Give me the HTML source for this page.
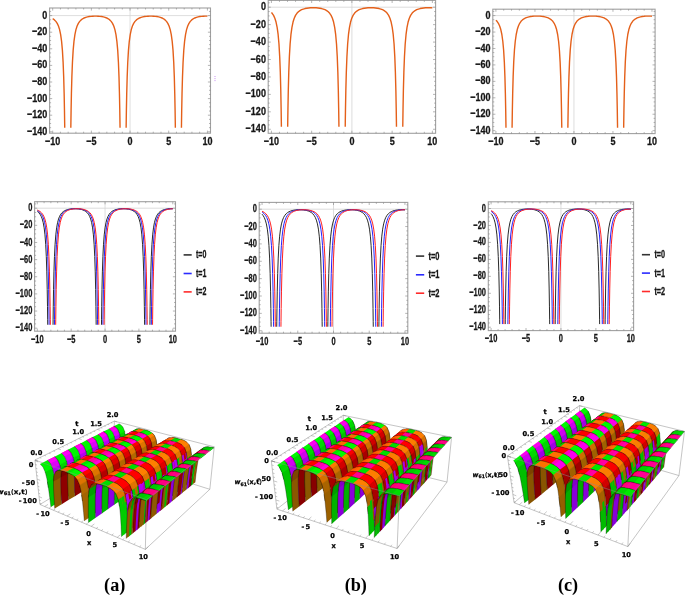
<!DOCTYPE html>
<html><head><meta charset="utf-8"><title>figure</title>
<style>html,body{margin:0;padding:0;background:#fff}svg{display:block}</style></head>
<body><svg width="685" height="595" viewBox="0 0 685 595" font-family="'Liberation Sans',sans-serif" font-weight="bold">
<rect width="685" height="595" fill="#fff"/>
<style>.m{fill:none;stroke:#000;stroke-opacity:.6;stroke-width:.5}</style>
<path d="M114.87,459.56L209.83,489.3 M114.87,459.56L39.93,504.47 M114.87,459.56L114.28,421.11 M39.93,504.47L145.34,549.38 M145.34,549.38L209.83,489.3 M209.83,489.3L214.23,446.8" fill="none" stroke="#8a8a8a" stroke-width="0.5"/>
<g stroke-linejoin="round">
<path d="M113.8,426.3l2,1.1 2,2.3 1.7,4.2 .1,.5 5.1-2.6-.1-.6-1.7-4.1-2-2.2-2-1.2Z" fill="#00f600"/>
<path d="M118.9,423.7l2,1.2 2,2.2 1.7,4.1 .1,.6" class="m"/>
<path d="M119.5,433.9l.1,.5 .9,5.3 .3,2.5 .4,5.2 5-2.7-.4-5.2-.3-2.5-.8-5.2-.1-.6Z" fill="#00d500"/>
<path d="M124.6,431.2l.1,.6 .8,5.2 .3,2.5 .4,5.2" class="m"/>
<path d="M120.8,442.2l.4,5.2 .4,8.2 .1,1.3 .3,7.3 4.8-3-.2-7.2 0-1.2-.4-8.1-.4-5.2Z" fill="#00c800"/>
<path d="M125.8,439.5l.4,5.2 .4,8.1 0,1.2 .2,7.2" class="m"/>
<path d="M125.5,465.3l.2-7.2 0-1.2 .4-8.1 .4-5 .2-2.4 .9-4.8 5-2.7-.9,4.8-.3,2.3-.4,5-.4,8 0,1.2-.3,7.1Z" fill="#8e5a00"/>
<path d="M130.3,462.3l.3-7.1 0-1.2 .4-8 .4-5 .3-2.3 .9-4.8" class="m"/>
<path d="M126.7,441.4l.9-4.8 .1-.5 1.7-3.3 5-2.7-1.7,3.3-.1,.5-.9,4.8Z" fill="#7e4500"/>
<path d="M131.7,438.7l.9-4.8 .1-.5 1.7-3.3" class="m"/>
<path d="M129.4,432.8l2.1-1.2 5-2.6-2.1,1.1Z" fill="#ff3c00"/>
<path d="M134.4,430.1l2.1-1.1" class="m"/>
<path d="M129.4,432.8l2.1-1.2 2.5-.2 5-2.6-2.5,.2-2.1,1.1Z" fill="#00a900"/>
<path d="M134.4,430.1l2.1-1.1 2.5-.2" class="m"/>
<path d="M131.5,431.6l2.5-.2 2.6,.4 5-2.7-2.6-.3-2.5,.2Z" fill="#00c100"/>
<path d="M136.5,429l2.5-.2 2.6,.3" class="m"/>
<path d="M134,431.4l2.6,.4 2.8,.6 2.8,.8 4.9-2.7-2.8-.8-2.7-.6-2.6-.3Z" fill="#ff6a00"/>
<path d="M139,428.8l2.6,.3 2.7,.6 2.8,.8" class="m"/>
<path d="M139.4,432.4l2.8,.8 2.7,1.1 4.9-2.7-2.7-1.1-2.8-.8Z" fill="#00e300"/>
<path d="M144.3,429.7l2.8,.8 2.7,1.1" class="m"/>
<path d="M142.2,433.2l2.7,1.1 2.5,1.5 2.2,2.4 4.8-2.8-2.1-2.3-2.5-1.5-2.7-1.1Z" fill="#00fa00"/>
<path d="M147.1,430.5l2.7,1.1 2.5,1.5 2.1,2.3" class="m"/>
<path d="M147.4,435.8l2.2,2.4 1.7,4.3 4.8-2.8-1.7-4.3-2.1-2.3Z" fill="#ff7d00"/>
<path d="M152.3,433.1l2.1,2.3 1.7,4.3" class="m"/>
<path d="M149.6,438.2l1.7,4.3 .1,.6 4.8-2.9-.1-.5-1.7-4.3Z" fill="#de7400"/>
<path d="M154.4,435.4l1.7,4.3 .1,.5" class="m"/>
<path d="M151.3,442.5l.1,.6 .8,5.5 4.8-3-.8-5.4-.1-.5Z" fill="#c86f00"/>
<path d="M156.1,439.7l.1,.5 .8,5.4" class="m"/>
<path d="M151.4,443.1l.8,5.5 .2,2.6 .2,5.4 4.8-3-.2-5.4-.2-2.6-.8-5.4Z" fill="#b26900"/>
<path d="M156.2,440.2l.8,5.4 .2,2.6 .2,5.4" class="m"/>
<path d="M152.4,451.2l.2,5.4 .2,8.5 0,1.3 0,7.5 4.6-3.2 .1-7.4 0-1.3-.1-8.4-.2-5.4Z" fill="#a46400"/>
<path d="M157.2,448.2l.2,5.4 .1,8.4 0,1.3-.1,7.4" class="m"/>
<path d="M156.6,475.1l.5-7.4 .1-1.2 .7-8.3 .7-5.3 .3-2.4 4.8-3-.4,2.4-.7,5.2-.7,8.2-.1,1.3-.5,7.3Z" fill="#00b800"/>
<path d="M161.3,471.9l.5-7.3 .1-1.3 .7-8.2 .7-5.2 .4-2.4" class="m"/>
<path d="M158.6,452.9l.3-2.4 1.2-5 .2-.5 4.7-2.9-.2,.5-1.1,4.9-.4,2.4Z" fill="#009f00"/>
<path d="M163.3,449.9l.4-2.4 1.1-4.9 .2-.5" class="m"/>
<path d="M160.1,445.5l.2-.5 2-3.4 4.8-2.9-2.1,3.4-.2,.5Z" fill="#7a3e00"/>
<path d="M164.8,442.6l.2-.5 2.1-3.4" class="m"/>
<path d="M162.3,441.6l2.4-1.2 4.7-2.9-2.3,1.2Z" fill="#ff3c00"/>
<path d="M167.1,438.7l2.3-1.2" class="m"/>
<path d="M162.3,441.6l2.4-1.2 2.7-.1 2.9,.4 4.7-3-2.9-.3-2.7,.1-2.3,1.2Z" fill="#ff5b00"/>
<path d="M167.1,438.7l2.3-1.2 2.7-.1 2.9,.3" class="m"/>
<path d="M167.4,440.3l2.9,.4 3.1,.7 4.6-3-3-.7-2.9-.3Z" fill="#ff6700"/>
<path d="M172.1,437.4l2.9,.3 3,.7" class="m"/>
<path d="M170.3,440.7l3.1,.7 3,.9 3,1.1 4.6-3-2.9-1.1-3.1-.9-3-.7Z" fill="#0d0"/>
<path d="M175,437.7l3,.7 3.1,.9 2.9,1.1" class="m"/>
<path d="M176.4,442.3l3,1.1 2.7,1.6 4.6-3-2.7-1.6-2.9-1.1Z" fill="#ff7a00"/>
<path d="M181.1,439.3l2.9,1.1 2.7,1.6" class="m"/>
<path d="M182.5,441.4l2.7,1.6 2.3,2.5 1.7,4.5 1.5-1.1-1.7-4.5-2.3-2.4-2.7-1.6Z" fill="#ff8000"/>
<path d="M184,440.4l2.7,1.6 2.3,2.4 1.7,4.5" class="m"/>
<path d="M187.5,445.5l1.7,4.5 .1,.6 1.5-1.1-.1-.6-1.7-4.5Z" fill="#de7400"/>
<path d="M189,444.4l1.7,4.5 .1,.6" class="m"/>
<path d="M189.2,450l.1,.6 .6,5.6 1.5-1.1-.6-5.6-.1-.6Z" fill="#c86f00"/>
<path d="M190.7,448.9l.1,.6 .6,5.6" class="m"/>
<path d="M189.3,450.6l.6,5.6 .1,2.7 0,5.6 1.5-1.1 0-5.6-.1-2.7-.6-5.6Z" fill="#b26900"/>
<path d="M190.8,449.5l.6,5.6 .1,2.7 0,5.6" class="m"/>
<path d="M190,458.9l0,5.6-.2,8.7 0,1.3-.4,7.7 1.5-1.1 .3-7.7 .1-1.3 .2-8.7 0-5.6Z" fill="#00c800"/>
<path d="M191.5,457.8l0,5.6-.2,8.7-.1,1.3-.3,7.7" class="m"/>
<path d="M180.9,442.4l2.7,1.6 2.3,2.5 1.8,4.5 2-1.4-1.7-4.5-2.3-2.5-2.7-1.5Z" fill="#ff8000"/>
<path d="M185.9,446.5l1.8,4.5 .1,.6 2-1.4-.1-.6-1.7-4.5Z" fill="#de7400"/>
<path d="M187.7,451l.1,.6 .6,5.7 2-1.5-.6-5.6-.1-.6Z" fill="#c86f00"/>
<path d="M187.8,451.6l.6,5.7 .1,2.7 2-1.5-.1-2.7-.6-5.6Z" fill="#b76a00"/>
<path d="M188.4,457.3l.1,2.7 .1,5.6-.2,8.7-.1,1.4-.3,7.7 1.9-1.6 .4-7.7 0-1.3 .3-8.7-.1-5.6-.1-2.7Z" fill="#00ca00"/>
<path d="M179.4,443.4l2.7,1.6 2.3,2.5 1.7,4.6 2.1-1.4-1.7-4.6-2.3-2.4-2.7-1.6Z" fill="#ff8000"/>
<path d="M184.4,447.5l1.7,4.6 .2,.6 2-1.5-.1-.5-1.7-4.6Z" fill="#de7400"/>
<path d="M186.1,452.1l.2,.6 .6,5.6 2-1.4-.6-5.7-.1-.5Z" fill="#c86f00"/>
<path d="M186.3,452.7l.6,5.6 .1,2.8 2-1.5-.1-2.7-.6-5.7Z" fill="#b76a00"/>
<path d="M186.9,458.3l.1,2.8 .1,5.6-.2,8.8-.1,1.3-.3,7.8 2-1.6 .3-7.7 .1-1.4 .2-8.7-.1-5.6-.1-2.7Z" fill="#00ca00"/>
<path d="M198.4,451.3l2.7-1.2 4.5-3.2-2.7,1.2Z" fill="#070"/>
<path d="M202.9,448.1l2.7-1.2" class="m"/>
<path d="M198.4,451.3l2.7-1.2 3.1-.1 4.3-3.2-2.9,.1-2.7,1.2Z" fill="#00a900"/>
<path d="M202.9,448.1l2.7-1.2 2.9-.1" class="m"/>
<path d="M201.1,450.1l3.1-.1 3.2,.5 2.5,.5 4.2-3.2-2.4-.6-3.2-.4-2.9,.1Z" fill="#00c800"/>
<path d="M205.6,446.9l2.9-.1 3.2,.4 2.4,.6" class="m"/>
<path d="M207.4,450.5l2.5,.5 4.2-3.2-2.4-.6Z" fill="#00d800"/>
<path d="M211.7,447.2l2.4,.6" class="m"/>
<path d="M193.6,483.5l.9-7.5 .2-1.4 1.1-8.5 1-5.3 .5-2.6 1.5-5.1 1.5-1-1.5,5.1-.6,2.5-.9,5.3-1.2,8.5-.2,1.3-.8,7.6Z" fill="#8e5a00"/>
<path d="M195.1,482.4l.8-7.6 .2-1.3 1.2-8.5 .9-5.3 .6-2.5 1.5-5.1" class="m"/>
<path d="M197.3,458.2l1.5-5.1 .2-.5 2.4-3.5 1.5-1-2.4,3.5-.2,.5-1.5,5.1Z" fill="#7e4500"/>
<path d="M198.8,457.2l1.5-5.1 .2-.5 2.4-3.5" class="m"/>
<path d="M192.2,484.7l.9-7.6 .1-1.3 1.2-8.5 .9-5.4 .5-2.6 1.5-5.1 2-1.4-1.5,5.1-.5,2.5-.9,5.4-1.2,8.4-.2,1.4-.9,7.5Z" fill="#8e5a00"/>
<path d="M195.8,459.3l1.5-5.1 .2-.5 2.4-3.5 2-1.4-2.4,3.5-.2,.5-1.5,5.1Z" fill="#7e4500"/>
<path d="M190.7,485.9l.9-7.6 .1-1.3 1.2-8.6 .9-5.4 .5-2.6 2-1.4-.5,2.5-.9,5.4-1.2,8.5-.1,1.3-.9,7.6Z" fill="#00b800"/>
<path d="M193.8,463l.5-2.6 1.5-5.1 .2-.5 2-1.5-.2,.5-1.5,5.2-.5,2.5Z" fill="#009f00"/>
<path d="M195.8,455.3l.2-.5 2.4-3.5 2-1.5-2.4,3.5-.2,.5Z" fill="#007c00"/>
<path d="M108.7,428.9l1.8,1.1 5.3-2.6-2-1.1Z" fill="#ff00b2"/>
<path d="M113.8,426.3l2,1.1" class="m"/>
<path d="M108.7,428.9l1.8,1.1 2.1,2.3 5.2-2.6-2-2.3-2-1.1Z" fill="#f0d"/>
<path d="M113.8,426.3l2,1.1 2,2.3" class="m"/>
<path d="M110.5,430l2.1,2.3 1.7,4.2 5.2-2.6-1.7-4.2-2-2.3Z" fill="#ff00f9"/>
<path d="M115.8,427.4l2,2.3 1.7,4.2" class="m"/>
<path d="M112.6,432.3l1.7,4.2 .1,.6 5.2-2.7-.1-.5-1.7-4.2Z" fill="#de00f8"/>
<path d="M117.8,429.7l1.7,4.2 .1,.5" class="m"/>
<path d="M114.3,436.5l.1,.6 1,5.3 5.1-2.7-.9-5.3-.1-.5Z" fill="#c800f5"/>
<path d="M119.5,433.9l.1,.5 .9,5.3" class="m"/>
<path d="M114.4,437.1l1,5.3 .3,2.6 .4,5.3 5.1-2.9-.4-5.2-.3-2.5-.9-5.3Z" fill="#b200f1"/>
<path d="M119.6,434.4l.9,5.3 .3,2.5 .4,5.2" class="m"/>
<path d="M115.7,445l.4,5.3 .5,8.3 .1,1.2 .3,7.4 5-3-.3-7.3-.1-1.3-.4-8.2-.4-5.2Z" fill="#a400ed"/>
<path d="M120.8,442.2l.4,5.2 .4,8.2 .1,1.3 .3,7.3" class="m"/>
<path d="M120.5,468.3l.1-7.2 .1-1.3 .3-8.1 .3-5.1 .3-2.4 .8-4.9 5.2-2.7-.9,4.8-.2,2.4-.4,5-.4,8.1 0,1.2-.2,7.2Z" fill="#8e0000"/>
<path d="M125.5,465.3l.2-7.2 0-1.2 .4-8.1 .4-5 .2-2.4 .9-4.8" class="m"/>
<path d="M121.6,444.2l.8-4.9 .2-.5 1.7-3.3 5.1-2.7-1.7,3.3-.1,.5-.9,4.8Z" fill="#7e0000"/>
<path d="M126.7,441.4l.9-4.8 .1-.5 1.7-3.3" class="m"/>
<path d="M124.3,435.5l2.1-1.2 5.1-2.7-2.1,1.2Z" fill="#f00"/>
<path d="M129.4,432.8l2.1-1.2" class="m"/>
<path d="M124.3,435.5l2.1-1.2 2.4-.1 5.2-2.8-2.5,.2-2.1,1.2Z" fill="#ff0057"/>
<path d="M129.4,432.8l2.1-1.2 2.5-.2" class="m"/>
<path d="M126.4,434.3l2.4-.1 2.7,.3 5.1-2.7-2.6-.4-2.5,.2Z" fill="#ff006c"/>
<path d="M131.5,431.6l2.5-.2 2.6,.4" class="m"/>
<path d="M128.8,434.2l2.7,.3 2.8,.7 2.8,.8 5.1-2.8-2.8-.8-2.8-.6-2.6-.4Z" fill="#f00"/>
<path d="M134,431.4l2.6,.4 2.8,.6 2.8,.8" class="m"/>
<path d="M134.3,435.2l2.8,.8 2.7,1.1 5.1-2.8-2.7-1.1-2.8-.8Z" fill="#ff0098"/>
<path d="M139.4,432.4l2.8,.8 2.7,1.1" class="m"/>
<path d="M137.1,436l2.7,1.1 2.5,1.6 5.1-2.9-2.5-1.5-2.7-1.1Z" fill="#ff00b2"/>
<path d="M142.2,433.2l2.7,1.1 2.5,1.5" class="m"/>
<path d="M139.8,437.1l2.5,1.6 2.2,2.4 5.1-2.9-2.2-2.4-2.5-1.5Z" fill="#f0d"/>
<path d="M144.9,434.3l2.5,1.5 2.2,2.4" class="m"/>
<path d="M142.3,438.7l2.2,2.4 1.8,4.4 5-3-1.7-4.3-2.2-2.4Z" fill="#f00"/>
<path d="M147.4,435.8l2.2,2.4 1.7,4.3" class="m"/>
<path d="M144.5,441.1l1.8,4.4 .1,.6 5-3-.1-.6-1.7-4.3Z" fill="#de0000"/>
<path d="M149.6,438.2l1.7,4.3 .1,.6" class="m"/>
<path d="M146.3,445.5l.1,.6 .8,5.5 5-3-.8-5.5-.1-.6Z" fill="#c80000"/>
<path d="M151.3,442.5l.1,.6 .8,5.5" class="m"/>
<path d="M146.4,446.1l.8,5.5 .3,2.6 .2,5.5 4.9-3.1-.2-5.4-.2-2.6-.8-5.5Z" fill="#b20000"/>
<path d="M151.4,443.1l.8,5.5 .2,2.6 .2,5.4" class="m"/>
<path d="M147.5,454.2l.2,5.5 .3,8.6 0,1.3 0,7.6 4.8-3.3 0-7.5 0-1.3-.2-8.5-.2-5.4Z" fill="#a40000"/>
<path d="M152.4,451.2l.2,5.4 .2,8.5 0,1.3 0,7.5" class="m"/>
<path d="M151.9,478.5l.4-7.5 .1-1.3 .7-8.4 .6-5.3 .4-2.4 1.1-5.1 4.9-3-1.2,5-.3,2.4-.7,5.3-.7,8.3-.1,1.2-.5,7.4Z" fill="#8e00e3"/>
<path d="M156.6,475.1l.5-7.4 .1-1.2 .7-8.3 .7-5.3 .3-2.4 1.2-5" class="m"/>
<path d="M154.1,453.6l1.1-5.1 .2-.5 4.9-3-.2,.5-1.2,5Z" fill="#8200cd"/>
<path d="M158.9,450.5l1.2-5 .2-.5" class="m"/>
<path d="M155.2,448.5l.2-.5 2-3.4 4.9-3-2,3.4-.2,.5Z" fill="#7a0000"/>
<path d="M160.1,445.5l.2-.5 2-3.4" class="m"/>
<path d="M157.4,444.6l2.4-1.2 2.7-.1 3,.4 3,.7 4.9-3-3.1-.7-2.9-.4-2.7,.1-2.4,1.2Z" fill="#f00"/>
<path d="M162.3,441.6l2.4-1.2 2.7-.1 2.9,.4 3.1,.7" class="m"/>
<path d="M165.5,443.7l3,.7 3.1,.9 3,1.2 4.8-3.1-3-1.1-3-.9-3.1-.7Z" fill="#ff0090"/>
<path d="M170.3,440.7l3.1,.7 3,.9 3,1.1" class="m"/>
<path d="M171.6,445.3l3,1.2 2.8,1.7 4.7-3.2-2.7-1.6-3-1.1Z" fill="#f00"/>
<path d="M176.4,442.3l3,1.1 2.7,1.6" class="m"/>
<path d="M177.8,444.5l2.7,1.6 2.4,2.5 1.7,4.5 1.5-1-1.7-4.6-2.3-2.5-2.7-1.6Z" fill="#f00"/>
<path d="M179.4,443.4l2.7,1.6 2.3,2.5 1.7,4.6" class="m"/>
<path d="M182.9,448.6l1.7,4.5 .1,.6 1.6-1-.2-.6-1.7-4.6Z" fill="#de0000"/>
<path d="M184.4,447.5l1.7,4.6 .2,.6" class="m"/>
<path d="M184.6,453.1l.1,.6 .7,5.7 1.5-1.1-.6-5.6-.2-.6Z" fill="#c80000"/>
<path d="M186.1,452.1l.2,.6 .6,5.6" class="m"/>
<path d="M184.7,453.7l.7,5.7 .1,2.8 0,5.6 1.6-1.1-.1-5.6-.1-2.8-.6-5.6Z" fill="#b200f1"/>
<path d="M186.3,452.7l.6,5.6 .1,2.8 .1,5.6" class="m"/>
<path d="M185.5,462.2l0,5.6-.1,8.8-.1,1.4-.3,7.8 1.5-1.2 .3-7.8 .1-1.3 .2-8.8-.1-5.6Z" fill="#a400ed"/>
<path d="M187,461.1l.1,5.6-.2,8.8-.1,1.3-.3,7.8" class="m"/>
<path d="M176.2,445.5l2.8,1.6 2.3,2.5 1.7,4.6 2.1-1.4-1.7-4.6-2.3-2.5-2.7-1.6Z" fill="#f00"/>
<path d="M181.3,449.6l1.7,4.6 .2,.6 2.1-1.4-.2-.6-1.7-4.6Z" fill="#de0000"/>
<path d="M183,454.2l.2,.6 .6,5.7 2.1-1.4-.6-5.7-.2-.6Z" fill="#c80000"/>
<path d="M183.2,454.8l.6,5.7 .1,2.8 2.1-1.5-.1-2.7-.6-5.7Z" fill="#b70000"/>
<path d="M183.8,460.5l.1,2.8 .1,5.7-.1,8.8-.1,1.4-.3,7.8 2.1-1.6 .3-7.8 0-1.4 .2-8.8-.1-5.6-.1-2.7Z" fill="#a700ee"/>
<path d="M174.6,446.5l2.8,1.7 2.3,2.5 1.8,4.6 2.1-1.4-1.8-4.6-2.3-2.6-2.7-1.6Z" fill="#f00"/>
<path d="M179.7,450.7l1.8,4.6 .1,.6 2.1-1.5-.1-.5-1.8-4.6Z" fill="#de0000"/>
<path d="M181.5,455.3l.1,.6 .7,5.8 2.1-1.5-.7-5.8-.1-.5Z" fill="#c80000"/>
<path d="M181.6,455.9l.7,5.8 .1,2.7 .1,5.7 2.1-1.5-.1-5.7-.1-2.7-.7-5.8Z" fill="#b200f1"/>
<path d="M182.4,464.4l.1,5.7-.2,8.9 0,1.4-.3,7.8 2.1-1.6 .3-7.8 0-1.4 .2-8.8-.1-5.7Z" fill="#a400ed"/>
<path d="M193.9,454.6l2.7-1.2 4.5-3.3-2.7,1.2Z" fill="#ff0042"/>
<path d="M198.4,451.3l2.7-1.2" class="m"/>
<path d="M193.9,454.6l2.7-1.2 3-.1 4.6-3.3-3.1,.1-2.7,1.2Z" fill="#ff0057"/>
<path d="M198.4,451.3l2.7-1.2 3.1-.1" class="m"/>
<path d="M196.6,453.4l3-.1 3.3,.5 4.5-3.3-3.2-.5-3.1,.1Z" fill="#ff006c"/>
<path d="M201.1,450.1l3.1-.1 3.2,.5" class="m"/>
<path d="M199.6,453.3l3.3,.5 2.7,.6 4.3-3.4-2.5-.5-3.2-.5Z" fill="#ff0082"/>
<path d="M204.2,450l3.2,.5 2.5,.5" class="m"/>
<path d="M189.3,487.1l.8-7.6 1.5-1.2-.9,7.6Z" fill="#9500e8"/>
<path d="M190.7,485.9l.9-7.6" class="m"/>
<path d="M189.3,487.1l.8-7.6 .2-1.4 1.1-8.6 .9-5.4 .5-2.5 1.5-5.2 1.5-1.1-1.5,5.1-.5,2.6-.9,5.4-1.2,8.6-.1,1.3-.9,7.6Z" fill="#8d0000"/>
<path d="M190.7,485.9l.9-7.6 .1-1.3 1.2-8.6 .9-5.4 .5-2.6 1.5-5.1" class="m"/>
<path d="M192.8,461.6l1.5-5.2 .2-.5 2.4-3.5 1.5-1.1-2.4,3.5-.2,.5-1.5,5.1Z" fill="#7e0000"/>
<path d="M194.3,460.4l1.5-5.1 .2-.5 2.4-3.5" class="m"/>
<path d="M187.8,488.4l.8-7.7 .2-1.4 1.1-8.6 .9-5.4 .5-2.6 1.5-5.2 2-1.5-1.4,5.2-.6,2.5-.9,5.4-1.1,8.6-.2,1.4-.8,7.6Z" fill="#8e0000"/>
<path d="M191.3,462.7l1.5-5.2 .2-.5 2.4-3.5 2.1-1.5-2.5,3.5-.2,.5-1.4,5.2Z" fill="#7e0000"/>
<path d="M186.3,489.6l.8-7.7 .1-1.4 1.2-8.6 .9-5.5 .5-2.6 1.4-5.2 2.1-1.5-1.5,5.2-.5,2.6-.9,5.4-1.1,8.6-.2,1.3-.8,7.7Z" fill="#8e00e3"/>
<path d="M189.8,463.8l1.4-5.2 .3-.5 2-1.5-.2,.5-1.5,5.2Z" fill="#8200cd"/>
<path d="M191.2,458.6l.3-.5 2.4-3.5 2-1.5-2.4,3.5-.2,.5Z" fill="#7a00b4"/>
<path d="M103.4,431.6l1.7,1.1 2.1,2.3 1.7,4.3 .2,.6 5.3-2.8-.1-.6-1.7-4.2-2.1-2.3-1.8-1.1Z" fill="#00f600"/>
<path d="M108.7,428.9l1.8,1.1 2.1,2.3 1.7,4.2 .1,.6" class="m"/>
<path d="M108.9,439.3l.2,.6 .9,5.4 .4,2.5 .4,5.4 5.3-2.9-.4-5.3-.3-2.6-1-5.3-.1-.6Z" fill="#00d500"/>
<path d="M114.3,436.5l.1,.6 1,5.3 .3,2.6 .4,5.3" class="m"/>
<path d="M110.4,447.8l.4,5.4 .6,8.4 .1,1.3 .3,7.4 5.2-3.1-.3-7.4-.1-1.2-.5-8.3-.4-5.3Z" fill="#00c800"/>
<path d="M115.7,445l.4,5.3 .5,8.3 .1,1.2 .3,7.4" class="m"/>
<path d="M115.4,471.5l.1-7.3 0-1.3 .3-8.2 .3-5.2 .2-2.4 .8-4.9 5.3-2.9-.8,4.9-.3,2.4-.3,5.1-.3,8.1-.1,1.3-.1,7.2Z" fill="#8e5a00"/>
<path d="M120.5,468.3l.1-7.2 .1-1.3 .3-8.1 .3-5.1 .3-2.4 .8-4.9" class="m"/>
<path d="M116.3,447.1l.8-4.9 .2-.5 1.6-3.4 5.4-2.8-1.7,3.3-.2,.5-.8,4.9Z" fill="#7e4500"/>
<path d="M121.6,444.2l.8-4.9 .2-.5 1.7-3.3" class="m"/>
<path d="M118.9,438.3l2.2-1.2 5.3-2.8-2.1,1.2Z" fill="#ff3c00"/>
<path d="M124.3,435.5l2.1-1.2" class="m"/>
<path d="M118.9,438.3l2.2-1.2 2.4-.1 5.3-2.8-2.4,.1-2.1,1.2Z" fill="#00a900"/>
<path d="M124.3,435.5l2.1-1.2 2.4-.1" class="m"/>
<path d="M121.1,437.1l2.4-.1 2.7,.3 5.3-2.8-2.7-.3-2.4,.1Z" fill="#00c100"/>
<path d="M126.4,434.3l2.4-.1 2.7,.3" class="m"/>
<path d="M123.5,437l2.7,.3 2.8,.7 2.9,.9 5.2-2.9-2.8-.8-2.8-.7-2.7-.3Z" fill="#ff6a00"/>
<path d="M128.8,434.2l2.7,.3 2.8,.7 2.8,.8" class="m"/>
<path d="M129,438l2.9,.9 2.7,1.1 5.2-2.9-2.7-1.1-2.8-.8Z" fill="#00e300"/>
<path d="M134.3,435.2l2.8,.8 2.7,1.1" class="m"/>
<path d="M131.9,438.9l2.7,1.1 2.6,1.6 2.2,2.4 5.1-2.9-2.2-2.4-2.5-1.6-2.7-1.1Z" fill="#00fa00"/>
<path d="M137.1,436l2.7,1.1 2.5,1.6 2.2,2.4" class="m"/>
<path d="M137.2,441.6l2.2,2.4 1.8,4.5 5.1-3-1.8-4.4-2.2-2.4Z" fill="#ff7d00"/>
<path d="M142.3,438.7l2.2,2.4 1.8,4.4" class="m"/>
<path d="M139.4,444l1.8,4.5 .1,.6 5.1-3-.1-.6-1.8-4.4Z" fill="#de7400"/>
<path d="M144.5,441.1l1.8,4.4 .1,.6" class="m"/>
<path d="M141.2,448.5l.1,.6 .9,5.6 5-3.1-.8-5.5-.1-.6Z" fill="#c86f00"/>
<path d="M146.3,445.5l.1,.6 .8,5.5" class="m"/>
<path d="M141.3,449.1l.9,5.6 .2,2.7 .3,5.5 5-3.2-.2-5.5-.3-2.6-.8-5.5Z" fill="#b26900"/>
<path d="M146.4,446.1l.8,5.5 .3,2.6 .2,5.5" class="m"/>
<path d="M142.4,457.4l.3,5.5 .3,8.7 0,1.3 .1,7.7 4.9-3.4 0-7.6 0-1.3-.3-8.6-.2-5.5Z" fill="#a46400"/>
<path d="M147.5,454.2l.2,5.5 .3,8.6 0,1.3 0,7.6" class="m"/>
<path d="M147,481.9l.4-7.5 .1-1.4 .6-8.4 .6-5.4 .3-2.5 5.1-3.1-.4,2.4-.6,5.3-.7,8.4-.1,1.3-.4,7.5Z" fill="#00b800"/>
<path d="M151.9,478.5l.4-7.5 .1-1.3 .7-8.4 .6-5.3 .4-2.4" class="m"/>
<path d="M148.7,459.2l.3-2.5 1.1-5.1 .2-.5 5.1-3.1-.2,.5-1.1,5.1-.4,2.4Z" fill="#009f00"/>
<path d="M153.7,456l.4-2.4 1.1-5.1 .2-.5" class="m"/>
<path d="M150.1,451.6l.2-.5 2-3.4 5.1-3.1-2,3.4-.2,.5Z" fill="#7a3e00"/>
<path d="M155.2,448.5l.2-.5 2-3.4" class="m"/>
<path d="M152.3,447.7l2.4-1.2 5.1-3.1-2.4,1.2Z" fill="#ff3c00"/>
<path d="M157.4,444.6l2.4-1.2" class="m"/>
<path d="M152.3,447.7l2.4-1.2 2.8-.1 2.9,.4 5.1-3.1-3-.4-2.7,.1-2.4,1.2Z" fill="#ff5b00"/>
<path d="M157.4,444.6l2.4-1.2 2.7-.1 3,.4" class="m"/>
<path d="M157.5,446.4l2.9,.4 3.1,.7 5-3.1-3-.7-3-.4Z" fill="#ff6700"/>
<path d="M162.5,443.3l3,.4 3,.7" class="m"/>
<path d="M160.4,446.8l3.1,.7 3.2,1 3,1.2 4.9-3.2-3-1.2-3.1-.9-3-.7Z" fill="#0d0"/>
<path d="M165.5,443.7l3,.7 3.1,.9 3,1.2" class="m"/>
<path d="M166.7,448.5l3,1.2 2.8,1.7 4.9-3.2-2.8-1.7-3-1.2Z" fill="#ff7a00"/>
<path d="M171.6,445.3l3,1.2 2.8,1.7" class="m"/>
<path d="M173,447.6l2.7,1.6 2.4,2.6 1.8,4.6 1.6-1.1-1.8-4.6-2.3-2.5-2.8-1.7Z" fill="#ff8000"/>
<path d="M174.6,446.5l2.8,1.7 2.3,2.5 1.8,4.6" class="m"/>
<path d="M178.1,451.8l1.8,4.6 .1,.6 1.6-1.1-.1-.6-1.8-4.6Z" fill="#de7400"/>
<path d="M179.7,450.7l1.8,4.6 .1,.6" class="m"/>
<path d="M179.9,456.4l.1,.6 .7,5.8 1.6-1.1-.7-5.8-.1-.6Z" fill="#c86f00"/>
<path d="M181.5,455.3l.1,.6 .7,5.8" class="m"/>
<path d="M180,457l.7,5.8 .1,2.7 .1,5.8 1.6-1.2-.1-5.7-.1-2.7-.7-5.8Z" fill="#b26900"/>
<path d="M181.6,455.9l.7,5.8 .1,2.7 .1,5.7" class="m"/>
<path d="M180.8,465.5l.1,5.8-.1,8.9-.1,1.4-.2,7.8 1.5-1.2 .3-7.8 0-1.4 .2-8.9-.1-5.7Z" fill="#00c800"/>
<path d="M182.4,464.4l.1,5.7-.2,8.9 0,1.4-.3,7.8" class="m"/>
<path d="M171.3,448.7l2.8,1.6 2.4,2.6 1.8,4.6 2.1-1.5-1.7-4.6-2.4-2.5-2.7-1.7Z" fill="#ff8000"/>
<path d="M176.5,452.9l1.8,4.6 .1,.6 2.2-1.5-.2-.6-1.7-4.6Z" fill="#de7400"/>
<path d="M178.3,457.5l.1,.6 .7,5.8 2.1-1.5-.6-5.8-.2-.6Z" fill="#c86f00"/>
<path d="M178.4,458.1l.7,5.8 .1,2.8 2.2-1.6-.2-2.7-.6-5.8Z" fill="#b76a00"/>
<path d="M179.1,463.9l.1,2.8 .1,5.8-.1,8.9 0,1.4-.3,7.9 2.1-1.7 .3-7.8 0-1.4 .2-8.9-.1-5.8-.2-2.7Z" fill="#00ca00"/>
<path d="M169.7,449.7l2.8,1.7 2.3,2.6 1.8,4.7 2.2-1.6-1.8-4.6-2.3-2.6-2.8-1.6Z" fill="#ff8000"/>
<path d="M174.8,454l1.8,4.7 .2,.6 2.2-1.5-.2-.7-1.8-4.6Z" fill="#de7400"/>
<path d="M176.6,458.7l.2,.6 .7,5.8 2.1-1.6-.6-5.7-.2-.7Z" fill="#c86f00"/>
<path d="M176.8,459.3l.7,5.8 .1,2.8 .1,5.7-.1,9 0,1.4-.2,7.9 2.1-1.6 .2-7.9 .1-1.4 .1-9-.1-5.7-.2-2.8-.6-5.7Z" fill="#0c0"/>
<path d="M189.1,458l2.8-1.2 4.7-3.4-2.7,1.2Z" fill="#070"/>
<path d="M193.9,454.6l2.7-1.2" class="m"/>
<path d="M189.1,458l2.8-1.2 3-.1 4.7-3.4-3,.1-2.7,1.2Z" fill="#00a900"/>
<path d="M193.9,454.6l2.7-1.2 3-.1" class="m"/>
<path d="M191.9,456.8l3-.1 3.3,.5 3,.7 4.4-3.5-2.7-.6-3.3-.5-3,.1Z" fill="#00c800"/>
<path d="M196.6,453.4l3-.1 3.3,.5 2.7,.6" class="m"/>
<path d="M198.2,457.2l3,.7 4.4-3.5-2.7-.6Z" fill="#00d800"/>
<path d="M202.9,453.8l2.7,.6" class="m"/>
<path d="M184.7,490.8l.9-7.7 .1-1.4 1.1-8.6 .9-5.5 .5-2.6 1.5-5.2 1.5-1.2-1.4,5.2-.5,2.6-.9,5.5-1.2,8.6-.1,1.4-.8,7.7Z" fill="#8e5a00"/>
<path d="M186.3,489.6l.8-7.7 .1-1.4 1.2-8.6 .9-5.5 .5-2.6 1.4-5.2" class="m"/>
<path d="M188.2,465l1.5-5.2 .2-.6 2.4-3.5 1.6-1.1-2.4,3.5-.3,.5-1.4,5.2Z" fill="#7e4500"/>
<path d="M189.8,463.8l1.4-5.2 .3-.5 2.4-3.5" class="m"/>
<path d="M183.2,492.1l.8-7.8 .2-1.3 1.1-8.7 .8-5.6 .5-2.6 1.5-5.2 2.1-1.5-1.4,5.2-.6,2.6-.8,5.4-1.1,8.7-.2,1.4-.8,7.7Z" fill="#8e5a00"/>
<path d="M186.6,466.1l1.5-5.2 .2-.5 2.4-3.6 2.2-1.5-2.5,3.5-.2,.6-1.4,5.2Z" fill="#7e4500"/>
<path d="M181.7,493.4l.8-7.8 .1-1.4 1.1-8.7 .8-5.6 .6-2.6 1.4-5.2 2.2-1.6-1.5,5.2-.5,2.6-.9,5.5-1.1,8.7-.1,1.4-.9,7.7Z" fill="#8e5a00"/>
<path d="M185.1,467.3l1.4-5.2 .2-.6 2.4-3.5 2.2-1.6-2.4,3.6-.2,.5-1.5,5.2Z" fill="#7e4500"/>
<path d="M97.9,434.4l1.6,1 5.6-2.7-1.7-1.1Z" fill="#ff00b2"/>
<path d="M103.4,431.6l1.7,1.1" class="m"/>
<path d="M97.9,434.4l1.6,1 2.1,2.4 5.6-2.8-2.1-2.3-1.7-1.1Z" fill="#f0d"/>
<path d="M103.4,431.6l1.7,1.1 2.1,2.3" class="m"/>
<path d="M99.5,435.4l2.1,2.4 1.8,4.3 5.5-2.8-1.7-4.3-2.1-2.3Z" fill="#ff00f9"/>
<path d="M105.1,432.7l2.1,2.3 1.7,4.3" class="m"/>
<path d="M101.6,437.8l1.8,4.3 .2,.6 5.5-2.8-.2-.6-1.7-4.3Z" fill="#de00f8"/>
<path d="M107.2,435l1.7,4.3 .2,.6" class="m"/>
<path d="M103.4,442.1l.2,.6 1,5.5 5.4-2.9-.9-5.4-.2-.6Z" fill="#c800f5"/>
<path d="M108.9,439.3l.2,.6 .9,5.4" class="m"/>
<path d="M103.6,442.7l1,5.5 .3,2.6 .5,5.4 5.4-3-.4-5.4-.4-2.5-.9-5.4Z" fill="#b200f1"/>
<path d="M109.1,439.9l.9,5.4 .4,2.5 .4,5.4" class="m"/>
<path d="M104.9,450.8l.5,5.4 .6,8.5 .1,1.3 .4,7.5 5.3-3.2-.3-7.4-.1-1.3-.6-8.4-.4-5.4Z" fill="#a400ed"/>
<path d="M110.4,447.8l.4,5.4 .6,8.4 .1,1.3 .3,7.4" class="m"/>
<path d="M110.1,474.7l.1-7.4 0-1.3 .2-8.2 .3-5.3 .2-2.4 .8-5 5.4-2.9-.8,4.9-.2,2.4-.3,5.2-.3,8.2 0,1.3-.1,7.3Z" fill="#8e0000"/>
<path d="M115.4,471.5l.1-7.3 0-1.3 .3-8.2 .3-5.2 .2-2.4 .8-4.9" class="m"/>
<path d="M110.9,450.1l.8-5 .1-.5 1.7-3.4 5.4-2.9-1.6,3.4-.2,.5-.8,4.9Z" fill="#7e0000"/>
<path d="M116.3,447.1l.8-4.9 .2-.5 1.6-3.4" class="m"/>
<path d="M113.5,441.2l2.1-1.2 5.5-2.9-2.2,1.2Z" fill="#f00"/>
<path d="M118.9,438.3l2.2-1.2" class="m"/>
<path d="M113.5,441.2l2.1-1.2 2.4-.1 5.5-2.9-2.4,.1-2.2,1.2Z" fill="#ff0057"/>
<path d="M118.9,438.3l2.2-1.2 2.4-.1" class="m"/>
<path d="M115.6,440l2.4-.1 2.8,.4 5.4-3-2.7-.3-2.4,.1Z" fill="#ff006c"/>
<path d="M121.1,437.1l2.4-.1 2.7,.3" class="m"/>
<path d="M118,439.9l2.8,.4 2.8,.7 2.8,.9 5.5-3-2.9-.9-2.8-.7-2.7-.3Z" fill="#f00"/>
<path d="M123.5,437l2.7,.3 2.8,.7 2.9,.9" class="m"/>
<path d="M123.6,441l2.8,.9 2.8,1.1 5.4-3-2.7-1.1-2.9-.9Z" fill="#ff0098"/>
<path d="M129,438l2.9,.9 2.7,1.1" class="m"/>
<path d="M126.4,441.9l2.8,1.1 2.6,1.6 5.4-3-2.6-1.6-2.7-1.1Z" fill="#ff00b2"/>
<path d="M131.9,438.9l2.7,1.1 2.6,1.6" class="m"/>
<path d="M129.2,443l2.6,1.6 2.2,2.5 5.4-3.1-2.2-2.4-2.6-1.6Z" fill="#f0d"/>
<path d="M134.6,440l2.6,1.6 2.2,2.4" class="m"/>
<path d="M131.8,444.6l2.2,2.5 1.9,4.5 5.3-3.1-1.8-4.5-2.2-2.4Z" fill="#f00"/>
<path d="M137.2,441.6l2.2,2.4 1.8,4.5" class="m"/>
<path d="M134,447.1l1.9,4.5 .1,.6 5.3-3.1-.1-.6-1.8-4.5Z" fill="#de0000"/>
<path d="M139.4,444l1.8,4.5 .1,.6" class="m"/>
<path d="M135.9,451.6l.1,.6 .9,5.7 5.3-3.2-.9-5.6-.1-.6Z" fill="#c80000"/>
<path d="M141.2,448.5l.1,.6 .9,5.6" class="m"/>
<path d="M136,452.2l.9,5.7 .3,2.7 .3,5.6 5.2-3.3-.3-5.5-.2-2.7-.9-5.6Z" fill="#b20000"/>
<path d="M141.3,449.1l.9,5.6 .2,2.7 .3,5.5" class="m"/>
<path d="M137.2,460.6l.3,5.6 .3,8.8 .1,1.4 .1,7.7 5.1-3.5-.1-7.7 0-1.3-.3-8.7-.3-5.5Z" fill="#a40000"/>
<path d="M142.4,457.4l.3,5.5 .3,8.7 0,1.3 .1,7.7" class="m"/>
<path d="M141.9,485.4l.4-7.6 .1-1.3 .6-8.6 .5-5.4 .3-2.5 1.1-5.1 5.2-3.3-1.1,5.1-.3,2.5-.6,5.4-.6,8.4-.1,1.4-.4,7.5Z" fill="#8e00e3"/>
<path d="M147,481.9l.4-7.5 .1-1.4 .6-8.4 .6-5.4 .3-2.5 1.1-5.1" class="m"/>
<path d="M143.8,460l1.1-5.1 .2-.6 5.2-3.2-.2,.5-1.1,5.1Z" fill="#8200ce"/>
<path d="M149,456.7l1.1-5.1 .2-.5" class="m"/>
<path d="M144.9,454.9l.2-.6 2-3.5 5.2-3.1-2,3.4-.2,.5Z" fill="#7a0000"/>
<path d="M150.1,451.6l.2-.5 2-3.4" class="m"/>
<path d="M147.1,450.8l2.4-1.1 2.8-.1 3,.4 3.1,.8 5.1-3.3-3.1-.7-2.9-.4-2.8,.1-2.4,1.2Z" fill="#f00"/>
<path d="M152.3,447.7l2.4-1.2 2.8-.1 2.9,.4 3.1,.7" class="m"/>
<path d="M155.3,450l3.1,.8 3.2,1 3,1.2 5.1-3.3-3-1.2-3.2-1-3.1-.7Z" fill="#ff0090"/>
<path d="M160.4,446.8l3.1,.7 3.2,1 3,1.2" class="m"/>
<path d="M161.6,451.8l3,1.2 2.8,1.7 5.1-3.3-2.8-1.7-3-1.2Z" fill="#f00"/>
<path d="M166.7,448.5l3,1.2 2.8,1.7" class="m"/>
<path d="M168,450.8l2.8,1.7 2.4,2.6 1.8,4.7 1.6-1.1-1.8-4.7-2.3-2.6-2.8-1.7Z" fill="#f00"/>
<path d="M169.7,449.7l2.8,1.7 2.3,2.6 1.8,4.7" class="m"/>
<path d="M173.2,455.1l1.8,4.7 .1,.6 1.7-1.1-.2-.6-1.8-4.7Z" fill="#de0000"/>
<path d="M174.8,454l1.8,4.7 .2,.6" class="m"/>
<path d="M175,459.8l.1,.6 .7,5.9 1.7-1.2-.7-5.8-.2-.6Z" fill="#c80000"/>
<path d="M176.6,458.7l.2,.6 .7,5.8" class="m"/>
<path d="M175.1,460.4l.7,5.9 .2,2.7 .1,5.8 1.6-1.2-.1-5.7-.1-2.8-.7-5.8Z" fill="#b200f1"/>
<path d="M176.8,459.3l.7,5.8 .1,2.8 .1,5.7" class="m"/>
<path d="M176,469l.1,5.8-.1,9.1 0,1.4-.2,7.9 1.6-1.3 .2-7.9 0-1.4 .1-9-.1-5.7Z" fill="#a400ed"/>
<path d="M177.6,467.9l.1,5.7-.1,9 0,1.4-.2,7.9" class="m"/>
<path d="M166.3,451.9l2.8,1.7 2.4,2.6 1.8,4.8 2.3-1.6-1.8-4.7-2.4-2.6-2.8-1.6Z" fill="#f00"/>
<path d="M171.5,456.2l1.8,4.8 .2,.6 2.2-1.6-.1-.6-1.8-4.7Z" fill="#de0000"/>
<path d="M173.3,461l.2,.6 .7,5.8 2.2-1.6-.7-5.8-.1-.6Z" fill="#c800f5"/>
<path d="M173.5,461.6l.7,5.8 .2,2.8 .1,5.9 2.2-1.7-.1-5.8-.2-2.8-.7-5.8Z" fill="#b200f1"/>
<path d="M174.4,470.2l.1,5.9-.1,9 0,1.4-.2,8 2.1-1.7 .3-8 0-1.4 .1-9-.1-5.8Z" fill="#a400ed"/>
<path d="M164.6,453l2.8,1.7 2.4,2.7 1.9,4.7 2.2-1.6-1.8-4.7-2.4-2.6-2.8-1.7Z" fill="#f00"/>
<path d="M169.8,457.4l1.9,4.7 .1,.6 2.2-1.5-.1-.7-1.8-4.7Z" fill="#de0000"/>
<path d="M171.7,462.1l.1,.6 .7,5.9 2.3-1.6-.8-5.8-.1-.7Z" fill="#c80000"/>
<path d="M171.8,462.7l.7,5.9 .2,2.8 .1,5.9 2.3-1.7-.2-5.8-.1-2.8-.8-5.8Z" fill="#b200f1"/>
<path d="M172.7,471.4l.1,5.9 0,9.1 0,1.4-.2,8 2.2-1.8 .2-7.9 0-1.4 .1-9.1-.2-5.8Z" fill="#a400ed"/>
<path d="M184.3,461.5l2.7-1.2 4.9-3.5-2.8,1.2Z" fill="#ff0042"/>
<path d="M189.1,458l2.8-1.2" class="m"/>
<path d="M184.3,461.5l2.7-1.2 3.1,0 4.8-3.6-3,.1-2.8,1.2Z" fill="#ff0057"/>
<path d="M189.1,458l2.8-1.2 3-.1" class="m"/>
<path d="M187,460.3l3.1,0 3.3,.5 4.8-3.6-3.3-.5-3,.1Z" fill="#ff006c"/>
<path d="M191.9,456.8l3-.1 3.3,.5" class="m"/>
<path d="M190.1,460.3l3.3,.5 3.1,.8 4.7-3.7-3-.7-3.3-.5Z" fill="#ff0082"/>
<path d="M194.9,456.7l3.3,.5 3,.7" class="m"/>
<path d="M180.1,494.6l.8-7.8 .1-1.3 1.1-8.8 .8-5.6 .6-2.6 1.4-5.3 1.6-1.1-1.4,5.2-.6,2.6-.8,5.6-1.1,8.7-.1,1.4-.8,7.8Z" fill="#8e00e3"/>
<path d="M181.7,493.4l.8-7.8 .1-1.4 1.1-8.7 .8-5.6 .6-2.6 1.4-5.2" class="m"/>
<path d="M183.5,468.5l1.4-5.3 .2-.5 1.6-1.2-.2,.6-1.4,5.2Z" fill="#8200cd"/>
<path d="M185.1,467.3l1.4-5.2 .2-.6" class="m"/>
<path d="M184.9,463.2l.2-.5 2.4-3.6 1.6-1.1-2.4,3.5-.2,.6Z" fill="#7a00b4"/>
<path d="M186.5,462.1l.2-.6 2.4-3.5" class="m"/>
<path d="M178.5,495.9l.8-7.8 .1-1.4 1.1-8.8 .8-5.6 .5-2.6 1.5-5.3 2.2-1.6-1.5,5.3-.5,2.6-.9,5.5-1,8.8-.2,1.4-.8,7.8Z" fill="#8e0000"/>
<path d="M181.8,469.7l1.5-5.3 .2-.5 2.4-3.6 2.2-1.6-2.4,3.6-.2,.5-1.5,5.3Z" fill="#7e0000"/>
<path d="M176.9,497.3l.8-7.9 .1-1.4 1-8.8 .9-5.6 .5-2.7 1.4-5.3 2.2-1.6-1.4,5.3-.5,2.6-.9,5.6-1,8.8-.2,1.3-.7,7.9Z" fill="#8e0000"/>
<path d="M180.2,470.9l1.4-5.3 .2-.5 2.5-3.6 2.2-1.6-2.4,3.6-.3,.5-1.4,5.3Z" fill="#7e0000"/>
<path d="M92.2,437.3l1.5,1 2.2,2.4 1.8,4.4 .2,.6 5.7-3-.2-.6-1.8-4.3-2.1-2.4-1.6-1Z" fill="#00f600"/>
<path d="M97.9,434.4l1.6,1 2.1,2.4 1.8,4.3 .2,.6" class="m"/>
<path d="M97.7,445.1l.2,.6 1,5.5 .4,2.6 .5,5.5 5.6-3.1-.5-5.4-.3-2.6-1-5.5-.2-.6Z" fill="#00d500"/>
<path d="M103.4,442.1l.2,.6 1,5.5 .3,2.6 .5,5.4" class="m"/>
<path d="M99.3,453.8l.5,5.5 .7,8.6 .1,1.3 .5,7.6 5.4-3.3-.4-7.5-.1-1.3-.6-8.5-.5-5.4Z" fill="#00c800"/>
<path d="M104.9,450.8l.5,5.4 .6,8.5 .1,1.3 .4,7.5" class="m"/>
<path d="M104.7,478l0-7.4 0-1.3 .1-8.4 .3-5.3 .2-2.5 .7-5 5.7-3-.8,5-.2,2.4-.3,5.3-.2,8.2 0,1.3-.1,7.4Z" fill="#8e5b00"/>
<path d="M110.1,474.7l.1-7.4 0-1.3 .2-8.2 .3-5.3 .2-2.4 .8-5" class="m"/>
<path d="M105.3,453.1l.7-5 .2-.5 1.6-3.4 5.7-3-1.7,3.4-.1,.5-.8,5Z" fill="#7e4500"/>
<path d="M110.9,450.1l.8-5 .1-.5 1.7-3.4" class="m"/>
<path d="M107.8,444.2l2.1-1.2 5.7-3-2.1,1.2Z" fill="#ff3c00"/>
<path d="M113.5,441.2l2.1-1.2" class="m"/>
<path d="M107.8,444.2l2.1-1.2 2.5-.1 5.6-3-2.4,.1-2.1,1.2Z" fill="#00a900"/>
<path d="M113.5,441.2l2.1-1.2 2.4-.1" class="m"/>
<path d="M109.9,443l2.5-.1 2.7,.4 5.7-3-2.8-.4-2.4,.1Z" fill="#00c100"/>
<path d="M115.6,440l2.4-.1 2.8,.4" class="m"/>
<path d="M112.4,442.9l2.7,.4 2.9,.7 2.9,.9 5.5-3-2.8-.9-2.8-.7-2.8-.4Z" fill="#ff6a00"/>
<path d="M118,439.9l2.8,.4 2.8,.7 2.8,.9" class="m"/>
<path d="M118,444l2.9,.9 2.8,1.2 5.5-3.1-2.8-1.1-2.8-.9Z" fill="#00e300"/>
<path d="M123.6,441l2.8,.9 2.8,1.1" class="m"/>
<path d="M120.9,444.9l2.8,1.2 2.6,1.6 2.2,2.6 5.5-3.2-2.2-2.5-2.6-1.6-2.8-1.1Z" fill="#00fa00"/>
<path d="M126.4,441.9l2.8,1.1 2.6,1.6 2.2,2.5" class="m"/>
<path d="M126.3,447.7l2.2,2.6 1.9,4.6 5.5-3.3-1.9-4.5-2.2-2.5Z" fill="#ff7d00"/>
<path d="M131.8,444.6l2.2,2.5 1.9,4.5" class="m"/>
<path d="M128.5,450.3l1.9,4.6 .2,.6 5.4-3.3-.1-.6-1.9-4.5Z" fill="#de7400"/>
<path d="M134,447.1l1.9,4.5 .1,.6" class="m"/>
<path d="M130.4,454.9l.2,.6 .9,5.7 5.4-3.3-.9-5.7-.1-.6Z" fill="#c86f00"/>
<path d="M135.9,451.6l.1,.6 .9,5.7" class="m"/>
<path d="M130.6,455.5l.9,5.7 .3,2.7 .4,5.7 5.3-3.4-.3-5.6-.3-2.7-.9-5.7Z" fill="#b26900"/>
<path d="M136,452.2l.9,5.7 .3,2.7 .3,5.6" class="m"/>
<path d="M131.8,463.9l.4,5.7 .3,8.9 .1,1.4 .2,7.8 5.2-3.6-.1-7.7-.1-1.4-.3-8.8-.3-5.6Z" fill="#a46400"/>
<path d="M137.2,460.6l.3,5.6 .3,8.8 .1,1.4 .1,7.7" class="m"/>
<path d="M136.7,489.1l.4-7.7 0-1.4 .6-8.6 .5-5.5 .3-2.5 5.3-3.4-.3,2.5-.5,5.4-.6,8.6-.1,1.3-.4,7.6Z" fill="#00b800"/>
<path d="M141.9,485.4l.4-7.6 .1-1.3 .6-8.6 .5-5.4 .3-2.5" class="m"/>
<path d="M138.2,465.9l.3-2.5 1-5.2 .2-.5 5.4-3.4-.2,.6-1.1,5.1-.3,2.5Z" fill="#009f00"/>
<path d="M143.5,462.5l.3-2.5 1.1-5.1 .2-.6" class="m"/>
<path d="M139.5,458.2l.2-.5 2-3.6 5.4-3.3-2,3.5-.2,.6Z" fill="#7a3e00"/>
<path d="M144.9,454.9l.2-.6 2-3.5" class="m"/>
<path d="M141.7,454.1l2.4-1.2 5.4-3.2-2.4,1.1Z" fill="#ff3c00"/>
<path d="M147.1,450.8l2.4-1.1" class="m"/>
<path d="M141.7,454.1l2.4-1.2 2.8-.1 3,.5 5.4-3.3-3-.4-2.8,.1-2.4,1.1Z" fill="#ff5b00"/>
<path d="M147.1,450.8l2.4-1.1 2.8-.1 3,.4" class="m"/>
<path d="M146.9,452.8l3,.5 3.2,.8 5.3-3.3-3.1-.8-3-.4Z" fill="#ff6700"/>
<path d="M152.3,449.6l3,.4 3.1,.8" class="m"/>
<path d="M149.9,453.3l3.2,.8 3.2,1.1 3,1.3 5.3-3.5-3-1.2-3.2-1-3.1-.8Z" fill="#0d0"/>
<path d="M155.3,450l3.1,.8 3.2,1 3,1.2" class="m"/>
<path d="M156.3,455.2l3,1.3 2.9,1.7 5.2-3.5-2.8-1.7-3-1.2Z" fill="#ff7a00"/>
<path d="M161.6,451.8l3,1.2 2.8,1.7" class="m"/>
<path d="M162.9,454.2l2.8,1.7 2.4,2.6 1.9,4.8 1.7-1.2-1.9-4.7-2.4-2.7-2.8-1.7Z" fill="#ff8000"/>
<path d="M164.6,453l2.8,1.7 2.4,2.7 1.9,4.7" class="m"/>
<path d="M168.1,458.5l1.9,4.8 .1,.6 1.7-1.2-.1-.6-1.9-4.7Z" fill="#de7400"/>
<path d="M169.8,457.4l1.9,4.7 .1,.6" class="m"/>
<path d="M170,463.3l.1,.6 .7,5.9 1.7-1.2-.7-5.9-.1-.6Z" fill="#c86f00"/>
<path d="M171.7,462.1l.1,.6 .7,5.9" class="m"/>
<path d="M170.1,463.9l.7,5.9 .2,2.9 .2,5.8 0,9.1-.1,1.5-.2,8 1.7-1.3 .2-8 0-1.4 0-9.1-.1-5.9-.2-2.8-.7-5.9Z" fill="#0c0"/>
<path d="M171.8,462.7l.7,5.9 .2,2.8 .1,5.9 0,9.1 0,1.4-.2,8" class="m"/>
<path d="M161.1,455.3l2.8,1.7 2.5,2.7 1.8,4.8 2.4-1.6-1.9-4.8-2.4-2.6-2.8-1.7Z" fill="#ff8000"/>
<path d="M166.4,459.7l1.8,4.8 .2,.6 2.3-1.6-.1-.6-1.9-4.8Z" fill="#de7400"/>
<path d="M168.2,464.5l.2,.6 .7,5.9 .2,2.9 .2,5.9 2.3-1.7-.2-5.9-.2-2.8-.7-5.9-.1-.6Z" fill="#00d500"/>
<path d="M169.3,473.9l.2,5.9 0,9.1 0,1.4-.2,8.1 2.2-1.8 .2-8 0-1.4 .1-9.1-.2-5.9Z" fill="#00c800"/>
<path d="M159.3,456.5l2.9,1.7 2.4,2.6 1.9,4.9 2.3-1.6-1.8-4.8-2.5-2.7-2.8-1.7Z" fill="#ff8000"/>
<path d="M164.6,460.8l1.9,4.9 .1,.6 2.4-1.6-.2-.6-1.8-4.8Z" fill="#de7400"/>
<path d="M166.5,465.7l.1,.6 .8,6 2.3-1.7-.7-5.9-.2-.6Z" fill="#c86f00"/>
<path d="M166.6,466.3l.8,6 .2,2.8 .2,5.9 0,9.2 0,1.5-.2,8.1 2.3-1.8 .2-8.1 0-1.4 0-9.2-.2-5.9-.2-2.8-.7-5.9Z" fill="#0c0"/>
<path d="M179.2,465.1l2.8-1.2 5-3.6-2.7,1.2Z" fill="#070"/>
<path d="M184.3,461.5l2.7-1.2" class="m"/>
<path d="M179.2,465.1l2.8-1.2 3.1,0 5-3.6-3.1,0-2.7,1.2Z" fill="#00a900"/>
<path d="M184.3,461.5l2.7-1.2 3.1,0" class="m"/>
<path d="M182,463.9l3.1,0 3.4,.6 3.3,.8 4.7-3.7-3.1-.8-3.3-.5-3.1,0Z" fill="#00c800"/>
<path d="M187,460.3l3.1,0 3.3,.5 3.1,.8" class="m"/>
<path d="M188.5,464.5l3.3,.8 4.7-3.7-3.1-.8Z" fill="#00d800"/>
<path d="M193.4,460.8l3.1,.8" class="m"/>
<path d="M175.3,498.6l.7-7.9 .2-1.4 1-8.9 .8-5.6 .5-2.6 1.5-5.4 1.6-1.2-1.4,5.3-.5,2.7-.9,5.6-1,8.8-.1,1.4-.8,7.9Z" fill="#8e5a00"/>
<path d="M176.9,497.3l.8-7.9 .1-1.4 1-8.8 .9-5.6 .5-2.7 1.4-5.3" class="m"/>
<path d="M178.5,472.2l1.5-5.4 .2-.5 2.4-3.6 1.7-1.2-2.5,3.6-.2,.5-1.4,5.3Z" fill="#7e4500"/>
<path d="M180.2,470.9l1.4-5.3 .2-.5 2.5-3.6" class="m"/>
<path d="M173.7,499.9l.7-7.9 .1-1.4 1-8.9 .9-5.6 .5-2.7 1.4-5.3 2.3-1.7-1.5,5.3-.5,2.7-.8,5.6-1.1,8.8-.1,1.4-.7,7.9Z" fill="#8e5b00"/>
<path d="M176.9,473.4l1.4-5.3 .2-.6 2.4-3.6 2.3-1.6-2.4,3.6-.2,.5-1.5,5.3Z" fill="#7e4500"/>
<path d="M172,501.3l.7-8 .2-1.4 1-8.9 .8-5.7 .5-2.6 1.4-5.4 2.3-1.7-1.5,5.4-.4,2.6-.9,5.6-1,8.9-.1,1.4-.8,7.9Z" fill="#8e5b00"/>
<path d="M175.2,474.7l1.4-5.4 .2-.5 2.4-3.7 2.3-1.6-2.4,3.6-.2,.5-1.5,5.4Z" fill="#7e4500"/>
<path d="M86.4,440.3l1.4,.9 5.9-2.9-1.5-1Z" fill="#ff00b2"/>
<path d="M92.2,437.3l1.5,1" class="m"/>
<path d="M86.4,440.3l1.4,.9 2.2,2.4 5.9-2.9-2.2-2.4-1.5-1Z" fill="#f0d"/>
<path d="M92.2,437.3l1.5,1 2.2,2.4" class="m"/>
<path d="M87.8,441.2l2.2,2.4 1.9,4.5 5.8-3-1.8-4.4-2.2-2.4Z" fill="#ff00f9"/>
<path d="M93.7,438.3l2.2,2.4 1.8,4.4" class="m"/>
<path d="M90,443.6l1.9,4.5 .1,.6 5.9-3-.2-.6-1.8-4.4Z" fill="#de00f8"/>
<path d="M95.9,440.7l1.8,4.4 .2,.6" class="m"/>
<path d="M91.9,448.1l.1,.6 1.1,5.6 5.8-3.1-1-5.5-.2-.6Z" fill="#c800f5"/>
<path d="M97.7,445.1l.2,.6 1,5.5" class="m"/>
<path d="M92,448.7l1.1,5.6 .4,2.6 .6,5.6 5.7-3.2-.5-5.5-.4-2.6-1-5.5Z" fill="#b200f1"/>
<path d="M97.9,445.7l1,5.5 .4,2.6 .5,5.5" class="m"/>
<path d="M93.5,456.9l.6,5.6 .7,8.7 .1,1.3 .5,7.6 5.7-3.3-.5-7.6-.1-1.3-.7-8.6-.5-5.5Z" fill="#a400ed"/>
<path d="M99.3,453.8l.5,5.5 .7,8.6 .1,1.3 .5,7.6" class="m"/>
<path d="M99.1,481.4l-.1-7.5 0-1.3 .1-8.5 .2-5.3 .2-2.5 .7-5.1 5.8-3.1-.7,5-.2,2.5-.3,5.3-.1,8.4 0,1.3 0,7.4Z" fill="#8e0000"/>
<path d="M104.7,478l0-7.4 0-1.3 .1-8.4 .3-5.3 .2-2.5 .7-5" class="m"/>
<path d="M99.5,456.3l.7-5.1 .1-.5 1.7-3.5 5.8-3-1.6,3.4-.2,.5-.7,5Z" fill="#7e0000"/>
<path d="M105.3,453.1l.7-5 .2-.5 1.6-3.4" class="m"/>
<path d="M102,447.2l2.1-1.2 5.8-3-2.1,1.2Z" fill="#f00"/>
<path d="M107.8,444.2l2.1-1.2" class="m"/>
<path d="M102,447.2l2.1-1.2 2.5-.1 5.8-3-2.5,.1-2.1,1.2Z" fill="#ff0057"/>
<path d="M107.8,444.2l2.1-1.2 2.5-.1" class="m"/>
<path d="M104.1,446l2.5-.1 2.7,.5 5.8-3.1-2.7-.4-2.5,.1Z" fill="#ff006c"/>
<path d="M109.9,443l2.5-.1 2.7,.4" class="m"/>
<path d="M106.6,445.9l2.7,.5 2.9,.7 2.9,1 5.8-3.2-2.9-.9-2.9-.7-2.7-.4Z" fill="#f00"/>
<path d="M112.4,442.9l2.7,.4 2.9,.7 2.9,.9" class="m"/>
<path d="M112.2,447.1l2.9,1 2.8,1.2 5.8-3.2-2.8-1.2-2.9-.9Z" fill="#ff0098"/>
<path d="M118,444l2.9,.9 2.8,1.2" class="m"/>
<path d="M115.1,448.1l2.8,1.2 2.7,1.6 5.7-3.2-2.6-1.6-2.8-1.2Z" fill="#ff00b2"/>
<path d="M120.9,444.9l2.8,1.2 2.6,1.6" class="m"/>
<path d="M117.9,449.3l2.7,1.6 2.3,2.6 5.6-3.2-2.2-2.6-2.6-1.6Z" fill="#f0d"/>
<path d="M123.7,446.1l2.6,1.6 2.2,2.6" class="m"/>
<path d="M120.6,450.9l2.3,2.6 1.9,4.7 5.6-3.3-1.9-4.6-2.2-2.6Z" fill="#f00"/>
<path d="M126.3,447.7l2.2,2.6 1.9,4.6" class="m"/>
<path d="M122.9,453.5l1.9,4.7 .1,.6 5.7-3.3-.2-.6-1.9-4.6Z" fill="#de0000"/>
<path d="M128.5,450.3l1.9,4.6 .2,.6" class="m"/>
<path d="M124.8,458.2l.1,.6 1,5.8 5.6-3.4-.9-5.7-.2-.6Z" fill="#c80000"/>
<path d="M130.4,454.9l.2,.6 .9,5.7" class="m"/>
<path d="M124.9,458.8l1,5.8 .3,2.8 .4,5.7 5.6-3.5-.4-5.7-.3-2.7-.9-5.7Z" fill="#b20000"/>
<path d="M130.6,455.5l.9,5.7 .3,2.7 .4,5.7" class="m"/>
<path d="M126.2,467.4l.4,5.7 .5,9 0,1.4 .3,7.9 5.4-3.7-.2-7.8-.1-1.4-.3-8.9-.4-5.7Z" fill="#a40000"/>
<path d="M131.8,463.9l.4,5.7 .3,8.9 .1,1.4 .2,7.8" class="m"/>
<path d="M131.4,492.8l.2-7.8 .1-1.3 .5-8.7 .4-5.6 .4-2.6 1-5.2 5.5-3.4-1,5.2-.3,2.5-.5,5.5-.6,8.6 0,1.4-.4,7.7Z" fill="#8e00e3"/>
<path d="M136.7,489.1l.4-7.7 0-1.4 .6-8.6 .5-5.5 .3-2.5 1-5.2" class="m"/>
<path d="M133,466.8l1-5.2 .1-.5 5.6-3.4-.2,.5-1,5.2Z" fill="#8200ce"/>
<path d="M138.5,463.4l1-5.2 .2-.5" class="m"/>
<path d="M134,461.6l.1-.5 2-3.6 5.6-3.4-2,3.6-.2,.5Z" fill="#7a0000"/>
<path d="M139.5,458.2l.2-.5 2-3.6" class="m"/>
<path d="M136.1,457.5l2.5-1.2 2.8,0 3,.4 3.2,.9 5.5-3.5-3.2-.8-3-.5-2.8,.1-2.4,1.2Z" fill="#f00"/>
<path d="M141.7,454.1l2.4-1.2 2.8-.1 3,.5 3.2,.8" class="m"/>
<path d="M144.4,456.7l3.2,.9 3.2,1 3.1,1.4 5.4-3.5-3-1.3-3.2-1.1-3.2-.8Z" fill="#ff0090"/>
<path d="M149.9,453.3l3.2,.8 3.2,1.1 3,1.3" class="m"/>
<path d="M150.8,458.6l3.1,1.4 2.9,1.7 5.4-3.5-2.9-1.7-3-1.3Z" fill="#f00"/>
<path d="M156.3,455.2l3,1.3 2.9,1.7" class="m"/>
<path d="M157.6,457.6l2.8,1.8 2.4,2.6 1.9,4.9 1.8-1.2-1.9-4.9-2.4-2.6-2.9-1.7Z" fill="#f00"/>
<path d="M159.3,456.5l2.9,1.7 2.4,2.6 1.9,4.9" class="m"/>
<path d="M162.8,462l1.9,4.9 .2,.6 1.7-1.2-.1-.6-1.9-4.9Z" fill="#de0000"/>
<path d="M164.6,460.8l1.9,4.9 .1,.6" class="m"/>
<path d="M164.7,466.9l.2,.6 .8,6 1.7-1.2-.8-6-.1-.6Z" fill="#c800f5"/>
<path d="M166.5,465.7l.1,.6 .8,6" class="m"/>
<path d="M164.9,467.5l.8,6 .2,2.9 .2,5.9 1.7-1.3-.2-5.9-.2-2.8-.8-6Z" fill="#b200f1"/>
<path d="M166.6,466.3l.8,6 .2,2.8 .2,5.9" class="m"/>
<path d="M165.9,476.4l.2,5.9 0,9.2 0,1.5-.2,8.1 1.7-1.3 .2-8.1 0-1.5 0-9.2-.2-5.9Z" fill="#a400ed"/>
<path d="M167.6,475.1l.2,5.9 0,9.2 0,1.5-.2,8.1" class="m"/>
<path d="M155.7,458.8l2.9,1.7 2.5,2.7 1.9,4.9 2.4-1.6-1.9-4.9-2.5-2.7-2.8-1.7Z" fill="#f00"/>
<path d="M161.1,463.2l1.9,4.9 .1,.7 2.4-1.7-.1-.6-1.9-4.9Z" fill="#de0000"/>
<path d="M163,468.1l.1,.7 .8,6 2.4-1.7-.8-6-.1-.6Z" fill="#c80000"/>
<path d="M163.1,468.8l.8,6 .2,2.8 .2,6 2.4-1.7-.2-6-.2-2.8-.8-6Z" fill="#b20000"/>
<path d="M164.1,477.6l.2,6 .1,9.3 0,1.4-.2,8.2 2.3-1.9 .2-8.1 0-1.4 0-9.2-.2-6Z" fill="#a400ed"/>
<path d="M153.9,460l2.9,1.7 2.4,2.8 2,4.9 2.4-1.7-1.9-4.9-2.5-2.7-2.8-1.7Z" fill="#f00"/>
<path d="M159.2,464.5l2,4.9 .1,.6 2.4-1.7-.1-.6-1.9-4.9Z" fill="#de0000"/>
<path d="M161.2,469.4l.1,.6 .8,6 2.4-1.7-.8-6-.1-.6Z" fill="#c80000"/>
<path d="M161.3,470l.8,6 .2,2.9 2.4-1.7-.2-2.9-.8-6Z" fill="#b70000"/>
<path d="M162.1,476l.2,2.9 .3,6 0,9.3 0,1.5-.1,8.2 2.3-1.9 .2-8.2 0-1.4-.1-9.2-.2-6-.2-2.9Z" fill="#a700ee"/>
<path d="M174,468.9l2.8-1.2 5.2-3.8-2.8,1.2Z" fill="#ff0042"/>
<path d="M179.2,465.1l2.8-1.2" class="m"/>
<path d="M174,468.9l2.8-1.2 3.1,0 5.2-3.8-3.1,0-2.8,1.2Z" fill="#ff0057"/>
<path d="M179.2,465.1l2.8-1.2 3.1,0" class="m"/>
<path d="M176.8,467.7l3.1,0 3.4,.6 5.2-3.8-3.4-.6-3.1,0Z" fill="#ff006c"/>
<path d="M182,463.9l3.1,0 3.4,.6" class="m"/>
<path d="M179.9,467.7l3.4,.6 3.5,.9 5-3.9-3.3-.8-3.4-.6Z" fill="#ff0082"/>
<path d="M185.1,463.9l3.4,.6 3.3,.8" class="m"/>
<path d="M170.3,502.6l.7-8 .2-1.4 1-8.9 .8-5.7 .4-2.7 1.5-5.4 1.7-1.2-1.4,5.4-.5,2.6-.8,5.7-1,8.9-.2,1.4-.7,8Z" fill="#8e00e3"/>
<path d="M172,501.3l.7-8 .2-1.4 1-8.9 .8-5.7 .5-2.6 1.4-5.4" class="m"/>
<path d="M173.4,475.9l1.5-5.4 .2-.5 1.7-1.2-.2,.5-1.4,5.4Z" fill="#8200ce"/>
<path d="M175.2,474.7l1.4-5.4 .2-.5" class="m"/>
<path d="M174.9,470.5l.2-.5 2.4-3.6 1.7-1.3-2.4,3.7-.2,.5Z" fill="#7a00b4"/>
<path d="M176.6,469.3l.2-.5 2.4-3.7" class="m"/>
<path d="M168.6,504l.7-8 .2-1.4 .9-9 .8-5.7 .5-2.7 1.4-5.4 2.4-1.7-1.5,5.4-.4,2.7-.9,5.6-.9,9-.2,1.4-.7,8Z" fill="#8e00e3"/>
<path d="M171.7,477.2l1.4-5.4 .2-.5 2.4-1.7-.2,.5-1.5,5.4Z" fill="#8200ce"/>
<path d="M173.1,471.8l.2-.5 2.4-3.7 2.4-1.7-2.4,3.7-.2,.5Z" fill="#7a00b4"/>
<path d="M166.9,505.4l.7-8 .1-1.4 1-9.1 .8-5.7 .5-2.7 1.4-5.4 2.3-1.7-1.4,5.4-.5,2.6-.8,5.7-.9,9-.2,1.4-.7,8Z" fill="#8e0000"/>
<path d="M170,478.5l1.4-5.4 .2-.6 2.4-3.6 2.3-1.7-2.4,3.6-.2,.6-1.4,5.4Z" fill="#7e0000"/>
<path d="M80.4,443.4l1.3,.8 2.2,2.5 1.9,4.5 .2,.6 6-3.1-.1-.6-1.9-4.5-2.2-2.4-1.4-.9Z" fill="#00f600"/>
<path d="M86.4,440.3l1.4,.9 2.2,2.4 1.9,4.5 .1,.6" class="m"/>
<path d="M85.8,451.2l.2,.6 1.1,5.7 .4,2.7 .7,5.6 5.9-3.3-.6-5.6-.4-2.6-1.1-5.6-.1-.6Z" fill="#00d500"/>
<path d="M91.9,448.1l.1,.6 1.1,5.6 .4,2.6 .6,5.6" class="m"/>
<path d="M87.5,460.2l.7,5.6 .8,8.7 .1,1.4 .6,7.7 5.7-3.5-.5-7.6-.1-1.3-.7-8.7-.6-5.6Z" fill="#00c900"/>
<path d="M93.5,456.9l.6,5.6 .7,8.7 .1,1.3 .5,7.6" class="m"/>
<path d="M93.3,484.9l-.1-7.6 0-1.3 0-8.5 .2-5.4 .2-2.6 .6-5.1 6-3.2-.7,5.1-.2,2.5-.2,5.3-.1,8.5 0,1.3 .1,7.5Z" fill="#8e5b00"/>
<path d="M99.1,481.4l-.1-7.5 0-1.3 .1-8.5 .2-5.3 .2-2.5 .7-5.1" class="m"/>
<path d="M93.6,459.5l.6-5.1 .2-.5 1.6-3.5 6-3.2-1.7,3.5-.1,.5-.7,5.1Z" fill="#7e4500"/>
<path d="M99.5,456.3l.7-5.1 .1-.5 1.7-3.5" class="m"/>
<path d="M96,450.4l2.1-1.2 6-3.2-2.1,1.2Z" fill="#ff3c00"/>
<path d="M102,447.2l2.1-1.2" class="m"/>
<path d="M96,450.4l2.1-1.2 2.5-.1 6-3.2-2.5,.1-2.1,1.2Z" fill="#00a900"/>
<path d="M102,447.2l2.1-1.2 2.5-.1" class="m"/>
<path d="M98.1,449.2l2.5-.1 2.8,.5 5.9-3.2-2.7-.5-2.5,.1Z" fill="#00c100"/>
<path d="M104.1,446l2.5-.1 2.7,.5" class="m"/>
<path d="M100.6,449.1l2.8,.5 2.8,.7 3,1 5.9-3.2-2.9-1-2.9-.7-2.7-.5Z" fill="#ff6a00"/>
<path d="M106.6,445.9l2.7,.5 2.9,.7 2.9,1" class="m"/>
<path d="M106.2,450.3l3,1 2.8,1.3 5.9-3.3-2.8-1.2-2.9-1Z" fill="#00e300"/>
<path d="M112.2,447.1l2.9,1 2.8,1.2" class="m"/>
<path d="M109.2,451.3l2.8,1.3 2.7,1.7 2.3,2.6 5.9-3.4-2.3-2.6-2.7-1.6-2.8-1.2Z" fill="#00fa00"/>
<path d="M115.1,448.1l2.8,1.2 2.7,1.6 2.3,2.6" class="m"/>
<path d="M114.7,454.3l2.3,2.6 2,4.7 5.8-3.4-1.9-4.7-2.3-2.6Z" fill="#ff7d00"/>
<path d="M120.6,450.9l2.3,2.6 1.9,4.7" class="m"/>
<path d="M117,456.9l2,4.7 .1,.6 5.8-3.4-.1-.6-1.9-4.7Z" fill="#de7400"/>
<path d="M122.9,453.5l1.9,4.7 .1,.6" class="m"/>
<path d="M119,461.6l.1,.6 1,5.9 5.8-3.5-1-5.8-.1-.6Z" fill="#c86f00"/>
<path d="M124.8,458.2l.1,.6 1,5.8" class="m"/>
<path d="M119.1,462.2l1,5.9 .4,2.8 .4,5.9 5.7-3.7-.4-5.7-.3-2.8-1-5.8Z" fill="#b36900"/>
<path d="M124.9,458.8l1,5.8 .3,2.8 .4,5.7" class="m"/>
<path d="M120.5,470.9l.4,5.9 .5,9 .1,1.4 .3,8.1 5.6-3.9-.3-7.9 0-1.4-.5-9-.4-5.7Z" fill="#a46400"/>
<path d="M126.2,467.4l.4,5.7 .5,9 0,1.4 .3,7.9" class="m"/>
<path d="M125.8,496.7l.2-7.9 .1-1.3 .4-8.9 .5-5.5 .2-2.7 5.8-3.6-.4,2.6-.4,5.6-.5,8.7-.1,1.3-.2,7.8Z" fill="#00b800"/>
<path d="M131.4,492.8l.2-7.8 .1-1.3 .5-8.7 .4-5.6 .4-2.6" class="m"/>
<path d="M127,473.1l.2-2.7 1-5.3 .2-.5 5.7-3.5-.1,.5-1,5.2-.4,2.6Z" fill="#00a000"/>
<path d="M132.6,469.4l.4-2.6 1-5.2 .1-.5" class="m"/>
<path d="M128.2,465.1l.2-.5 2-3.6 5.7-3.5-2,3.6-.1,.5Z" fill="#7a3e00"/>
<path d="M134,461.6l.1-.5 2-3.6" class="m"/>
<path d="M130.4,461l2.4-1.2 5.8-3.5-2.5,1.2Z" fill="#ff3c00"/>
<path d="M136.1,457.5l2.5-1.2" class="m"/>
<path d="M130.4,461l2.4-1.2 2.8,0 3.1,.5 5.7-3.6-3-.4-2.8,0-2.5,1.2Z" fill="#ff5b00"/>
<path d="M136.1,457.5l2.5-1.2 2.8,0 3,.4" class="m"/>
<path d="M135.6,459.8l3.1,.5 3.2,.8 5.7-3.5-3.2-.9-3-.4Z" fill="#ff6700"/>
<path d="M141.4,456.3l3,.4 3.2,.9" class="m"/>
<path d="M138.7,460.3l3.2,.8 3.2,1.1 3.2,1.4 5.6-3.6-3.1-1.4-3.2-1-3.2-.9Z" fill="#0d0"/>
<path d="M144.4,456.7l3.2,.9 3.2,1 3.1,1.4" class="m"/>
<path d="M145.1,462.2l3.2,1.4 2.9,1.8 5.6-3.7-2.9-1.7-3.1-1.4Z" fill="#ff7a00"/>
<path d="M150.8,458.6l3.1,1.4 2.9,1.7" class="m"/>
<path d="M152.1,461.2l2.8,1.8 2.5,2.7 2,4.9 1.8-1.2-2-4.9-2.4-2.8-2.9-1.7Z" fill="#ff8000"/>
<path d="M153.9,460l2.9,1.7 2.4,2.8 2,4.9" class="m"/>
<path d="M157.4,465.7l2,4.9 .1,.7 1.8-1.3-.1-.6-2-4.9Z" fill="#de7400"/>
<path d="M159.2,464.5l2,4.9 .1,.6" class="m"/>
<path d="M159.4,470.6l.1,.7 .8,6 .3,2.9 .2,6 1.8-1.3-.3-6-.2-2.9-.8-6-.1-.6Z" fill="#00d500"/>
<path d="M161.2,469.4l.1,.6 .8,6 .2,2.9 .3,6" class="m"/>
<path d="M160.6,480.2l.2,6 .1,9.4 0,1.4-.1,8.2 1.7-1.3 .1-8.2 0-1.5 0-9.3-.3-6Z" fill="#00c900"/>
<path d="M162.3,478.9l.3,6 0,9.3 0,1.5-.1,8.2" class="m"/>
<path d="M150.2,462.4l2.9,1.8 2.5,2.7 1.9,5 2.5-1.7-1.9-4.9-2.5-2.8-2.9-1.7Z" fill="#ff8000"/>
<path d="M155.6,466.9l1.9,5 .2,.6 2.4-1.7-.1-.6-1.9-4.9Z" fill="#de7400"/>
<path d="M157.5,471.9l.2,.6 .8,6.1 2.5-1.7-.9-6.1-.1-.6Z" fill="#c86f00"/>
<path d="M157.7,472.5l.8,6.1 .2,2.9 .3,6.1 .1,9.4 0,1.4-.1,8.3 2.4-1.9 .1-8.3 0-1.4-.1-9.3-.2-6-.2-2.9-.9-6.1Z" fill="#0c0"/>
<path d="M148.3,463.6l2.9,1.8 2.5,2.8 2,5 2.5-1.8-2-4.9-2.5-2.7-2.9-1.8Z" fill="#ff8000"/>
<path d="M153.7,468.2l2,5 .1,.6 2.5-1.7-.1-.7-2-4.9Z" fill="#de7400"/>
<path d="M155.7,473.2l.1,.6 .9,6.1 .2,3 .3,6 2.4-1.8-.2-6-.2-2.9-.9-6.1-.1-.7Z" fill="#00d500"/>
<path d="M156.9,482.9l.3,6 .1,9.4 0,1.5-.1,8.3 2.4-1.9 .1-8.3 0-1.4-.1-9.4-.2-6Z" fill="#00c900"/>
<path d="M168.6,472.8l2.8-1.2 5.4-3.9-2.8,1.2Z" fill="#070"/>
<path d="M174,468.9l2.8-1.2" class="m"/>
<path d="M168.6,472.8l2.8-1.2 3.1,0 5.4-3.9-3.1,0-2.8,1.2Z" fill="#00a900"/>
<path d="M174,468.9l2.8-1.2 3.1,0" class="m"/>
<path d="M171.4,471.6l3.1,0 3.5,.6 3.6,1 3.5-2.7 1.7-1.3-3.5-.9-3.4-.6-3.1,0Z" fill="#00c800"/>
<path d="M176.8,467.7l3.1,0 3.4,.6 3.5,.9" class="m"/>
<path d="M178,472.2l3.6,1 .1,0 5.1-4-3.5-.9Z" fill="#00d800"/>
<path d="M183.3,468.3l3.5,.9" class="m"/>
<path d="M165.2,506.8l.7-8.1 .1-1.4 .9-9 .8-5.8 .5-2.7 1.4-5.4 1.8-1.3-1.4,5.4-.5,2.7-.8,5.7-1,9.1-.1,1.4-.7,8Z" fill="#8e5b00"/>
<path d="M166.9,505.4l.7-8 .1-1.4 1-9.1 .8-5.7 .5-2.7 1.4-5.4" class="m"/>
<path d="M168.2,479.8l1.4-5.4 .2-.6 2.4-3.6 1.8-1.3-2.4,3.6-.2,.6-1.4,5.4Z" fill="#7e4500"/>
<path d="M170,478.5l1.4-5.4 .2-.6 2.4-3.6" class="m"/>
<path d="M163.5,508.2l.6-8.1 .1-1.4 .9-9.1 .8-5.7 .5-2.8 2.4-1.7-.5,2.7-.8,5.7-.9,9.1-.1,1.4-.7,8Z" fill="#00b800"/>
<path d="M165.9,483.9l.5-2.8 1.4-5.4 2.4-1.8-1.4,5.5-.5,2.7Z" fill="#00a600"/>
<path d="M166.4,481.1l1.4-5.4 .2-.6 2.4-3.6 2.4-1.8-2.4,3.7-.2,.5-1.4,5.5Z" fill="#7e4500"/>
<path d="M161.7,509.7l.6-8.1 .1-1.5 .9-9.1 .8-5.8 .5-2.7 1.3-5.5 2.5-1.8-1.4,5.5-.5,2.7-.7,5.7-1,9.1-.1,1.4-.6,8.1Z" fill="#8e5b00"/>
<path d="M164.6,482.5l1.3-5.5 .2-.5 2.5-3.7 2.4-1.8-2.4,3.7-.2,.5-1.4,5.5Z" fill="#7e4500"/>
<path d="M74.2,446.6l1.2,.7 6.3-3.1-1.3-.8Z" fill="#ff00b2"/>
<path d="M80.4,443.4l1.3,.8" class="m"/>
<path d="M74.2,446.6l1.2,.7 2.2,2.5 6.3-3.1-2.2-2.5-1.3-.8Z" fill="#f0d"/>
<path d="M80.4,443.4l1.3,.8 2.2,2.5" class="m"/>
<path d="M75.4,447.3l2.2,2.5 2,4.6 6.2-3.2-1.9-4.5-2.2-2.5Z" fill="#ff00f9"/>
<path d="M81.7,444.2l2.2,2.5 1.9,4.5" class="m"/>
<path d="M77.6,449.8l2,4.6 .1,.6 6.3-3.2-.2-.6-1.9-4.5Z" fill="#de00f8"/>
<path d="M83.9,446.7l1.9,4.5 .2,.6" class="m"/>
<path d="M79.6,454.4l.1,.6 1.2,5.7 6.2-3.2-1.1-5.7-.2-.6Z" fill="#c800f5"/>
<path d="M85.8,451.2l.2,.6 1.1,5.7" class="m"/>
<path d="M79.7,455l1.2,5.7 .5,2.8 .7,5.7 6.1-3.4-.7-5.6-.4-2.7-1.1-5.7Z" fill="#b300f1"/>
<path d="M86,451.8l1.1,5.7 .4,2.7 .7,5.6" class="m"/>
<path d="M81.4,463.5l.7,5.7 .8,8.8 .2,1.4 .6,7.8 6-3.6-.6-7.7-.1-1.4-.8-8.7-.7-5.6Z" fill="#a400ed"/>
<path d="M87.5,460.2l.7,5.6 .8,8.7 .1,1.4 .6,7.7" class="m"/>
<path d="M87.4,488.6l-.2-7.7 0-1.4-.1-8.6 .2-5.4 .1-2.6 .7-5.2 6.1-3.3-.6,5.1-.2,2.6-.2,5.4 0,8.5 0,1.3 .1,7.6Z" fill="#8e0000"/>
<path d="M93.3,484.9l-.1-7.6 0-1.3 0-8.5 .2-5.4 .2-2.6 .6-5.1" class="m"/>
<path d="M87.4,462.9l.7-5.2 .1-.5 1.6-3.5 6.2-3.3-1.6,3.5-.2,.5-.6,5.1Z" fill="#7e0000"/>
<path d="M93.6,459.5l.6-5.1 .2-.5 1.6-3.5" class="m"/>
<path d="M89.8,453.7l2.1-1.2 6.2-3.3-2.1,1.2Z" fill="#f00"/>
<path d="M96,450.4l2.1-1.2" class="m"/>
<path d="M89.8,453.7l2.1-1.2 2.5-.1 6.2-3.3-2.5,.1-2.1,1.2Z" fill="#ff0057"/>
<path d="M96,450.4l2.1-1.2 2.5-.1" class="m"/>
<path d="M91.9,452.5l2.5-.1 2.8,.5 6.2-3.3-2.8-.5-2.5,.1Z" fill="#ff006c"/>
<path d="M98.1,449.2l2.5-.1 2.8,.5" class="m"/>
<path d="M94.4,452.4l2.8,.5 2.9,.8 2.9,1 6.2-3.4-3-1-2.8-.7-2.8-.5Z" fill="#f00"/>
<path d="M100.6,449.1l2.8,.5 2.8,.7 3,1" class="m"/>
<path d="M100.1,453.7l2.9,1 2.9,1.3 6.1-3.4-2.8-1.3-3-1Z" fill="#ff0098"/>
<path d="M106.2,450.3l3,1 2.8,1.3" class="m"/>
<path d="M103,454.7l2.9,1.3 2.7,1.7 6.1-3.4-2.7-1.7-2.8-1.3Z" fill="#ff00b2"/>
<path d="M109.2,451.3l2.8,1.3 2.7,1.7" class="m"/>
<path d="M105.9,456l2.7,1.7 2.3,2.7 6.1-3.5-2.3-2.6-2.7-1.7Z" fill="#f0d"/>
<path d="M112,452.6l2.7,1.7 2.3,2.6" class="m"/>
<path d="M108.6,457.7l2.3,2.7 2.1,4.8 6-3.6-2-4.7-2.3-2.6Z" fill="#f00"/>
<path d="M114.7,454.3l2.3,2.6 2,4.7" class="m"/>
<path d="M110.9,460.4l2.1,4.8 .1,.6 6-3.6-.1-.6-2-4.7Z" fill="#de0000"/>
<path d="M117,456.9l2,4.7 .1,.6" class="m"/>
<path d="M113,465.2l.1,.6 1.1,6 5.9-3.7-1-5.9-.1-.6Z" fill="#c80000"/>
<path d="M119,461.6l.1,.6 1,5.9" class="m"/>
<path d="M113.1,465.8l1.1,6 .3,2.8 .6,5.9 5.8-3.7-.4-5.9-.4-2.8-1-5.9Z" fill="#b30000"/>
<path d="M119.1,462.2l1,5.9 .4,2.8 .4,5.9" class="m"/>
<path d="M114.5,474.6l.6,5.9 .5,9.2 .1,1.4 .4,8.1 5.7-3.9-.3-8.1-.1-1.4-.5-9-.4-5.9Z" fill="#a40000"/>
<path d="M120.5,470.9l.4,5.9 .5,9 .1,1.4 .3,8.1" class="m"/>
<path d="M120.1,500.7l.2-8 0-1.3 .4-9 .4-5.6 .2-2.7 1-5.3 5.9-3.7-1,5.3-.2,2.7-.5,5.5-.4,8.9-.1,1.3-.2,7.9Z" fill="#8e00e3"/>
<path d="M125.8,496.7l.2-7.9 .1-1.3 .4-8.9 .5-5.5 .2-2.7 1-5.3" class="m"/>
<path d="M121.3,474.1l1-5.3 .2-.6 5.9-3.6-.2,.5-1,5.3Z" fill="#8200ce"/>
<path d="M127.2,470.4l1-5.3 .2-.5" class="m"/>
<path d="M122.3,468.8l.2-.6 1.9-3.6 6-3.6-2,3.6-.2,.5Z" fill="#7a0000"/>
<path d="M128.2,465.1l.2-.5 2-3.6" class="m"/>
<path d="M124.4,464.6l2.5-1.2 2.8,0 3.1,.5 3.2,.9 5.9-3.7-3.2-.8-3.1-.5-2.8,0-2.4,1.2Z" fill="#f00"/>
<path d="M130.4,461l2.4-1.2 2.8,0 3.1,.5 3.2,.8" class="m"/>
<path d="M132.8,463.9l3.2,.9 3.3,1.2 3.2,1.4 5.8-3.8-3.2-1.4-3.2-1.1-3.2-.8Z" fill="#ff0090"/>
<path d="M138.7,460.3l3.2,.8 3.2,1.1 3.2,1.4" class="m"/>
<path d="M139.3,466l3.2,1.4 2.9,1.8 5.8-3.8-2.9-1.8-3.2-1.4Z" fill="#f00"/>
<path d="M145.1,462.2l3.2,1.4 2.9,1.8" class="m"/>
<path d="M146.4,464.9l2.9,1.8 2.5,2.8 2,5 1.9-1.3-2-5-2.5-2.8-2.9-1.8Z" fill="#f00"/>
<path d="M148.3,463.6l2.9,1.8 2.5,2.8 2,5" class="m"/>
<path d="M151.8,469.5l2,5 .1,.6 1.9-1.3-.1-.6-2-5Z" fill="#de0000"/>
<path d="M153.7,468.2l2,5 .1,.6" class="m"/>
<path d="M153.8,474.5l.1,.6 .9,6.2 1.9-1.4-.9-6.1-.1-.6Z" fill="#c80000"/>
<path d="M155.7,473.2l.1,.6 .9,6.1" class="m"/>
<path d="M153.9,475.1l.9,6.2 .3,2.9 .2,6.1 1.9-1.4-.3-6-.2-3-.9-6.1Z" fill="#b300f1"/>
<path d="M155.8,473.8l.9,6.1 .2,3 .3,6" class="m"/>
<path d="M155.1,484.2l.2,6.1 .2,9.4 0,1.5-.1,8.3 1.8-1.4 .1-8.3 0-1.5-.1-9.4-.3-6Z" fill="#a400ed"/>
<path d="M156.9,482.9l.3,6 .1,9.4 0,1.5-.1,8.3" class="m"/>
<path d="M144.4,466.1l2.9,1.8 2.6,2.8 2,5.1 2.5-1.8-1.9-5-2.6-2.8-2.9-1.8Z" fill="#f00"/>
<path d="M149.9,470.7l2,5.1 .1,.6 2.6-1.7-.2-.7-1.9-5Z" fill="#de0000"/>
<path d="M151.9,475.8l.1,.6 .9,6.2 2.6-1.8-.9-6.1-.2-.7Z" fill="#c80000"/>
<path d="M152,476.4l.9,6.2 .3,3 2.5-1.9-.2-2.9-.9-6.1Z" fill="#b70000"/>
<path d="M152.9,482.6l.3,3 .3,6.1 .1,9.5 0,1.4 0,8.4 2.5-2 0-8.3 0-1.4-.1-9.5-.3-6.1-.2-2.9Z" fill="#a700ee"/>
<path d="M142.5,467.4l2.9,1.8 2.5,2.8 2.1,5.1 2.6-1.8-2-5-2.6-2.8-2.9-1.8Z" fill="#f00"/>
<path d="M147.9,472l2.1,5.1 .1,.7 2.6-1.8-.1-.7-2-5Z" fill="#de0000"/>
<path d="M150,477.1l.1,.7 .9,6.2 2.6-1.9-.9-6.1-.1-.7Z" fill="#c80000"/>
<path d="M150.1,477.8l.9,6.2 .3,2.9 .3,6.2 2.5-1.9-.3-6.1-.2-3-.9-6.1Z" fill="#b300f1"/>
<path d="M151.3,486.9l.3,6.2 .2,9.5 0,1.5 0,8.3 2.5-1.9 0-8.4 0-1.4-.2-9.5-.3-6.1Z" fill="#a400ed"/>
<path d="M162.9,476.8l2.9-1.2 5.6-4-2.8,1.2Z" fill="#ff0042"/>
<path d="M168.6,472.8l2.8-1.2" class="m"/>
<path d="M162.9,476.8l2.9-1.2 3.2,.1 5.5-4.1-3.1,0-2.8,1.2Z" fill="#ff0057"/>
<path d="M168.6,472.8l2.8-1.2 3.1,0" class="m"/>
<path d="M165.8,475.6l3.2,.1 3.4,.6 5.6-4.1-3.5-.6-3.1,0Z" fill="#ff006c"/>
<path d="M171.4,471.6l3.1,0 3.5,.6" class="m"/>
<path d="M169,475.7l3.4,.6 3.7,1 .3,.1 5.3-4.2-.1,0-3.6-1-3.5-.6Z" fill="#ff0082"/>
<path d="M174.5,471.6l3.5,.6 3.6,1 .1,0" class="m"/>
<path d="M159.9,511.1l.6-8.1 .1-1.4 .9-9.2 .8-5.8 .4-2.8 1.4-5.5 1.8-1.3-1.3,5.5-.5,2.7-.8,5.8-.9,9.1-.1,1.5-.6,8.1Z" fill="#8e0000"/>
<path d="M161.7,509.7l.6-8.1 .1-1.5 .9-9.1 .8-5.8 .5-2.7 1.3-5.5" class="m"/>
<path d="M162.7,483.8l1.4-5.5 .2-.5 2.4-3.7 1.9-1.3-2.5,3.7-.2,.5-1.3,5.5Z" fill="#7e0000"/>
<path d="M164.6,482.5l1.3-5.5 .2-.5 2.5-3.7" class="m"/>
<path d="M158.1,512.6l.6-8.2 .1-1.4 .9-9.2 .7-5.8 .5-2.8 1.3-5.5 2.6-1.8-1.4,5.5-.5,2.7-.7,5.8-.9,9.2-.1,1.4-.7,8.1Z" fill="#8e00e3"/>
<path d="M160.9,485.2l1.3-5.5 .2-.6 2.6-1.8-.2,.6-1.4,5.5Z" fill="#8200ce"/>
<path d="M162.2,479.7l.2-.6 2.4-3.7 2.6-1.8-2.4,3.7-.2,.6Z" fill="#7a00b4"/>
<path d="M156.3,514.1l.6-8.2 .1-1.4 .8-9.3 2.5-1.9-.8,9.2-.2,1.4-.6,8.2Z" fill="#9300e7"/>
<path d="M157,504.5l.8-9.3 .7-5.8 .5-2.8 1.3-5.5 .2-.6 2.6-1.8-.2,.5-1.4,5.5-.4,2.8-.8,5.8-.8,9.2Z" fill="#800"/>
<path d="M160.3,481.1l.2-.6 2.4-3.7 2.6-1.8-2.4,3.7-.2,.5Z" fill="#7a0000"/>
<path d="M67.9,449.8l1,.7 2.2,2.6 2,4.6 .2,.6 6.4-3.3-.1-.6-2-4.6-2.2-2.5-1.2-.7Z" fill="#00f600"/>
<path d="M74.2,446.6l1.2,.7 2.2,2.5 2,4.6 .1,.6" class="m"/>
<path d="M73.1,457.7l.2,.6 1.3,5.8 .4,2.8 .8,5.8 6.3-3.5-.7-5.7-.5-2.8-1.2-5.7-.1-.6Z" fill="#00d500"/>
<path d="M79.6,454.4l.1,.6 1.2,5.7 .5,2.8 .7,5.7" class="m"/>
<path d="M75,466.9l.8,5.8 .9,8.9 .1,1.4 .8,7.9 6.1-3.7-.6-7.8-.2-1.4-.8-8.8-.7-5.7Z" fill="#00c900"/>
<path d="M81.4,463.5l.7,5.7 .8,8.8 .2,1.4 .6,7.8" class="m"/>
<path d="M81.3,492.3l-.3-7.8 0-1.3-.1-8.7 .1-5.6 .1-2.6 .6-5.2 6.4-3.4-.7,5.2-.1,2.6-.2,5.4 .1,8.6 0,1.4 .2,7.7Z" fill="#8e5b00"/>
<path d="M87.4,488.6l-.2-7.7 0-1.4-.1-8.6 .2-5.4 .1-2.6 .7-5.2" class="m"/>
<path d="M81.1,466.3l.6-5.2 .1-.5 1.6-3.6 6.4-3.3-1.6,3.5-.1,.5-.7,5.2Z" fill="#7e4500"/>
<path d="M87.4,462.9l.7-5.2 .1-.5 1.6-3.5" class="m"/>
<path d="M83.4,457l2.1-1.2 6.4-3.3-2.1,1.2Z" fill="#ff3b00"/>
<path d="M89.8,453.7l2.1-1.2" class="m"/>
<path d="M83.4,457l2.1-1.2 2.5,0 6.4-3.4-2.5,.1-2.1,1.2Z" fill="#00a900"/>
<path d="M89.8,453.7l2.1-1.2 2.5-.1" class="m"/>
<path d="M85.5,455.8l2.5,0 2.8,.5 6.4-3.4-2.8-.5-2.5,.1Z" fill="#00c100"/>
<path d="M91.9,452.5l2.5-.1 2.8,.5" class="m"/>
<path d="M88,455.8l2.8,.5 2.9,.8 3,1.1 6.3-3.5-2.9-1-2.9-.8-2.8-.5Z" fill="#ff6a00"/>
<path d="M94.4,452.4l2.8,.5 2.9,.8 2.9,1" class="m"/>
<path d="M93.7,457.1l3,1.1 2.9,1.3 6.3-3.5-2.9-1.3-2.9-1Z" fill="#00e300"/>
<path d="M100.1,453.7l2.9,1 2.9,1.3" class="m"/>
<path d="M96.7,458.2l2.9,1.3 2.7,1.7 2.4,2.7 6.2-3.5-2.3-2.7-2.7-1.7-2.9-1.3Z" fill="#00fa00"/>
<path d="M103,454.7l2.9,1.3 2.7,1.7 2.3,2.7" class="m"/>
<path d="M102.3,461.2l2.4,2.7 2,4.9 6.3-3.6-2.1-4.8-2.3-2.7Z" fill="#ff7d00"/>
<path d="M108.6,457.7l2.3,2.7 2.1,4.8" class="m"/>
<path d="M104.7,463.9l2,4.9 .2,.7 6.2-3.7-.1-.6-2.1-4.8Z" fill="#de7400"/>
<path d="M110.9,460.4l2.1,4.8 .1,.6" class="m"/>
<path d="M106.7,468.8l.2,.7 1.1,6 6.2-3.7-1.1-6-.1-.6Z" fill="#c86f00"/>
<path d="M113,465.2l.1,.6 1.1,6" class="m"/>
<path d="M106.9,469.5l1.1,6 .4,2.9 .6,6 6.1-3.9-.6-5.9-.3-2.8-1.1-6Z" fill="#b36900"/>
<path d="M113.1,465.8l1.1,6 .3,2.8 .6,5.9" class="m"/>
<path d="M108.4,478.4l.6,6 .6,9.3 .1,1.4 .4,8.2 6-4.1-.4-8.1-.1-1.4-.5-9.2-.6-5.9Z" fill="#a46400"/>
<path d="M114.5,474.6l.6,5.9 .5,9.2 .1,1.4 .4,8.1" class="m"/>
<path d="M114.2,504.8l.1-8 0-1.4 .3-9 .4-5.7 .2-2.7 6.1-3.9-.2,2.7-.4,5.6-.4,9 0,1.3-.2,8Z" fill="#00b800"/>
<path d="M120.1,500.7l.2-8 0-1.3 .4-9 .4-5.6 .2-2.7" class="m"/>
<path d="M115,480.7l.2-2.7 1-5.5 .1-.5 6.2-3.8-.2,.6-1,5.3-.2,2.7Z" fill="#00a000"/>
<path d="M121.1,476.8l.2-2.7 1-5.3 .2-.6" class="m"/>
<path d="M116.2,472.5l.1-.5 2-3.6 6.1-3.8-1.9,3.6-.2,.6Z" fill="#7a3e00"/>
<path d="M122.3,468.8l.2-.6 1.9-3.6" class="m"/>
<path d="M118.3,468.4l2.4-1.2 6.2-3.8-2.5,1.2Z" fill="#ff3b00"/>
<path d="M124.4,464.6l2.5-1.2" class="m"/>
<path d="M118.3,468.4l2.4-1.2 2.9,0 3.1,.5 6.1-3.8-3.1-.5-2.8,0-2.5,1.2Z" fill="#ff5b00"/>
<path d="M124.4,464.6l2.5-1.2 2.8,0 3.1,.5" class="m"/>
<path d="M123.6,467.2l3.1,.5 3.2,1 6.1-3.9-3.2-.9-3.1-.5Z" fill="#ff6700"/>
<path d="M129.7,463.4l3.1,.5 3.2,.9" class="m"/>
<path d="M126.7,467.7l3.2,1 3.3,1.1 3.2,1.5 6.1-3.9-3.2-1.4-3.3-1.2-3.2-.9Z" fill="#0d0"/>
<path d="M132.8,463.9l3.2,.9 3.3,1.2 3.2,1.4" class="m"/>
<path d="M133.2,469.8l3.2,1.5 3,1.9 6-4-2.9-1.8-3.2-1.4Z" fill="#ff7a00"/>
<path d="M139.3,466l3.2,1.4 2.9,1.8" class="m"/>
<path d="M140.5,468.7l2.9,1.8 2.6,2.9 2,5.1 2-1.4-2.1-5.1-2.5-2.8-2.9-1.8Z" fill="#ff8000"/>
<path d="M142.5,467.4l2.9,1.8 2.5,2.8 2.1,5.1" class="m"/>
<path d="M146,473.4l2,5.1 .2,.6 1.9-1.3-.1-.7-2.1-5.1Z" fill="#de7400"/>
<path d="M147.9,472l2.1,5.1 .1,.7" class="m"/>
<path d="M148,478.5l.2,.6 .9,6.2 1.9-1.3-.9-6.2-.1-.7Z" fill="#c86f00"/>
<path d="M150,477.1l.1,.7 .9,6.2" class="m"/>
<path d="M148.2,479.1l.9,6.2 .3,3 1.9-1.4-.3-2.9-.9-6.2Z" fill="#b76a00"/>
<path d="M150.1,477.8l.9,6.2 .3,2.9" class="m"/>
<path d="M149.1,485.3l.3,3 .3,6.2 .2,9.5 0,1.5 0,8.4 1.9-1.5 0-8.3 0-1.5-.2-9.5-.3-6.2-.3-2.9Z" fill="#00ca00"/>
<path d="M151,484l.3,2.9 .3,6.2 .2,9.5 0,1.5 0,8.3" class="m"/>
<path d="M138.5,470l2.9,1.8 2.6,2.9 2,5.1 2.7-1.8-2-5.1-2.6-2.8-2.9-1.9Z" fill="#ff8000"/>
<path d="M144,474.7l2,5.1 .2,.7 2.7-1.9-.2-.6-2-5.1Z" fill="#de7400"/>
<path d="M146,479.8l.2,.7 1,6.2 2.6-1.8-.9-6.3-.2-.6Z" fill="#c86f00"/>
<path d="M146.2,480.5l1,6.2 .2,3 .4,6.2 .2,9.6 0,1.5 0,8.4 2.6-2 0-8.4 0-1.5-.3-9.5-.3-6.2-.2-2.9-.9-6.3Z" fill="#0c0"/>
<path d="M136.4,471.3l3,1.9 2.6,2.8 2.1,5.2 2.6-1.9-2-5.1-2.6-2.8-2.9-1.9Z" fill="#ff8000"/>
<path d="M142,476l2.1,5.2 .1,.6 2.7-1.8-.2-.7-2-5.1Z" fill="#de7400"/>
<path d="M144.1,481.2l.1,.6 1,6.3 2.6-1.8-.9-6.3-.2-.7Z" fill="#c86f00"/>
<path d="M144.2,481.8l1,6.3 .2,3 .4,6.3 .3,9.6 0,1.5 0,8.5 2.6-2.1 0-8.4 0-1.5-.3-9.6-.3-6.2-.3-2.9-.9-6.3Z" fill="#0c0"/>
<path d="M157.1,481l2.9-1.2 5.8-4.2-2.9,1.2Z" fill="#070"/>
<path d="M162.9,476.8l2.9-1.2" class="m"/>
<path d="M157.1,481l2.9-1.2 3.2,0 5.8-4.1-3.2-.1-2.9,1.2Z" fill="#00a900"/>
<path d="M162.9,476.8l2.9-1.2 3.2,.1" class="m"/>
<path d="M160,479.8l3.2,0 3.5,.7 3.7,1.1 5.7-4.3-3.7-1-3.4-.6-3.2-.1Z" fill="#00c800"/>
<path d="M165.8,475.6l3.2,.1 3.4,.6 3.7,1" class="m"/>
<path d="M166.7,480.5l3.7,1.1 .4,.1 5.6-4.3-.3-.1-3.7-1Z" fill="#00d800"/>
<path d="M172.4,476.3l3.7,1 .3,.1" class="m"/>
<path d="M154.4,515.6l.6-8.2 .1-1.5 .8-9.3 .7-5.8 .5-2.8 1.3-5.5 1.9-1.4-1.3,5.5-.5,2.8-.7,5.8-.8,9.3-.1,1.4-.6,8.2Z" fill="#8e5b00"/>
<path d="M156.3,514.1l.6-8.2 .1-1.4 .8-9.3 .7-5.8 .5-2.8 1.3-5.5" class="m"/>
<path d="M157.1,488l1.3-5.5 .2-.6 2.4-3.7 1.9-1.4-2.4,3.7-.2,.6-1.3,5.5Z" fill="#7e4500"/>
<path d="M159,486.6l1.3-5.5 .2-.6 2.4-3.7" class="m"/>
<path d="M152.6,517.1l.5-8.2 .1-1.5 .8-9.3 .7-5.9 .5-2.8 1.3-5.5 2.6-1.9-1.3,5.5-.5,2.8-.7,5.8-.8,9.3-.1,1.4-.6,8.3Z" fill="#8e5b00"/>
<path d="M155.2,489.4l1.3-5.5 .2-.6 2.4-3.7 2.6-1.9-2.4,3.7-.2,.6-1.3,5.5Z" fill="#7e4500"/>
<path d="M150.7,518.7l.5-8.3 .1-1.5 .8-9.3 .7-5.9 .4-2.8 1.3-5.6 2.7-1.9-1.4,5.5-.4,2.8-.7,5.9-.8,9.3-.1,1.4-.6,8.3Z" fill="#8e5b00"/>
<path d="M153.2,490.9l1.3-5.6 .2-.6 2.4-3.7 2.7-1.9-2.4,3.7-.2,.6-1.4,5.5Z" fill="#7e4500"/>
<path d="M61.3,453.2l.8,.6 6.8-3.3-1-.7Z" fill="#ff00b2"/>
<path d="M67.9,449.8l1,.7" class="m"/>
<path d="M61.3,453.2l.8,.6 2.3,2.6 6.7-3.3-2.2-2.6-1-.7Z" fill="#f0d"/>
<path d="M67.9,449.8l1,.7 2.2,2.6" class="m"/>
<path d="M62.1,453.8l2.3,2.6 2.1,4.7 6.6-3.4-2-4.6-2.2-2.6Z" fill="#ff00f9"/>
<path d="M68.9,450.5l2.2,2.6 2,4.6" class="m"/>
<path d="M64.4,456.4l2.1,4.7 .2,.7 6.6-3.5-.2-.6-2-4.6Z" fill="#de00f8"/>
<path d="M71.1,453.1l2,4.6 .2,.6" class="m"/>
<path d="M66.5,461.1l.2,.7 1.3,5.8 6.6-3.5-1.3-5.8-.2-.6Z" fill="#c800f5"/>
<path d="M73.1,457.7l.2,.6 1.3,5.8" class="m"/>
<path d="M66.7,461.8l1.3,5.8 .4,2.8 .9,5.9 6.5-3.6-.8-5.8-.4-2.8-1.3-5.8Z" fill="#b300f1"/>
<path d="M73.3,458.3l1.3,5.8 .4,2.8 .8,5.8" class="m"/>
<path d="M68.4,470.4l.9,5.9 1,9 .1,1.4 .8,8 6.4-3.8-.8-7.9-.1-1.4-.9-8.9-.8-5.8Z" fill="#a400ed"/>
<path d="M75,466.9l.8,5.8 .9,8.9 .1,1.4 .8,7.9" class="m"/>
<path d="M74.9,496.2l-.3-7.9 0-1.4-.2-8.8 0-5.6 .1-2.6 .6-5.3 6.6-3.5-.6,5.2-.1,2.6-.1,5.6 .1,8.7 0,1.3 .3,7.8Z" fill="#8e0000"/>
<path d="M81.3,492.3l-.3-7.8 0-1.3-.1-8.7 .1-5.6 .1-2.6 .6-5.2" class="m"/>
<path d="M74.5,469.9l.6-5.3 .1-.5 1.5-3.6 6.7-3.5-1.6,3.6-.1,.5-.6,5.2Z" fill="#7e0000"/>
<path d="M81.1,466.3l.6-5.2 .1-.5 1.6-3.6" class="m"/>
<path d="M76.7,460.5l2.2-1.2 6.6-3.5-2.1,1.2Z" fill="#f00"/>
<path d="M83.4,457l2.1-1.2" class="m"/>
<path d="M76.7,460.5l2.2-1.2 2.5,0 6.6-3.5-2.5,0-2.1,1.2Z" fill="#ff0057"/>
<path d="M83.4,457l2.1-1.2 2.5,0" class="m"/>
<path d="M78.9,459.3l2.5,0 2.8,.5 6.6-3.5-2.8-.5-2.5,0Z" fill="#ff006c"/>
<path d="M85.5,455.8l2.5,0 2.8,.5" class="m"/>
<path d="M81.4,459.3l2.8,.5 2.9,.8 3,1.1 6.6-3.5-3-1.1-2.9-.8-2.8-.5Z" fill="#f00"/>
<path d="M88,455.8l2.8,.5 2.9,.8 3,1.1" class="m"/>
<path d="M87.1,460.6l3,1.1 2.9,1.4 6.6-3.6-2.9-1.3-3-1.1Z" fill="#ff0098"/>
<path d="M93.7,457.1l3,1.1 2.9,1.3" class="m"/>
<path d="M90.1,461.7l2.9,1.4 2.8,1.8 6.5-3.7-2.7-1.7-2.9-1.3Z" fill="#ff00b2"/>
<path d="M96.7,458.2l2.9,1.3 2.7,1.7" class="m"/>
<path d="M93,463.1l2.8,1.8 2.4,2.8 6.5-3.8-2.4-2.7-2.7-1.7Z" fill="#f0d"/>
<path d="M99.6,459.5l2.7,1.7 2.4,2.7" class="m"/>
<path d="M95.8,464.9l2.4,2.8 2.1,4.9 6.4-3.8-2-4.9-2.4-2.7Z" fill="#f00"/>
<path d="M102.3,461.2l2.4,2.7 2,4.9" class="m"/>
<path d="M98.2,467.7l2.1,4.9 .2,.7 6.4-3.8-.2-.7-2-4.9Z" fill="#de0000"/>
<path d="M104.7,463.9l2,4.9 .2,.7" class="m"/>
<path d="M100.3,472.6l.2,.7 1.2,6.1 6.3-3.9-1.1-6-.2-.7Z" fill="#c80000"/>
<path d="M106.7,468.8l.2,.7 1.1,6" class="m"/>
<path d="M100.5,473.3l1.2,6.1 .3,2.9 .7,6.1 6.3-4-.6-6-.4-2.9-1.1-6Z" fill="#b30000"/>
<path d="M106.9,469.5l1.1,6 .4,2.9 .6,6" class="m"/>
<path d="M102,482.3l.7,6.1 .7,9.4 .1,1.4 .5,8.3 6.1-4.2-.4-8.2-.1-1.4-.6-9.3-.6-6Z" fill="#a40000"/>
<path d="M108.4,478.4l.6,6 .6,9.3 .1,1.4 .4,8.2" class="m"/>
<path d="M108.1,509.1l0-8.1 .1-1.5 .2-9.1 .3-5.8 .2-2.7 .9-5.5 6.4-3.9-1,5.5-.2,2.7-.4,5.7-.3,9 0,1.4-.1,8Z" fill="#8e00e3"/>
<path d="M114.2,504.8l.1-8 0-1.4 .3-9 .4-5.7 .2-2.7 1-5.5" class="m"/>
<path d="M108.9,481.9l.9-5.5 .2-.5 6.3-3.9-.1,.5-1,5.5Z" fill="#8200ce"/>
<path d="M115.2,478l1-5.5 .1-.5" class="m"/>
<path d="M109.8,476.4l.2-.5 1.9-3.7 6.4-3.8-2,3.6-.1,.5Z" fill="#7a0000"/>
<path d="M116.2,472.5l.1-.5 2-3.6" class="m"/>
<path d="M111.9,472.2l2.4-1.2 2.9,0 3.1,.7 3.3,.9 6.3-3.9-3.2-1-3.1-.5-2.9,0-2.4,1.2Z" fill="#f00"/>
<path d="M118.3,468.4l2.4-1.2 2.9,0 3.1,.5 3.2,1" class="m"/>
<path d="M120.3,471.7l3.3,.9 3.4,1.2 3.2,1.5 6.2-4-3.2-1.5-3.3-1.1-3.2-1Z" fill="#ff0090"/>
<path d="M126.7,467.7l3.2,1 3.3,1.1 3.2,1.5" class="m"/>
<path d="M127,473.8l3.2,1.5 3,2 6.2-4.1-3-1.9-3.2-1.5Z" fill="#f00"/>
<path d="M133.2,469.8l3.2,1.5 3,1.9" class="m"/>
<path d="M134.4,472.6l2.9,1.9 2.6,2.9 2.1,5.2 2.1-1.4-2.1-5.2-2.6-2.8-3-1.9Z" fill="#f00"/>
<path d="M136.4,471.3l3,1.9 2.6,2.8 2.1,5.2" class="m"/>
<path d="M139.9,477.4l2.1,5.2 .2,.6 2-1.4-.1-.6-2.1-5.2Z" fill="#de0000"/>
<path d="M142,476l2.1,5.2 .1,.6" class="m"/>
<path d="M142,482.6l.2,.6 1,6.4 2-1.5-1-6.3-.1-.6Z" fill="#c800f5"/>
<path d="M144.1,481.2l.1,.6 1,6.3" class="m"/>
<path d="M142.2,483.2l1,6.4 .3,3 .3,6.2 2-1.4-.4-6.3-.2-3-1-6.3Z" fill="#b300f1"/>
<path d="M144.2,481.8l1,6.3 .2,3 .4,6.3" class="m"/>
<path d="M143.5,492.6l.3,6.2 .3,9.7 0,1.5 .1,8.5 1.9-1.5 0-8.5 0-1.5-.3-9.6-.4-6.3Z" fill="#a400ed"/>
<path d="M145.4,491.1l.4,6.3 .3,9.6 0,1.5 0,8.5" class="m"/>
<path d="M132.3,474l3,1.9 2.6,2.9 2.1,5.2 2.7-1.9-2-5.2-2.6-2.9-3-1.9Z" fill="#f00"/>
<path d="M137.9,478.8l2.1,5.2 .2,.7 2.7-1.9-.2-.7-2-5.2Z" fill="#de0000"/>
<path d="M140,484l.2,.7 1,6.3 2.7-1.9-1-6.3-.2-.7Z" fill="#c80000"/>
<path d="M140.2,484.7l1,6.3 .2,3 .4,6.3 2.7-2-.3-6.2-.3-3-1-6.3Z" fill="#b300f1"/>
<path d="M141.4,494l.4,6.3 .3,9.7 .1,1.5 .1,8.6 2.6-2.1-.1-8.5 0-1.5-.3-9.7-.3-6.2Z" fill="#a400ed"/>
<path d="M130.2,475.3l3,2 2.6,2.9 2.1,5.2 2.8-1.9-2.1-5.2-2.6-2.9-3-1.9Z" fill="#f00"/>
<path d="M135.8,480.2l2.1,5.2 .2,.7 2.8-1.9-.2-.7-2.1-5.2Z" fill="#de0000"/>
<path d="M137.9,485.4l.2,.7 1,6.4 2.8-2-1-6.3-.2-.7Z" fill="#c800f5"/>
<path d="M138.1,486.1l1,6.4 .3,3 .4,6.3 2.7-2-.3-6.3-.3-3-1-6.3Z" fill="#b300f1"/>
<path d="M139.4,495.5l.4,6.3 .3,9.8 .1,1.5 .1,8.5 2.7-2.1-.1-8.5-.1-1.5-.3-9.7-.3-6.3Z" fill="#a400ed"/>
<path d="M151.1,485.3l2.9-1.2 6-4.3-2.9,1.2Z" fill="#ff0042"/>
<path d="M157.1,481l2.9-1.2" class="m"/>
<path d="M151.1,485.3l2.9-1.2 3.2,.1 6-4.4-3.2,0-2.9,1.2Z" fill="#ff0057"/>
<path d="M157.1,481l2.9-1.2 3.2,0" class="m"/>
<path d="M154,484.1l3.2,.1 3.5,.7 6-4.4-3.5-.7-3.2,0Z" fill="#ff006c"/>
<path d="M160,479.8l3.2,0 3.5,.7" class="m"/>
<path d="M157.2,484.2l3.5,.7 3.7,1.1 .7,.2 5.7-4.5-.4-.1-3.7-1.1-3.5-.7Z" fill="#ff0082"/>
<path d="M163.2,479.8l3.5,.7 3.7,1.1 .4,.1" class="m"/>
<path d="M148.8,520.2l.5-8.3 .1-1.5 .7-9.3 .7-6 .4-2.8 1.4-5.6 1.9-1.4-1.3,5.6-.4,2.8-.7,5.9-.8,9.3-.1,1.5-.5,8.3Z" fill="#8e0000"/>
<path d="M150.7,518.7l.5-8.3 .1-1.5 .8-9.3 .7-5.9 .4-2.8 1.3-5.6" class="m"/>
<path d="M151.2,492.3l1.4-5.6 .2-.5 2.3-3.8 2-1.4-2.4,3.7-.2,.6-1.3,5.6Z" fill="#7e0000"/>
<path d="M153.2,490.9l1.3-5.6 .2-.6 2.4-3.7" class="m"/>
<path d="M146.8,521.8l.5-8.4 .1-1.4 .8-9.4 .6-6 .4-2.8 1.4-5.6 2.7-2-1.4,5.6-.4,2.8-.7,5.9-.7,9.4-.1,1.5-.6,8.3Z" fill="#8e00e3"/>
<path d="M149.2,493.8l1.4-5.6 .1-.6 2.8-2-.2,.6-1.4,5.6Z" fill="#8200ce"/>
<path d="M150.6,488.2l.1-.6 2.4-3.8 2.7-1.9-2.3,3.7-.2,.6Z" fill="#7a00b4"/>
<path d="M144.9,523.4l.4-8.4 .1-1.5 .8-9.4 .6-6 .4-2.8 1.3-5.7 2.8-2-1.4,5.7-.4,2.8-.6,5.9-.8,9.4-.1,1.5-.5,8.4Z" fill="#8f0000"/>
<path d="M147.2,495.3l1.3-5.7 .2-.5 2.4-3.8 2.7-2-2.3,3.8-.2,.5-1.4,5.7Z" fill="#7e0000"/>
<path d="M54.5,456.7l.7,.5 2.3,2.7 2.1,4.8 .2,.6 6.9-3.5-.2-.7-2.1-4.7-2.3-2.6-.8-.6Z" fill="#00f600"/>
<path d="M61.3,453.2l.8,.6 2.3,2.6 2.1,4.7 .2,.7" class="m"/>
<path d="M59.6,464.7l.2,.6 1.4,5.9 .5,2.9 .8,5.9 6.8-3.7-.9-5.9-.4-2.8-1.3-5.8-.2-.7Z" fill="#00d500"/>
<path d="M66.5,461.1l.2,.7 1.3,5.8 .4,2.8 .9,5.9" class="m"/>
<path d="M61.7,474.1l.8,5.9 1.2,9.1 .1,1.5 .9,8 6.5-3.9-.8-8-.1-1.4-1-9-.9-5.9Z" fill="#00c900"/>
<path d="M68.4,470.4l.9,5.9 1,9 .1,1.4 .8,8" class="m"/>
<path d="M68.4,500.1l-.4-7.9 0-1.4-.3-8.9 0-5.6 .1-2.7 .5-5.3 6.8-3.7-.6,5.3-.1,2.6 0,5.6 .2,8.8 0,1.4 .3,7.9Z" fill="#8f5b00"/>
<path d="M74.9,496.2l-.3-7.9 0-1.4-.2-8.8 0-5.6 .1-2.6 .6-5.3" class="m"/>
<path d="M67.8,473.6l.5-5.3 .1-.6 1.5-3.6 6.8-3.6-1.5,3.6-.1,.5-.6,5.3Z" fill="#7e4500"/>
<path d="M74.5,469.9l.6-5.3 .1-.5 1.5-3.6" class="m"/>
<path d="M69.9,464.1l2.1-1.2 6.9-3.6-2.2,1.2Z" fill="#ff3b00"/>
<path d="M76.7,460.5l2.2-1.2" class="m"/>
<path d="M69.9,464.1l2.1-1.2 2.5,0 6.9-3.6-2.5,0-2.2,1.2Z" fill="#00a900"/>
<path d="M76.7,460.5l2.2-1.2 2.5,0" class="m"/>
<path d="M72,462.9l2.5,0 2.8,.5 6.9-3.6-2.8-.5-2.5,0Z" fill="#00c100"/>
<path d="M78.9,459.3l2.5,0 2.8,.5" class="m"/>
<path d="M74.5,462.9l2.8,.5 3,.9 3,1.1 6.8-3.7-3-1.1-2.9-.8-2.8-.5Z" fill="#ff6a00"/>
<path d="M81.4,459.3l2.8,.5 2.9,.8 3,1.1" class="m"/>
<path d="M80.3,464.3l3,1.1 3,1.4 6.7-3.7-2.9-1.4-3-1.1Z" fill="#00e300"/>
<path d="M87.1,460.6l3,1.1 2.9,1.4" class="m"/>
<path d="M83.3,465.4l3,1.4 2.7,1.9 2.5,2.8 6.7-3.8-2.4-2.8-2.8-1.8-2.9-1.4Z" fill="#00fa00"/>
<path d="M90.1,461.7l2.9,1.4 2.8,1.8 2.4,2.8" class="m"/>
<path d="M89,468.7l2.5,2.8 2.1,5 6.7-3.9-2.1-4.9-2.4-2.8Z" fill="#ff7d00"/>
<path d="M95.8,464.9l2.4,2.8 2.1,4.9" class="m"/>
<path d="M91.5,471.5l2.1,5 .2,.7 6.7-3.9-.2-.7-2.1-4.9Z" fill="#de7400"/>
<path d="M98.2,467.7l2.1,4.9 .2,.7" class="m"/>
<path d="M93.6,476.5l.2,.7 1.3,6.2 6.6-4-1.2-6.1-.2-.7Z" fill="#c86f00"/>
<path d="M100.3,472.6l.2,.7 1.2,6.1" class="m"/>
<path d="M93.8,477.2l1.3,6.2 .4,2.9 .7,6.2 6.5-4.1-.7-6.1-.3-2.9-1.2-6.1Z" fill="#b36900"/>
<path d="M100.5,473.3l1.2,6.1 .3,2.9 .7,6.1" class="m"/>
<path d="M95.5,486.3l.7,6.2 .8,9.5 .1,1.5 .5,8.3 6.4-4.3-.5-8.3-.1-1.4-.7-9.4-.7-6.1Z" fill="#a46400"/>
<path d="M102,482.3l.7,6.1 .7,9.4 .1,1.4 .5,8.3" class="m"/>
<path d="M101.8,513.5l0-8.2 0-1.5 .1-9.2 .3-5.8 .2-2.8 6.5-4.1-.2,2.7-.3,5.8-.2,9.1-.1,1.5 0,8.1Z" fill="#00b800"/>
<path d="M108.1,509.1l0-8.1 .1-1.5 .2-9.1 .3-5.8 .2-2.7" class="m"/>
<path d="M102.2,488.8l.2-2.8 .8-5.5 .2-.6 6.6-4-.2,.5-.9,5.5-.2,2.7Z" fill="#00a000"/>
<path d="M108.7,484.6l.2-2.7 .9-5.5 .2-.5" class="m"/>
<path d="M103.2,480.5l.2-.6 1.9-3.7 6.6-4-1.9,3.7-.2,.5Z" fill="#7a3e00"/>
<path d="M109.8,476.4l.2-.5 1.9-3.7" class="m"/>
<path d="M105.3,476.2l2.4-1.2 6.6-4-2.4,1.2Z" fill="#ff3b00"/>
<path d="M111.9,472.2l2.4-1.2" class="m"/>
<path d="M105.3,476.2l2.4-1.2 2.9,.1 3.2,.6 6.5-4-3.1-.7-2.9,0-2.4,1.2Z" fill="#ff5b00"/>
<path d="M111.9,472.2l2.4-1.2 2.9,0 3.1,.7" class="m"/>
<path d="M110.6,475.1l3.2,.6 3.3,1 6.5-4.1-3.3-.9-3.1-.7Z" fill="#ff6700"/>
<path d="M117.2,471l3.1,.7 3.3,.9" class="m"/>
<path d="M113.8,475.7l3.3,1 3.3,1.3 3.3,1.5 6.5-4.2-3.2-1.5-3.4-1.2-3.3-.9Z" fill="#0d0"/>
<path d="M120.3,471.7l3.3,.9 3.4,1.2 3.2,1.5" class="m"/>
<path d="M120.4,478l3.3,1.5 3,2 6.5-4.2-3-2-3.2-1.5Z" fill="#ff7a00"/>
<path d="M127,473.8l3.2,1.5 3,2" class="m"/>
<path d="M128,476.7l3.1,2 2.6,2.9 2.1,5.2 2.1-1.4-2.1-5.2-2.6-2.9-3-2Z" fill="#ff8000"/>
<path d="M130.2,475.3l3,2 2.6,2.9 2.1,5.2" class="m"/>
<path d="M133.7,481.6l2.1,5.2 .2,.7 2.1-1.4-.2-.7-2.1-5.2Z" fill="#de7400"/>
<path d="M135.8,480.2l2.1,5.2 .2,.7" class="m"/>
<path d="M135.8,486.8l.2,.7 1.1,6.4 2-1.4-1-6.4-.2-.7Z" fill="#c86f00"/>
<path d="M137.9,485.4l.2,.7 1,6.4" class="m"/>
<path d="M136,487.5l1.1,6.4 .2,3.1 .5,6.3 .3,9.8 .1,1.5 .1,8.6 2-1.6-.1-8.5-.1-1.5-.3-9.8-.4-6.3-.3-3-1-6.4Z" fill="#0c0"/>
<path d="M138.1,486.1l1,6.4 .3,3 .4,6.3 .3,9.8 .1,1.5 .1,8.5" class="m"/>
<path d="M125.9,478.1l3,2 2.7,2.9 2.1,5.3 2.9-2-2.2-5.2-2.6-2.9-3-2Z" fill="#ff8000"/>
<path d="M131.6,483l2.1,5.3 .2,.7 2.8-2-.1-.7-2.2-5.2Z" fill="#de7400"/>
<path d="M133.7,488.3l.2,.7 1.1,6.4 2.8-2-1.1-6.4-.1-.7Z" fill="#c86f00"/>
<path d="M133.9,489l1.1,6.4 .3,3.1 2.8-2-.3-3.1-1.1-6.4Z" fill="#b76a00"/>
<path d="M135,495.4l.3,3.1 .4,6.3 .4,9.9 0,1.5 .2,8.6 2.7-2.1-.1-8.6-.1-1.5-.3-9.8-.4-6.3-.3-3.1Z" fill="#00ca00"/>
<path d="M123.7,479.5l3,2 2.7,3 2.2,5.3 2.9-2-2.2-5.3-2.6-2.9-3.1-2Z" fill="#ff8000"/>
<path d="M129.4,484.5l2.2,5.3 .2,.7 2.8-2-.1-.7-2.2-5.3Z" fill="#de7400"/>
<path d="M131.6,489.8l.2,.7 1,6.4 2.9-2-1.1-6.4-.1-.7Z" fill="#c86f00"/>
<path d="M131.8,490.5l1,6.4 .3,3.1 .5,6.4 .4,9.9 .1,1.5 .2,8.7 2.7-2.2-.2-8.7 0-1.5-.4-9.8-.4-6.3-.3-3.1-1.1-6.4Z" fill="#0c0"/>
<path d="M144.8,489.8l2.9-1.2 6.3-4.5-2.9,1.2Z" fill="#070"/>
<path d="M151.1,485.3l2.9-1.2" class="m"/>
<path d="M144.8,489.8l2.9-1.2 3.3,.1 6.2-4.5-3.2-.1-2.9,1.2Z" fill="#00a900"/>
<path d="M151.1,485.3l2.9-1.2 3.2,.1" class="m"/>
<path d="M147.7,488.6l3.3,.1 3.5,.8 3.8,1.1 6.1-4.6-3.7-1.1-3.5-.7-3.2-.1Z" fill="#00c800"/>
<path d="M154,484.1l3.2,.1 3.5,.7 3.7,1.1" class="m"/>
<path d="M154.5,489.5l3.8,1.1 .8,.3 6-4.7-.7-.2-3.7-1.1Z" fill="#00d800"/>
<path d="M160.7,484.9l3.7,1.1 .7,.2" class="m"/>
<path d="M142.9,525l.4-8.4 .1-1.5 .7-9.5 .7-6 .4-2.8 2-1.5-.4,2.8-.6,6-.8,9.4-.1,1.5-.4,8.4Z" fill="#00b800"/>
<path d="M144.9,523.4l.4-8.4 .1-1.5 .8-9.4 .6-6 .4-2.8" class="m"/>
<path d="M144.8,499.6l.4-2.8 1.3-5.7 .2-.5 2-1.5-.2,.5-1.3,5.7-.4,2.8Z" fill="#00a000"/>
<path d="M146.8,498.1l.4-2.8 1.3-5.7 .2-.5" class="m"/>
<path d="M146.5,491.1l.2-.5 2.3-3.8 2.1-1.5-2.4,3.8-.2,.5Z" fill="#007c00"/>
<path d="M148.5,489.6l.2-.5 2.4-3.8" class="m"/>
<path d="M140.9,526.7l.4-8.5 .1-1.5 .7-9.5 .6-6 .4-2.9 1.3-5.7 2.8-2-1.3,5.7-.4,2.8-.7,6-.7,9.5-.1,1.4-.4,8.5Z" fill="#8f5b00"/>
<path d="M143.1,498.3l1.3-5.7 .2-.5 2.4-3.8 2.8-2.1-2.4,3.8-.2,.6-1.3,5.7Z" fill="#7e4500"/>
<path d="M138.9,528.3l.4-8.5 .1-1.5 .6-9.5 .6-6.1 .4-2.8 1.3-5.8 2.8-2-1.3,5.7-.4,2.8-.6,6-.7,9.6-.1,1.4-.4,8.5Z" fill="#8f5b00"/>
<path d="M141,499.9l1.3-5.8 .2-.5 2.3-3.8 2.9-2.1-2.4,3.8-.2,.6-1.3,5.7Z" fill="#7e4500"/>
<path d="M47.4,460.3l.6,.4 7.2-3.5-.7-.5Z" fill="#ff00b2"/>
<path d="M54.5,456.7l.7,.5" class="m"/>
<path d="M47.4,460.3l.6,.4 2.4,2.7 7.1-3.5-2.3-2.7-.7-.5Z" fill="#ff00de"/>
<path d="M54.5,456.7l.7,.5 2.3,2.7" class="m"/>
<path d="M48,460.7l2.4,2.7 2.1,4.9 7.1-3.6-2.1-4.8-2.3-2.7Z" fill="#ff00f9"/>
<path d="M55.2,457.2l2.3,2.7 2.1,4.8" class="m"/>
<path d="M50.4,463.4l2.1,4.9 .2,.6 7.1-3.6-.2-.6-2.1-4.8Z" fill="#de00f8"/>
<path d="M57.5,459.9l2.1,4.8 .2,.6" class="m"/>
<path d="M52.5,468.3l.2,.6 1.4,6.1 7.1-3.8-1.4-5.9-.2-.6Z" fill="#c800f5"/>
<path d="M59.6,464.7l.2,.6 1.4,5.9" class="m"/>
<path d="M52.7,468.9l1.4,6.1 .6,2.8 .9,6 6.9-3.8-.8-5.9-.5-2.9-1.4-5.9Z" fill="#b300f1"/>
<path d="M59.8,465.3l1.4,5.9 .5,2.9 .8,5.9" class="m"/>
<path d="M54.7,477.8l.9,6 1.2,9.3 .2,1.4 .9,8.2 6.8-4.1-.9-8-.1-1.5-1.2-9.1-.8-5.9Z" fill="#a400ed"/>
<path d="M61.7,474.1l.8,5.9 1.2,9.1 .1,1.5 .9,8" class="m"/>
<path d="M61.7,504.2l-.5-8-.1-1.4-.3-9-.1-5.7 .1-2.7 .4-5.4 7.1-3.7-.5,5.3-.1,2.7 0,5.6 .3,8.9 0,1.4 .4,7.9Z" fill="#8f0000"/>
<path d="M68.4,500.1l-.4-7.9 0-1.4-.3-8.9 0-5.6 .1-2.7 .5-5.3" class="m"/>
<path d="M60.8,477.4l.4-5.4 .1-.5 1.5-3.7 7.1-3.7-1.5,3.6-.1,.6-.5,5.3Z" fill="#7e0000"/>
<path d="M67.8,473.6l.5-5.3 .1-.6 1.5-3.6" class="m"/>
<path d="M62.8,467.8l2.1-1.2 7.1-3.7-2.1,1.2Z" fill="#f00"/>
<path d="M69.9,464.1l2.1-1.2" class="m"/>
<path d="M62.8,467.8l2.1-1.2 2.6,0 7-3.7-2.5,0-2.1,1.2Z" fill="#ff0057"/>
<path d="M69.9,464.1l2.1-1.2 2.5,0" class="m"/>
<path d="M64.9,466.6l2.6,0 2.8,.6 7-3.8-2.8-.5-2.5,0Z" fill="#ff006c"/>
<path d="M72,462.9l2.5,0 2.8,.5" class="m"/>
<path d="M67.5,466.6l2.8,.6 3,.9 3,1.2 7-3.9-3-1.1-3-.9-2.8-.5Z" fill="#f00"/>
<path d="M74.5,462.9l2.8,.5 3,.9 3,1.1" class="m"/>
<path d="M73.3,468.1l3,1.2 3,1.4 7-3.9-3-1.4-3-1.1Z" fill="#ff0098"/>
<path d="M80.3,464.3l3,1.1 3,1.4" class="m"/>
<path d="M76.3,469.3l3,1.4 2.7,1.9 7-3.9-2.7-1.9-3-1.4Z" fill="#ff00b2"/>
<path d="M83.3,465.4l3,1.4 2.7,1.9" class="m"/>
<path d="M79.3,470.7l2.7,1.9 2.5,2.9 7-4-2.5-2.8-2.7-1.9Z" fill="#ff00de"/>
<path d="M86.3,466.8l2.7,1.9 2.5,2.8" class="m"/>
<path d="M82,472.6l2.5,2.9 2.3,5.1 6.8-4.1-2.1-5-2.5-2.8Z" fill="#f00"/>
<path d="M89,468.7l2.5,2.8 2.1,5" class="m"/>
<path d="M84.5,475.5l2.3,5.1 .1,.7 6.9-4.1-.2-.7-2.1-5Z" fill="#de0000"/>
<path d="M91.5,471.5l2.1,5 .2,.7" class="m"/>
<path d="M86.8,480.6l.1,.7 1.3,6.2 6.9-4.1-1.3-6.2-.2-.7Z" fill="#c80000"/>
<path d="M93.6,476.5l.2,.7 1.3,6.2" class="m"/>
<path d="M86.9,481.3l1.3,6.2 .5,3 .7,6.2 6.8-4.2-.7-6.2-.4-2.9-1.3-6.2Z" fill="#b30000"/>
<path d="M93.8,477.2l1.3,6.2 .4,2.9 .7,6.2" class="m"/>
<path d="M88.7,490.5l.7,6.2 .9,9.7 .1,1.5 .7,8.4 6.5-4.5-.5-8.3-.1-1.5-.8-9.5-.7-6.2Z" fill="#a40000"/>
<path d="M95.5,486.3l.7,6.2 .8,9.5 .1,1.5 .5,8.3" class="m"/>
<path d="M95.3,518l-.1-8.3 0-1.4 0-9.4 .2-5.9 .2-2.7 .8-5.6 6.8-4.2-.8,5.5-.2,2.8-.3,5.8-.1,9.2 0,1.5 0,8.2Z" fill="#8f00e3"/>
<path d="M101.8,513.5l0-8.2 0-1.5 .1-9.2 .3-5.8 .2-2.8 .8-5.5" class="m"/>
<path d="M95.6,490.3l.8-5.6 .1-.6 6.9-4.2-.2,.6-.8,5.5Z" fill="#8200ce"/>
<path d="M102.4,486l.8-5.5 .2-.6" class="m"/>
<path d="M96.4,484.7l.1-.6 1.9-3.7 6.9-4.2-1.9,3.7-.2,.6Z" fill="#7a0000"/>
<path d="M103.2,480.5l.2-.6 1.9-3.7" class="m"/>
<path d="M98.4,480.4l2.5-1.2 2.9,0 3.1,.7 3.4,1.1 6.8-4.3-3.3-1-3.2-.6-2.9-.1-2.4,1.2Z" fill="#f00"/>
<path d="M105.3,476.2l2.4-1.2 2.9,.1 3.2,.6 3.3,1" class="m"/>
<path d="M106.9,479.9l3.4,1.1 3.4,1.3 3.3,1.5 6.7-4.3-3.3-1.5-3.3-1.3-3.3-1Z" fill="#ff0090"/>
<path d="M113.8,475.7l3.3,1 3.3,1.3 3.3,1.5" class="m"/>
<path d="M113.7,482.3l3.3,1.5 3,2.1 6.7-4.4-3-2-3.3-1.5Z" fill="#f00"/>
<path d="M120.4,478l3.3,1.5 3,2" class="m"/>
<path d="M121.5,480.9l3,2 2.7,3 2.2,5.4 2.2-1.5-2.2-5.3-2.7-3-3-2Z" fill="#f00"/>
<path d="M123.7,479.5l3,2 2.7,3 2.2,5.3" class="m"/>
<path d="M127.2,485.9l2.2,5.4 .2,.7 2.2-1.5-.2-.7-2.2-5.3Z" fill="#de0000"/>
<path d="M129.4,484.5l2.2,5.3 .2,.7" class="m"/>
<path d="M129.4,491.3l.2,.7 1.1,6.5 2.1-1.6-1-6.4-.2-.7Z" fill="#c80000"/>
<path d="M131.6,489.8l.2,.7 1,6.4" class="m"/>
<path d="M129.6,492l1.1,6.5 .3,3.1 .5,6.4 2.1-1.6-.5-6.4-.3-3.1-1-6.4Z" fill="#b300f1"/>
<path d="M131.8,490.5l1,6.4 .3,3.1 .5,6.4" class="m"/>
<path d="M131,501.6l.5,6.4 .4,9.9 .1,1.5 .2,8.7 2.1-1.6-.2-8.7-.1-1.5-.4-9.9-.5-6.4Z" fill="#a400ed"/>
<path d="M133.1,500l.5,6.4 .4,9.9 .1,1.5 .2,8.7" class="m"/>
<path d="M119.2,482.4l3.1,2 2.7,3 2.2,5.4 3-2-2.2-5.4-2.7-3-3-2Z" fill="#f00"/>
<path d="M125,487.4l2.2,5.4 .2,.7 2.9-2.1-.1-.6-2.2-5.4Z" fill="#de0000"/>
<path d="M127.2,492.8l.2,.7 1.1,6.5 2.9-2.1-1.1-6.5-.1-.6Z" fill="#c80000"/>
<path d="M127.4,493.5l1.1,6.5 .3,3.1 3-2.1-.4-3.1-1.1-6.5Z" fill="#b70000"/>
<path d="M128.5,500l.3,3.1 .5,6.4 .5,10 .1,1.5 .2,8.8 2.8-2.3-.2-8.7 0-1.5-.5-9.9-.4-6.4-.4-3.1Z" fill="#a700ee"/>
<path d="M117,483.8l3,2.1 2.8,3 2.2,5.4 3-2-2.2-5.4-2.7-3-3.1-2Z" fill="#f00"/>
<path d="M122.8,488.9l2.2,5.4 .2,.7 3-2.1-.2-.6-2.2-5.4Z" fill="#de0000"/>
<path d="M125,494.3l.2,.7 1.1,6.6 3-2.1-1.1-6.6-.2-.6Z" fill="#c80000"/>
<path d="M125.2,495l1.1,6.6 .4,3.1 .5,6.5 2.9-2.2-.5-6.4-.3-3.1-1.1-6.6Z" fill="#b300f1"/>
<path d="M126.7,504.7l.5,6.5 .5,10 0,1.5 .3,8.8 2.8-2.3-.2-8.7-.1-1.6-.4-9.9-.5-6.4Z" fill="#a400ed"/>
<path d="M138.3,494.4l2.9-1.1 6.5-4.7-2.9,1.2Z" fill="#ff0042"/>
<path d="M144.8,489.8l2.9-1.2" class="m"/>
<path d="M138.3,494.4l2.9-1.1 3.3,.1 6.5-4.7-3.3-.1-2.9,1.2Z" fill="#ff0057"/>
<path d="M144.8,489.8l2.9-1.2 3.3,.1" class="m"/>
<path d="M141.2,493.3l3.3,.1 3.6,.8 6.4-4.7-3.5-.8-3.3-.1Z" fill="#ff006c"/>
<path d="M147.7,488.6l3.3,.1 3.5,.8" class="m"/>
<path d="M144.5,493.4l3.6,.8 3.8,1.2 1.1,.4 6.1-4.9-.8-.3-3.8-1.1-3.5-.8Z" fill="#ff0082"/>
<path d="M151,488.7l3.5,.8 3.8,1.1 .8,.3" class="m"/>
<path d="M136.8,530l.4-8.5 .1-1.5 .6-9.6 .6-6.1 .4-2.9 1.2-5.7 2.2-1.6-1.3,5.8-.4,2.8-.6,6.1-.6,9.5-.1,1.5-.4,8.5Z" fill="#8f0000"/>
<path d="M138.9,528.3l.4-8.5 .1-1.5 .6-9.5 .6-6.1 .4-2.8 1.3-5.8" class="m"/>
<path d="M138.9,501.4l1.2-5.7 .2-.6 2.4-3.8 2.1-1.5-2.3,3.8-.2,.5-1.3,5.8Z" fill="#7e0000"/>
<path d="M141,499.9l1.3-5.8 .2-.5 2.3-3.8" class="m"/>
<path d="M134.7,531.7l.4-8.6 .1-1.5 .6-9.6 .6-6.1 .3-2.9 1.3-5.7 2.9-2.2-1.3,5.8-.4,2.8-.6,6.1-.6,9.6-.1,1.5-.4,8.5Z" fill="#8f00e3"/>
<path d="M136.7,503l1.3-5.7 .2-.6 2.9-2.1-.2,.5-1.3,5.8Z" fill="#8200ce"/>
<path d="M138,497.3l.2-.6 2.3-3.9 3-2-2.4,3.8-.2,.5Z" fill="#7a00b4"/>
<path d="M132.6,533.4l.4-8.6 0-1.5 .6-9.7 .6-6.1 .4-2.9 1.2-5.8 2.9-2.1-1.2,5.8-.4,2.8-.6,6.1-.6,9.6-.1,1.5-.3,8.6Z" fill="#8f0000"/>
<path d="M134.6,504.6l1.2-5.8 .2-.5 2.3-3.9 3-2.1-2.4,3.8-.2,.6-1.2,5.8Z" fill="#7e0000"/>
<path d="M40.1,464.1l.5,.3 2.4,2.7 2.2,5 .2,.6 7.3-3.8-.2-.6-2.1-4.9-2.4-2.7-.6-.4Z" fill="#00f600"/>
<path d="M47.4,460.3l.6,.4 2.4,2.7 2.1,4.9 .2,.6" class="m"/>
<path d="M40.1,464.1l.5,.3 2.4,2.7 2.2,5 .2,.6" class="m"/>
<path d="M45.2,472.1l.2,.6 1.5,6.1 .5,2.9 1,6.1 7.2-4-.9-6-.6-2.8-1.4-6.1-.2-.6Z" fill="#00d500"/>
<path d="M52.5,468.3l.2,.6 1.4,6.1 .6,2.8 .9,6" class="m"/>
<path d="M45.2,472.1l.2,.6 1.5,6.1 .5,2.9 1,6.1" class="m"/>
<path d="M47.4,481.7l1,6.1 1.3,9.4 .2,1.4 1,8.3 7-4.2-.9-8.2-.2-1.4-1.2-9.3-.9-6Z" fill="#00c900"/>
<path d="M54.7,477.8l.9,6 1.2,9.3 .2,1.4 .9,8.2" class="m"/>
<path d="M47.4,481.7l1,6.1 1.3,9.4 .2,1.4 1,8.3" class="m"/>
<path d="M54.7,508.5l-.5-8.1-.1-1.5-.5-9.1-.1-5.7 0-2.7 .4-5.5 7.3-3.9-.4,5.4-.1,2.7 .1,5.7 .3,9 .1,1.4 .5,8Z" fill="#8f5b00"/>
<path d="M61.7,504.2l-.5-8-.1-1.4-.3-9-.1-5.7 .1-2.7 .4-5.4" class="m"/>
<path d="M54.7,508.5l-.5-8.1-.1-1.5-.5-9.1-.1-5.7 0-2.7 .4-5.5" class="m"/>
<path d="M53.5,481.4l.4-5.5 .1-.6 1.5-3.6 7.3-3.9-1.5,3.7-.1,.5-.4,5.4Z" fill="#7e4500"/>
<path d="M60.8,477.4l.4-5.4 .1-.5 1.5-3.7" class="m"/>
<path d="M53.5,481.4l.4-5.5 .1-.6 1.5-3.6" class="m"/>
<path d="M55.5,471.7l2.1-1.2 7.3-3.9-2.1,1.2Z" fill="#ff3b00"/>
<path d="M62.8,467.8l2.1-1.2" class="m"/>
<path d="M55.5,471.7l2.1-1.2" class="m"/>
<path d="M55.5,471.7l2.1-1.2 2.5,0 7.4-3.9-2.6,0-2.1,1.2Z" fill="#00a900"/>
<path d="M62.8,467.8l2.1-1.2 2.6,0" class="m"/>
<path d="M55.5,471.7l2.1-1.2 2.5,0" class="m"/>
<path d="M57.6,470.5l2.5,0 2.9,.6 7.3-3.9-2.8-.6-2.6,0Z" fill="#00c100"/>
<path d="M64.9,466.6l2.6,0 2.8,.6" class="m"/>
<path d="M57.6,470.5l2.5,0 2.9,.6" class="m"/>
<path d="M60.1,470.5l2.9,.6 3,.9 3,1.3 7.3-4-3-1.2-3-.9-2.8-.6Z" fill="#ff6a00"/>
<path d="M67.5,466.6l2.8,.6 3,.9 3,1.2" class="m"/>
<path d="M60.1,470.5l2.9,.6 3,.9 3,1.3" class="m"/>
<path d="M66,472l3,1.3 3,1.4 7.3-4-3-1.4-3-1.2Z" fill="#00e300"/>
<path d="M73.3,468.1l3,1.2 3,1.4" class="m"/>
<path d="M66,472l3,1.3 3,1.4" class="m"/>
<path d="M69,473.3l3,1.4 2.8,2 2.5,2.9 7.2-4.1-2.5-2.9-2.7-1.9-3-1.4Z" fill="#00fa00"/>
<path d="M76.3,469.3l3,1.4 2.7,1.9 2.5,2.9" class="m"/>
<path d="M69,473.3l3,1.4 2.8,2 2.5,2.9" class="m"/>
<path d="M74.8,476.7l2.5,2.9 2.3,5.2 7.2-4.2-2.3-5.1-2.5-2.9Z" fill="#ff7d00"/>
<path d="M82,472.6l2.5,2.9 2.3,5.1" class="m"/>
<path d="M74.8,476.7l2.5,2.9 2.3,5.2" class="m"/>
<path d="M77.3,479.6l2.3,5.2 .2,.7 7.1-4.2-.1-.7-2.3-5.1Z" fill="#de7400"/>
<path d="M84.5,475.5l2.3,5.1 .1,.7" class="m"/>
<path d="M77.3,479.6l2.3,5.2 .2,.7" class="m"/>
<path d="M79.6,484.8l.2,.7 1.4,6.3 7-4.3-1.3-6.2-.1-.7Z" fill="#c86f00"/>
<path d="M86.8,480.6l.1,.7 1.3,6.2" class="m"/>
<path d="M79.6,484.8l.2,.7 1.4,6.3" class="m"/>
<path d="M79.8,485.5l1.4,6.3 .4,3.1 .9,6.3 6.9-4.5-.7-6.2-.5-3-1.3-6.2Z" fill="#b36900"/>
<path d="M86.9,481.3l1.3,6.2 .5,3 .7,6.2" class="m"/>
<path d="M79.8,485.5l1.4,6.3 .4,3.1 .9,6.3" class="m"/>
<path d="M81.6,494.9l.9,6.3 .9,9.7 .2,1.5 .7,8.6 6.8-4.7-.7-8.4-.1-1.5-.9-9.7-.7-6.2Z" fill="#a46400"/>
<path d="M88.7,490.5l.7,6.2 .9,9.7 .1,1.5 .7,8.4" class="m"/>
<path d="M81.6,494.9l.9,6.3 .9,9.7 .2,1.5 .7,8.6" class="m"/>
<path d="M88.5,522.7l-.2-8.4 0-1.4 0-9.5 .1-5.9 .2-2.8 7-4.4-.2,2.7-.2,5.9 0,9.4 0,1.4 .1,8.3Z" fill="#00b800"/>
<path d="M95.3,518l-.1-8.3 0-1.4 0-9.4 .2-5.9 .2-2.7" class="m"/>
<path d="M88.5,522.7l-.2-8.4 0-1.4 0-9.5 .1-5.9 .2-2.8" class="m"/>
<path d="M88.4,497.5l.2-2.8 .7-5.7 .2-.6 7-4.3-.1,.6-.8,5.6-.2,2.7Z" fill="#00a000"/>
<path d="M95.4,493l.2-2.7 .8-5.6 .1-.6" class="m"/>
<path d="M88.4,497.5l.2-2.8 .7-5.7 .2-.6" class="m"/>
<path d="M89.3,489l.2-.6 1.8-3.7 7.1-4.3-1.9,3.7-.1,.6Z" fill="#7a3e00"/>
<path d="M96.4,484.7l.1-.6 1.9-3.7" class="m"/>
<path d="M89.3,489l.2-.6 1.8-3.7" class="m"/>
<path d="M91.3,484.7l2.5-1.2 7.1-4.3-2.5,1.2Z" fill="#ff3b00"/>
<path d="M98.4,480.4l2.5-1.2" class="m"/>
<path d="M91.3,484.7l2.5-1.2" class="m"/>
<path d="M91.3,484.7l2.5-1.2 2.9,.1 3.2,.7 7-4.4-3.1-.7-2.9,0-2.5,1.2Z" fill="#ff5b00"/>
<path d="M98.4,480.4l2.5-1.2 2.9,0 3.1,.7" class="m"/>
<path d="M91.3,484.7l2.5-1.2 2.9,.1 3.2,.7" class="m"/>
<path d="M96.7,483.6l3.2,.7 3.4,1.1 7-4.4-3.4-1.1-3.1-.7Z" fill="#ff6700"/>
<path d="M103.8,479.2l3.1,.7 3.4,1.1" class="m"/>
<path d="M96.7,483.6l3.2,.7 3.4,1.1" class="m"/>
<path d="M99.9,484.3l3.4,1.1 3.4,1.3 3.3,1.6 7-4.5-3.3-1.5-3.4-1.3-3.4-1.1Z" fill="#0d0"/>
<path d="M106.9,479.9l3.4,1.1 3.4,1.3 3.3,1.5" class="m"/>
<path d="M99.9,484.3l3.4,1.1 3.4,1.3 3.3,1.6" class="m"/>
<path d="M106.7,486.7l3.3,1.6 3.1,2.1 6.9-4.5-3-2.1-3.3-1.5Z" fill="#ff7a00"/>
<path d="M113.7,482.3l3.3,1.5 3,2.1" class="m"/>
<path d="M106.7,486.7l3.3,1.6 3.1,2.1" class="m"/>
<path d="M114.7,485.3l3.1,2.1 2.7,3.1 2.2,5.4 2.3-1.6-2.2-5.4-2.8-3-3-2.1Z" fill="#ff8000"/>
<path d="M117,483.8l3,2.1 2.8,3 2.2,5.4" class="m"/>
<path d="M120.5,490.5l2.2,5.4 .2,.7 2.3-1.6-.2-.7-2.2-5.4Z" fill="#de7400"/>
<path d="M122.8,488.9l2.2,5.4 .2,.7" class="m"/>
<path d="M122.7,495.9l.2,.7 1.2,6.6 2.2-1.6-1.1-6.6-.2-.7Z" fill="#c86f00"/>
<path d="M125,494.3l.2,.7 1.1,6.6" class="m"/>
<path d="M122.9,496.6l1.2,6.6 .3,3.1 2.3-1.6-.4-3.1-1.1-6.6Z" fill="#b76a00"/>
<path d="M125.2,495l1.1,6.6 .4,3.1" class="m"/>
<path d="M124.1,503.2l.3,3.1 .6,6.5 .5,10 .1,1.6 .2,8.8 2.2-1.7-.3-8.8 0-1.5-.5-10-.5-6.5-.4-3.1Z" fill="#00ca00"/>
<path d="M126.3,501.6l.4,3.1 .5,6.5 .5,10 0,1.5 .3,8.8" class="m"/>
<path d="M112.4,486.8l3,2.1 2.8,3.1 2.3,5.4 3-2.1-2.2-5.4-2.7-3-3.1-2.1Z" fill="#ff8000"/>
<path d="M118.2,492l2.3,5.4 .1,.7 3.1-2.1-.2-.7-2.2-5.4Z" fill="#de7400"/>
<path d="M120.5,497.4l.1,.7 1.2,6.7 3.1-2.2-1.2-6.6-.2-.7Z" fill="#c86f00"/>
<path d="M120.6,498.1l1.2,6.7 .4,3.1 .5,6.5 .6,10.1 .1,1.6 .3,8.8 2.9-2.3-.3-8.8 0-1.6-.6-10-.5-6.5-.3-3.1-1.2-6.6Z" fill="#0c0"/>
<path d="M110,488.3l3.1,2.1 2.8,3.2 2.3,5.4 3.1-2.1-2.3-5.4-2.7-3.1-3.1-2.1Z" fill="#ff8000"/>
<path d="M110,488.3l3.1,2.1 2.8,3.2 2.3,5.4" class="m"/>
<path d="M115.9,493.6l2.3,5.4 .1,.7 3.1-2.1-.1-.7-2.3-5.4Z" fill="#de7400"/>
<path d="M115.9,493.6l2.3,5.4 .1,.7" class="m"/>
<path d="M118.2,499l.1,.7 1.2,6.7 3.1-2.2-1.2-6.6-.1-.7Z" fill="#c86f00"/>
<path d="M118.2,499l.1,.7 1.2,6.7" class="m"/>
<path d="M118.3,499.7l1.2,6.7 .4,3.2 .6,6.5 .6,10.1 0,1.6 .4,8.9 2.9-2.4-.3-8.8 0-1.6-.6-10.1-.5-6.5-.4-3.1-1.2-6.6Z" fill="#0c0"/>
<path d="M118.3,499.7l1.2,6.7 .4,3.2 .6,6.5 .6,10.1 0,1.6 .4,8.9" class="m"/>
<path d="M131.6,499.3l2.9-1.2 6.7-4.8-2.9,1.1Z" fill="#070"/>
<path d="M138.3,494.4l2.9-1.1" class="m"/>
<path d="M131.6,499.3l2.9-1.2" class="m"/>
<path d="M131.6,499.3l2.9-1.2 3.3,.2 6.7-4.9-3.3-.1-2.9,1.1Z" fill="#00a900"/>
<path d="M138.3,494.4l2.9-1.1 3.3,.1" class="m"/>
<path d="M131.6,499.3l2.9-1.2 3.3,.2" class="m"/>
<path d="M134.5,498.1l3.3,.2 3.6,.8 3.8,1.3 6.7-5-3.8-1.2-3.6-.8-3.3-.1Z" fill="#00c800"/>
<path d="M141.2,493.3l3.3,.1 3.6,.8 3.8,1.2" class="m"/>
<path d="M134.5,498.1l3.3,.2 3.6,.8 3.8,1.3" class="m"/>
<path d="M141.4,499.1l3.8,1.3 1.3,.5 6.5-5.1-1.1-.4-3.8-1.2Z" fill="#00d800"/>
<path d="M148.1,494.2l3.8,1.2 1.1,.4" class="m"/>
<path d="M141.4,499.1l3.8,1.3 1.3,.5" class="m"/>
<path d="M130.5,535.1l.3-8.6 .1-1.5 .5-9.7 .6-6.2 .4-2.8 1.2-5.9 2.2-1.6-1.2,5.8-.4,2.9-.6,6.1-.6,9.7 0,1.5-.4,8.6Z" fill="#8f5b00"/>
<path d="M132.6,533.4l.4-8.6 0-1.5 .6-9.7 .6-6.1 .4-2.9 1.2-5.8" class="m"/>
<path d="M132.4,506.3l1.2-5.9 .2-.5 2.3-3.9 2.2-1.6-2.3,3.9-.2,.5-1.2,5.8Z" fill="#7e4500"/>
<path d="M134.6,504.6l1.2-5.8 .2-.5 2.3-3.9" class="m"/>
<path d="M128.4,536.9l.3-8.7 0-1.5 .5-9.7 .6-6.2 .3-2.9 3-2.2-.3,2.9-.6,6.1-.5,9.7-.1,1.5-.3,8.6Z" fill="#00b800"/>
<path d="M129.8,510.8l.3-2.9 1.2-5.8 .2-.6 3-2.2-.1,.6-1.3,5.8-.3,2.9Z" fill="#00a000"/>
<path d="M131.3,502.1l.2-.6 2.4-3.9 3-2.1-2.4,3.8-.1,.6Z" fill="#007c00"/>
<path d="M126.2,538.6l.2-8.6 .1-1.6 .5-9.7 .5-6.2 .4-2.9 1.2-5.9 3-2.2-1.2,5.8-.3,2.9-.6,6.2-.5,9.7-.1,1.5-.3,8.7Z" fill="#8f5b00"/>
<path d="M126.2,538.6l.2-8.6 .1-1.6 .5-9.7 .5-6.2 .4-2.9 1.2-5.9" class="m"/>
<path d="M127.9,509.6l1.2-5.9 .1-.6 2.4-3.8 3.1-2.2-2.4,3.8-.2,.6-1.2,5.8Z" fill="#7e4500"/>
<path d="M127.9,509.6l1.2-5.9 .1-.6 2.4-3.8" class="m"/>
</g>
<path d="M39.93,504.47L34.94,460.03 M34.94,460.03L114.28,421.11 M114.28,421.11L214.23,446.8 M214.23,446.8L146.54,499.72 M146.54,499.72L34.94,460.03 M146.54,499.72L145.34,549.38" fill="none" stroke="#8a8a8a" stroke-width="0.5"/>
<path d="M44.65,506.48L48.01,504.43 M49,508.34L50.79,507.22 M53.41,510.22L55.2,509.09 M57.89,512.13L59.68,510.98 M62.44,514.06L64.21,512.9 M67.05,516.03L70.35,513.82 M71.73,518.02L73.49,516.82 M76.48,520.04L78.23,518.82 M81.3,522.1L83.04,520.86 M86.19,524.18L87.93,522.93 M91.16,526.3L94.38,523.92 M96.2,528.44L97.92,527.15 M101.32,530.63L103.03,529.31 M106.53,532.84L108.22,531.51 M111.81,535.09L113.49,533.74 M117.18,537.38L120.3,534.81 M122.63,539.7L124.29,538.3 M128.17,542.06L129.81,540.64 M133.8,544.46L135.43,543.02 M139.52,546.9L141.14,545.43 M145.34,549.38L148.33,546.59 M34.94,460.03L38.08,461.15 M39.74,457.68L41.3,458.22 M44.43,455.38L45.99,455.91 M49.02,453.12L50.57,453.65 M53.52,450.92L55.06,451.43 M57.92,448.76L61,449.76 M62.22,446.65L63.76,447.14 M66.44,444.58L67.97,445.06 M70.57,442.55L72.09,443.02 M74.62,440.57L76.14,441.03 M78.59,438.62L81.61,439.53 M82.47,436.72L83.98,437.16 M86.29,434.85L87.78,435.28 M90.02,433.01L91.52,433.44 M93.69,431.21L95.17,431.63 M97.28,429.45L100.25,430.27 M100.81,427.72L102.29,428.12 M104.27,426.02L105.74,426.42 M107.67,424.36L109.13,424.74 M111.01,422.72L112.46,423.1 M114.28,421.11L117.18,421.86 M35.03,460.78L38.17,461.9 M35.45,464.52L37.01,465.08 M35.86,468.22L37.41,468.79 M36.27,471.88L37.82,472.46 M36.68,475.52L38.22,476.1 M37.09,479.12L40.16,480.31 M37.49,482.69L39.01,483.29 M37.88,486.23L39.41,486.83 M38.28,489.73L39.79,490.35 M38.67,493.21L40.18,493.83 M39.05,496.66L42.07,497.91 M39.44,500.07L40.94,500.7 M39.82,503.46L41.31,504.1" fill="none" stroke="#777" stroke-width="0.4"/>
<g font-family="'DejaVu Sans',sans-serif" fill="#000" stroke="#000" stroke-width="0.25">
<text x="43" y="516.05" font-size="6.7" text-anchor="middle">- 10</text>
<text x="64.9" y="525.15" font-size="6.7" text-anchor="middle">- 5</text>
<text x="88.7" y="535.65" font-size="6.7" text-anchor="middle">0</text>
<text x="114.8" y="546.95" font-size="6.7" text-anchor="middle">5</text>
<text x="143.3" y="558.95" font-size="6.7" text-anchor="middle">10</text>
<text x="36.4" y="454.85" font-size="6.7" text-anchor="middle">0.0</text>
<text x="58.3" y="443.95" font-size="6.7" text-anchor="middle">0.5</text>
<text x="78.3" y="434.45" font-size="6.7" text-anchor="middle">1.0</text>
<text x="96.1" y="425.65" font-size="6.7" text-anchor="middle">1.5</text>
<text x="112.6" y="417.35" font-size="6.7" text-anchor="middle">2.0</text>
<text x="89.1" y="544.95" font-size="6.7" text-anchor="middle">x</text>
<text x="76.8" y="425.65" font-size="6.7" text-anchor="middle">t</text>
<text x="-3" y="494" font-size="6.6" textLength="30.5" lengthAdjust="spacingAndGlyphs"><tspan font-style="italic">w</tspan><tspan font-size="4.8" dy="1.3">61</tspan><tspan dy="-1.3" font-weight="normal">(</tspan>x,t<tspan font-weight="normal">)</tspan></text>
<text x="31.1" y="467.35" font-size="6.7" text-anchor="middle">0</text>
<text x="35.1" y="485.15" font-size="6.7" text-anchor="end">- 50</text>
<text x="36.8" y="502.75" font-size="6.7" text-anchor="end">- 100</text>
</g>
<path d="M344.28,456.7L447.02,482.07 M344.28,456.7L276.9,509.14 M344.28,456.7L343.17,415.31 M276.9,509.14L397.11,548.51 M397.11,548.51L447.02,482.07 M447.02,482.07L451.55,437.25" fill="none" stroke="#8a8a8a" stroke-width="0.5"/>
<g stroke-linejoin="round">
<path d="M343.8,420.2l1.9,1 2.3,2.3 1.9,4.5 4.5-3-1.9-4.4-2.2-2.3-2-1.1Z" fill="#00f700"/>
<path d="M348.3,417.2l2,1.1 2.2,2.3 1.9,4.4" class="m"/>
<path d="M348,423.5l1.9,4.5 .2,.5 1,5.7 4.5-3.1-1-5.6-.2-.5-1.9-4.4Z" fill="#00d900"/>
<path d="M352.5,420.6l1.9,4.4 .2,.5 1,5.6" class="m"/>
<path d="M350.1,428.5l1,5.7 .4,2.7 .5,5.6 .5,8.9 .1,1.3 .4,7.9 4.3-3.4-.4-7.7 0-1.4-.5-8.7-.5-5.6-.3-2.7-1-5.6Z" fill="#00c200"/>
<path d="M354.6,425.5l1,5.6 .3,2.7 .5,5.6 .5,8.7 0,1.4 .4,7.7" class="m"/>
<path d="M356.8,461.5l.2-7.7 0-1.4 .3-8.6 .4-5.5 .3-2.6 .9-5.3 4.4-3-1,5.2-.2,2.5-.4,5.5-.4,8.5 0,1.4-.2,7.6Z" fill="#895700"/>
<path d="M361.1,458.1l.2-7.6 0-1.4 .4-8.5 .4-5.5 .2-2.5 1-5.2" class="m"/>
<path d="M358,435.7l.9-5.3 .1-.5 1.9-3.7 4.4-3-1.9,3.7-.1,.5-1,5.2Z" fill="#7d4300"/>
<path d="M362.3,432.6l1-5.2 .1-.5 1.9-3.7" class="m"/>
<path d="M360.9,426.2l2.3-1.4 4.4-3-2.3,1.4Z" fill="#ff3d00"/>
<path d="M365.3,423.2l2.3-1.4" class="m"/>
<path d="M360.9,426.2l2.3-1.4 2.7-.3 4.3-3-2.6,.3-2.3,1.4Z" fill="#00ab00"/>
<path d="M365.3,423.2l2.3-1.4 2.6-.3" class="m"/>
<path d="M363.2,424.8l2.7-.3 2.9,.2 4.3-3-2.9-.2-2.6,.3Z" fill="#00c300"/>
<path d="M367.6,421.8l2.6-.3 2.9,.2" class="m"/>
<path d="M365.9,424.5l2.9,.2 3,.5 3.1,.8 4.3-3.1-3.1-.7-3-.5-2.9-.2Z" fill="#ff6a00"/>
<path d="M370.2,421.5l2.9,.2 3,.5 3.1,.7" class="m"/>
<path d="M371.8,425.2l3.1,.8 3,1 4.2-3.1-2.9-1-3.1-.7Z" fill="#00e400"/>
<path d="M376.1,422.2l3.1,.7 2.9,1" class="m"/>
<path d="M374.9,426l3,1 2.7,1.5 2.4,2.4 4.2-3.2-2.4-2.4-2.7-1.4-2.9-1Z" fill="#00fa00"/>
<path d="M379.2,422.9l2.9,1 2.7,1.4 2.4,2.4" class="m"/>
<path d="M380.6,428.5l2.4,2.4 1.9,4.6 4.1-3.3-1.8-4.5-2.4-2.4Z" fill="#fa7800"/>
<path d="M384.8,425.3l2.4,2.4 1.8,4.5" class="m"/>
<path d="M383,430.9l1.9,4.6 .2,.6 4.1-3.3-.2-.6-1.8-4.5Z" fill="#d26f00"/>
<path d="M387.2,427.7l1.8,4.5 .2,.6" class="m"/>
<path d="M384.9,435.5l.2,.6 .9,5.8 4-3.3-.8-5.8-.2-.6Z" fill="#bc6a00"/>
<path d="M389,432.2l.2,.6 .8,5.8" class="m"/>
<path d="M385.1,436.1l.9,5.8 .2,2.8 .3,5.8 4-3.4-.2-5.8-.3-2.7-.8-5.8Z" fill="#a86400"/>
<path d="M389.2,432.8l.8,5.8 .3,2.7 .2,5.8" class="m"/>
<path d="M386.2,444.7l.3,5.8 .2,9 .1,1.4 0,8.1 3.9-3.6 0-8 0-1.4-.2-8.9-.2-5.8Z" fill="#9a5f00"/>
<path d="M390.3,441.3l.2,5.8 .2,8.9 0,1.4 0,8" class="m"/>
<path d="M391,470l.5-7.9 .1-1.4 .7-8.9 .6-5.6 .4-2.7 4-3.4-.4,2.7-.7,5.6-.7,8.8-.1,1.3-.5,7.9Z" fill="#00b000"/>
<path d="M394.9,466.4l.5-7.9 .1-1.3 .7-8.8 .7-5.6 .4-2.7" class="m"/>
<path d="M392.9,446.2l.4-2.7 1.2-5.4 .2-.5 4-3.3-.2,.5-1.2,5.3-.4,2.7Z" fill="#009a00"/>
<path d="M396.9,442.8l.4-2.7 1.2-5.3 .2-.5" class="m"/>
<path d="M394.5,438.1l.2-.5 2.2-3.8 4-3.3-2.2,3.8-.2,.5Z" fill="#793c00"/>
<path d="M398.5,434.8l.2-.5 2.2-3.8" class="m"/>
<path d="M396.9,433.8l2.6-1.4 4-3.2-2.6,1.3Z" fill="#ff3d00"/>
<path d="M400.9,430.5l2.6-1.3" class="m"/>
<path d="M396.9,433.8l2.6-1.4 2.9-.3 3.2,.2 3.9-3.2-3.2-.3-2.8,.4-2.6,1.3Z" fill="#ff5c00"/>
<path d="M400.9,430.5l2.6-1.3 2.8-.4 3.2,.3" class="m"/>
<path d="M402.4,432.1l3.2,.2 3.3,.6 3.8-3.3-3.2-.5-3.2-.3Z" fill="#ff6800"/>
<path d="M406.3,428.8l3.2,.3 3.2,.5" class="m"/>
<path d="M405.6,432.3l3.3,.6 3.3,.8 3.2,1.1 3.8-3.4-3.2-1-3.3-.8-3.2-.5Z" fill="#00df00"/>
<path d="M409.5,429.1l3.2,.5 3.3,.8 3.2,1" class="m"/>
<path d="M412.2,433.7l3.2,1.1 2.9,1.5 3.7-3.4-2.8-1.5-3.2-1Z" fill="#ff7a00"/>
<path d="M416,430.4l3.2,1 2.8,1.5" class="m"/>
<path d="M417.9,432.5l2.9,1.6 2.5,2.4 1.8,4.7 1.2-1.1-1.8-4.7-2.5-2.5-2.8-1.5Z" fill="#fc7d00"/>
<path d="M419.2,431.4l2.8,1.5 2.5,2.5 1.8,4.7" class="m"/>
<path d="M423.3,436.5l1.8,4.7 .1,.6 1.2-1.1-.1-.6-1.8-4.7Z" fill="#d26f00"/>
<path d="M424.5,435.4l1.8,4.7 .1,.6" class="m"/>
<path d="M425.1,441.2l.1,.6 .7,6 1.2-1.2-.7-5.9-.1-.6Z" fill="#bc6a00"/>
<path d="M426.3,440.1l.1,.6 .7,5.9" class="m"/>
<path d="M425.2,441.8l.7,6 .1,2.8 1.2-1.2-.1-2.8-.7-5.9Z" fill="#ac6500"/>
<path d="M426.4,440.7l.7,5.9 .1,2.8" class="m"/>
<path d="M425.9,447.8l.1,2.8 .1,6-.2,9.2 0,1.4-.4,8.2 1.2-1.3 .3-8.1 .1-1.4 .2-9.3-.1-5.9-.1-2.8Z" fill="#00c000"/>
<path d="M427.1,446.6l.1,2.8 .1,5.9-.2,9.3-.1,1.4-.3,8.1" class="m"/>
<path d="M416.6,433.7l3,1.5 2.4,2.5 1.9,4.7 1.6-1.6-1.8-4.7-2.5-2.4-2.9-1.5Z" fill="#fc7d00"/>
<path d="M422,437.7l1.9,4.7 .1,.6 1.7-1.6-.2-.6-1.8-4.7Z" fill="#d26f00"/>
<path d="M423.9,442.4l.1,.6 .7,6 1.6-1.6-.6-6-.2-.6Z" fill="#bc6a00"/>
<path d="M424,443l.7,6 .1,2.8 1.7-1.6-.2-2.8-.6-6Z" fill="#ac6500"/>
<path d="M424.7,449l.1,2.8 .1,6-.2,9.3 0,1.4-.3,8.2 1.5-1.7 .4-8.2 0-1.4 .2-9.3 0-5.9-.2-2.8Z" fill="#00c000"/>
<path d="M415.4,434.8l2.9,1.5 2.5,2.5 1.9,4.8 1.6-1.6-1.8-4.7-2.5-2.5-2.9-1.5Z" fill="#fc7d00"/>
<path d="M420.8,438.8l1.9,4.8 .1,.6 1.7-1.6-.2-.6-1.8-4.7Z" fill="#d26f00"/>
<path d="M422.7,443.6l.1,.6 .7,6 1.6-1.7-.6-5.9-.2-.6Z" fill="#bc6a00"/>
<path d="M422.8,444.2l.7,6 .1,2.8 .1,6 1.6-1.7 0-5.9-.2-2.9-.6-5.9Z" fill="#a86400"/>
<path d="M423.6,453l.1,6-.2,9.3 0,1.5-.3,8.2 1.6-1.7 .3-8.2 .1-1.5 .1-9.3 0-5.9Z" fill="#00bf00"/>
<path d="M435.8,442l2.9-1.4 3.5-3.6-2.9,1.5Z" fill="#ff3d00"/>
<path d="M439.3,438.5l2.9-1.5" class="m"/>
<path d="M435.8,442l2.9-1.4 3.2-.3 3.4-3.5-3.1,.2-2.9,1.5Z" fill="#00ab00"/>
<path d="M439.3,438.5l2.9-1.5 3.1-.2" class="m"/>
<path d="M438.7,440.6l3.2-.3 3.4,.3 3,.5 3.2-3.6-2.8-.5-3.4-.2-3.1,.2Z" fill="#00ca00"/>
<path d="M442.2,437l3.1-.2 3.4,.2 2.8,.5" class="m"/>
<path d="M445.3,440.6l3,.5 3.2-3.6-2.8-.5Z" fill="#00d900"/>
<path d="M448.7,437l2.8,.5" class="m"/>
<path d="M430,476.5l.9-8.1 .2-1.4 1.2-9 .9-5.8 .6-2.7 1.6-5.5 1.1-1.2-1.5,5.5-.6,2.7-1,5.7-1.2,9.1-.1,1.4-1,8Z" fill="#895700"/>
<path d="M431.1,475.2l1-8 .1-1.4 1.2-9.1 1-5.7 .6-2.7 1.5-5.5" class="m"/>
<path d="M433.8,449.5l1.6-5.5 .2-.6 2.5-3.8 1.2-1.1-2.5,3.8-.3,.5-1.5,5.5Z" fill="#7d4300"/>
<path d="M435,448.3l1.5-5.5 .3-.5 2.5-3.8" class="m"/>
<path d="M428.8,477.8l.9-8.1 .2-1.4 1.2-9.1 1-5.8 .5-2.7 1.6-1.6-.5,2.7-1,5.7-1.2,9.1-.2,1.4-.9,8.1Z" fill="#00b000"/>
<path d="M432.1,453.4l.5-2.7 1.6-5.5 .2-.6 1.6-1.6-.2,.6-1.6,5.5-.5,2.7Z" fill="#009a00"/>
<path d="M434.2,445.2l.2-.6 2.6-3.8 1.6-1.6-2.6,3.8-.2,.6Z" fill="#007800"/>
<path d="M427.7,479.1l.9-8.1 .1-1.4 1.2-9.2 1.6-1.6-1.2,9.1-.2,1.4-.9,8.1Z" fill="#00b300"/>
<path d="M428.7,469.6l1.2-9.2 1-5.7 .5-2.8 1.6-5.5 .2-.6 1.6-1.6-.2,.6-1.6,5.5-.5,2.7-1,5.8-1.2,9.1Z" fill="#865200"/>
<path d="M433,446.4l.2-.6 2.6-3.8 1.6-1.6-2.6,3.8-.2,.6Z" fill="#793c00"/>
<path d="M339.2,423.2l1.8,1 4.7-3-1.9-1Z" fill="#ff00b3"/>
<path d="M343.8,420.2l1.9,1" class="m"/>
<path d="M339.2,423.2l1.8,1 2.3,2.3 4.7-3-2.3-2.3-1.9-1Z" fill="#ff00da"/>
<path d="M343.8,420.2l1.9,1 2.3,2.3" class="m"/>
<path d="M341,424.2l2.3,2.3 2,4.5 4.6-3-1.9-4.5-2.3-2.3Z" fill="#fa00ef"/>
<path d="M345.7,421.2l2.3,2.3 1.9,4.5" class="m"/>
<path d="M343.3,426.5l2,4.5 .1,.6 4.7-3.1-.2-.5-1.9-4.5Z" fill="#d200ec"/>
<path d="M348,423.5l1.9,4.5 .2,.5" class="m"/>
<path d="M345.3,431l.1,.6 1.1,5.7 4.6-3.1-1-5.7-.2-.5Z" fill="#bc00e9"/>
<path d="M349.9,428l.2,.5 1,5.7" class="m"/>
<path d="M345.4,431.6l1.1,5.7 .4,2.8 .5,5.7 4.6-3.3-.5-5.6-.4-2.7-1-5.7Z" fill="#a800e4"/>
<path d="M350.1,428.5l1,5.7 .4,2.7 .5,5.6" class="m"/>
<path d="M346.9,440.1l.5,5.7 .6,8.9 .1,1.4 .4,7.9 4.5-3.4-.4-7.9-.1-1.3-.5-8.9-.5-5.6Z" fill="#9a00e0"/>
<path d="M351.5,436.9l.5,5.6 .5,8.9 .1,1.3 .4,7.9" class="m"/>
<path d="M352.4,465l.1-7.8 .1-1.4 .3-8.7 .3-5.6 .2-2.6 .9-5.3 .2-.6 4.5-3.1-.1,.5-.9,5.3-.3,2.6-.4,5.5-.3,8.6 0,1.4-.2,7.7Z" fill="#800"/>
<path d="M356.8,461.5l.2-7.7 0-1.4 .3-8.6 .4-5.5 .3-2.6 .9-5.3 .1-.5" class="m"/>
<path d="M354.3,433.6l.2-.6 1.8-3.7 4.6-3.1-1.9,3.7-.1,.5Z" fill="#790000"/>
<path d="M358.9,430.4l.1-.5 1.9-3.7" class="m"/>
<path d="M356.3,429.3l2.4-1.4 4.5-3.1-2.3,1.4Z" fill="#f00"/>
<path d="M360.9,426.2l2.3-1.4" class="m"/>
<path d="M356.3,429.3l2.4-1.4 2.7-.3 4.5-3.1-2.7,.3-2.3,1.4Z" fill="#ff005a"/>
<path d="M360.9,426.2l2.3-1.4 2.7-.3" class="m"/>
<path d="M358.7,427.9l2.7-.3 2.9,.3 4.5-3.2-2.9-.2-2.7,.3Z" fill="#ff006f"/>
<path d="M363.2,424.8l2.7-.3 2.9,.2" class="m"/>
<path d="M361.4,427.6l2.9,.3 3.1,.5 3.1,.8 4.4-3.2-3.1-.8-3-.5-2.9-.2Z" fill="#f00"/>
<path d="M365.9,424.5l2.9,.2 3,.5 3.1,.8" class="m"/>
<path d="M367.4,428.4l3.1,.8 3,1 4.4-3.2-3-1-3.1-.8Z" fill="#f09"/>
<path d="M371.8,425.2l3.1,.8 3,1" class="m"/>
<path d="M370.5,429.2l3,1 2.8,1.5 4.3-3.2-2.7-1.5-3-1Z" fill="#ff00b3"/>
<path d="M374.9,426l3,1 2.7,1.5" class="m"/>
<path d="M373.5,430.2l2.8,1.5 2.4,2.4 4.3-3.2-2.4-2.4-2.7-1.5Z" fill="#ff00da"/>
<path d="M377.9,427l2.7,1.5 2.4,2.4" class="m"/>
<path d="M376.3,431.7l2.4,2.4 2,4.7 4.2-3.3-1.9-4.6-2.4-2.4Z" fill="#fa0000"/>
<path d="M380.6,428.5l2.4,2.4 1.9,4.6" class="m"/>
<path d="M378.7,434.1l2,4.7 .1,.6 4.3-3.3-.2-.6-1.9-4.6Z" fill="#d20000"/>
<path d="M383,430.9l1.9,4.6 .2,.6" class="m"/>
<path d="M380.7,438.8l.1,.6 .9,5.9 4.3-3.4-.9-5.8-.2-.6Z" fill="#bc0000"/>
<path d="M384.9,435.5l.2,.6 .9,5.8" class="m"/>
<path d="M380.8,439.4l.9,5.9 .3,2.8 .3,5.9 4.2-3.5-.3-5.8-.2-2.8-.9-5.8Z" fill="#a80000"/>
<path d="M385.1,436.1l.9,5.8 .2,2.8 .3,5.8" class="m"/>
<path d="M382,448.1l.3,5.9 .3,9.2 0,1.4 .1,8.1 4.1-3.7 0-8.1-.1-1.4-.2-9-.3-5.8Z" fill="#9a0000"/>
<path d="M386.2,444.7l.3,5.8 .2,9 .1,1.4 0,8.1" class="m"/>
<path d="M386.9,473.8l.5-8.1 .1-1.4 .7-9 .6-5.7 .4-2.6 1.2-5.5 4.1-3.4-1.2,5.4-.4,2.7-.6,5.6-.7,8.9-.1,1.4-.5,7.9Z" fill="#8900d6"/>
<path d="M391,470l.5-7.9 .1-1.4 .7-8.9 .6-5.6 .4-2.7 1.2-5.4" class="m"/>
<path d="M389.2,447l1.2-5.5 .2-.6 4.1-3.3-.2,.5-1.2,5.4Z" fill="#8100c2"/>
<path d="M393.3,443.5l1.2-5.4 .2-.5" class="m"/>
<path d="M390.4,441.5l.2-.6 2.2-3.8 4.1-3.3-2.2,3.8-.2,.5Z" fill="#790000"/>
<path d="M394.5,438.1l.2-.5 2.2-3.8" class="m"/>
<path d="M392.8,437.1l2.6-1.4 2.9-.3 3.2,.3 3.4,.6 4-3.4-3.3-.6-3.2-.2-2.9,.3-2.6,1.4Z" fill="#f00"/>
<path d="M396.9,433.8l2.6-1.4 2.9-.3 3.2,.2 3.3,.6" class="m"/>
<path d="M401.5,435.7l3.4,.6 3.3,.8 3.2,1.1 4-3.4-3.2-1.1-3.3-.8-3.3-.6Z" fill="#ff0092"/>
<path d="M405.6,432.3l3.3,.6 3.3,.8 3.2,1.1" class="m"/>
<path d="M408.2,437.1l3.2,1.1 3,1.6 3.9-3.5-2.9-1.5-3.2-1.1Z" fill="#f00"/>
<path d="M412.2,433.7l3.2,1.1 2.9,1.5" class="m"/>
<path d="M414.1,435.9l2.9,1.6 2.5,2.5 1.9,4.7 1.3-1.1-1.9-4.8-2.5-2.5-2.9-1.5Z" fill="#fc0000"/>
<path d="M415.4,434.8l2.9,1.5 2.5,2.5 1.9,4.8" class="m"/>
<path d="M419.5,440l1.9,4.7 .1,.7 1.3-1.2-.1-.6-1.9-4.8Z" fill="#d20000"/>
<path d="M420.8,438.8l1.9,4.8 .1,.6" class="m"/>
<path d="M421.4,444.7l.1,.7 .7,6 1.3-1.2-.7-6-.1-.6Z" fill="#bc0000"/>
<path d="M422.7,443.6l.1,.6 .7,6" class="m"/>
<path d="M421.5,445.4l.7,6 .2,2.9 .1,6 1.2-1.3-.1-6-.1-2.8-.7-6Z" fill="#a800e4"/>
<path d="M422.8,444.2l.7,6 .1,2.8 .1,6" class="m"/>
<path d="M422.4,454.3l.1,6-.2,9.3 0,1.5-.3,8.2 1.2-1.3 .3-8.2 0-1.5 .2-9.3-.1-6Z" fill="#9a00e0"/>
<path d="M423.6,453l.1,6-.2,9.3 0,1.5-.3,8.2" class="m"/>
<path d="M412.8,437.1l2.9,1.5 2.5,2.5 1.9,4.8 1.7-1.6-1.8-4.7-2.5-2.5-3-1.6Z" fill="#fc0000"/>
<path d="M418.2,441.1l1.9,4.8 .2,.7 1.7-1.7-.2-.6-1.8-4.7Z" fill="#d20000"/>
<path d="M420.1,445.9l.2,.7 .7,6 1.7-1.6-.7-6.1-.2-.6Z" fill="#bc00e9"/>
<path d="M420.3,446.6l.7,6 .1,2.9 .1,6 1.7-1.7-.1-6-.1-2.8-.7-6.1Z" fill="#a800e4"/>
<path d="M421.1,455.5l.1,6-.1,9.4 0,1.5-.3,8.3 1.6-1.8 .3-8.3 0-1.4 .2-9.4-.1-6Z" fill="#9a00e0"/>
<path d="M411.4,438.2l3,1.6 2.5,2.5 2,4.8 1.7-1.6-1.9-4.8-2.5-2.5-3-1.5Z" fill="#fc0000"/>
<path d="M416.9,442.3l2,4.8 .1,.7 1.7-1.7-.1-.6-1.9-4.8Z" fill="#d20000"/>
<path d="M418.9,447.1l.1,.7 .7,6 1.7-1.6-.7-6.1-.1-.6Z" fill="#bd00e9"/>
<path d="M419,447.8l.7,6 .2,2.9 .1,6.1 1.7-1.7-.1-6-.2-2.9-.7-6.1Z" fill="#a800e4"/>
<path d="M419.9,456.7l.1,6.1-.2,9.4 0,1.5-.3,8.3 1.7-1.8 .3-8.3 0-1.4 .2-9.4-.1-6Z" fill="#9a00e0"/>
<path d="M432.1,445.6l2.9-1.4 3.7-3.6-2.9,1.4Z" fill="#f00"/>
<path d="M435.8,442l2.9-1.4" class="m"/>
<path d="M432.1,445.6l2.9-1.4 3.3-.3 3.6-3.6-3.2,.3-2.9,1.4Z" fill="#ff005a"/>
<path d="M435.8,442l2.9-1.4 3.2-.3" class="m"/>
<path d="M435,444.2l3.3-.3 3.5,.3 3.5-3.6-3.4-.3-3.2,.3Z" fill="#ff006f"/>
<path d="M438.7,440.6l3.2-.3 3.4,.3" class="m"/>
<path d="M438.3,443.9l3.5,.3 3.2,.6 3.3-3.7-3-.5-3.4-.3Z" fill="#ff0085"/>
<path d="M441.9,440.3l3.4,.3 3,.5" class="m"/>
<path d="M426.5,480.5l.9-8.2 .1-1.4 1.2-9.2 1-5.8 .5-2.7 1.6-5.6 1.2-1.2-1.6,5.5-.5,2.8-1,5.7-1.2,9.2-.1,1.4-.9,8.1Z" fill="#8900d6"/>
<path d="M427.7,479.1l.9-8.1 .1-1.4 1.2-9.2 1-5.7 .5-2.8 1.6-5.5" class="m"/>
<path d="M430.2,453.2l1.6-5.6 .2-.6 1.2-1.2-.2,.6-1.6,5.5Z" fill="#8100c2"/>
<path d="M431.4,451.9l1.6-5.5 .2-.6" class="m"/>
<path d="M431.8,447.6l.2-.6 2.6-3.8 1.2-1.2-2.6,3.8-.2,.6Z" fill="#7900aa"/>
<path d="M433,446.4l.2-.6 2.6-3.8" class="m"/>
<path d="M425.3,481.8l.9-8.2 .1-1.4 1.2-9.2 1-5.9 .5-2.7 1.6-5.6 .2-.5 1.6-1.7-.2,.6-1.5,5.5-.6,2.8-.9,5.8-1.2,9.1-.2,1.4-.9,8.2Z" fill="#800"/>
<path d="M430.6,448.8l.2-.5 2.6-3.9 1.6-1.7-2.6,3.9-.2,.6Z" fill="#790000"/>
<path d="M424.1,483.2l.8-8.2 .2-1.5 1.2-9.2 .9-5.9 .6-2.7 1.5-5.7 .3-.5 1.6-1.7-.2,.6-1.6,5.6-.5,2.7-1,5.8-1.1,9.2-.2,1.5-.9,8.1Z" fill="#800"/>
<path d="M429.3,450l.3-.5 2.5-3.9 1.7-1.7-2.6,3.9-.2,.6Z" fill="#790000"/>
<path d="M334.5,426.4l1.6,.9 2.4,2.3 2,4.6 4.8-3.2-2-4.5-2.3-2.3-1.8-1Z" fill="#00f700"/>
<path d="M339.2,423.2l1.8,1 2.3,2.3 2,4.5" class="m"/>
<path d="M338.5,429.6l2,4.6 .1,.6 1.2,5.8 4.7-3.3-1.1-5.7-.1-.6-2-4.5Z" fill="#00d900"/>
<path d="M343.3,426.5l2,4.5 .1,.6 1.1,5.7" class="m"/>
<path d="M340.6,434.8l1.2,5.8 .3,2.8 .6,5.7 .7,9.1 .1,1.4 .4,8 4.6-3.6-.4-7.9-.1-1.4-.6-8.9-.5-5.7-.4-2.8-1.1-5.7Z" fill="#00c200"/>
<path d="M345.4,431.6l1.1,5.7 .4,2.8 .5,5.7 .6,8.9 .1,1.4 .4,7.9" class="m"/>
<path d="M347.9,468.6l.1-7.9 0-1.4 .2-8.8 .3-5.7 .3-2.6 .8-5.4 4.7-3.2-.9,5.3-.2,2.6-.3,5.6-.3,8.7-.1,1.4-.1,7.8Z" fill="#895700"/>
<path d="M352.4,465l.1-7.8 .1-1.4 .3-8.7 .3-5.6 .2-2.6 .9-5.3" class="m"/>
<path d="M348.8,442.2l.8-5.4 .2-.5 1.8-3.8 4.7-3.2-1.8,3.7-.2,.6-.9,5.3Z" fill="#7d4300"/>
<path d="M353.4,438.9l.9-5.3 .2-.6 1.8-3.7" class="m"/>
<path d="M351.6,432.5l2.4-1.4 4.7-3.2-2.4,1.4Z" fill="#ff3c00"/>
<path d="M356.3,429.3l2.4-1.4" class="m"/>
<path d="M351.6,432.5l2.4-1.4 2.7-.3 4.7-3.2-2.7,.3-2.4,1.4Z" fill="#00ab00"/>
<path d="M356.3,429.3l2.4-1.4 2.7-.3" class="m"/>
<path d="M354,431.1l2.7-.3 3,.3 4.6-3.2-2.9-.3-2.7,.3Z" fill="#00c300"/>
<path d="M358.7,427.9l2.7-.3 2.9,.3" class="m"/>
<path d="M356.7,430.8l3,.3 3.1,.5 3.1,.8 4.6-3.2-3.1-.8-3.1-.5-2.9-.3Z" fill="#ff6a00"/>
<path d="M361.4,427.6l2.9,.3 3.1,.5 3.1,.8" class="m"/>
<path d="M362.8,431.6l3.1,.8 3.1,1.1 4.5-3.3-3-1-3.1-.8Z" fill="#00e400"/>
<path d="M367.4,428.4l3.1,.8 3,1" class="m"/>
<path d="M365.9,432.4l3.1,1.1 2.8,1.5 2.5,2.5 4.4-3.4-2.4-2.4-2.8-1.5-3-1Z" fill="#00fa00"/>
<path d="M370.5,429.2l3,1 2.8,1.5 2.4,2.4" class="m"/>
<path d="M371.8,435l2.5,2.5 1.9,4.7 4.5-3.4-2-4.7-2.4-2.4Z" fill="#fa7900"/>
<path d="M376.3,431.7l2.4,2.4 2,4.7" class="m"/>
<path d="M374.3,437.5l1.9,4.7 .2,.6 4.4-3.4-.1-.6-2-4.7Z" fill="#d26f00"/>
<path d="M378.7,434.1l2,4.7 .1,.6" class="m"/>
<path d="M376.2,442.2l.2,.6 1,6 4.3-3.5-.9-5.9-.1-.6Z" fill="#bd6a00"/>
<path d="M380.7,438.8l.1,.6 .9,5.9" class="m"/>
<path d="M376.4,442.8l1,6 .2,2.8 .4,6 4.3-3.6-.3-5.9-.3-2.8-.9-5.9Z" fill="#a86400"/>
<path d="M380.8,439.4l.9,5.9 .3,2.8 .3,5.9" class="m"/>
<path d="M377.6,451.6l.4,6 .3,9.3 .1,1.4 .1,8.2 4.2-3.8-.1-8.1 0-1.4-.3-9.2-.3-5.9Z" fill="#9a6000"/>
<path d="M382,448.1l.3,5.9 .3,9.2 0,1.4 .1,8.1" class="m"/>
<path d="M382.8,477.6l.4-8.1 .1-1.4 .6-9.1 .6-5.8 .4-2.7 4.3-3.5-.4,2.6-.6,5.7-.7,9-.1,1.4-.5,8.1Z" fill="#00b000"/>
<path d="M386.9,473.8l.5-8.1 .1-1.4 .7-9 .6-5.7 .4-2.6" class="m"/>
<path d="M384.5,453.2l.4-2.7 1.2-5.5 .2-.6 4.3-3.5-.2,.6-1.2,5.5-.4,2.6Z" fill="#009a00"/>
<path d="M388.8,449.6l.4-2.6 1.2-5.5 .2-.6" class="m"/>
<path d="M386.1,445l.2-.6 2.2-3.8 4.3-3.5-2.2,3.8-.2,.6Z" fill="#793c00"/>
<path d="M390.4,441.5l.2-.6 2.2-3.8" class="m"/>
<path d="M388.5,440.6l2.6-1.4 4.3-3.5-2.6,1.4Z" fill="#ff3c00"/>
<path d="M392.8,437.1l2.6-1.4" class="m"/>
<path d="M388.5,440.6l2.6-1.4 3-.3 3.2,.3 4.2-3.5-3.2-.3-2.9,.3-2.6,1.4Z" fill="#ff5b00"/>
<path d="M392.8,437.1l2.6-1.4 2.9-.3 3.2,.3" class="m"/>
<path d="M394.1,438.9l3.2,.3 3.4,.6 4.2-3.5-3.4-.6-3.2-.3Z" fill="#ff6800"/>
<path d="M398.3,435.4l3.2,.3 3.4,.6" class="m"/>
<path d="M397.3,439.2l3.4,.6 3.4,.8 3.3,1.2 4-3.6-3.2-1.1-3.3-.8-3.4-.6Z" fill="#00df00"/>
<path d="M401.5,435.7l3.4,.6 3.3,.8 3.2,1.1" class="m"/>
<path d="M404.1,440.6l3.3,1.2 3,1.6 4-3.6-3-1.6-3.2-1.1Z" fill="#ff7a00"/>
<path d="M408.2,437.1l3.2,1.1 3,1.6" class="m"/>
<path d="M410.1,439.4l3,1.6 2.5,2.5 2,4.9 1.3-1.3-2-4.8-2.5-2.5-3-1.6Z" fill="#fc7d00"/>
<path d="M411.4,438.2l3,1.6 2.5,2.5 2,4.8" class="m"/>
<path d="M415.6,443.5l2,4.9 .1,.6 1.3-1.2-.1-.7-2-4.8Z" fill="#d26f00"/>
<path d="M416.9,442.3l2,4.8 .1,.7" class="m"/>
<path d="M417.6,448.4l.1,.6 .7,6.1 1.3-1.3-.7-6-.1-.7Z" fill="#bd6a00"/>
<path d="M418.9,447.1l.1,.7 .7,6" class="m"/>
<path d="M417.7,449l.7,6.1 .2,2.9 1.3-1.3-.2-2.9-.7-6Z" fill="#ac6500"/>
<path d="M419,447.8l.7,6 .2,2.9" class="m"/>
<path d="M418.4,455.1l.2,2.9 .1,6.1-.1,9.5 0,1.4-.3,8.4 1.2-1.4 .3-8.3 0-1.5 .2-9.4-.1-6.1-.2-2.9Z" fill="#00c000"/>
<path d="M419.7,453.8l.2,2.9 .1,6.1-.2,9.4 0,1.5-.3,8.3" class="m"/>
<path d="M408.7,440.6l3,1.6 2.6,2.5 1.9,4.9 1.8-1.7-1.9-4.8-2.6-2.5-2.9-1.6Z" fill="#fc7d00"/>
<path d="M414.3,444.7l1.9,4.9 .2,.6 1.7-1.6-.1-.7-1.9-4.8Z" fill="#d26f00"/>
<path d="M416.2,449.6l.2,.6 .7,6.2 1.8-1.8-.8-6-.1-.7Z" fill="#bd6a00"/>
<path d="M416.4,450.2l.7,6.2 .2,2.9 1.7-1.7-.1-3-.8-6Z" fill="#ac6500"/>
<path d="M417.1,456.4l.2,2.9 .1,6.1-.1,9.5 0,1.5-.3,8.4 1.7-1.9 .3-8.3 0-1.5 .2-9.5-.2-6-.1-3Z" fill="#00c100"/>
<path d="M407.4,441.8l3,1.6 2.6,2.6 1.9,4.8 1.8-1.6-1.9-4.9-2.6-2.6-3-1.5Z" fill="#fc7d00"/>
<path d="M413,446l1.9,4.8 .1,.7 1.8-1.7-.1-.6-1.9-4.9Z" fill="#d26f00"/>
<path d="M414.9,450.8l.1,.7 .8,6.1 1.8-1.7-.8-6.1-.1-.6Z" fill="#bd6a00"/>
<path d="M415,451.5l.8,6.1 .2,3 1.7-1.8-.1-2.9-.8-6.1Z" fill="#ac6500"/>
<path d="M415.8,457.6l.2,3 .1,6.1-.1,9.6 0,1.4-.3,8.5 1.8-1.9 .2-8.4 .1-1.5 .1-9.5-.2-6.1-.1-2.9Z" fill="#00c100"/>
<path d="M428.3,449.3l3-1.4 3.7-3.7-2.9,1.4Z" fill="#ff3c00"/>
<path d="M432.1,445.6l2.9-1.4" class="m"/>
<path d="M428.3,449.3l3-1.4 3.3-.2 3.7-3.8-3.3,.3-2.9,1.4Z" fill="#00ab00"/>
<path d="M432.1,445.6l2.9-1.4 3.3-.3" class="m"/>
<path d="M431.3,447.9l3.3-.2 3.5,.3 3.5,.6 3.4-3.8-3.2-.6-3.5-.3-3.3,.3Z" fill="#00ca00"/>
<path d="M435,444.2l3.3-.3 3.5,.3 3.2,.6" class="m"/>
<path d="M438.1,448l3.5,.6 3.4-3.8-3.2-.6Z" fill="#00d900"/>
<path d="M441.8,444.2l3.2,.6" class="m"/>
<path d="M422.8,484.6l.9-8.3 .2-1.4 1.1-9.3 1-5.9 .5-2.8 1.3-1.2-.6,2.7-.9,5.9-1.2,9.2-.2,1.5-.8,8.2Z" fill="#00b000"/>
<path d="M424.1,483.2l.8-8.2 .2-1.5 1.2-9.2 .9-5.9 .6-2.7" class="m"/>
<path d="M426,459.7l.5-2.8 1.6-5.6 .2-.6 1.3-1.2-.3,.5-1.5,5.7-.6,2.7Z" fill="#834d00"/>
<path d="M427.2,458.4l.6-2.7 1.5-5.7 .3-.5" class="m"/>
<path d="M428.1,451.3l.2-.6 2.6-3.9 1.2-1.2-2.5,3.9-.3,.5Z" fill="#793c00"/>
<path d="M429.3,450l.3-.5 2.5-3.9" class="m"/>
<path d="M421.6,485.9l.9-8.2 .1-1.5 1.2-9.3 .9-5.9 .6-2.8 1.5-5.6 1.7-1.7-1.5,5.6-.6,2.7-.9,5.9-1.2,9.3-.2,1.4-.8,8.3Z" fill="#895700"/>
<path d="M425.3,458.2l1.5-5.6 .2-.6 2.6-3.9 1.7-1.7-2.5,3.9-.3,.6-1.5,5.6Z" fill="#7d4300"/>
<path d="M420.3,487.3l.9-8.3 .2-1.4 1.1-9.4 .9-5.9 .6-2.8 1.5-5.7 1.8-1.7-1.6,5.7-.5,2.7-1,5.9-1.1,9.3-.2,1.5-.9,8.3Z" fill="#895700"/>
<path d="M424,459.5l1.5-5.7 .3-.5 2.5-4 1.8-1.7-2.6,4-.2,.5-1.6,5.7Z" fill="#7d4300"/>
<path d="M329.6,429.6l1.4,.8 5.1-3.1-1.6-.9Z" fill="#ff00b3"/>
<path d="M334.5,426.4l1.6,.9" class="m"/>
<path d="M329.6,429.6l1.4,.8 2.4,2.5 5.1-3.3-2.4-2.3-1.6-.9Z" fill="#ff00da"/>
<path d="M334.5,426.4l1.6,.9 2.4,2.3" class="m"/>
<path d="M331,430.4l2.4,2.5 2.1,4.6 5-3.3-2-4.6-2.4-2.3Z" fill="#fa00ef"/>
<path d="M336.1,427.3l2.4,2.3 2,4.6" class="m"/>
<path d="M333.4,432.9l2.1,4.6 .2,.6 4.9-3.3-.1-.6-2-4.6Z" fill="#d200ed"/>
<path d="M338.5,429.6l2,4.6 .1,.6" class="m"/>
<path d="M335.5,437.5l.2,.6 1.2,5.8 4.9-3.3-1.2-5.8-.1-.6Z" fill="#bd00e9"/>
<path d="M340.5,434.2l.1,.6 1.2,5.8" class="m"/>
<path d="M335.7,438.1l1.2,5.8 .3,2.8 .7,5.9 4.8-3.5-.6-5.7-.3-2.8-1.2-5.8Z" fill="#a800e4"/>
<path d="M340.6,434.8l1.2,5.8 .3,2.8 .6,5.7" class="m"/>
<path d="M337.2,446.7l.7,5.9 .7,9.1 .1,1.5 .5,8 4.7-3.6-.4-8-.1-1.4-.7-9.1-.6-5.7Z" fill="#9a00e1"/>
<path d="M342.1,443.4l.6,5.7 .7,9.1 .1,1.4 .4,8" class="m"/>
<path d="M343.2,472.3l0-8 0-1.4 .2-8.9 .3-5.7 .2-2.7 .9-5.4 .1-.6 4.9-3.3-.2,.5-.8,5.4-.3,2.6-.3,5.7-.2,8.8 0,1.4-.1,7.9Z" fill="#800"/>
<path d="M347.9,468.6l.1-7.9 0-1.4 .2-8.8 .3-5.7 .3-2.6 .8-5.4 .2-.5" class="m"/>
<path d="M344.8,440.2l.1-.6 1.8-3.8 4.9-3.3-1.8,3.8-.2,.5Z" fill="#790000"/>
<path d="M349.6,436.8l.2-.5 1.8-3.8" class="m"/>
<path d="M346.7,435.8l2.4-1.4 4.9-3.3-2.4,1.4Z" fill="#f00"/>
<path d="M351.6,432.5l2.4-1.4" class="m"/>
<path d="M346.7,435.8l2.4-1.4 2.7-.3 4.9-3.3-2.7,.3-2.4,1.4Z" fill="#ff005a"/>
<path d="M351.6,432.5l2.4-1.4 2.7-.3" class="m"/>
<path d="M349.1,434.4l2.7-.3 3.1,.3 4.8-3.3-3-.3-2.7,.3Z" fill="#ff006f"/>
<path d="M354,431.1l2.7-.3 3,.3" class="m"/>
<path d="M351.8,434.1l3.1,.3 3.1,.6 3.2,.8 4.7-3.4-3.1-.8-3.1-.5-3-.3Z" fill="#f00"/>
<path d="M356.7,430.8l3,.3 3.1,.5 3.1,.8" class="m"/>
<path d="M358,435l3.2,.8 3.1,1.1 4.7-3.4-3.1-1.1-3.1-.8Z" fill="#f09"/>
<path d="M362.8,431.6l3.1,.8 3.1,1.1" class="m"/>
<path d="M361.2,435.8l3.1,1.1 2.8,1.5 4.7-3.4-2.8-1.5-3.1-1.1Z" fill="#ff00b3"/>
<path d="M365.9,432.4l3.1,1.1 2.8,1.5" class="m"/>
<path d="M364.3,436.9l2.8,1.5 2.5,2.6 4.7-3.5-2.5-2.5-2.8-1.5Z" fill="#ff00da"/>
<path d="M369,433.5l2.8,1.5 2.5,2.5" class="m"/>
<path d="M367.1,438.4l2.5,2.6 2.1,4.7 4.5-3.5-1.9-4.7-2.5-2.5Z" fill="#fa0000"/>
<path d="M371.8,435l2.5,2.5 1.9,4.7" class="m"/>
<path d="M369.6,441l2.1,4.7 .1,.7 4.6-3.6-.2-.6-1.9-4.7Z" fill="#d20000"/>
<path d="M374.3,437.5l1.9,4.7 .2,.6" class="m"/>
<path d="M371.7,445.7l.1,.7 1,6 4.6-3.6-1-6-.2-.6Z" fill="#bd0000"/>
<path d="M376.2,442.2l.2,.6 1,6" class="m"/>
<path d="M371.8,446.4l1,6 .3,2.9 .4,6 4.5-3.7-.4-6-.2-2.8-1-6Z" fill="#a80000"/>
<path d="M376.4,442.8l1,6 .2,2.8 .4,6" class="m"/>
<path d="M373.1,455.3l.4,6 .4,9.4 .1,1.5 .1,8.3 4.4-4-.1-8.2-.1-1.4-.3-9.3-.4-6Z" fill="#9a0000"/>
<path d="M377.6,451.6l.4,6 .3,9.3 .1,1.4 .1,8.2" class="m"/>
<path d="M378.4,481.6l.4-8.2 .1-1.4 .6-9.2 .6-5.9 .4-2.7 1.1-5.6 4.5-3.6-1.2,5.5-.4,2.7-.6,5.8-.6,9.1-.1,1.4-.4,8.1Z" fill="#8900d7"/>
<path d="M382.8,477.6l.4-8.1 .1-1.4 .6-9.1 .6-5.8 .4-2.7 1.2-5.5" class="m"/>
<path d="M380.5,454.2l1.1-5.6 .2-.5 4.5-3.7-.2,.6-1.2,5.5Z" fill="#8100c2"/>
<path d="M384.9,450.5l1.2-5.5 .2-.6" class="m"/>
<path d="M381.6,448.6l.2-.5 2.2-3.9 4.5-3.6-2.2,3.8-.2,.6Z" fill="#790000"/>
<path d="M386.1,445l.2-.6 2.2-3.8" class="m"/>
<path d="M384,444.2l2.7-1.4 3-.3 3.3,.3 3.4,.6 4.3-3.6-3.4-.6-3.2-.3-3,.3-2.6,1.4Z" fill="#f00"/>
<path d="M388.5,440.6l2.6-1.4 3-.3 3.2,.3 3.4,.6" class="m"/>
<path d="M393,442.8l3.4,.6 3.4,.9 3.3,1.2 4.3-3.7-3.3-1.2-3.4-.8-3.4-.6Z" fill="#ff0092"/>
<path d="M397.3,439.2l3.4,.6 3.4,.8 3.3,1.2" class="m"/>
<path d="M399.8,444.3l3.3,1.2 3.1,1.6 4.2-3.7-3-1.6-3.3-1.2Z" fill="#f00"/>
<path d="M404.1,440.6l3.3,1.2 3,1.6" class="m"/>
<path d="M406,443l3,1.6 2.6,2.6 2,4.9 1.3-1.3-1.9-4.8-2.6-2.6-3-1.6Z" fill="#fc0000"/>
<path d="M407.4,441.8l3,1.6 2.6,2.6 1.9,4.8" class="m"/>
<path d="M411.6,447.2l2,4.9 .1,.7 1.3-1.3-.1-.7-1.9-4.8Z" fill="#d20000"/>
<path d="M413,446l1.9,4.8 .1,.7" class="m"/>
<path d="M413.6,452.1l.1,.7 .8,6.1 1.3-1.3-.8-6.1-.1-.7Z" fill="#bd0000"/>
<path d="M414.9,450.8l.1,.7 .8,6.1" class="m"/>
<path d="M413.7,452.8l.8,6.1 .2,3 1.3-1.3-.2-3-.8-6.1Z" fill="#ac0000"/>
<path d="M415,451.5l.8,6.1 .2,3" class="m"/>
<path d="M414.5,458.9l.2,3 .1,6.1-.1,9.6 0,1.5-.2,8.5 1.2-1.4 .3-8.5 0-1.4 .1-9.6-.1-6.1-.2-3Z" fill="#9c00e1"/>
<path d="M415.8,457.6l.2,3 .1,6.1-.1,9.6 0,1.4-.3,8.5" class="m"/>
<path d="M404.6,444.2l3,1.6 2.6,2.7 2,4.9 1.8-1.7-1.9-4.9-2.6-2.6-3-1.6Z" fill="#fd0000"/>
<path d="M410.2,448.5l2,4.9 .1,.6 1.9-1.7-.2-.6-1.9-4.9Z" fill="#d20000"/>
<path d="M412.2,453.4l.1,.6 .8,6.2 1.9-1.7-.8-6.2-.2-.6Z" fill="#bd0000"/>
<path d="M412.3,454l.8,6.2 .2,3 1.8-1.8-.1-2.9-.8-6.2Z" fill="#ac0000"/>
<path d="M413.1,460.2l.2,3 .2,6.2-.1,9.6 0,1.5-.3,8.5 1.8-1.9 .2-8.5 .1-1.5 .1-9.5-.2-6.2-.1-2.9Z" fill="#9c00e1"/>
<path d="M403.1,445.5l3.1,1.6 2.6,2.6 2,5 1.9-1.8-2-4.9-2.6-2.6-3-1.6Z" fill="#fd0000"/>
<path d="M408.8,449.7l2,5 .2,.6 1.8-1.7-.1-.7-2-4.9Z" fill="#d20000"/>
<path d="M410.8,454.7l.2,.6 .8,6.3 1.8-1.8-.8-6.2-.1-.7Z" fill="#bd0000"/>
<path d="M411,455.3l.8,6.3 .1,2.9 .2,6.2 1.8-1.8-.1-6.2-.2-2.9-.8-6.2Z" fill="#a80000"/>
<path d="M411.9,464.5l.2,6.2 0,9.7-.1,1.5-.2,8.5 1.8-1.9 .2-8.5 .1-1.5 0-9.6-.1-6.2Z" fill="#9a00e1"/>
<path d="M424.4,453.2l3-1.4 3.9-3.9-3,1.4Z" fill="#f00"/>
<path d="M428.3,449.3l3-1.4" class="m"/>
<path d="M424.4,453.2l3-1.4 3.3-.3 3.9-3.8-3.3,.2-3,1.4Z" fill="#ff005a"/>
<path d="M428.3,449.3l3-1.4 3.3-.2" class="m"/>
<path d="M427.4,451.8l3.3-.3 3.6,.4 3.8-3.9-3.5-.3-3.3,.2Z" fill="#ff006f"/>
<path d="M431.3,447.9l3.3-.2 3.5,.3" class="m"/>
<path d="M430.7,451.5l3.6,.4 3.7,.7 .1,0 3.5-4-3.5-.6-3.5-.3Z" fill="#ff0085"/>
<path d="M434.6,447.7l3.5,.3 3.5,.6" class="m"/>
<path d="M419.1,488.8l.8-8.4 .2-1.4 1.1-9.4 .9-6 .6-2.8 1.5-5.7 1.3-1.3-1.5,5.7-.6,2.8-.9,5.9-1.1,9.4-.2,1.4-.9,8.3Z" fill="#8900d6"/>
<path d="M420.3,487.3l.9-8.3 .2-1.4 1.1-9.4 .9-5.9 .6-2.8 1.5-5.7" class="m"/>
<path d="M422.7,460.8l1.5-5.7 .3-.5 1.3-1.3-.3,.5-1.5,5.7Z" fill="#8100c2"/>
<path d="M424,459.5l1.5-5.7 .3-.5" class="m"/>
<path d="M424.2,455.1l.3-.5 2.6-4 1.2-1.3-2.5,4-.3,.5Z" fill="#7900aa"/>
<path d="M425.5,453.8l.3-.5 2.5-4" class="m"/>
<path d="M417.8,490.2l.8-8.4 .2-1.4 1.1-9.5 .9-5.9 .6-2.8 1.5-5.8 1.8-1.7-1.6,5.7-.5,2.8-.9,5.9-1.2,9.4-.1,1.4-.9,8.4Z" fill="#8900d7"/>
<path d="M421.4,462.2l1.5-5.8 .2-.5 1.8-1.8-.2,.6-1.6,5.7Z" fill="#8100c2"/>
<path d="M422.9,456.4l.2-.5 2.6-4 1.8-1.7-2.6,3.9-.2,.6Z" fill="#7900ab"/>
<path d="M416.5,491.6l.8-8.4 .2-1.4 1.7-1.9-.1,1.4-.9,8.4Z" fill="#8b00db"/>
<path d="M417.3,483.2l.2-1.4 1.1-9.5 .9-6 .5-2.8 1.6-5.7 .2-.6 1.8-1.8-.2,.6-1.6,5.7-.5,2.8-.9,6-1.2,9.4-.1,1.4Z" fill="#870000"/>
<path d="M421.6,457.8l.2-.6 2.6-4 1.8-1.7-2.6,3.9-.2,.6Z" fill="#790000"/>
<path d="M324.6,433l1.2,.7 2.5,2.5 2.1,4.7 5.1-3.4-2.1-4.6-2.4-2.5-1.4-.8Z" fill="#00f700"/>
<path d="M329.6,429.6l1.4,.8 2.4,2.5 2.1,4.6" class="m"/>
<path d="M328.3,436.2l2.1,4.7 .1,.6 1.3,5.9 5.1-3.5-1.2-5.8-.2-.6-2.1-4.6Z" fill="#00d900"/>
<path d="M333.4,432.9l2.1,4.6 .2,.6 1.2,5.8" class="m"/>
<path d="M330.5,441.5l1.3,5.9 .4,2.8 .6,6 .8,9.2 .2,1.4 .5,8.2 4.9-3.8-.5-8-.1-1.5-.7-9.1-.7-5.9-.3-2.8-1.2-5.8Z" fill="#00c300"/>
<path d="M335.7,438.1l1.2,5.8 .3,2.8 .7,5.9 .7,9.1 .1,1.5 .5,8" class="m"/>
<path d="M338.4,476.1l-.1-8.1 0-1.4 .1-9 .3-5.8 .2-2.7 .8-5.5 5.1-3.4-.9,5.4-.2,2.7-.3,5.7-.2,8.9 0,1.4 0,8Z" fill="#895700"/>
<path d="M343.2,472.3l0-8 0-1.4 .2-8.9 .3-5.7 .2-2.7 .9-5.4" class="m"/>
<path d="M338.9,449.1l.8-5.5 .1-.5 1.9-3.9 5-3.4-1.8,3.8-.1,.6-.9,5.4Z" fill="#7d4300"/>
<path d="M343.9,445.6l.9-5.4 .1-.6 1.8-3.8" class="m"/>
<path d="M341.7,439.2l2.4-1.4 5-3.4-2.4,1.4Z" fill="#ff3c00"/>
<path d="M346.7,435.8l2.4-1.4" class="m"/>
<path d="M341.7,439.2l2.4-1.4 2.7-.3 5-3.4-2.7,.3-2.4,1.4Z" fill="#00ab00"/>
<path d="M346.7,435.8l2.4-1.4 2.7-.3" class="m"/>
<path d="M344.1,437.8l2.7-.3 3.1,.3 5-3.4-3.1-.3-2.7,.3Z" fill="#00c300"/>
<path d="M349.1,434.4l2.7-.3 3.1,.3" class="m"/>
<path d="M346.8,437.5l3.1,.3 3.2,.6 3.2,.9 4.9-3.5-3.2-.8-3.1-.6-3.1-.3Z" fill="#ff6a00"/>
<path d="M351.8,434.1l3.1,.3 3.1,.6 3.2,.8" class="m"/>
<path d="M353.1,438.4l3.2,.9 3.1,1.1 4.9-3.5-3.1-1.1-3.2-.8Z" fill="#00e400"/>
<path d="M358,435l3.2,.8 3.1,1.1" class="m"/>
<path d="M356.3,439.3l3.1,1.1 2.9,1.6 2.5,2.5 4.8-3.5-2.5-2.6-2.8-1.5-3.1-1.1Z" fill="#00fa00"/>
<path d="M361.2,435.8l3.1,1.1 2.8,1.5 2.5,2.6" class="m"/>
<path d="M362.3,442l2.5,2.5 2.1,4.9 4.8-3.7-2.1-4.7-2.5-2.6Z" fill="#fa7900"/>
<path d="M367.1,438.4l2.5,2.6 2.1,4.7" class="m"/>
<path d="M364.8,444.5l2.1,4.9 .2,.6 4.7-3.6-.1-.7-2.1-4.7Z" fill="#d27000"/>
<path d="M369.6,441l2.1,4.7 .1,.7" class="m"/>
<path d="M366.9,449.4l.2,.6 1,6.1 4.7-3.7-1-6-.1-.7Z" fill="#bd6a00"/>
<path d="M371.7,445.7l.1,.7 1,6" class="m"/>
<path d="M367.1,450l1,6.1 .4,3 .4,6.1 4.6-3.9-.4-6-.3-2.9-1-6Z" fill="#a86400"/>
<path d="M371.8,446.4l1,6 .3,2.9 .4,6" class="m"/>
<path d="M368.5,459.1l.4,6.1 .4,9.5 .1,1.4 .2,8.4 4.5-4-.1-8.3-.1-1.5-.4-9.4-.4-6Z" fill="#9a6000"/>
<path d="M373.1,455.3l.4,6 .4,9.4 .1,1.5 .1,8.3" class="m"/>
<path d="M374,485.7l.3-8.3 .1-1.4 .6-9.3 .5-5.9 .4-2.8 4.6-3.8-.4,2.7-.6,5.9-.6,9.2-.1,1.4-.4,8.2Z" fill="#00b000"/>
<path d="M378.4,481.6l.4-8.2 .1-1.4 .6-9.2 .6-5.9 .4-2.7" class="m"/>
<path d="M375.5,460.8l.4-2.8 1.1-5.6 .2-.6 4.6-3.7-.2,.5-1.1,5.6-.4,2.7Z" fill="#009b00"/>
<path d="M380.1,456.9l.4-2.7 1.1-5.6 .2-.5" class="m"/>
<path d="M377,452.4l.2-.6 2.2-3.9 4.6-3.7-2.2,3.9-.2,.5Z" fill="#793c00"/>
<path d="M381.6,448.6l.2-.5 2.2-3.9" class="m"/>
<path d="M379.4,447.9l2.7-1.5 4.6-3.6-2.7,1.4Z" fill="#ff3c00"/>
<path d="M384,444.2l2.7-1.4" class="m"/>
<path d="M379.4,447.9l2.7-1.5 3-.2 3.3,.3 4.6-3.7-3.3-.3-3,.3-2.7,1.4Z" fill="#ff5b00"/>
<path d="M384,444.2l2.7-1.4 3-.3 3.3,.3" class="m"/>
<path d="M385.1,446.2l3.3,.3 3.5,.7 4.5-3.8-3.4-.6-3.3-.3Z" fill="#ff6800"/>
<path d="M389.7,442.5l3.3,.3 3.4,.6" class="m"/>
<path d="M388.4,446.5l3.5,.7 3.5,.9 3.3,1.2 4.4-3.8-3.3-1.2-3.4-.9-3.4-.6Z" fill="#00df00"/>
<path d="M393,442.8l3.4,.6 3.4,.9 3.3,1.2" class="m"/>
<path d="M395.4,448.1l3.3,1.2 3.1,1.6 4.4-3.8-3.1-1.6-3.3-1.2Z" fill="#ff7a00"/>
<path d="M399.8,444.3l3.3,1.2 3.1,1.6" class="m"/>
<path d="M401.7,446.7l3.1,1.6 2.6,2.7 2,5 1.4-1.3-2-5-2.6-2.6-3.1-1.6Z" fill="#fd7d00"/>
<path d="M403.1,445.5l3.1,1.6 2.6,2.6 2,5" class="m"/>
<path d="M407.4,451l2,5 .2,.6 1.4-1.3-.2-.6-2-5Z" fill="#d27000"/>
<path d="M408.8,449.7l2,5 .2,.6" class="m"/>
<path d="M409.4,456l.2,.6 .8,6.3 1.4-1.3-.8-6.3-.2-.6Z" fill="#bd6a00"/>
<path d="M410.8,454.7l.2,.6 .8,6.3" class="m"/>
<path d="M409.6,456.6l.8,6.3 .2,3 .1,6.2 0,9.7 0,1.5-.2,8.6 1.3-1.5 .2-8.5 .1-1.5 0-9.7-.2-6.2-.1-2.9-.8-6.3Z" fill="#00c300"/>
<path d="M411,455.3l.8,6.3 .1,2.9 .2,6.2 0,9.7-.1,1.5-.2,8.5" class="m"/>
<path d="M400.2,448l3.1,1.6 2.7,2.7 2,5 1.9-1.8-2-4.9-2.6-2.7-3.1-1.6Z" fill="#fd7d00"/>
<path d="M406,452.3l2,5 .1,.7 1.9-1.8-.1-.7-2-4.9Z" fill="#d27000"/>
<path d="M408,457.3l.1,.7 .9,6.2 1.9-1.8-.9-6.2-.1-.7Z" fill="#bd6a00"/>
<path d="M408.1,458l.9,6.2 .2,3 1.8-1.8-.1-3-.9-6.2Z" fill="#ac6500"/>
<path d="M409,464.2l.2,3 .2,6.3-.1,9.7 0,1.5-.2,8.6 1.9-1.9 .2-8.6 0-1.5 0-9.7-.2-6.2-.1-3Z" fill="#00c100"/>
<path d="M398.7,449.3l3.1,1.6 2.7,2.7 2.1,5 1.9-1.8-2-5-2.7-2.6-3.1-1.7Z" fill="#fd7d00"/>
<path d="M404.5,453.6l2.1,5 .1,.7 1.9-1.8-.1-.7-2-5Z" fill="#d27000"/>
<path d="M406.6,458.6l.1,.7 .9,6.3 1.9-1.8-.9-6.3-.1-.7Z" fill="#bd6a00"/>
<path d="M406.7,459.3l.9,6.3 .1,3 .2,6.3 0,9.8 0,1.5-.1,8.6 1.8-2 .2-8.6 0-1.5 0-9.7-.1-6.2-.2-3-.9-6.3Z" fill="#00c300"/>
<path d="M420.3,457.2l3-1.4 4.1-4-3,1.4Z" fill="#ff3c00"/>
<path d="M424.4,453.2l3-1.4" class="m"/>
<path d="M420.3,457.2l3-1.4 3.4-.2 4-4.1-3.3,.3-3,1.4Z" fill="#00ab00"/>
<path d="M424.4,453.2l3-1.4 3.3-.3" class="m"/>
<path d="M423.3,455.8l3.4-.2 3.6,.3 3.8,.8 3.9-4.1-3.7-.7-3.6-.4-3.3,.3Z" fill="#00ca00"/>
<path d="M427.4,451.8l3.3-.3 3.6,.4 3.7,.7" class="m"/>
<path d="M430.3,455.9l3.8,.8 .3,0 3.7-4.1-.1,0-3.7-.7Z" fill="#00d900"/>
<path d="M434.3,451.9l3.7,.7 .1,0" class="m"/>
<path d="M415.2,493.1l.8-8.4 .1-1.5 1.1-9.5 .9-6 .6-2.8 1.5-5.8 1.4-1.3-1.6,5.7-.5,2.8-.9,6-1.1,9.5-.2,1.4-.8,8.4Z" fill="#895700"/>
<path d="M416.5,491.6l.8-8.4 .2-1.4 1.1-9.5 .9-6 .5-2.8 1.6-5.7" class="m"/>
<path d="M418.7,464.9l1.5-5.8 .3-.6 2.6-4 1.3-1.3-2.6,4-.2,.6-1.6,5.7Z" fill="#7d4300"/>
<path d="M420,463.5l1.6-5.7 .2-.6 2.6-4" class="m"/>
<path d="M413.8,494.6l.8-8.5 .2-1.5 1.1-9.5 .9-6 .5-2.9 1.6-5.8 1.8-1.8-1.5,5.8-.6,2.8-.9,6-1.1,9.5-.2,1.5-.8,8.4Z" fill="#895700"/>
<path d="M417.3,466.2l1.6-5.8 .2-.5 2.6-4 1.8-1.8-2.6,4-.2,.5-1.5,5.8Z" fill="#7d4300"/>
<path d="M412.5,496.1l.8-8.5 .1-1.5 1.1-9.6 1.9-1.9-1.1,9.5-.2,1.5-.8,8.5Z" fill="#00b300"/>
<path d="M413.4,486.1l1.1-9.6 .9-6 .5-2.9 1.6-5.8 .2-.6 1.9-1.8-.3,.6-1.5,5.7-.5,2.9-.9,6-1.1,9.5Z" fill="#865200"/>
<path d="M417.5,461.8l.2-.6 2.6-4 1.9-1.8-2.6,4-.3,.6Z" fill="#793c00"/>
<path d="M319.4,436.5l1,.6 5.4-3.4-1.2-.7Z" fill="#ff00b3"/>
<path d="M324.6,433l1.2,.7" class="m"/>
<path d="M319.4,436.5l1,.6 2.5,2.5 5.4-3.4-2.5-2.5-1.2-.7Z" fill="#ff00da"/>
<path d="M324.6,433l1.2,.7 2.5,2.5" class="m"/>
<path d="M320.4,437.1l2.5,2.5 2.1,4.7 5.4-3.4-2.1-4.7-2.5-2.5Z" fill="#fa00ef"/>
<path d="M325.8,433.7l2.5,2.5 2.1,4.7" class="m"/>
<path d="M322.9,439.6l2.1,4.7 .2,.7 5.3-3.5-.1-.6-2.1-4.7Z" fill="#d300ed"/>
<path d="M328.3,436.2l2.1,4.7 .1,.6" class="m"/>
<path d="M325,444.3l.2,.7 1.3,6 5.3-3.6-1.3-5.9-.1-.6Z" fill="#bd00e9"/>
<path d="M330.4,440.9l.1,.6 1.3,5.9" class="m"/>
<path d="M325.2,445l1.3,6 .4,2.8 .7,6 5.2-3.6-.6-6-.4-2.8-1.3-5.9Z" fill="#a800e5"/>
<path d="M330.5,441.5l1.3,5.9 .4,2.8 .6,6" class="m"/>
<path d="M326.9,453.8l.7,6 .9,9.4 .1,1.4 .7,8.3 5-3.9-.5-8.2-.2-1.4-.8-9.2-.6-6Z" fill="#9a00e1"/>
<path d="M332.2,450.2l.6,6 .8,9.2 .2,1.4 .5,8.2" class="m"/>
<path d="M333.3,480l-.1-8.1 0-1.4 .1-9.2 .2-5.8 .2-2.8 .8-5.5 .1-.6 5.2-3.5-.1,.5-.8,5.5-.2,2.7-.3,5.8-.1,9 0,1.4 .1,8.1Z" fill="#800"/>
<path d="M338.4,476.1l-.1-8.1 0-1.4 .1-9 .3-5.8 .2-2.7 .8-5.5 .1-.5" class="m"/>
<path d="M334.5,447.2l.1-.6 1.9-3.8 5.2-3.6-1.9,3.9-.1,.5Z" fill="#790000"/>
<path d="M339.7,443.6l.1-.5 1.9-3.9" class="m"/>
<path d="M336.5,442.8l2.4-1.5 5.2-3.5-2.4,1.4Z" fill="#f00"/>
<path d="M341.7,439.2l2.4-1.4" class="m"/>
<path d="M336.5,442.8l2.4-1.5 2.7-.2 5.2-3.6-2.7,.3-2.4,1.4Z" fill="#ff005a"/>
<path d="M341.7,439.2l2.4-1.4 2.7-.3" class="m"/>
<path d="M338.9,441.3l2.7-.2 3.1,.3 5.2-3.6-3.1-.3-2.7,.3Z" fill="#ff006f"/>
<path d="M344.1,437.8l2.7-.3 3.1,.3" class="m"/>
<path d="M341.6,441.1l3.1,.3 3.2,.6 3.3,.9 5.1-3.6-3.2-.9-3.2-.6-3.1-.3Z" fill="#f00"/>
<path d="M346.8,437.5l3.1,.3 3.2,.6 3.2,.9" class="m"/>
<path d="M347.9,442l3.3,.9 3.2,1.1 5-3.6-3.1-1.1-3.2-.9Z" fill="#f09"/>
<path d="M353.1,438.4l3.2,.9 3.1,1.1" class="m"/>
<path d="M351.2,442.9l3.2,1.1 2.9,1.6 5-3.6-2.9-1.6-3.1-1.1Z" fill="#ff00b3"/>
<path d="M356.3,439.3l3.1,1.1 2.9,1.6" class="m"/>
<path d="M354.4,444l2.9,1.6 2.6,2.6 4.9-3.7-2.5-2.5-2.9-1.6Z" fill="#ff00da"/>
<path d="M359.4,440.4l2.9,1.6 2.5,2.5" class="m"/>
<path d="M357.3,445.6l2.6,2.6 2.1,5 4.9-3.8-2.1-4.9-2.5-2.5Z" fill="#fa0000"/>
<path d="M362.3,442l2.5,2.5 2.1,4.9" class="m"/>
<path d="M359.9,448.2l2.1,5 .2,.6 4.9-3.8-.2-.6-2.1-4.9Z" fill="#d30000"/>
<path d="M364.8,444.5l2.1,4.9 .2,.6" class="m"/>
<path d="M362,453.2l.2,.6 1.1,6.2 4.8-3.9-1-6.1-.2-.6Z" fill="#bd0000"/>
<path d="M366.9,449.4l.2,.6 1,6.1" class="m"/>
<path d="M362.2,453.8l1.1,6.2 .3,3 .5,6.1 4.8-3.9-.4-6.1-.4-3-1-6.1Z" fill="#a80000"/>
<path d="M367.1,450l1,6.1 .4,3 .4,6.1" class="m"/>
<path d="M363.6,463l.5,6.1 .5,9.7 .1,1.4 .2,8.5 4.7-4.2-.2-8.4-.1-1.4-.4-9.5-.4-6.1Z" fill="#9a0000"/>
<path d="M368.5,459.1l.4,6.1 .4,9.5 .1,1.4 .2,8.4" class="m"/>
<path d="M369.3,490l.3-8.4 .1-1.5 .5-9.4 .5-6 .4-2.8 1.1-5.7 4.8-3.8-1.1,5.6-.4,2.8-.5,5.9-.6,9.3-.1,1.4-.3,8.3Z" fill="#8900d7"/>
<path d="M374,485.7l.3-8.3 .1-1.4 .6-9.3 .5-5.9 .4-2.8 1.1-5.6" class="m"/>
<path d="M371.1,461.9l1.1-5.7 .2-.6 4.8-3.8-.2,.6-1.1,5.6Z" fill="#8100c3"/>
<path d="M375.9,458l1.1-5.6 .2-.6" class="m"/>
<path d="M372.2,456.2l.2-.6 2.2-3.9 4.8-3.8-2.2,3.9-.2,.6Z" fill="#790000"/>
<path d="M377,452.4l.2-.6 2.2-3.9" class="m"/>
<path d="M374.6,451.7l2.7-1.4 3.1-.3 3.3,.3 3.5,.7 4.7-3.8-3.5-.7-3.3-.3-3,.2-2.7,1.5Z" fill="#f00"/>
<path d="M379.4,447.9l2.7-1.5 3-.2 3.3,.3 3.5,.7" class="m"/>
<path d="M383.7,450.3l3.5,.7 3.6,1 3.4,1.2 4.5-3.9-3.3-1.2-3.5-.9-3.5-.7Z" fill="#ff0092"/>
<path d="M388.4,446.5l3.5,.7 3.5,.9 3.3,1.2" class="m"/>
<path d="M390.8,452l3.4,1.2 3.1,1.7 4.5-4-3.1-1.6-3.3-1.2Z" fill="#f00"/>
<path d="M395.4,448.1l3.3,1.2 3.1,1.6" class="m"/>
<path d="M397.2,450.6l3.2,1.6 2.6,2.7 2.1,5.1 1.5-1.4-2.1-5-2.7-2.7-3.1-1.6Z" fill="#fd0000"/>
<path d="M398.7,449.3l3.1,1.6 2.7,2.7 2.1,5" class="m"/>
<path d="M403,454.9l2.1,5.1 .2,.7 1.4-1.4-.1-.7-2.1-5Z" fill="#d20000"/>
<path d="M404.5,453.6l2.1,5 .1,.7" class="m"/>
<path d="M405.1,460l.2,.7 .8,6.3 1.5-1.4-.9-6.3-.1-.7Z" fill="#bd00e9"/>
<path d="M406.6,458.6l.1,.7 .9,6.3" class="m"/>
<path d="M405.3,460.7l.8,6.3 .2,3 .2,6.3 1.4-1.4-.2-6.3-.1-3-.9-6.3Z" fill="#a800e5"/>
<path d="M406.7,459.3l.9,6.3 .1,3 .2,6.3" class="m"/>
<path d="M406.3,470l.2,6.3 0,9.8 0,1.6-.1,8.6 1.4-1.5 .1-8.6 0-1.5 0-9.8-.2-6.3Z" fill="#9a00e1"/>
<path d="M407.7,468.6l.2,6.3 0,9.8 0,1.5-.1,8.6" class="m"/>
<path d="M395.7,451.9l3.1,1.7 2.7,2.7 2.1,5.1 2-1.9-2.1-5-2.6-2.7-3.1-1.7Z" fill="#fd0000"/>
<path d="M401.5,456.3l2.1,5.1 .2,.6 2-1.8-.2-.7-2.1-5Z" fill="#d30000"/>
<path d="M403.6,461.4l.2,.6 .9,6.4 1.9-1.9-.8-6.3-.2-.7Z" fill="#bd0000"/>
<path d="M403.8,462l.9,6.4 .2,3 1.9-1.9-.2-3-.8-6.3Z" fill="#ac0000"/>
<path d="M404.7,468.4l.2,3 .2,6.4 0,9.8 0,1.5-.1,8.7 1.9-2 .1-8.7 0-1.5 0-9.8-.2-6.3-.2-3Z" fill="#9d00e2"/>
<path d="M394.2,453.2l3.1,1.7 2.7,2.7 2.1,5.1 2-1.8-2-5.1-2.7-2.7-3.1-1.7Z" fill="#fd0000"/>
<path d="M400,457.6l2.1,5.1 .2,.7 2-1.9-.2-.6-2-5.1Z" fill="#d30000"/>
<path d="M402.1,462.7l.2,.7 .9,6.4 2-1.9-.9-6.4-.2-.6Z" fill="#bd00e9"/>
<path d="M402.3,463.4l.9,6.4 .2,3 .2,6.4 2-1.9-.2-6.4-.2-3-.9-6.4Z" fill="#a800e5"/>
<path d="M403.4,472.8l.2,6.4 .1,9.9 0,1.5-.2,8.8 2-2.1 .1-8.7 0-1.5 0-9.8-.2-6.4Z" fill="#9a00e1"/>
<path d="M416.1,461.4l3-1.5 4.2-4.1-3,1.4Z" fill="#f00"/>
<path d="M420.3,457.2l3-1.4" class="m"/>
<path d="M416.1,461.4l3-1.5 3.4-.2 4.2-4.1-3.4,.2-3,1.4Z" fill="#ff005a"/>
<path d="M420.3,457.2l3-1.4 3.4-.2" class="m"/>
<path d="M419.1,459.9l3.4-.2 3.7,.4 4.1-4.2-3.6-.3-3.4,.2Z" fill="#ff006f"/>
<path d="M423.3,455.8l3.4-.2 3.6,.3" class="m"/>
<path d="M422.5,459.7l3.7,.4 3.8,.8 .6,.1 3.8-4.3-.3,0-3.8-.8-3.6-.3Z" fill="#ff0085"/>
<path d="M426.7,455.6l3.6,.3 3.8,.8 .3,0" class="m"/>
<path d="M411.1,497.6l.8-8.5 .1-1.5 1.1-9.6 .9-6.1 .5-2.9 1.6-5.8 .2-.6 1.4-1.4-.2,.6-1.6,5.8-.5,2.9-.9,6-1.1,9.6-.1,1.5-.8,8.5Z" fill="#800"/>
<path d="M412.5,496.1l.8-8.5 .1-1.5 1.1-9.6 .9-6 .5-2.9 1.6-5.8 .2-.6" class="m"/>
<path d="M416.1,463.2l.2-.6 2.6-4 1.4-1.4-2.6,4-.2,.6Z" fill="#790000"/>
<path d="M417.5,461.8l.2-.6 2.6-4" class="m"/>
<path d="M409.7,499.1l.8-8.5 .1-1.5 1.1-9.7 .9-6.1 .5-2.9 1.5-5.8 .3-.6 1.9-1.9-.2,.6-1.6,5.8-.5,2.9-.9,6.1-1.1,9.6-.1,1.4-.8,8.6Z" fill="#800"/>
<path d="M414.6,464.6l.3-.6 2.6-4 1.9-1.9-2.6,4-.2,.6Z" fill="#790000"/>
<path d="M408.3,500.7l.8-8.6 .1-1.5 1.1-9.7 .8-6.1 .6-2.9 1.5-5.9 1.9-1.9-1.5,5.8-.5,2.9-.9,6.1-1.1,9.6-.1,1.5-.8,8.6Z" fill="#8900d7"/>
<path d="M411.7,471.9l1.5-5.9 .2-.6 2-1.9-.3,.6-1.5,5.8Z" fill="#8100c3"/>
<path d="M413.2,466l.2-.6 2.7-4 1.9-1.9-2.6,4-.3,.6Z" fill="#7900ab"/>
<path d="M314,440.1l.8,.5 2.5,2.5 2.2,4.8 5.5-3.6-2.1-4.7-2.5-2.5-1-.6Z" fill="#00f700"/>
<path d="M319.4,436.5l1,.6 2.5,2.5 2.1,4.7" class="m"/>
<path d="M317.3,443.1l2.2,4.8 .2,.7 1.3,6.1 5.5-3.7-1.3-6-.2-.7-2.1-4.7Z" fill="#00da00"/>
<path d="M322.9,439.6l2.1,4.7 .2,.7 1.3,6" class="m"/>
<path d="M319.7,448.6l1.3,6.1 .5,2.9 .8,6 .9,9.5 .1,1.5 .7,8.3 5.3-4-.7-8.3-.1-1.4-.9-9.4-.7-6-.4-2.8-1.3-6Z" fill="#00c300"/>
<path d="M325.2,445l1.3,6 .4,2.8 .7,6 .9,9.4 .1,1.4 .7,8.3" class="m"/>
<path d="M328.1,484.1l-.1-8.3 0-1.4 0-9.3 .2-5.8 .1-2.8 .8-5.6 5.4-3.7-.8,5.5-.2,2.8-.2,5.8-.1,9.2 0,1.4 .1,8.1Z" fill="#895700"/>
<path d="M333.3,480l-.1-8.1 0-1.4 .1-9.2 .2-5.8 .2-2.8 .8-5.5" class="m"/>
<path d="M328.3,456.5l.8-5.6 .1-.6 1.8-3.9 5.5-3.6-1.9,3.8-.1,.6-.8,5.5Z" fill="#7d4300"/>
<path d="M333.7,452.7l.8-5.5 .1-.6 1.9-3.8" class="m"/>
<path d="M331,446.4l2.4-1.4 5.5-3.7-2.4,1.5Z" fill="#ff3c00"/>
<path d="M336.5,442.8l2.4-1.5" class="m"/>
<path d="M331,446.4l2.4-1.4 2.9-.3 5.3-3.6-2.7,.2-2.4,1.5Z" fill="#00ab00"/>
<path d="M336.5,442.8l2.4-1.5 2.7-.2" class="m"/>
<path d="M333.4,445l2.9-.3 3.1,.3 5.3-3.6-3.1-.3-2.7,.2Z" fill="#00c300"/>
<path d="M338.9,441.3l2.7-.2 3.1,.3" class="m"/>
<path d="M336.3,444.7l3.1,.3 3.2,.7 3.3,.9 5.3-3.7-3.3-.9-3.2-.6-3.1-.3Z" fill="#ff6a00"/>
<path d="M341.6,441.1l3.1,.3 3.2,.6 3.3,.9" class="m"/>
<path d="M342.6,445.7l3.3,.9 3.2,1.1 5.3-3.7-3.2-1.1-3.3-.9Z" fill="#00e400"/>
<path d="M347.9,442l3.3,.9 3.2,1.1" class="m"/>
<path d="M345.9,446.6l3.2,1.1 3,1.7 2.6,2.7 5.2-3.9-2.6-2.6-2.9-1.6-3.2-1.1Z" fill="#00fa00"/>
<path d="M351.2,442.9l3.2,1.1 2.9,1.6 2.6,2.6" class="m"/>
<path d="M352.1,449.4l2.6,2.7 2.2,5 5.1-3.9-2.1-5-2.6-2.6Z" fill="#fa7900"/>
<path d="M357.3,445.6l2.6,2.6 2.1,5" class="m"/>
<path d="M354.7,452.1l2.2,5 .2,.6 5.1-3.9-.2-.6-2.1-5Z" fill="#d37000"/>
<path d="M359.9,448.2l2.1,5 .2,.6" class="m"/>
<path d="M356.9,457.1l.2,.6 1.1,6.3 5.1-4-1.1-6.2-.2-.6Z" fill="#bd6a00"/>
<path d="M362,453.2l.2,.6 1.1,6.2" class="m"/>
<path d="M357.1,457.7l1.1,6.3 .4,3 .5,6.2 5-4.1-.5-6.1-.3-3-1.1-6.2Z" fill="#a86400"/>
<path d="M362.2,453.8l1.1,6.2 .3,3 .5,6.1" class="m"/>
<path d="M358.6,467l.5,6.2 .6,9.8 .1,1.5 .3,8.6 4.8-4.4-.2-8.5-.1-1.4-.5-9.7-.5-6.1Z" fill="#9a6000"/>
<path d="M363.6,463l.5,6.1 .5,9.7 .1,1.4 .2,8.5" class="m"/>
<path d="M364.5,494.3l.3-8.4 .1-1.5 .4-9.5 .5-6.1 .3-2.8 5-4.1-.4,2.8-.5,6-.5,9.4-.1,1.5-.3,8.4Z" fill="#00b100"/>
<path d="M369.3,490l.3-8.4 .1-1.5 .5-9.4 .5-6 .4-2.8" class="m"/>
<path d="M365.8,468.8l.3-2.8 1.1-5.8 .2-.6 5-4-.2,.6-1.1,5.7-.4,2.8Z" fill="#009b00"/>
<path d="M370.7,464.7l.4-2.8 1.1-5.7 .2-.6" class="m"/>
<path d="M367.2,460.2l.2-.6 2.2-4 5-3.9-2.2,3.9-.2,.6Z" fill="#793c00"/>
<path d="M372.2,456.2l.2-.6 2.2-3.9" class="m"/>
<path d="M369.6,455.6l2.7-1.4 5-3.9-2.7,1.4Z" fill="#ff3c00"/>
<path d="M374.6,451.7l2.7-1.4" class="m"/>
<path d="M369.6,455.6l2.7-1.4 3.1-.2 3.4,.3 4.9-4-3.3-.3-3.1,.3-2.7,1.4Z" fill="#ff5b00"/>
<path d="M374.6,451.7l2.7-1.4 3.1-.3 3.3,.3" class="m"/>
<path d="M375.4,454l3.4,.3 3.6,.7 4.8-4-3.5-.7-3.3-.3Z" fill="#ff6800"/>
<path d="M380.4,450l3.3,.3 3.5,.7" class="m"/>
<path d="M378.8,454.3l3.6,.7 3.6,1 3.4,1.3 4.8-4.1-3.4-1.2-3.6-1-3.5-.7Z" fill="#00df00"/>
<path d="M383.7,450.3l3.5,.7 3.6,1 3.4,1.2" class="m"/>
<path d="M386,456l3.4,1.3 3.2,1.7 4.7-4.1-3.1-1.7-3.4-1.2Z" fill="#ff7a00"/>
<path d="M390.8,452l3.4,1.2 3.1,1.7" class="m"/>
<path d="M392.6,454.5l3.2,1.7 2.7,2.8 2.1,5.1 1.5-1.4-2.1-5.1-2.7-2.7-3.1-1.7Z" fill="#fd7d00"/>
<path d="M394.2,453.2l3.1,1.7 2.7,2.7 2.1,5.1" class="m"/>
<path d="M398.5,459l2.1,5.1 .2,.7 1.5-1.4-.2-.7-2.1-5.1Z" fill="#d37000"/>
<path d="M400,457.6l2.1,5.1 .2,.7" class="m"/>
<path d="M400.6,464.1l.2,.7 .9,6.4 1.5-1.4-.9-6.4-.2-.7Z" fill="#bd6a00"/>
<path d="M402.1,462.7l.2,.7 .9,6.4" class="m"/>
<path d="M400.8,464.8l.9,6.4 .2,3.1 1.5-1.5-.2-3-.9-6.4Z" fill="#ac6500"/>
<path d="M402.3,463.4l.9,6.4 .2,3" class="m"/>
<path d="M401.7,471.2l.2,3.1 .2,6.4 .1,9.9 0,1.6-.1,8.7 1.4-1.5 .2-8.8 0-1.5-.1-9.9-.2-6.4-.2-3Z" fill="#00c100"/>
<path d="M403.2,469.8l.2,3 .2,6.4 .1,9.9 0,1.5-.2,8.8" class="m"/>
<path d="M391,455.9l3.2,1.7 2.8,2.8 2.1,5.1 2.1-1.9-2.2-5.1-2.7-2.7-3.1-1.7Z" fill="#fd7d00"/>
<path d="M397,460.4l2.1,5.1 .1,.7 2.1-1.9-.1-.7-2.2-5.1Z" fill="#d37000"/>
<path d="M399.1,465.5l.1,.7 1,6.5 2-2-.9-6.4-.1-.7Z" fill="#bd6a00"/>
<path d="M399.2,466.2l1,6.5 .2,3.1 .3,6.4 0,10 0,1.5-.1,8.8 2-2.1 .1-8.8 0-1.5 0-9.9-.3-6.4-.2-3.1-.9-6.4Z" fill="#00c300"/>
<path d="M389.4,457.3l3.2,1.7 2.8,2.8 2.1,5.2 2.1-2-2.1-5.1-2.7-2.8-3.2-1.7Z" fill="#fd7d00"/>
<path d="M395.4,461.8l2.1,5.2 .2,.7 2.1-2-.2-.7-2.1-5.1Z" fill="#d37000"/>
<path d="M397.5,467l.2,.7 .9,6.4 .3,3.1 .2,6.5 2.1-2.1-.3-6.4-.2-3-.9-6.5-.2-.7Z" fill="#0c0"/>
<path d="M398.9,477.2l.2,6.5 .1,10 0,1.5 0,8.9 1.9-2.2 .2-8.7 0-1.6-.1-10-.3-6.4Z" fill="#00c000"/>
<path d="M411.6,465.7l3.1-1.5 4.4-4.3-3,1.5Z" fill="#ff3c00"/>
<path d="M416.1,461.4l3-1.5" class="m"/>
<path d="M411.6,465.7l3.1-1.5 3.4-.2 4.4-4.3-3.4,.2-3,1.5Z" fill="#00ab00"/>
<path d="M416.1,461.4l3-1.5 3.4-.2" class="m"/>
<path d="M414.7,464.2l3.4-.2 3.8,.5 3.9,.7 4.2-4.3-3.8-.8-3.7-.4-3.4,.2Z" fill="#00ca00"/>
<path d="M419.1,459.9l3.4-.2 3.7,.4 3.8,.8" class="m"/>
<path d="M421.9,464.5l3.9,.7 .8,.3 4-4.5-.6-.1-3.8-.8Z" fill="#00d900"/>
<path d="M426.2,460.1l3.8,.8 .6,.1" class="m"/>
<path d="M406.9,502.2l.7-8.6 .2-1.5 1-9.7 .9-6.2 .5-2.9 1.5-5.9 1.5-1.4-1.5,5.9-.6,2.9-.8,6.1-1.1,9.7-.1,1.5-.8,8.6Z" fill="#895700"/>
<path d="M408.3,500.7l.8-8.6 .1-1.5 1.1-9.7 .8-6.1 .6-2.9 1.5-5.9" class="m"/>
<path d="M410.2,473.3l1.5-5.9 .3-.5 2.6-4.1 1.5-1.4-2.7,4-.2,.6-1.5,5.9Z" fill="#7d4300"/>
<path d="M411.7,471.9l1.5-5.9 .2-.6 2.7-4" class="m"/>
<path d="M405.5,503.8l.7-8.6 .1-1.5 1.1-9.8 1.9-2-1,9.7-.2,1.5-.7,8.6Z" fill="#00b300"/>
<path d="M406.3,493.7l1.1-9.8 .8-6.2 .5-2.9 1.6-5.9 .2-.6 2-1.9-.2,.5-1.6,5.9-.5,2.9-.9,6.2-1,9.7Z" fill="#865200"/>
<path d="M410.3,468.9l.2-.6 2.6-4.1 2-1.9-2.6,4.1-.2,.5Z" fill="#793c00"/>
<path d="M404,505.4l.7-8.7 .2-1.5 1-9.8 .8-6.2 .5-2.9 1.6-5.9 2-2-1.6,5.9-.5,2.9-.8,6.2-1.1,9.7-.1,1.5-.7,8.7Z" fill="#895700"/>
<path d="M407.2,476.3l1.6-5.9 .2-.6 2.6-4.1 2-2-2.6,4.1-.2,.6-1.6,5.9Z" fill="#7d4300"/>
<path d="M308.4,443.8l.6,.4 5.8-3.6-.8-.5Z" fill="#ff00b3"/>
<path d="M314,440.1l.8,.5" class="m"/>
<path d="M308.4,443.8l.6,.4 2.5,2.6 5.8-3.7-2.5-2.5-.8-.5Z" fill="#ff00da"/>
<path d="M314,440.1l.8,.5 2.5,2.5" class="m"/>
<path d="M309,444.2l2.5,2.6 2.3,4.9 5.7-3.8-2.2-4.8-2.5-2.5Z" fill="#fa00f0"/>
<path d="M314.8,440.6l2.5,2.5 2.2,4.8" class="m"/>
<path d="M311.5,446.8l2.3,4.9 .2,.6 5.7-3.7-.2-.7-2.2-4.8Z" fill="#d300ed"/>
<path d="M317.3,443.1l2.2,4.8 .2,.7" class="m"/>
<path d="M313.8,451.7l.2,.6 1.4,6.2 5.6-3.8-1.3-6.1-.2-.7Z" fill="#bd00ea"/>
<path d="M319.5,447.9l.2,.7 1.3,6.1" class="m"/>
<path d="M314,452.3l1.4,6.2 .5,2.9 .8,6.2 5.6-4-.8-6-.5-2.9-1.3-6.1Z" fill="#a800e5"/>
<path d="M319.7,448.6l1.3,6.1 .5,2.9 .8,6" class="m"/>
<path d="M315.9,461.4l.8,6.2 1,9.5 .1,1.5 .8,8.5 5.4-4.2-.7-8.3-.1-1.5-.9-9.5-.8-6Z" fill="#9a00e1"/>
<path d="M321.5,457.6l.8,6 .9,9.5 .1,1.5 .7,8.3" class="m"/>
<path d="M322.8,488.3l-.2-8.4-.1-1.4 0-9.4 .1-5.9 .2-2.8 .7-5.7 .1-.6 5.6-3.8-.1,.6-.8,5.6-.1,2.8-.2,5.8 0,9.3 0,1.4 .1,8.3Z" fill="#800"/>
<path d="M328.1,484.1l-.1-8.3 0-1.4 0-9.3 .2-5.8 .1-2.8 .8-5.6 .1-.6" class="m"/>
<path d="M323.5,454.7l.1-.6 1.8-3.9 5.6-3.8-1.8,3.9-.1,.6Z" fill="#790000"/>
<path d="M329.1,450.9l.1-.6 1.8-3.9" class="m"/>
<path d="M325.4,450.2l2.4-1.5 5.6-3.7-2.4,1.4Z" fill="#f00"/>
<path d="M331,446.4l2.4-1.4" class="m"/>
<path d="M325.4,450.2l2.4-1.5 2.9-.2 5.6-3.8-2.9,.3-2.4,1.4Z" fill="#ff0059"/>
<path d="M331,446.4l2.4-1.4 2.9-.3" class="m"/>
<path d="M327.8,448.7l2.9-.2 3.1,.3 5.6-3.8-3.1-.3-2.9,.3Z" fill="#ff006f"/>
<path d="M333.4,445l2.9-.3 3.1,.3" class="m"/>
<path d="M330.7,448.5l3.1,.3 3.3,.7 3.3,.9 5.5-3.8-3.3-.9-3.2-.7-3.1-.3Z" fill="#f00"/>
<path d="M336.3,444.7l3.1,.3 3.2,.7 3.3,.9" class="m"/>
<path d="M337.1,449.5l3.3,.9 3.3,1.2 5.4-3.9-3.2-1.1-3.3-.9Z" fill="#ff009a"/>
<path d="M342.6,445.7l3.3,.9 3.2,1.1" class="m"/>
<path d="M340.4,450.4l3.3,1.2 3,1.7 5.4-3.9-3-1.7-3.2-1.1Z" fill="#ff00b3"/>
<path d="M345.9,446.6l3.2,1.1 3,1.7" class="m"/>
<path d="M343.7,451.6l3,1.7 2.7,2.7 5.3-3.9-2.6-2.7-3-1.7Z" fill="#ff00da"/>
<path d="M349.1,447.7l3,1.7 2.6,2.7" class="m"/>
<path d="M346.7,453.3l2.7,2.7 2.2,5.1 5.3-4-2.2-5-2.6-2.7Z" fill="#fa0000"/>
<path d="M352.1,449.4l2.6,2.7 2.2,5" class="m"/>
<path d="M349.4,456l2.2,5.1 .2,.7 5.3-4.1-.2-.6-2.2-5Z" fill="#d30000"/>
<path d="M354.7,452.1l2.2,5 .2,.6" class="m"/>
<path d="M351.6,461.1l.2,.7 1.2,6.3 5.2-4.1-1.1-6.3-.2-.6Z" fill="#bd0000"/>
<path d="M356.9,457.1l.2,.6 1.1,6.3" class="m"/>
<path d="M351.8,461.8l1.2,6.3 .4,3.1 .6,6.3 5.1-4.3-.5-6.2-.4-3-1.1-6.3Z" fill="#a80000"/>
<path d="M357.1,457.7l1.1,6.3 .4,3 .5,6.2" class="m"/>
<path d="M353.4,471.2l.6,6.3 .6,9.8 .1,1.6 .4,8.7 5-4.5-.3-8.6-.1-1.5-.6-9.8-.5-6.2Z" fill="#9a0000"/>
<path d="M358.6,467l.5,6.2 .6,9.8 .1,1.5 .3,8.6" class="m"/>
<path d="M359.6,498.9l.2-8.6 0-1.5 .4-9.6 .5-6.1 .3-2.9 1.1-5.9 5.1-4.1-1.1,5.8-.3,2.8-.5,6.1-.4,9.5-.1,1.5-.3,8.4Z" fill="#8900d7"/>
<path d="M364.5,494.3l.3-8.4 .1-1.5 .4-9.5 .5-6.1 .3-2.8 1.1-5.8" class="m"/>
<path d="M361,470.2l1.1-5.9 .2-.5 5.1-4.2-.2,.6-1.1,5.8Z" fill="#8100c3"/>
<path d="M366.1,466l1.1-5.8 .2-.6" class="m"/>
<path d="M362.1,464.3l.2-.5 2.2-4.1 5.1-4.1-2.2,4-.2,.6Z" fill="#790000"/>
<path d="M367.2,460.2l.2-.6 2.2-4" class="m"/>
<path d="M364.5,459.7l2.7-1.4 3.1-.2 3.5,.3 3.6,.8 5-4.2-3.6-.7-3.4-.3-3.1,.2-2.7,1.4Z" fill="#f00"/>
<path d="M369.6,455.6l2.7-1.4 3.1-.2 3.4,.3 3.6,.7" class="m"/>
<path d="M373.8,458.4l3.6,.8 3.6,1 3.5,1.3 4.9-4.2-3.4-1.3-3.6-1-3.6-.7Z" fill="#ff0092"/>
<path d="M378.8,454.3l3.6,.7 3.6,1 3.4,1.3" class="m"/>
<path d="M381,460.2l3.5,1.3 3.2,1.8 4.9-4.3-3.2-1.7-3.4-1.3Z" fill="#f00"/>
<path d="M386,456l3.4,1.3 3.2,1.7" class="m"/>
<path d="M387.8,458.7l3.2,1.7 2.8,2.8 2.2,5.2 1.5-1.4-2.1-5.2-2.8-2.8-3.2-1.7Z" fill="#fd0000"/>
<path d="M389.4,457.3l3.2,1.7 2.8,2.8 2.1,5.2" class="m"/>
<path d="M393.8,463.2l2.2,5.2 .1,.7 1.6-1.4-.2-.7-2.1-5.2Z" fill="#d30000"/>
<path d="M395.4,461.8l2.1,5.2 .2,.7" class="m"/>
<path d="M396,468.4l.1,.7 1,6.5 1.5-1.5-.9-6.4-.2-.7Z" fill="#bd0000"/>
<path d="M397.5,467l.2,.7 .9,6.4" class="m"/>
<path d="M396.1,469.1l1,6.5 .2,3.1 .3,6.5 1.5-1.5-.2-6.5-.3-3.1-.9-6.4Z" fill="#a80000"/>
<path d="M397.7,467.7l.9,6.4 .3,3.1 .2,6.5" class="m"/>
<path d="M397.3,478.7l.3,6.5 .1,10.1 0,1.5 0,8.9 1.5-1.6 0-8.9 0-1.5-.1-10-.2-6.5Z" fill="#9a00e1"/>
<path d="M398.9,477.2l.2,6.5 .1,10 0,1.5 0,8.9" class="m"/>
<path d="M386.2,460.1l3.2,1.7 2.8,2.8 2.2,5.3 2.1-2-2.2-5.2-2.7-2.8-3.2-1.7Z" fill="#fd0000"/>
<path d="M392.2,464.6l2.2,5.3 .1,.7 2.2-2-.2-.7-2.2-5.2Z" fill="#d30000"/>
<path d="M394.4,469.9l.1,.7 1,6.5 2.1-2-.9-6.5-.2-.7Z" fill="#bd0000"/>
<path d="M394.5,470.6l1,6.5 .2,3.1 2.2-2-.3-3.1-.9-6.5Z" fill="#ac0000"/>
<path d="M395.5,477.1l.2,3.1 .3,6.5 .2,10.1 0,1.6-.1,8.9 2.1-2.2 .1-8.8 0-1.6-.2-10-.2-6.5-.3-3.1Z" fill="#9d00e2"/>
<path d="M384.5,461.5l3.2,1.8 2.8,2.8 2.3,5.3 2.1-2-2.2-5.3-2.7-2.8-3.3-1.7Z" fill="#fd0000"/>
<path d="M390.5,466.1l2.3,5.3 .1,.7 2.2-2-.2-.7-2.2-5.3Z" fill="#d30000"/>
<path d="M392.8,471.4l.1,.7 1,6.5 2.2-2-1-6.5-.2-.7Z" fill="#bd0000"/>
<path d="M392.9,472.1l1,6.5 .3,3.2 .3,6.5 2.1-2.1-.3-6.5-.2-3.1-1-6.5Z" fill="#a800e5"/>
<path d="M394.2,481.8l.3,6.5 .1,10.1 0,1.6 0,8.9 2.1-2.2 0-8.9 0-1.5-.1-10.1-.3-6.5Z" fill="#9b00e1"/>
<path d="M407,470.1l3.1-1.4 4.6-4.5-3.1,1.5Z" fill="#f00"/>
<path d="M411.6,465.7l3.1-1.5" class="m"/>
<path d="M407,470.1l3.1-1.4 3.5-.2 4.5-4.5-3.4,.2-3.1,1.5Z" fill="#ff0059"/>
<path d="M411.6,465.7l3.1-1.5 3.4-.2" class="m"/>
<path d="M410.1,468.7l3.5-.2 3.8,.5 4.5-4.5-3.8-.5-3.4,.2Z" fill="#ff006f"/>
<path d="M414.7,464.2l3.4-.2 3.8,.5" class="m"/>
<path d="M413.6,468.5l3.8,.5 3.9,.8 1.2,.3 4.1-4.6-.8-.3-3.9-.7-3.8-.5Z" fill="#ff0085"/>
<path d="M418.1,464l3.8,.5 3.9,.7 .8,.3" class="m"/>
<path d="M402.5,507l.7-8.7 .2-1.5 1-9.8 .8-6.3 .5-2.9 1.5-6 .3-.6 1.5-1.4-.2,.6-1.6,5.9-.5,2.9-.8,6.2-1,9.8-.2,1.5-.7,8.7Z" fill="#800"/>
<path d="M404,505.4l.7-8.7 .2-1.5 1-9.8 .8-6.2 .5-2.9 1.6-5.9 .2-.6" class="m"/>
<path d="M407.2,471.8l.3-.6 2.6-4.1 1.5-1.4-2.6,4.1-.2,.6Z" fill="#790000"/>
<path d="M408.8,470.4l.2-.6 2.6-4.1" class="m"/>
<path d="M401,508.7l.7-8.8 .1-1.5 1-9.9 .9-6.2 .5-3 1.5-6 .2-.6 2.1-2-.2,.6-1.6,6-.5,2.9-.8,6.2-1,9.8-.2,1.6-.7,8.7Z" fill="#800"/>
<path d="M405.7,473.3l.2-.6 2.7-4.1 2-2-2.6,4.1-.2,.6Z" fill="#790000"/>
<path d="M399.5,510.3l.7-8.8 .1-1.5 1-9.9 .8-6.3 .5-2.9 1.5-6 2.1-2.1-1.5,6-.5,2.9-.8,6.3-1,9.8-.2,1.6-.7,8.7Z" fill="#8900d7"/>
<path d="M402.6,480.9l1.5-6 .3-.6 2.1-2.1-.3,.6-1.5,6Z" fill="#8100c3"/>
<path d="M404.1,474.9l.3-.6 2.6-4.2 2.1-2-2.6,4.1-.3,.6Z" fill="#7900ab"/>
<path d="M302.6,447.7l.4,.2 2.6,2.6 2.3,5 5.9-3.8-2.3-4.9-2.5-2.6-.6-.4Z" fill="#00f700"/>
<path d="M308.4,443.8l.6,.4 2.5,2.6 2.3,4.9" class="m"/>
<path d="M305.6,450.5l2.3,5 .2,.7 1.4,6.2 5.9-3.9-1.4-6.2-.2-.6-2.3-4.9Z" fill="#00da00"/>
<path d="M311.5,446.8l2.3,4.9 .2,.6 1.4,6.2" class="m"/>
<path d="M308.1,456.2l1.4,6.2 .5,3 .9,6.2 1.1,9.7 .2,1.5 .8,8.5 5.6-4.2-.8-8.5-.1-1.5-1-9.5-.8-6.2-.5-2.9-1.4-6.2Z" fill="#00c300"/>
<path d="M314,452.3l1.4,6.2 .5,2.9 .8,6.2 1,9.5 .1,1.5 .8,8.5" class="m"/>
<path d="M317.2,492.6l-.3-8.5 0-1.4-.2-9.5 .1-6 .2-2.8 .7-5.8 5.8-3.9-.7,5.7-.2,2.8-.1,5.9 0,9.4 .1,1.4 .2,8.4Z" fill="#895700"/>
<path d="M322.8,488.3l-.2-8.4-.1-1.4 0-9.4 .1-5.9 .2-2.8 .7-5.7" class="m"/>
<path d="M317,464.4l.7-5.8 .1-.6 1.8-4 5.8-3.8-1.8,3.9-.1,.6-.7,5.7Z" fill="#7d4300"/>
<path d="M322.8,460.4l.7-5.7 .1-.6 1.8-3.9" class="m"/>
<path d="M319.6,454l2.4-1.4 5.8-3.9-2.4,1.5Z" fill="#ff3c00"/>
<path d="M325.4,450.2l2.4-1.5" class="m"/>
<path d="M319.6,454l2.4-1.4 2.9-.2 5.8-3.9-2.9,.2-2.4,1.5Z" fill="#00ab00"/>
<path d="M325.4,450.2l2.4-1.5 2.9-.2" class="m"/>
<path d="M322,452.6l2.9-.2 3.1,.3 5.8-3.9-3.1-.3-2.9,.2Z" fill="#00c300"/>
<path d="M327.8,448.7l2.9-.2 3.1,.3" class="m"/>
<path d="M324.9,452.4l3.1,.3 3.4,.7 3.4,1 5.6-4-3.3-.9-3.3-.7-3.1-.3Z" fill="#ff6a00"/>
<path d="M330.7,448.5l3.1,.3 3.3,.7 3.3,.9" class="m"/>
<path d="M331.4,453.4l3.4,1 3.2,1.2 5.7-4-3.3-1.2-3.3-.9Z" fill="#00e400"/>
<path d="M337.1,449.5l3.3,.9 3.3,1.2" class="m"/>
<path d="M334.8,454.4l3.2,1.2 3.1,1.8 2.7,2.7 5.6-4.1-2.7-2.7-3-1.7-3.3-1.2Z" fill="#00fa00"/>
<path d="M340.4,450.4l3.3,1.2 3,1.7 2.7,2.7" class="m"/>
<path d="M341.1,457.4l2.7,2.7 2.3,5.2 5.5-4.2-2.2-5.1-2.7-2.7Z" fill="#fb7900"/>
<path d="M346.7,453.3l2.7,2.7 2.2,5.1" class="m"/>
<path d="M343.8,460.1l2.3,5.2 .2,.6 5.5-4.1-.2-.7-2.2-5.1Z" fill="#d37000"/>
<path d="M349.4,456l2.2,5.1 .2,.7" class="m"/>
<path d="M346.1,465.3l.2,.6 1.3,6.5 5.4-4.3-1.2-6.3-.2-.7Z" fill="#bd6a00"/>
<path d="M351.6,461.1l.2,.7 1.2,6.3" class="m"/>
<path d="M346.3,465.9l1.3,6.5 .4,3.1 .6,6.4 5.4-4.4-.6-6.3-.4-3.1-1.2-6.3Z" fill="#a86400"/>
<path d="M351.8,461.8l1.2,6.3 .4,3.1 .6,6.3" class="m"/>
<path d="M348,475.5l.6,6.4 .7,10 .1,1.5 .4,8.8 5.3-4.6-.4-8.7-.1-1.6-.6-9.8-.6-6.3Z" fill="#9b6000"/>
<path d="M353.4,471.2l.6,6.3 .6,9.8 .1,1.6 .4,8.7" class="m"/>
<path d="M354.4,503.5l.2-8.6 0-1.5 .3-9.8 .5-6.2 .3-2.9 5.3-4.3-.3,2.9-.5,6.1-.4,9.6 0,1.5-.2,8.6Z" fill="#00b100"/>
<path d="M359.6,498.9l.2-8.6 0-1.5 .4-9.6 .5-6.1 .3-2.9" class="m"/>
<path d="M355.4,477.4l.3-2.9 1-5.9 .2-.6 5.4-4.2-.2,.5-1.1,5.9-.3,2.9Z" fill="#009b00"/>
<path d="M360.7,473.1l.3-2.9 1.1-5.9 .2-.5" class="m"/>
<path d="M356.7,468.6l.2-.6 2.2-4.1 5.4-4.2-2.2,4.1-.2,.5Z" fill="#793d00"/>
<path d="M362.1,464.3l.2-.5 2.2-4.1" class="m"/>
<path d="M359.1,463.9l2.7-1.4 5.4-4.2-2.7,1.4Z" fill="#ff3c00"/>
<path d="M364.5,459.7l2.7-1.4" class="m"/>
<path d="M359.1,463.9l2.7-1.4 3.2-.2 3.5,.4 5.3-4.3-3.5-.3-3.1,.2-2.7,1.4Z" fill="#ff5b00"/>
<path d="M364.5,459.7l2.7-1.4 3.1-.2 3.5,.3" class="m"/>
<path d="M365,462.3l3.5,.4 3.6,.8 5.3-4.3-3.6-.8-3.5-.3Z" fill="#ff6800"/>
<path d="M370.3,458.1l3.5,.3 3.6,.8" class="m"/>
<path d="M368.5,462.7l3.6,.8 3.7,1 3.6,1.4 5.1-4.4-3.5-1.3-3.6-1-3.6-.8Z" fill="#00df00"/>
<path d="M373.8,458.4l3.6,.8 3.6,1 3.5,1.3" class="m"/>
<path d="M375.8,464.5l3.6,1.4 3.2,1.8 5.1-4.4-3.2-1.8-3.5-1.3Z" fill="#ff7a00"/>
<path d="M381,460.2l3.5,1.3 3.2,1.8" class="m"/>
<path d="M382.8,462.9l3.3,1.8 2.8,2.9 2.2,5.3 1.7-1.5-2.3-5.3-2.8-2.8-3.2-1.8Z" fill="#fd7d00"/>
<path d="M384.5,461.5l3.2,1.8 2.8,2.8 2.3,5.3" class="m"/>
<path d="M388.9,467.6l2.2,5.3 .2,.7 1.6-1.5-.1-.7-2.3-5.3Z" fill="#d37000"/>
<path d="M390.5,466.1l2.3,5.3 .1,.7" class="m"/>
<path d="M391.1,472.9l.2,.7 1,6.6 1.6-1.6-1-6.5-.1-.7Z" fill="#bd6a00"/>
<path d="M392.8,471.4l.1,.7 1,6.5" class="m"/>
<path d="M391.3,473.6l1,6.6 .2,3.1 1.7-1.5-.3-3.2-1-6.5Z" fill="#ac6500"/>
<path d="M392.9,472.1l1,6.5 .3,3.2" class="m"/>
<path d="M392.3,480.2l.2,3.1 .4,6.6 .2,10.2 0,1.5-.1,9 1.6-1.7 0-8.9 0-1.6-.1-10.1-.3-6.5-.3-3.2Z" fill="#00c100"/>
<path d="M393.9,478.6l.3,3.2 .3,6.5 .1,10.1 0,1.6 0,8.9" class="m"/>
<path d="M381.1,464.4l3.3,1.8 2.8,2.9 2.3,5.3 2.2-2.1-2.2-5.2-2.9-2.9-3.2-1.8Z" fill="#fd7d00"/>
<path d="M387.2,469.1l2.3,5.3 .1,.7 2.3-2.1-.2-.7-2.2-5.2Z" fill="#d37000"/>
<path d="M389.5,474.4l.1,.7 1,6.6 2.3-2.1-1-6.6-.2-.7Z" fill="#bd6a00"/>
<path d="M389.6,475.1l1,6.6 .3,3.2 .3,6.6 .3,10.2 0,1.6 0,9 2.1-2.3 0-8.9 0-1.6-.2-10.2-.3-6.5-.2-3.2-1-6.6Z" fill="#00c300"/>
<path d="M379.4,465.9l3.2,1.8 2.9,2.9 2.3,5.3 2.2-2-2.2-5.4-2.8-2.8-3.3-1.8Z" fill="#fd7d00"/>
<path d="M385.5,470.6l2.3,5.3 .1,.7 2.3-2-.2-.7-2.2-5.4Z" fill="#d37000"/>
<path d="M387.8,475.9l.1,.7 1.1,6.7 2.2-2.1-1-6.6-.2-.7Z" fill="#bd6a00"/>
<path d="M387.9,476.6l1.1,6.7 .3,3.2 .3,6.6 .2,10.2 .1,1.6 0,9.1 2.1-2.3 0-9 0-1.6-.2-10.2-.3-6.6-.3-3.1-1-6.6Z" fill="#00c300"/>
<path d="M402.2,474.8l3.1-1.5 4.8-4.6-3.1,1.4Z" fill="#ff3c00"/>
<path d="M407,470.1l3.1-1.4" class="m"/>
<path d="M402.2,474.8l3.1-1.5 3.6-.1 4.7-4.7-3.5,.2-3.1,1.4Z" fill="#00ab00"/>
<path d="M407,470.1l3.1-1.4 3.5-.2" class="m"/>
<path d="M405.3,473.3l3.6-.1 3.8,.4 4,.9 4.6-4.7-3.9-.8-3.8-.5-3.5,.2Z" fill="#00ca00"/>
<path d="M410.1,468.7l3.5-.2 3.8,.5 3.9,.8" class="m"/>
<path d="M412.7,473.6l4,.9 1.5,.4 4.3-4.8-1.2-.3-3.9-.8Z" fill="#00d900"/>
<path d="M417.4,469l3.9,.8 1.2,.3" class="m"/>
<path d="M398,512l.6-8.8 .2-1.6 .9-9.9 .8-6.3 .5-3 1.6-1.5-.5,2.9-.8,6.3-1,9.9-.1,1.5-.7,8.8Z" fill="#00b100"/>
<path d="M399.5,510.3l.7-8.8 .1-1.5 1-9.9 .8-6.3 .5-2.9" class="m"/>
<path d="M400.5,485.4l.5-3 1.5-6 .3-.6 1.6-1.5-.3,.6-1.5,6-.5,2.9Z" fill="#009b00"/>
<path d="M402.1,483.8l.5-2.9 1.5-6 .3-.6" class="m"/>
<path d="M402.5,476.4l.3-.6 2.6-4.1 1.6-1.6-2.6,4.2-.3,.6Z" fill="#007900"/>
<path d="M404.1,474.9l.3-.6 2.6-4.2" class="m"/>
<path d="M396.4,513.7l.7-8.8 .1-1.6 .9-10 .8-6.3 .5-3 1.5-6 2.2-2.1-1.5,6-.5,3-.8,6.2-1,10-.1,1.5-.7,8.8Z" fill="#895700"/>
<path d="M399.4,484l1.5-6 .3-.6 2.6-4.2 2.2-2.1-2.7,4.2-.2,.6-1.5,6Z" fill="#7d4300"/>
<path d="M394.8,515.4l.7-8.9 .1-1.5 .9-10 2.2-2.2-1,9.9-.1,1.6-.6,8.8Z" fill="#00b400"/>
<path d="M395.6,505l.9-10 .8-6.4 .5-3 1.5-6.1 .2-.6 2.2-2.1-.2,.6-1.5,6.1-.5,2.9-.8,6.4-1,9.9Z" fill="#865200"/>
<path d="M399.3,479.5l.2-.6 2.7-4.1 2.2-2.1-2.7,4.1-.2,.6Z" fill="#793d00"/>
<path d="M296.7,451.7l6.3-3.8-.4-.2Z" fill="#ff00b3"/>
<path d="M302.6,447.7l.4,.2" class="m"/>
<path d="M296.7,451.7l2.7,2.7 6.2-3.9-2.6-2.6-.4-.2Z" fill="#ff00db"/>
<path d="M302.6,447.7l.4,.2 2.6,2.6" class="m"/>
<path d="M296.7,451.7l2.7,2.7 2.3,5.1 6.2-4-2.3-5-2.6-2.6Z" fill="#fb00f0"/>
<path d="M303,447.9l2.6,2.6 2.3,5" class="m"/>
<path d="M299.4,454.4l2.3,5.1 .3,.6 6.1-3.9-.2-.7-2.3-5Z" fill="#d300ee"/>
<path d="M305.6,450.5l2.3,5 .2,.7" class="m"/>
<path d="M301.7,459.5l.3,.6 1.5,6.4 6-4.1-1.4-6.2-.2-.7Z" fill="#bd00ea"/>
<path d="M307.9,455.5l.2,.7 1.4,6.2" class="m"/>
<path d="M302,460.1l1.5,6.4 .5,3 .9,6.3 6-4.2-.9-6.2-.5-3-1.4-6.2Z" fill="#a900e5"/>
<path d="M308.1,456.2l1.4,6.2 .5,3 .9,6.2" class="m"/>
<path d="M304,469.5l.9,6.3 1.2,9.8 .2,1.5 .9,8.6 5.8-4.4-.8-8.5-.2-1.5-1.1-9.7-.9-6.2Z" fill="#9b00e2"/>
<path d="M310,465.4l.9,6.2 1.1,9.7 .2,1.5 .8,8.5" class="m"/>
<path d="M311.4,497l-.3-8.5-.1-1.5-.2-9.6 .1-6 .1-2.9 .6-5.8 .1-.6 6.1-4.1-.1,.6-.7,5.8-.2,2.8-.1,6 .2,9.5 0,1.4 .3,8.5Z" fill="#800"/>
<path d="M317.2,492.6l-.3-8.5 0-1.4-.2-9.5 .1-6 .2-2.8 .7-5.8 .1-.6" class="m"/>
<path d="M311.6,462.7l.1-.6 1.8-4 6.1-4.1-1.8,4-.1,.6Z" fill="#790000"/>
<path d="M317.7,458.6l.1-.6 1.8-4" class="m"/>
<path d="M313.5,458.1l2.5-1.5 6-4-2.4,1.4Z" fill="#f00"/>
<path d="M319.6,454l2.4-1.4" class="m"/>
<path d="M313.5,458.1l2.5-1.5 2.9-.2 6-4-2.9,.2-2.4,1.4Z" fill="#ff0059"/>
<path d="M319.6,454l2.4-1.4 2.9-.2" class="m"/>
<path d="M316,456.6l2.9-.2 3.2,.4 5.9-4.1-3.1-.3-2.9,.2Z" fill="#ff006f"/>
<path d="M322,452.6l2.9-.2 3.1,.3" class="m"/>
<path d="M318.9,456.4l3.2,.4 3.3,.7 3.4,1 6-4.1-3.4-1-3.4-.7-3.1-.3Z" fill="#f00"/>
<path d="M324.9,452.4l3.1,.3 3.4,.7 3.4,1" class="m"/>
<path d="M325.4,457.5l3.4,1 3.4,1.3 5.8-4.2-3.2-1.2-3.4-1Z" fill="#ff009a"/>
<path d="M331.4,453.4l3.4,1 3.2,1.2" class="m"/>
<path d="M328.8,458.5l3.4,1.3 3.1,1.7 5.8-4.1-3.1-1.8-3.2-1.2Z" fill="#ff00b3"/>
<path d="M334.8,454.4l3.2,1.2 3.1,1.8" class="m"/>
<path d="M332.2,459.8l3.1,1.7 2.7,2.9 5.8-4.3-2.7-2.7-3.1-1.8Z" fill="#ff00db"/>
<path d="M338,455.6l3.1,1.8 2.7,2.7" class="m"/>
<path d="M335.3,461.5l2.7,2.9 2.4,5.2 5.7-4.3-2.3-5.2-2.7-2.7Z" fill="#fb0000"/>
<path d="M341.1,457.4l2.7,2.7 2.3,5.2" class="m"/>
<path d="M338,464.4l2.4,5.2 .2,.7 5.7-4.4-.2-.6-2.3-5.2Z" fill="#d30000"/>
<path d="M343.8,460.1l2.3,5.2 .2,.6" class="m"/>
<path d="M340.4,469.6l.2,.7 1.3,6.5 5.7-4.4-1.3-6.5-.2-.6Z" fill="#bd0000"/>
<path d="M346.1,465.3l.2,.6 1.3,6.5" class="m"/>
<path d="M340.6,470.3l1.3,6.5 .4,3.1 .7,6.5 5.6-4.5-.6-6.4-.4-3.1-1.3-6.5Z" fill="#a90000"/>
<path d="M346.3,465.9l1.3,6.5 .4,3.1 .6,6.4" class="m"/>
<path d="M342.3,479.9l.7,6.5 .8,10.1 .1,1.6 .5,8.9 5.4-4.8-.4-8.8-.1-1.5-.7-10-.6-6.4Z" fill="#9b0000"/>
<path d="M348,475.5l.6,6.4 .7,10 .1,1.5 .4,8.8" class="m"/>
<path d="M349.1,508.4l0-8.8 .1-1.5 .2-9.9 .4-6.2 .3-3 1-6 5.6-4.4-1,5.9-.3,2.9-.5,6.2-.3,9.8 0,1.5-.2,8.6Z" fill="#8a00d8"/>
<path d="M354.4,503.5l.2-8.6 0-1.5 .3-9.8 .5-6.2 .3-2.9 1-5.9" class="m"/>
<path d="M350.1,479l1-6 .2-.5 5.6-4.5-.2,.6-1,5.9Z" fill="#8100c3"/>
<path d="M355.7,474.5l1-5.9 .2-.6" class="m"/>
<path d="M351.1,473l.2-.5 2.2-4.2 5.6-4.4-2.2,4.1-.2,.6Z" fill="#790000"/>
<path d="M356.7,468.6l.2-.6 2.2-4.1" class="m"/>
<path d="M353.5,468.3l2.8-1.4 3.2-.2 3.5,.4 3.7,.8 5.4-4.4-3.6-.8-3.5-.4-3.2,.2-2.7,1.4Z" fill="#f00"/>
<path d="M359.1,463.9l2.7-1.4 3.2-.2 3.5,.4 3.6,.8" class="m"/>
<path d="M363,467.1l3.7,.8 3.7,1.1 3.6,1.4 5.4-4.5-3.6-1.4-3.7-1-3.6-.8Z" fill="#ff0092"/>
<path d="M368.5,462.7l3.6,.8 3.7,1 3.6,1.4" class="m"/>
<path d="M370.4,469l3.6,1.4 3.3,1.9 5.3-4.6-3.2-1.8-3.6-1.4Z" fill="#f00"/>
<path d="M375.8,464.5l3.6,1.4 3.2,1.8" class="m"/>
<path d="M377.6,467.4l3.3,1.8 2.9,2.9 2.3,5.4 1.7-1.6-2.3-5.3-2.9-2.9-3.2-1.8Z" fill="#fd0000"/>
<path d="M379.4,465.9l3.2,1.8 2.9,2.9 2.3,5.3" class="m"/>
<path d="M383.8,472.1l2.3,5.4 .1,.7 1.7-1.6-.1-.7-2.3-5.3Z" fill="#d30000"/>
<path d="M385.5,470.6l2.3,5.3 .1,.7" class="m"/>
<path d="M386.1,477.5l.1,.7 1.1,6.7 1.7-1.6-1.1-6.7-.1-.7Z" fill="#bd0000"/>
<path d="M387.8,475.9l.1,.7 1.1,6.7" class="m"/>
<path d="M386.2,478.2l1.1,6.7 .3,3.2 1.7-1.6-.3-3.2-1.1-6.7Z" fill="#ad0000"/>
<path d="M387.9,476.6l1.1,6.7 .3,3.2" class="m"/>
<path d="M387.3,484.9l.3,3.2 .3,6.6 .3,10.3 0,1.6 .1,9.1 1.6-1.7 0-9.1-.1-1.6-.2-10.2-.3-6.6-.3-3.2Z" fill="#9d00e2"/>
<path d="M389,483.3l.3,3.2 .3,6.6 .2,10.2 .1,1.6 0,9.1" class="m"/>
<path d="M375.8,468.9l3.3,1.8 2.9,2.9 2.3,5.5 2.4-2.2-2.3-5.3-2.9-2.9-3.3-1.9Z" fill="#fd0000"/>
<path d="M382,473.6l2.3,5.5 .2,.7 2.3-2.2-.1-.7-2.3-5.3Z" fill="#d30000"/>
<path d="M384.3,479.1l.2,.7 1.1,6.7 2.3-2.2-1.1-6.7-.1-.7Z" fill="#bd0000"/>
<path d="M384.5,479.8l1.1,6.7 .3,3.2 .4,6.7 2.2-2.3-.3-6.6-.3-3.2-1.1-6.7Z" fill="#a900e5"/>
<path d="M385.9,489.7l.4,6.7 .2,10.3 .1,1.6 0,9.1 2.2-2.3 0-9.1 0-1.6-.3-10.3-.3-6.6Z" fill="#9b00e2"/>
<path d="M374,470.4l3.3,1.9 3,2.9 2.3,5.4 2.3-2.1-2.3-5.4-2.8-2.9-3.4-1.9Z" fill="#fd0000"/>
<path d="M380.3,475.2l2.3,5.4 .2,.8 2.3-2.2-.2-.7-2.3-5.4Z" fill="#d30000"/>
<path d="M382.6,480.6l.2,.8 1.1,6.7 2.3-2.2-1.1-6.7-.2-.7Z" fill="#bd0000"/>
<path d="M382.8,481.4l1.1,6.7 .3,3.2 .4,6.7 2.3-2.2-.4-6.7-.3-3.2-1.1-6.7Z" fill="#a90000"/>
<path d="M384.2,491.3l.4,6.7 .3,10.4 0,1.6 .1,9.2 2.2-2.4-.1-9.1 0-1.6-.2-10.3-.4-6.7Z" fill="#9b00e2"/>
<path d="M397.2,479.6l3.1-1.5 5-4.8-3.1,1.5Z" fill="#f00"/>
<path d="M402.2,474.8l3.1-1.5" class="m"/>
<path d="M397.2,479.6l3.1-1.5 3.6-.1 5-4.8-3.6,.1-3.1,1.5Z" fill="#ff0059"/>
<path d="M402.2,474.8l3.1-1.5 3.6-.1" class="m"/>
<path d="M400.3,478.1l3.6-.1 3.9,.5 4.9-4.9-3.8-.4-3.6,.1Z" fill="#ff006f"/>
<path d="M405.3,473.3l3.6-.1 3.8,.4" class="m"/>
<path d="M403.9,478l3.9,.5 4.1,.9 1.9,.5 4.4-5-1.5-.4-4-.9-3.8-.4Z" fill="#ff0085"/>
<path d="M408.9,473.2l3.8,.4 4,.9 1.5,.4" class="m"/>
<path d="M393.2,517.2l.7-9 .1-1.5 1.6-1.7-.1,1.5-.7,8.9Z" fill="#8c00dc"/>
<path d="M394.8,515.4l.7-8.9 .1-1.5" class="m"/>
<path d="M393.9,508.2l.1-1.5 .9-10.1 .8-6.4 .5-3 1.5-6.1 .2-.6 1.6-1.6-.2,.6-1.5,6.1-.5,3-.8,6.4-.9,10-.1,1.5Z" fill="#870000"/>
<path d="M395.5,506.5l.1-1.5 .9-10 .8-6.4 .5-3 1.5-6.1 .2-.6" class="m"/>
<path d="M397.7,481.1l.2-.6 2.7-4.2 1.6-1.5-2.7,4.1-.2,.6Z" fill="#790000"/>
<path d="M399.3,479.5l.2-.6 2.7-4.1" class="m"/>
<path d="M391.6,518.9l.6-8.9 .1-1.6 .9-10.1 .8-6.4 .5-3 1.5-6.1 .2-.7 2.3-2.1-.3,.6-1.5,6.1-.4,3-.8,6.3-1,10.1-.1,1.5-.6,9Z" fill="#800"/>
<path d="M396,482.8l.2-.7 2.7-4.2 2.2-2.1-2.6,4.2-.3,.6Z" fill="#790000"/>
<path d="M390,520.7l.6-9 .1-1.6 .9-10.1 .7-6.4 .5-3.1 1.5-6.1 .2-.6 2.3-2.2-.2,.6-1.5,6.1-.5,3-.8,6.4-.9,10.1-.1,1.6-.6,8.9Z" fill="#800"/>
<path d="M394.3,484.4l.2-.6 2.7-4.2 2.3-2.2-2.7,4.2-.2,.6Z" fill="#790000"/>
<path d="M290.5,456l2.4,2.5 2.5,5.1 6.3-4.1-2.3-5.1-2.7-2.7Z" fill="#00f700"/>
<path d="M296.7,451.7l2.7,2.7 2.3,5.1" class="m"/>
<path d="M292.9,458.5l2.5,5.1 .2,.7 1.6,6.4 6.3-4.2-1.5-6.4-.3-.6-2.3-5.1Z" fill="#00da00"/>
<path d="M299.4,454.4l2.3,5.1 .3,.6 1.5,6.4" class="m"/>
<path d="M295.6,464.3l1.6,6.4 .5,3 1,6.4 1.3,9.9 .2,1.6 1,8.7 6-4.6-.9-8.6-.2-1.5-1.2-9.8-.9-6.3-.5-3-1.5-6.4Z" fill="#00c300"/>
<path d="M302,460.1l1.5,6.4 .5,3 .9,6.3 1.2,9.8 .2,1.5 .9,8.6" class="m"/>
<path d="M305.4,501.6l-.4-8.6 0-1.5-.3-9.7 0-6.1 0-2.9 .6-5.9 6.3-4.2-.6,5.8-.1,2.9-.1,6 .2,9.6 .1,1.5 .3,8.5Z" fill="#8a5700"/>
<path d="M311.4,497l-.3-8.5-.1-1.5-.2-9.6 .1-6 .1-2.9 .6-5.8" class="m"/>
<path d="M304.7,472.8l.6-5.9 .2-.6 1.7-4.1 6.3-4.1-1.8,4-.1,.6-.6,5.8Z" fill="#7d4300"/>
<path d="M311,468.5l.6-5.8 .1-.6 1.8-4" class="m"/>
<path d="M307.2,462.2l2.5-1.4 6.3-4.2-2.5,1.5Z" fill="#ff3c00"/>
<path d="M313.5,458.1l2.5-1.5" class="m"/>
<path d="M307.2,462.2l2.5-1.4 2.9-.2 6.3-4.2-2.9,.2-2.5,1.5Z" fill="#00ab00"/>
<path d="M313.5,458.1l2.5-1.5 2.9-.2" class="m"/>
<path d="M309.7,460.8l2.9-.2 3.2,.4 6.3-4.2-3.2-.4-2.9,.2Z" fill="#00c300"/>
<path d="M316,456.6l2.9-.2 3.2,.4" class="m"/>
<path d="M312.6,460.6l3.2,.4 3.4,.7 3.5,1.1 6.1-4.3-3.4-1-3.3-.7-3.2-.4Z" fill="#ff6a00"/>
<path d="M318.9,456.4l3.2,.4 3.3,.7 3.4,1" class="m"/>
<path d="M319.2,461.7l3.5,1.1 3.4,1.3 6.1-4.3-3.4-1.3-3.4-1Z" fill="#00e400"/>
<path d="M325.4,457.5l3.4,1 3.4,1.3" class="m"/>
<path d="M322.7,462.8l3.4,1.3 3.1,1.8 2.8,2.9 6-4.4-2.7-2.9-3.1-1.7-3.4-1.3Z" fill="#00fa00"/>
<path d="M328.8,458.5l3.4,1.3 3.1,1.7 2.7,2.9" class="m"/>
<path d="M329.2,465.9l2.8,2.9 2.4,5.3 6-4.5-2.4-5.2-2.7-2.9Z" fill="#fb7900"/>
<path d="M335.3,461.5l2.7,2.9 2.4,5.2" class="m"/>
<path d="M332,468.8l2.4,5.3 .3,.7 5.9-4.5-.2-.7-2.4-5.2Z" fill="#d37000"/>
<path d="M338,464.4l2.4,5.2 .2,.7" class="m"/>
<path d="M334.4,474.1l.3,.7 1.3,6.6 5.9-4.6-1.3-6.5-.2-.7Z" fill="#be6a00"/>
<path d="M340.4,469.6l.2,.7 1.3,6.5" class="m"/>
<path d="M334.7,474.8l1.3,6.6 .5,3.2 .7,6.5 5.8-4.7-.7-6.5-.4-3.1-1.3-6.5Z" fill="#a96400"/>
<path d="M340.6,470.3l1.3,6.5 .4,3.1 .7,6.5" class="m"/>
<path d="M336.5,484.6l.7,6.5 .9,10.3 .1,1.5 .6,9 5.6-4.9-.5-8.9-.1-1.6-.8-10.1-.7-6.5Z" fill="#9b6000"/>
<path d="M342.3,479.9l.7,6.5 .8,10.1 .1,1.6 .5,8.9" class="m"/>
<path d="M343.5,513.4l0-8.9 0-1.5 .2-10 .4-6.3 .2-3 5.8-4.7-.3,3-.4,6.2-.2,9.9-.1,1.5 0,8.8Z" fill="#00b100"/>
<path d="M349.1,508.4l0-8.8 .1-1.5 .2-9.9 .4-6.2 .3-3" class="m"/>
<path d="M344.1,486.7l.2-3 1-6.1 .2-.6 5.8-4.5-.2,.5-1,6-.3,3Z" fill="#009b00"/>
<path d="M349.8,482l.3-3 1-6 .2-.5" class="m"/>
<path d="M345.3,477.6l.2-.6 2.2-4.1 5.8-4.6-2.2,4.2-.2,.5Z" fill="#793d00"/>
<path d="M351.1,473l.2-.5 2.2-4.2" class="m"/>
<path d="M347.7,472.9l2.8-1.5 5.8-4.5-2.8,1.4Z" fill="#ff3c00"/>
<path d="M353.5,468.3l2.8-1.4" class="m"/>
<path d="M347.7,472.9l2.8-1.5 3.2-.1 3.6,.4 5.7-4.6-3.5-.4-3.2,.2-2.8,1.4Z" fill="#ff5b00"/>
<path d="M353.5,468.3l2.8-1.4 3.2-.2 3.5,.4" class="m"/>
<path d="M353.7,471.3l3.6,.4 3.7,.9 5.7-4.7-3.7-.8-3.5-.4Z" fill="#ff6800"/>
<path d="M359.5,466.7l3.5,.4 3.7,.8" class="m"/>
<path d="M357.3,471.7l3.7,.9 3.8,1.1 3.6,1.4 5.6-4.7-3.6-1.4-3.7-1.1-3.7-.8Z" fill="#00df00"/>
<path d="M363,467.1l3.7,.8 3.7,1.1 3.6,1.4" class="m"/>
<path d="M364.8,473.7l3.6,1.4 3.4,1.9 5.5-4.7-3.3-1.9-3.6-1.4Z" fill="#ff7a00"/>
<path d="M370.4,469l3.6,1.4 3.3,1.9" class="m"/>
<path d="M372.2,471.9l3.3,1.9 3,3 2.3,5.5 1.8-1.7-2.3-5.4-3-2.9-3.3-1.9Z" fill="#fd7d00"/>
<path d="M374,470.4l3.3,1.9 3,2.9 2.3,5.4" class="m"/>
<path d="M378.5,476.8l2.3,5.5 .2,.7 1.8-1.6-.2-.8-2.3-5.4Z" fill="#d37000"/>
<path d="M380.3,475.2l2.3,5.4 .2,.8" class="m"/>
<path d="M380.8,482.3l.2,.7 1.1,6.8 1.8-1.7-1.1-6.7-.2-.8Z" fill="#bd6a00"/>
<path d="M382.6,480.6l.2,.8 1.1,6.7" class="m"/>
<path d="M381,483l1.1,6.8 .3,3.2 .4,6.7 1.8-1.7-.4-6.7-.3-3.2-1.1-6.7Z" fill="#a96400"/>
<path d="M382.8,481.4l1.1,6.7 .3,3.2 .4,6.7" class="m"/>
<path d="M382.4,493l.4,6.7 .3,10.5 .1,1.6 .1,9.2 1.7-1.8-.1-9.2 0-1.6-.3-10.4-.4-6.7Z" fill="#00c000"/>
<path d="M384.2,491.3l.4,6.7 .3,10.4 0,1.6 .1,9.2" class="m"/>
<path d="M370.3,473.5l3.4,1.9 2.9,3 2.4,5.5 2.4-2.2-2.3-5.5-2.9-2.9-3.4-1.9Z" fill="#fd7d00"/>
<path d="M376.6,478.4l2.4,5.5 .2,.7 2.4-2.2-.2-.7-2.3-5.5Z" fill="#d37000"/>
<path d="M379,483.9l.2,.7 1.1,6.8 2.4-2.2-1.1-6.8-.2-.7Z" fill="#be6a00"/>
<path d="M379.2,484.6l1.1,6.8 .3,3.3 .5,6.7 .3,10.5 0,1.6 .2,9.3 2.3-2.5-.1-9.1-.1-1.6-.3-10.5-.4-6.7-.3-3.2-1.1-6.8Z" fill="#00c300"/>
<path d="M368.4,475.1l3.4,1.9 3,3 2.4,5.6 2.4-2.3-2.3-5.5-3-2.9-3.3-1.9Z" fill="#fd7e00"/>
<path d="M374.8,480l2.4,5.6 .2,.7 2.4-2.3-.2-.7-2.3-5.5Z" fill="#d37000"/>
<path d="M377.2,485.6l.2,.7 1.1,6.8 .3,3.3 .5,6.8 2.4-2.4-.4-6.7-.3-3.2-1.2-6.9-.2-.7Z" fill="#0c0"/>
<path d="M378.8,496.4l.5,6.8 .4,10.5 0,1.6 .1,9.3 2.4-2.5-.1-9.2-.1-1.6-.3-10.5-.4-6.7Z" fill="#00c000"/>
<path d="M392,484.6l3.1-1.5 5.2-5-3.1,1.5Z" fill="#ff3c00"/>
<path d="M397.2,479.6l3.1-1.5" class="m"/>
<path d="M392,484.6l3.1-1.5 3.7-.1 5.1-5-3.6,.1-3.1,1.5Z" fill="#00ab00"/>
<path d="M397.2,479.6l3.1-1.5 3.6-.1" class="m"/>
<path d="M395.1,483.1l3.7-.1 3.9,.5 4.1,1 5.1-5.1-4.1-.9-3.9-.5-3.6,.1Z" fill="#00ca00"/>
<path d="M400.3,478.1l3.6-.1 3.9,.5 4.1,.9" class="m"/>
<path d="M402.7,483.5l4.1,1 2.4,.6 4.6-5.2-1.9-.5-4.1-.9Z" fill="#00df00"/>
<path d="M407.8,478.5l4.1,.9 1.9,.5" class="m"/>
<path d="M388.3,522.5l.6-9 .1-1.6 .9-10.2 1.7-1.7-.9,10.1-.1,1.6-.6,9Z" fill="#00b400"/>
<path d="M390,520.7l.6-9 .1-1.6 .9-10.1" class="m"/>
<path d="M389,511.9l.9-10.2 .7-6.4 .5-3.1 1.5-6.2 .2-.6 1.7-1.6-.2,.6-1.5,6.1-.5,3.1-.7,6.4-.9,10.1Z" fill="#865200"/>
<path d="M390.7,510.1l.9-10.1 .7-6.4 .5-3.1 1.5-6.1 .2-.6" class="m"/>
<path d="M392.6,486l.2-.6 2.7-4.2 1.7-1.6-2.7,4.2-.2,.6Z" fill="#793d00"/>
<path d="M394.3,484.4l.2-.6 2.7-4.2" class="m"/>
<path d="M386.6,524.3l.6-9.1 .1-1.5 .8-10.2 .8-6.5 .5-3.1 2.3-2.3-.5,3.1-.7,6.4-.9,10.2-.1,1.5-.6,9.1Z" fill="#00b100"/>
<path d="M388.9,497l.5-3.1 1.4-6.2 .2-.6 2.4-2.3-.2,.7-1.5,6.1-.5,3.1Z" fill="#009b00"/>
<path d="M390.8,487.7l.2-.6 2.7-4.2 2.4-2.3-2.7,4.2-.2,.7Z" fill="#007900"/>
<path d="M384.9,526.2l.6-9.1 .1-1.6 .8-10.3 .7-6.5 .5-3.1 2.4-2.3-.5,3.1-.8,6.4-.8,10.2-.1,1.6-.6,9.1Z" fill="#00b100"/>
<path d="M387.1,498.7l.5-3.1 1.5-6.2 .2-.6 2.4-2.3-.3,.6-1.4,6.2-.5,3.1Z" fill="#009b00"/>
<path d="M389.1,489.4l.2-.6 2.7-4.2 2.3-2.3-2.6,4.2-.3,.6Z" fill="#007900"/>
<path d="M284.1,460.4l2.1,2.2 6.7-4.1-2.4-2.5Z" fill="#ff00db"/>
<path d="M290.5,456l2.4,2.5" class="m"/>
<path d="M284.1,460.4l2.1,2.2 2.5,5.2 6.7-4.2-2.5-5.1-2.4-2.5Z" fill="#fb00f0"/>
<path d="M290.5,456l2.4,2.5 2.5,5.1" class="m"/>
<path d="M286.2,462.6l2.5,5.2 .3,.7 6.6-4.2-.2-.7-2.5-5.1Z" fill="#d300ee"/>
<path d="M292.9,458.5l2.5,5.1 .2,.7" class="m"/>
<path d="M288.7,467.8l.3,.7 1.6,6.5 6.6-4.3-1.6-6.4-.2-.7Z" fill="#be00ea"/>
<path d="M295.4,463.6l.2,.7 1.6,6.4" class="m"/>
<path d="M289,468.5l1.6,6.5 .6,3.1 1.1,6.5 6.4-4.5-1-6.4-.5-3-1.6-6.4Z" fill="#a900e6"/>
<path d="M295.6,464.3l1.6,6.4 .5,3 1,6.4" class="m"/>
<path d="M291.2,478.1l1.1,6.5 1.3,10 .2,1.6 1.1,8.8 6.3-4.7-1-8.7-.2-1.6-1.3-9.9-1-6.4Z" fill="#9b00e2"/>
<path d="M297.7,473.7l1,6.4 1.3,9.9 .2,1.6 1,8.7" class="m"/>
<path d="M299.2,506.4l-.5-8.7 0-1.5-.4-9.9-.1-6.2 .1-2.9 .5-6 .1-.6 6.6-4.3-.2,.6-.6,5.9 0,2.9 0,6.1 .3,9.7 0,1.5 .4,8.6Z" fill="#800"/>
<path d="M305.4,501.6l-.4-8.6 0-1.5-.3-9.7 0-6.1 0-2.9 .6-5.9 .2-.6" class="m"/>
<path d="M298.8,471.2l.1-.6 1.8-4.1 6.5-4.3-1.7,4.1-.2,.6Z" fill="#790000"/>
<path d="M305.3,466.9l.2-.6 1.7-4.1" class="m"/>
<path d="M300.7,466.5l2.5-1.4 6.5-4.3-2.5,1.4Z" fill="#f00"/>
<path d="M307.2,462.2l2.5-1.4" class="m"/>
<path d="M300.7,466.5l2.5-1.4 2.9-.2 6.5-4.3-2.9,.2-2.5,1.4Z" fill="#ff0059"/>
<path d="M307.2,462.2l2.5-1.4 2.9-.2" class="m"/>
<path d="M303.2,465.1l2.9-.2 3.3,.4 6.4-4.3-3.2-.4-2.9,.2Z" fill="#ff006f"/>
<path d="M309.7,460.8l2.9-.2 3.2,.4" class="m"/>
<path d="M306.1,464.9l3.3,.4 3.4,.8 3.5,1.1 6.4-4.4-3.5-1.1-3.4-.7-3.2-.4Z" fill="#f00"/>
<path d="M312.6,460.6l3.2,.4 3.4,.7 3.5,1.1" class="m"/>
<path d="M312.8,466.1l3.5,1.1 3.4,1.3 6.4-4.4-3.4-1.3-3.5-1.1Z" fill="#ff009a"/>
<path d="M319.2,461.7l3.5,1.1 3.4,1.3" class="m"/>
<path d="M316.3,467.2l3.4,1.3 3.2,1.9 6.3-4.5-3.1-1.8-3.4-1.3Z" fill="#ff00b3"/>
<path d="M322.7,462.8l3.4,1.3 3.1,1.8" class="m"/>
<path d="M319.7,468.5l3.2,1.9 2.9,2.9 6.2-4.5-2.8-2.9-3.1-1.8Z" fill="#ff00db"/>
<path d="M326.1,464.1l3.1,1.8 2.8,2.9" class="m"/>
<path d="M322.9,470.4l2.9,2.9 2.5,5.4 6.1-4.6-2.4-5.3-2.8-2.9Z" fill="#fb0000"/>
<path d="M329.2,465.9l2.8,2.9 2.4,5.3" class="m"/>
<path d="M325.8,473.3l2.5,5.4 .2,.7 6.2-4.6-.3-.7-2.4-5.3Z" fill="#d30000"/>
<path d="M332,468.8l2.4,5.3 .3,.7" class="m"/>
<path d="M328.3,478.7l.2,.7 1.4,6.7 6.1-4.7-1.3-6.6-.3-.7Z" fill="#be0000"/>
<path d="M334.4,474.1l.3,.7 1.3,6.6" class="m"/>
<path d="M328.5,479.4l1.4,6.7 .5,3.2 .8,6.7 6-4.9-.7-6.5-.5-3.2-1.3-6.6Z" fill="#a90000"/>
<path d="M334.7,474.8l1.3,6.6 .5,3.2 .7,6.5" class="m"/>
<path d="M330.4,489.3l.8,6.7 1,10.4 .1,1.6 .7,9.1 5.8-5.2-.6-9-.1-1.5-.9-10.3-.7-6.5Z" fill="#9b0000"/>
<path d="M336.5,484.6l.7,6.5 .9,10.3 .1,1.5 .6,9" class="m"/>
<path d="M337.7,518.5l-.1-8.9 0-1.6 .2-10.1 .3-6.4 .2-3 1-6.1 6-4.8-1,6.1-.2,3-.4,6.3-.2,10 0,1.5 0,8.9Z" fill="#8a00d8"/>
<path d="M343.5,513.4l0-8.9 0-1.5 .2-10 .4-6.3 .2-3 1-6.1" class="m"/>
<path d="M338.3,488.5l1-6.1 .1-.6 6.1-4.8-.2,.6-1,6.1Z" fill="#8100c4"/>
<path d="M344.3,483.7l1-6.1 .2-.6" class="m"/>
<path d="M339.3,482.4l.1-.6 2.2-4.2 6.1-4.7-2.2,4.1-.2,.6Z" fill="#790000"/>
<path d="M345.3,477.6l.2-.6 2.2-4.1" class="m"/>
<path d="M341.6,477.6l2.8-1.4 3.3-.2 3.6,.5 3.8,.9 5.9-4.8-3.7-.9-3.6-.4-3.2,.1-2.8,1.5Z" fill="#f00"/>
<path d="M347.7,472.9l2.8-1.5 3.2-.1 3.6,.4 3.7,.9" class="m"/>
<path d="M351.3,476.5l3.8,.9 3.8,1.1 3.7,1.5 5.8-4.9-3.6-1.4-3.8-1.1-3.7-.9Z" fill="#ff0092"/>
<path d="M357.3,471.7l3.7,.9 3.8,1.1 3.6,1.4" class="m"/>
<path d="M358.9,478.5l3.7,1.5 3.5,2 5.7-5-3.4-1.9-3.6-1.4Z" fill="#f00"/>
<path d="M364.8,473.7l3.6,1.4 3.4,1.9" class="m"/>
<path d="M366.5,476.7l3.4,2 3,3 2.4,5.5 1.9-1.6-2.4-5.6-3-3-3.4-1.9Z" fill="#fd0000"/>
<path d="M368.4,475.1l3.4,1.9 3,3 2.4,5.6" class="m"/>
<path d="M372.9,481.7l2.4,5.5 .2,.8 1.9-1.7-.2-.7-2.4-5.6Z" fill="#d30000"/>
<path d="M374.8,480l2.4,5.6 .2,.7" class="m"/>
<path d="M375.3,487.2l.2,.8 1.2,6.8 1.8-1.7-1.1-6.8-.2-.7Z" fill="#be0000"/>
<path d="M377.2,485.6l.2,.7 1.1,6.8" class="m"/>
<path d="M375.5,488l1.2,6.8 .3,3.3 .5,6.8 1.8-1.7-.5-6.8-.3-3.3-1.1-6.8Z" fill="#a90000"/>
<path d="M377.4,486.3l1.1,6.8 .3,3.3 .5,6.8" class="m"/>
<path d="M377,498.1l.5,6.8 .4,10.6 0,1.6 .2,9.3 1.7-1.8-.1-9.3 0-1.6-.4-10.5-.5-6.8Z" fill="#9b00e2"/>
<path d="M378.8,496.4l.5,6.8 .4,10.5 0,1.6 .1,9.3" class="m"/>
<path d="M364.6,478.3l3.4,2 3,3 2.5,5.6 2.5-2.3-2.4-5.5-3-3-3.4-2Z" fill="#fd0000"/>
<path d="M371,483.3l2.5,5.6 .1,.8 2.6-2.3-.2-.8-2.4-5.5Z" fill="#d30000"/>
<path d="M373.5,488.9l.1,.8 1.2,6.9 2.5-2.4-1.1-6.8-.2-.8Z" fill="#be0000"/>
<path d="M373.6,489.7l1.2,6.9 .4,3.3 .5,6.8 2.4-2.4-.4-6.8-.4-3.3-1.1-6.8Z" fill="#a90000"/>
<path d="M375.2,499.9l.5,6.8 .4,10.6 0,1.7 2.4-2.5 0-1.6-.4-10.6-.4-6.8Z" fill="#9c0000"/>
<path d="M376.1,517.3l0,1.7 .2,9.3 2.4-2.5-.2-9.3 0-1.6Z" fill="#9900e1"/>
<path d="M362.6,480l3.5,2 3,3 2.5,5.6 2.5-2.3-2.4-5.5-3-3.1-3.4-1.9Z" fill="#fd0000"/>
<path d="M369.1,485l2.5,5.6 .1,.8 2.6-2.3-.2-.8-2.4-5.5Z" fill="#d30000"/>
<path d="M371.6,490.6l.1,.8 1.3,6.9 2.5-2.3-1.2-6.9-.2-.8Z" fill="#be0000"/>
<path d="M371.7,491.4l1.3,6.9 .3,3.3 .5,6.9 2.5-2.4-.5-6.8-.3-3.3-1.2-6.9Z" fill="#a90000"/>
<path d="M373.3,501.6l.5,6.9 .5,10.7 2.4-2.5-.4-10.6-.5-6.8Z" fill="#9e0000"/>
<path d="M373.8,508.5l.5,10.7 0,1.6 .2,9.4 2.4-2.6-.1-9.3-.1-1.6-.4-10.6Z" fill="#9a00e2"/>
<path d="M386.5,489.7l3.2-1.4 5.4-5.2-3.1,1.5Z" fill="#f00"/>
<path d="M392,484.6l3.1-1.5" class="m"/>
<path d="M386.5,489.7l3.2-1.4 3.7-.1 5.4-5.2-3.7,.1-3.1,1.5Z" fill="#ff0059"/>
<path d="M392,484.6l3.1-1.5 3.7-.1" class="m"/>
<path d="M389.7,488.3l3.7-.1 4,.6 5.3-5.3-3.9-.5-3.7,.1Z" fill="#ff006f"/>
<path d="M395.1,483.1l3.7-.1 3.9,.5" class="m"/>
<path d="M393.4,488.2l4,.6 4.2,1 2.7,.8 4.9-5.5-2.4-.6-4.1-1-3.9-.5Z" fill="#ff0085"/>
<path d="M398.8,483l3.9,.5 4.1,1 2.4,.6" class="m"/>
<path d="M401.6,489.8l2.7,.8 4.9-5.5-2.4-.6Z" fill="#ff009a"/>
<path d="M406.8,484.5l2.4,.6" class="m"/>
<path d="M383.2,528l.5-9.1 .1-1.6 .8-10.3 .8-6.5 .4-3.1 1.5-6.3 1.8-1.7-1.5,6.2-.5,3.1-.7,6.5-.8,10.3-.1,1.6-.6,9.1Z" fill="#8a00d8"/>
<path d="M384.9,526.2l.6-9.1 .1-1.6 .8-10.3 .7-6.5 .5-3.1 1.5-6.2" class="m"/>
<path d="M385.8,497.4l1.5-6.3 .2-.6 1.8-1.7-.2,.6-1.5,6.2Z" fill="#8100c4"/>
<path d="M387.6,495.6l1.5-6.2 .2-.6" class="m"/>
<path d="M387.3,491.1l.2-.6 2.7-4.2 1.8-1.7-2.7,4.2-.2,.6Z" fill="#7900ac"/>
<path d="M389.1,489.4l.2-.6 2.7-4.2" class="m"/>
<path d="M381.5,529.9l.5-9.2 .1-1.6 .7-10.3 .7-6.6 .5-3.1 1.4-6.2 2.5-2.4-1.5,6.3-.4,3-.8,6.6-.8,10.2-.1,1.6-.5,9.2Z" fill="#8a00d8"/>
<path d="M384,499.1l1.4-6.2 .3-.6 2.4-2.4-.2,.6-1.5,6.3Z" fill="#8100c4"/>
<path d="M385.4,492.9l.3-.6 2.6-4.3 2.5-2.3-2.7,4.2-.2,.6Z" fill="#7900ac"/>
<path d="M379.7,531.8l.5-9.2 2.4-2.5-.5,9.1Z" fill="#8c00dd"/>
<path d="M379.7,531.8l.5-9.2 .1-1.6 .7-10.4 .7-6.6 .5-3.1 1.4-6.2 .2-.7 2.5-2.3-.2,.6-1.5,6.2-.4,3.1-.7,6.6-.8,10.3-.1,1.6-.5,9.1Z" fill="#800"/>
<path d="M383.6,494.7l.2-.7 2.7-4.3 2.5-2.3-2.7,4.3-.2,.6Z" fill="#790000"/>
<path d="M277.4,465.1l1.9,1.9 2.6,5.2 6.8-4.4-2.5-5.2-2.1-2.2Z" fill="#00f700"/>
<path d="M284.1,460.4l2.1,2.2 2.5,5.2" class="m"/>
<path d="M277.4,465.1l1.9,1.9 2.6,5.2" class="m"/>
<path d="M279.3,467l2.6,5.2 .2,.7 1.7,6.6 6.8-4.5-1.6-6.5-.3-.7-2.5-5.2Z" fill="#00da00"/>
<path d="M286.2,462.6l2.5,5.2 .3,.7 1.6,6.5" class="m"/>
<path d="M279.3,467l2.6,5.2 .2,.7 1.7,6.6" class="m"/>
<path d="M282.1,472.9l1.7,6.6 .6,3.2 1.2,6.5 1.5,10.2 .2,1.5 1.1,9 6.5-4.9-1.1-8.8-.2-1.6-1.3-10-1.1-6.5-.6-3.1-1.6-6.5Z" fill="#00c400"/>
<path d="M289,468.5l1.6,6.5 .6,3.1 1.1,6.5 1.3,10 .2,1.6 1.1,8.8" class="m"/>
<path d="M282.1,472.9l1.7,6.6 .6,3.2 1.2,6.5 1.5,10.2 .2,1.5 1.1,9" class="m"/>
<path d="M292.8,511.3l-.6-8.8-.1-1.5-.4-10-.2-6.3 .1-2.9 .5-6 6.7-4.6-.5,6-.1,2.9 .1,6.2 .4,9.9 0,1.5 .5,8.7Z" fill="#8a5700"/>
<path d="M299.2,506.4l-.5-8.7 0-1.5-.4-9.9-.1-6.2 .1-2.9 .5-6" class="m"/>
<path d="M292.8,511.3l-.6-8.8-.1-1.5-.4-10-.2-6.3 .1-2.9 .5-6" class="m"/>
<path d="M291.6,481.8l.5-6 .1-.6 1.7-4.2 6.8-4.5-1.8,4.1-.1,.6-.5,6Z" fill="#7d4400"/>
<path d="M298.3,477.2l.5-6 .1-.6 1.8-4.1" class="m"/>
<path d="M291.6,481.8l.5-6 .1-.6 1.7-4.2" class="m"/>
<path d="M293.9,471l2.5-1.4 6.8-4.5-2.5,1.4Z" fill="#ff3c00"/>
<path d="M300.7,466.5l2.5-1.4" class="m"/>
<path d="M293.9,471l2.5-1.4" class="m"/>
<path d="M293.9,471l2.5-1.4 2.9-.2 6.8-4.5-2.9,.2-2.5,1.4Z" fill="#00ab00"/>
<path d="M300.7,466.5l2.5-1.4 2.9-.2" class="m"/>
<path d="M293.9,471l2.5-1.4 2.9-.2" class="m"/>
<path d="M296.4,469.6l2.9-.2 3.3,.5 6.8-4.6-3.3-.4-2.9,.2Z" fill="#00c300"/>
<path d="M303.2,465.1l2.9-.2 3.3,.4" class="m"/>
<path d="M296.4,469.6l2.9-.2 3.3,.5" class="m"/>
<path d="M299.3,469.4l3.3,.5 3.5,.8 3.5,1.1 6.7-4.6-3.5-1.1-3.4-.8-3.3-.4Z" fill="#ff6a00"/>
<path d="M306.1,464.9l3.3,.4 3.4,.8 3.5,1.1" class="m"/>
<path d="M299.3,469.4l3.3,.5 3.5,.8 3.5,1.1" class="m"/>
<path d="M306.1,470.7l3.5,1.1 3.5,1.4 6.6-4.7-3.4-1.3-3.5-1.1Z" fill="#00e400"/>
<path d="M312.8,466.1l3.5,1.1 3.4,1.3" class="m"/>
<path d="M306.1,470.7l3.5,1.1 3.5,1.4" class="m"/>
<path d="M309.6,471.8l3.5,1.4 3.2,1.9 3,3 6.5-4.8-2.9-2.9-3.2-1.9-3.4-1.3Z" fill="#00fa00"/>
<path d="M316.3,467.2l3.4,1.3 3.2,1.9 2.9,2.9" class="m"/>
<path d="M309.6,471.8l3.5,1.4 3.2,1.9 3,3" class="m"/>
<path d="M316.3,475.1l3,3 2.5,5.4 6.5-4.8-2.5-5.4-2.9-2.9Z" fill="#fb7900"/>
<path d="M322.9,470.4l2.9,2.9 2.5,5.4" class="m"/>
<path d="M316.3,475.1l3,3 2.5,5.4" class="m"/>
<path d="M319.3,478.1l2.5,5.4 .2,.8 6.5-4.9-.2-.7-2.5-5.4Z" fill="#d37000"/>
<path d="M325.8,473.3l2.5,5.4 .2,.7" class="m"/>
<path d="M319.3,478.1l2.5,5.4 .2,.8" class="m"/>
<path d="M321.8,483.5l.2,.8 1.6,6.8 6.3-5-1.4-6.7-.2-.7Z" fill="#be6a00"/>
<path d="M328.3,478.7l.2,.7 1.4,6.7" class="m"/>
<path d="M321.8,483.5l.2,.8 1.6,6.8" class="m"/>
<path d="M322,484.3l1.6,6.8 .5,3.2 .9,6.8 6.2-5.1-.8-6.7-.5-3.2-1.4-6.7Z" fill="#a96400"/>
<path d="M328.5,479.4l1.4,6.7 .5,3.2 .8,6.7" class="m"/>
<path d="M322,484.3l1.6,6.8 .5,3.2 .9,6.8" class="m"/>
<path d="M324.1,494.3l.9,6.8 1,10.4 .2,1.7 .7,9.2 6.1-5.3-.7-9.1-.1-1.6-1-10.4-.8-6.7Z" fill="#9b6000"/>
<path d="M330.4,489.3l.8,6.7 1,10.4 .1,1.6 .7,9.1" class="m"/>
<path d="M324.1,494.3l.9,6.8 1,10.4 .2,1.7 .7,9.2" class="m"/>
<path d="M331.7,523.9l-.1-9-.1-1.6 .1-10.2 .2-6.5 .3-3.1 6.2-5-.2,3-.3,6.4-.2,10.1 0,1.6 .1,8.9Z" fill="#00b100"/>
<path d="M337.7,518.5l-.1-8.9 0-1.6 .2-10.1 .3-6.4 .2-3" class="m"/>
<path d="M331.7,523.9l-.1-9-.1-1.6 .1-10.2 .2-6.5 .3-3.1" class="m"/>
<path d="M331.8,496.6l.3-3.1 .9-6.1 .1-.7 6.3-4.9-.1,.6-1,6.1-.2,3Z" fill="#009b00"/>
<path d="M338.1,491.5l.2-3 1-6.1 .1-.6" class="m"/>
<path d="M331.8,496.6l.3-3.1 .9-6.1 .1-.7" class="m"/>
<path d="M333,487.4l.1-.7 2.2-4.2 6.3-4.9-2.2,4.2-.1,.6Z" fill="#793d00"/>
<path d="M339.3,482.4l.1-.6 2.2-4.2" class="m"/>
<path d="M333,487.4l.1-.7 2.2-4.2" class="m"/>
<path d="M335.3,482.5l2.8-1.4 6.3-4.9-2.8,1.4Z" fill="#ff3c00"/>
<path d="M341.6,477.6l2.8-1.4" class="m"/>
<path d="M335.3,482.5l2.8-1.4" class="m"/>
<path d="M335.3,482.5l2.8-1.4 3.3-.2 3.7,.6 6.2-5-3.6-.5-3.3,.2-2.8,1.4Z" fill="#ff5b00"/>
<path d="M341.6,477.6l2.8-1.4 3.3-.2 3.6,.5" class="m"/>
<path d="M335.3,482.5l2.8-1.4 3.3-.2 3.7,.6" class="m"/>
<path d="M341.4,480.9l3.7,.6 3.8,.9 6.2-5-3.8-.9-3.6-.5Z" fill="#ff6800"/>
<path d="M347.7,476l3.6,.5 3.8,.9" class="m"/>
<path d="M341.4,480.9l3.7,.6 3.8,.9" class="m"/>
<path d="M345.1,481.5l3.8,.9 3.9,1.2 3.8,1.5 6-5.1-3.7-1.5-3.8-1.1-3.8-.9Z" fill="#00df00"/>
<path d="M351.3,476.5l3.8,.9 3.8,1.1 3.7,1.5" class="m"/>
<path d="M345.1,481.5l3.8,.9 3.9,1.2 3.8,1.5" class="m"/>
<path d="M352.8,483.6l3.8,1.5 3.5,2 6-5.1-3.5-2-3.7-1.5Z" fill="#ff7a00"/>
<path d="M358.9,478.5l3.7,1.5 3.5,2" class="m"/>
<path d="M352.8,483.6l3.8,1.5 3.5,2" class="m"/>
<path d="M360.6,481.7l3.5,2 3,3 2.5,5.7 2-1.8-2.5-5.6-3-3-3.5-2Z" fill="#fd7e00"/>
<path d="M362.6,480l3.5,2 3,3 2.5,5.6" class="m"/>
<path d="M367.1,486.7l2.5,5.7 .2,.7 1.9-1.7-.1-.8-2.5-5.6Z" fill="#d37000"/>
<path d="M369.1,485l2.5,5.6 .1,.8" class="m"/>
<path d="M369.6,492.4l.2,.7 1.3,7 1.9-1.8-1.3-6.9-.1-.8Z" fill="#be6a00"/>
<path d="M371.6,490.6l.1,.8 1.3,6.9" class="m"/>
<path d="M369.8,493.1l1.3,7 .3,3.3 .5,6.9 1.9-1.8-.5-6.9-.3-3.3-1.3-6.9Z" fill="#a96400"/>
<path d="M371.7,491.4l1.3,6.9 .3,3.3 .5,6.9" class="m"/>
<path d="M371.4,503.4l.5,6.9 .5,10.7 .1,1.7 1.8-1.9 0-1.6-.5-10.7-.5-6.9Z" fill="#9c6000"/>
<path d="M373.3,501.6l.5,6.9 .5,10.7 0,1.6" class="m"/>
<path d="M372.4,521l.1,1.7 .2,9.4 1.8-1.9-.2-9.4 0-1.6Z" fill="#00bf00"/>
<path d="M374.3,519.2l0,1.6 .2,9.4" class="m"/>
<path d="M358.6,483.4l3.5,2 3.1,3.1 2.5,5.7 2.6-2.4-2.5-5.7-3-3-3.5-2Z" fill="#fd7e00"/>
<path d="M365.2,488.5l2.5,5.7 .2,.7 2.6-2.4-.2-.7-2.5-5.7Z" fill="#d37000"/>
<path d="M367.7,494.2l.2,.7 1.2,7 2.6-2.4-1.2-7-.2-.7Z" fill="#be6a00"/>
<path d="M367.9,494.9l1.2,7 .4,3.4 2.6-2.5-.4-3.3-1.2-7Z" fill="#ad6600"/>
<path d="M369.1,501.9l.4,3.4 .5,6.9 .5,10.7 .1,1.7 .2,9.4 2.5-2.6-.2-9.4 0-1.6-.5-10.7-.5-6.9-.4-3.3Z" fill="#00c200"/>
<path d="M356.6,485.1l3.5,2 3,3.1 2.6,5.7 2.7-2.4-2.5-5.6-3.1-3.1-3.5-2Z" fill="#fd7e00"/>
<path d="M356.6,485.1l3.5,2 3,3.1 2.6,5.7" class="m"/>
<path d="M363.1,490.2l2.6,5.7 .2,.8 2.6-2.4-.1-.8-2.5-5.6Z" fill="#d37000"/>
<path d="M363.1,490.2l2.6,5.7 .2,.8" class="m"/>
<path d="M365.7,495.9l.2,.8 1.3,7 2.6-2.4-1.3-7-.1-.8Z" fill="#be6a00"/>
<path d="M365.7,495.9l.2,.8 1.3,7" class="m"/>
<path d="M365.9,496.7l1.3,7 .3,3.4 .6,7 2.6-2.6-.5-6.9-.4-3.3-1.3-7Z" fill="#a96400"/>
<path d="M365.9,496.7l1.3,7 .3,3.4 .6,7" class="m"/>
<path d="M367.5,507.1l.6,7 .5,10.8 .1,1.6 .3,9.5 2.5-2.7-.3-9.4 0-1.6-.5-10.8-.5-6.9Z" fill="#00c000"/>
<path d="M367.5,507.1l.6,7 .5,10.8 .1,1.6 .3,9.5" class="m"/>
<path d="M380.8,495.1l3.3-1.4 5.6-5.4-3.2,1.4Z" fill="#ff3c00"/>
<path d="M386.5,489.7l3.2-1.4" class="m"/>
<path d="M380.8,495.1l3.3-1.4" class="m"/>
<path d="M380.8,495.1l3.3-1.4 3.7-.1 5.6-5.4-3.7,.1-3.2,1.4Z" fill="#00ab00"/>
<path d="M386.5,489.7l3.2-1.4 3.7-.1" class="m"/>
<path d="M380.8,495.1l3.3-1.4 3.7-.1" class="m"/>
<path d="M384.1,493.7l3.7-.1 4,.6 4.3,1.1 5.5-5.5-4.2-1-4-.6-3.7,.1Z" fill="#00ca00"/>
<path d="M389.7,488.3l3.7-.1 4,.6 4.2,1" class="m"/>
<path d="M384.1,493.7l3.7-.1 4,.6 4.3,1.1" class="m"/>
<path d="M391.8,494.2l4.3,1.1 3.2,1 5-5.7-2.7-.8-4.2-1Z" fill="#00df00"/>
<path d="M397.4,488.8l4.2,1 2.7,.8" class="m"/>
<path d="M391.8,494.2l4.3,1.1 3.2,1" class="m"/>
<path d="M377.9,533.7l.4-9.2 .1-1.6 .8-10.4 .7-6.6 .4-3.1 1.9-1.9-.5,3.1-.7,6.6-.7,10.4-.1,1.6-.5,9.2Z" fill="#00b100"/>
<path d="M379.7,531.8l.5-9.2 .1-1.6 .7-10.4 .7-6.6 .5-3.1" class="m"/>
<path d="M379.9,505.9l.4-3.1 1.4-6.4 .2-.6 1.9-1.8-.2,.7-1.4,6.2-.5,3.1Z" fill="#009b00"/>
<path d="M381.7,504l.5-3.1 1.4-6.2 .2-.7" class="m"/>
<path d="M381.7,496.4l.2-.6 2.7-4.3 1.9-1.8-2.7,4.3-.2,.7Z" fill="#007900"/>
<path d="M383.6,494.7l.2-.7 2.7-4.3" class="m"/>
<path d="M376.1,535.7l.4-9.3 .1-1.6 .7-10.4 2.5-2.6-.7,10.4-.1,1.6-.5,9.3Z" fill="#00b400"/>
<path d="M376.6,524.8l.7-10.4 .7-6.7 .4-3.1 1.4-6.3 .2-.7 2.6-2.4-.2,.6-1.4,6.3-.5,3.1-.7,6.6-.7,10.4Z" fill="#865200"/>
<path d="M379.8,498.3l.2-.7 2.7-4.3 2.6-2.4-2.7,4.3-.2,.6Z" fill="#793d00"/>
<path d="M374.2,537.7l.4-9.3 .1-1.6 .7-10.5 2.5-2.6-.7,10.4-.1,1.7-.4,9.2Z" fill="#00b400"/>
<path d="M374.2,537.7l.4-9.3 .1-1.6 .7-10.5" class="m"/>
<path d="M374.7,526.8l.7-10.5 .7-6.7 .4-3.1 1.4-6.4 .2-.6 2.6-2.5-.2,.6-1.4,6.3-.5,3.2-.7,6.6-.7,10.4Z" fill="#865200"/>
<path d="M374.7,526.8l.7-10.5 .7-6.7 .4-3.1 1.4-6.4 .2-.6" class="m"/>
<path d="M377.9,500.1l.2-.6 2.7-4.4 2.6-2.4-2.7,4.3-.2,.6Z" fill="#793d00"/>
<path d="M377.9,500.1l.2-.6 2.7-4.4" class="m"/>
</g>
<path d="M276.9,509.14L271.32,460.93 M271.32,460.93L343.17,415.31 M343.17,415.31L451.55,437.25 M451.55,437.25L399.32,495.88 M399.32,495.88L271.32,460.93 M399.32,495.88L397.11,548.51" fill="none" stroke="#8a8a8a" stroke-width="0.5"/>
<path d="M282.43,510.96L285.49,508.53 M287.53,512.62L289.15,511.31 M292.68,514.31L294.28,512.98 M297.89,516.02L299.48,514.67 M303.16,517.74L304.74,516.38 M308.5,519.49L311.42,516.92 M313.91,521.26L315.45,519.87 M319.38,523.05L320.91,521.64 M324.92,524.87L326.43,523.44 M330.52,526.7L332.01,525.25 M336.2,528.56L338.95,525.82 M341.94,530.44L343.4,528.96 M347.76,532.35L349.2,530.85 M353.66,534.28L355.07,532.76 M359.63,536.24L361.02,534.69 M365.67,538.22L368.23,535.3 M371.8,540.22L373.15,538.64 M378,542.25L379.33,540.65 M384.29,544.31L385.59,542.69 M390.65,546.4L391.93,544.75 M397.11,548.51L399.44,545.4 M271.32,460.93L275.03,461.94 M275.74,458.13L277.58,458.62 M280.05,455.39L281.87,455.87 M284.26,452.72L286.07,453.19 M288.37,450.11L290.17,450.57 M292.38,447.56L295.96,448.46 M296.31,445.07L298.08,445.51 M300.15,442.63L301.91,443.06 M303.9,440.25L305.65,440.67 M307.57,437.92L309.3,438.33 M311.16,435.64L314.61,436.45 M314.67,433.41L316.38,433.81 M318.1,431.23L319.81,431.61 M321.47,429.09L323.16,429.47 M324.76,427L326.44,427.37 M327.99,424.95L331.33,425.68 M331.15,422.95L332.81,423.3 M334.25,420.98L335.89,421.33 M337.28,419.05L338.92,419.39 M340.26,417.17L341.88,417.5 M343.17,415.31L346.4,415.97 M271.32,460.93L275.03,461.94 M271.79,465.01L273.64,465.52 M272.26,469.05L274.1,469.56 M272.72,473.04L274.55,473.57 M273.18,477L275,477.53 M273.64,480.92L277.26,481.99 M274.09,484.8L275.89,485.34 M274.53,488.65L276.32,489.19 M274.97,492.45L276.76,493.01 M275.41,496.23L277.19,496.78 M275.84,499.96L279.39,501.09 M276.27,503.66L278.03,504.23 M276.69,507.32L278.45,507.9" fill="none" stroke="#777" stroke-width="0.4"/>
<g font-family="'DejaVu Sans',sans-serif" fill="#000" stroke="#000" stroke-width="0.25">
<text x="280.2" y="520.15" font-size="6.7" text-anchor="middle">- 10</text>
<text x="305.8" y="528.85" font-size="6.7" text-anchor="middle">- 5</text>
<text x="332.7" y="538.15" font-size="6.7" text-anchor="middle">0</text>
<text x="362" y="547.75" font-size="6.7" text-anchor="middle">5</text>
<text x="394.6" y="558.85" font-size="6.7" text-anchor="middle">10</text>
<text x="272.3" y="454.65" font-size="6.7" text-anchor="middle">0.0</text>
<text x="292.5" y="441.85" font-size="6.7" text-anchor="middle">0.5</text>
<text x="311.2" y="430.45" font-size="6.7" text-anchor="middle">1.0</text>
<text x="327.1" y="419.65" font-size="6.7" text-anchor="middle">1.5</text>
<text x="341.5" y="410.35" font-size="6.7" text-anchor="middle">2.0</text>
<text x="333.6" y="548.15" font-size="6.7" text-anchor="middle">x</text>
<text x="309.4" y="421.35" font-size="6.7" text-anchor="middle">t</text>
<text x="234.6" y="484.2" font-size="6.6" textLength="27.2" lengthAdjust="spacingAndGlyphs"><tspan font-style="italic">w</tspan><tspan font-size="4.8" dy="1.3">61</tspan><tspan dy="-1.3" font-weight="normal">(</tspan>x,t<tspan font-weight="normal">)</tspan></text>
<text x="266.7" y="462.55" font-size="6.7" text-anchor="middle">0</text>
<text x="270.8" y="480.85" font-size="6.7" text-anchor="end">- 50</text>
<text x="273.2" y="498.75" font-size="6.7" text-anchor="end">- 100</text>
</g>
<path d="M580.58,446.87L678.98,475.55 M580.58,446.87L514.06,502.71 M580.58,446.87L579.35,405.66 M514.06,502.71L627.85,546.59 M627.85,546.59L678.98,475.55 M678.98,475.55L684.47,431.34" fill="none" stroke="#8a8a8a" stroke-width="0.5"/>
<g stroke-linejoin="round">
<path d="M579.8,411.1l1.7,1 2.2,2.4 1.9,4.5 4.5-3.3-1.9-4.5-2.1-2.3-1.8-1.1Z" fill="#00f900"/>
<path d="M584.3,407.8l1.8,1.1 2.1,2.3 1.9,4.5" class="m"/>
<path d="M583.7,414.5l1.9,4.5 .1,.5 1.1,5.6 4.4-3.3-1-5.6-.1-.5-1.9-4.5Z" fill="#00d500"/>
<path d="M588.2,411.2l1.9,4.5 .1,.5 1,5.6" class="m"/>
<path d="M585.7,419.5l1.1,5.6 .3,2.7 .5,5.5 .5,8.5 .1,1.3 .4,7.4 4.2-3.6-.3-7.3-.1-1.3-.5-8.5-.4-5.4-.3-2.6-1-5.6Z" fill="#00be00"/>
<path d="M590.2,416.2l1,5.6 .3,2.6 .4,5.4 .5,8.5 .1,1.3 .3,7.3" class="m"/>
<path d="M592.3,451.6l.2-7.3 0-1.2 .3-8.4 .4-5.3 .2-2.5 .9-5.1 4.4-3.4-.9,5.1-.3,2.5-.4,5.2-.3,8.3-.1,1.2-.1,7.3Z" fill="#850"/>
<path d="M596.6,448l.1-7.3 .1-1.2 .3-8.3 .4-5.2 .3-2.5 .9-5.1" class="m"/>
<path d="M593.4,426.9l.9-5.1 .1-.5 1.8-3.6 4.4-3.4-1.8,3.6-.1,.5-.9,5.1Z" fill="#7c4100"/>
<path d="M597.8,423.5l.9-5.1 .1-.5 1.8-3.6" class="m"/>
<path d="M596.2,417.7l2.2-1.4 4.4-3.3-2.2,1.3Z" fill="#ff3e00"/>
<path d="M600.6,414.3l2.2-1.3" class="m"/>
<path d="M596.2,417.7l2.2-1.4 2.6-.2 4.4-3.3-2.6,.2-2.2,1.3Z" fill="#00b000"/>
<path d="M600.6,414.3l2.2-1.3 2.6-.2" class="m"/>
<path d="M598.4,416.3l2.6-.2 2.8,.3 4.4-3.4-2.8-.2-2.6,.2Z" fill="#0c0"/>
<path d="M602.8,413l2.6-.2 2.8,.2" class="m"/>
<path d="M601,416.1l2.8,.3 3,.6 3,.9 2.8,1.1 4.3-3.4-2.9-1.1-2.9-.9-2.9-.6-2.8-.2Z" fill="#ff7200"/>
<path d="M605.4,412.8l2.8,.2 2.9,.6 2.9,.9 2.9,1.1" class="m"/>
<path d="M609.8,417.9l2.8,1.1 2.7,1.6 2.3,2.5 1.8,4.6 4.1-3.6-1.8-4.5-2.2-2.5-2.6-1.5-2.9-1.1Z" fill="#00f900"/>
<path d="M614,414.5l2.9,1.1 2.6,1.5 2.2,2.5 1.8,4.5" class="m"/>
<path d="M617.6,423.1l1.8,4.6 .1,.6 4.1-3.6-.1-.6-1.8-4.5Z" fill="#cc6d00"/>
<path d="M621.7,419.6l1.8,4.5 .1,.6" class="m"/>
<path d="M619.4,427.7l.1,.6 .8,5.7 4.1-3.6-.8-5.7-.1-.6Z" fill="#b76800"/>
<path d="M623.5,424.1l.1,.6 .8,5.7" class="m"/>
<path d="M619.5,428.3l.8,5.7 .2,2.8 .3,5.6 .2,8.7 3.9-3.8-.1-8.6-.2-5.6-.2-2.7-.8-5.7Z" fill="#9f6000"/>
<path d="M623.6,424.7l.8,5.7 .2,2.7 .2,5.6 .1,8.6" class="m"/>
<path d="M620.8,442.4l.2,8.7 0,1.3 0,7.6 3.9-3.8 0-7.6 0-1.3-.1-8.6Z" fill="#935d00"/>
<path d="M624.8,438.7l.1,8.6 0,1.3 0,7.6" class="m"/>
<path d="M625,461.2l.6-7.5 .1-1.3 .7-8.5 .7-5.4 .4-2.6 4-3.7-.4,2.6-.7,5.4-.8,8.4-.1,1.3-.6,7.4Z" fill="#00ac00"/>
<path d="M628.9,457.3l.6-7.4 .1-1.3 .8-8.4 .7-5.4 .4-2.6" class="m"/>
<path d="M627.1,438.5l.4-2.6 1.2-5.2 .2-.6 4-3.6-.1,.5-1.3,5.2-.4,2.6Z" fill="#009600"/>
<path d="M631.1,434.8l.4-2.6 1.3-5.2 .1-.5" class="m"/>
<path d="M628.7,430.7l.2-.6 2.1-3.6 4.1-3.6-2.2,3.6-.1,.5Z" fill="#783a00"/>
<path d="M632.8,427l.1-.5 2.2-3.6" class="m"/>
<path d="M631,426.5l2.6-1.3 4-3.7-2.5,1.4Z" fill="#ff3e00"/>
<path d="M635.1,422.9l2.5-1.4" class="m"/>
<path d="M631,426.5l2.6-1.3 2.8-.2 3.1,.3 3.9-3.6-3-.4-2.8,.2-2.5,1.4Z" fill="#ff5f00"/>
<path d="M635.1,422.9l2.5-1.4 2.8-.2 3,.4" class="m"/>
<path d="M636.4,425l3.1,.3 3.2,.7 3.9-3.7-3.2-.6-3-.4Z" fill="#ff6d00"/>
<path d="M640.4,421.3l3,.4 3.2,.6" class="m"/>
<path d="M639.5,425.3l3.2,.7 3.2,.9 3,1.2 3.9-3.7-3.1-1.2-3.1-.9-3.2-.6Z" fill="#00e800"/>
<path d="M643.4,421.7l3.2,.6 3.1,.9 3.1,1.2" class="m"/>
<path d="M645.9,426.9l3,1.2 2.9,1.6 3.8-3.7-2.8-1.6-3.1-1.2Z" fill="#ff7e00"/>
<path d="M649.7,423.2l3.1,1.2 2.8,1.6" class="m"/>
<path d="M651.5,425.6l2.8,1.6 2.4,2.6 1.7,4.7 1.2-1.3-1.7-4.7-2.3-2.5-2.8-1.6Z" fill="#f97e00"/>
<path d="M652.8,424.4l2.8,1.6 2.3,2.5 1.7,4.7" class="m"/>
<path d="M656.7,429.8l1.7,4.7 .1,.6 1.2-1.3-.1-.6-1.7-4.7Z" fill="#cc6d00"/>
<path d="M657.9,428.5l1.7,4.7 .1,.6" class="m"/>
<path d="M658.4,434.5l.1,.6 .5,5.9 .1,2.8 0,5.7 1.2-1.3 0-5.7-.1-2.8-.5-5.9-.1-.6Z" fill="#00c700"/>
<path d="M659.6,433.2l.1,.6 .5,5.9 .1,2.8 0,5.7" class="m"/>
<path d="M659.1,443.8l0,5.7-.3,8.9-.1,1.3-.4,7.8 1.1-1.4 .5-7.7 0-1.4 .4-8.8 0-5.7Z" fill="#00ba00"/>
<path d="M660.3,442.5l0,5.7-.4,8.8 0,1.4-.5,7.7" class="m"/>
<path d="M650.2,426.8l2.8,1.7 2.4,2.5 1.7,4.8 1.7-1.7-1.7-4.8-2.4-2.5-2.7-1.6Z" fill="#f97e00"/>
<path d="M655.4,431l1.7,4.8 .1,.6 1.7-1.7-.1-.6-1.7-4.8Z" fill="#cc6d00"/>
<path d="M657.1,435.8l.1,.6 .6,5.9 .1,2.8 0,5.7 1.6-1.8 0-5.7 0-2.8-.6-5.8-.1-.6Z" fill="#00c700"/>
<path d="M657.9,445.1l0,5.7-.3,9-.1,1.3-.4,7.8 1.6-1.9 .4-7.7 .1-1.4 .3-8.9 0-5.7Z" fill="#00ba00"/>
<path d="M648.9,428.1l2.9,1.6 2.3,2.6 1.8,4.8 1.7-1.7-1.8-4.8-2.3-2.6-2.8-1.6Z" fill="#f97e00"/>
<path d="M654.1,432.3l1.8,4.8 .1,.6 1.7-1.8-.1-.5-1.8-4.8Z" fill="#cc6e00"/>
<path d="M655.9,437.1l.1,.6 .6,5.9 1.6-1.8-.5-5.9-.1-.5Z" fill="#b76800"/>
<path d="M656,437.7l.6,5.9 .1,2.8-.1,5.8-.3,8.9 0,1.4-.4,7.8 1.6-1.9 .4-7.8 .1-1.3 .3-8.9 0-5.8-.1-2.8-.5-5.9Z" fill="#00be00"/>
<path d="M668.8,436l2.8-1.3 3.5-3.9-2.8,1.3Z" fill="#ff3e00"/>
<path d="M672.3,432.1l2.8-1.3" class="m"/>
<path d="M668.8,436l2.8-1.3 3.1-.2 3.5-3.9-3.1,.2-2.8,1.3Z" fill="#00b000"/>
<path d="M672.3,432.1l2.8-1.3 3.1-.2" class="m"/>
<path d="M671.6,434.7l3.1-.2 3.4,.4 3,.7 3.3-4-2.9-.6-3.3-.4-3.1,.2Z" fill="#00d300"/>
<path d="M675.1,430.8l3.1-.2 3.3,.4 2.9,.6" class="m"/>
<path d="M678.1,434.9l3,.7 3.3-4-2.9-.6Z" fill="#00e300"/>
<path d="M681.5,431l2.9,.6" class="m"/>
<path d="M662.6,468.7l1-7.6 .2-1.3 1.3-8.7 1.1-5.5 .5-2.6 1.7-5.4 1.2-1.3-1.7,5.4-.6,2.6-1,5.5-1.3,8.6-.2,1.3-1,7.6Z" fill="#850"/>
<path d="M663.8,467.3l1-7.6 .2-1.3 1.3-8.6 1-5.5 .6-2.6 1.7-5.4" class="m"/>
<path d="M666.7,443l1.7-5.4 .2-.5 2.6-3.7 1.1-1.3-2.5,3.7-.2,.5-1.7,5.4Z" fill="#7c4100"/>
<path d="M667.9,441.7l1.7-5.4 .2-.5 2.5-3.7" class="m"/>
<path d="M661.4,470.1l1-7.6 .2-1.3 1.3-8.7 1.1-5.5 .6-2.7 1.6-1.8-.6,2.7-1.1,5.5-1.3,8.6-.2,1.3-1,7.6Z" fill="#00ac00"/>
<path d="M665,447l.6-2.7 1.6-5.3 .2-.6 1.6-1.7-.2,.5-1.6,5.3-.6,2.7Z" fill="#009600"/>
<path d="M667.2,439l.2-.6 2.6-3.7 1.6-1.8-2.6,3.8-.2,.5Z" fill="#007500"/>
<path d="M660.3,471.6l.9-7.7 .2-1.3 1.3-8.7 1.1-5.6 .5-2.6 1.7-1.9-.6,2.7-1,5.5-1.4,8.7-.1,1.3-1,7.6Z" fill="#00ac00"/>
<path d="M663.8,448.3l.5-2.6 1.7-5.4 .2-.5 1.6-1.8-.2,.5-1.6,5.3-.6,2.7Z" fill="#009600"/>
<path d="M666,440.3l.2-.5 2.6-3.8 1.6-1.8-2.6,3.8-.2,.5Z" fill="#007500"/>
<path d="M575.2,414.4l1.6,1 4.7-3.3-1.7-1Z" fill="#ff00c1"/>
<path d="M579.8,411.1l1.7,1" class="m"/>
<path d="M575.2,414.4l1.6,1 2.2,2.4 2,4.6 4.6-3.4-1.9-4.5-2.2-2.4-1.7-1Z" fill="#f900ec"/>
<path d="M579.8,411.1l1.7,1 2.2,2.4 1.9,4.5" class="m"/>
<path d="M579,417.8l2,4.6 .1,.6 4.6-3.5-.1-.5-1.9-4.5Z" fill="#c0e"/>
<path d="M583.7,414.5l1.9,4.5 .1,.5" class="m"/>
<path d="M581,422.4l.1,.6 1.1,5.6 4.6-3.5-1.1-5.6-.1-.5Z" fill="#b700e9"/>
<path d="M585.6,419l.1,.5 1.1,5.6" class="m"/>
<path d="M581.1,423l1.1,5.6 .3,2.7 .6,5.5 .6,8.6 4.4-3.6-.5-8.5-.5-5.5-.3-2.7-1.1-5.6Z" fill="#9f00e3"/>
<path d="M585.7,419.5l1.1,5.6 .3,2.7 .5,5.5 .5,8.5" class="m"/>
<path d="M583.1,436.8l.6,8.6 .1,1.3 .4,7.6 4.4-3.8-.4-7.4-.1-1.3-.5-8.5Z" fill="#9400df"/>
<path d="M587.6,433.3l.5,8.5 .1,1.3 .4,7.4" class="m"/>
<path d="M588,455.4l.1-7.4 0-1.3 .2-8.4 .4-5.3 .2-2.6 .8-5.2 .2-.5 4.5-3.4-.1,.5-.9,5.1-.2,2.5-.4,5.3-.3,8.4 0,1.2-.2,7.3Z" fill="#870000"/>
<path d="M592.3,451.6l.2-7.3 0-1.2 .3-8.4 .4-5.3 .2-2.5 .9-5.1 .1-.5" class="m"/>
<path d="M589.7,425.2l.2-.5 1.8-3.6 4.5-3.4-1.8,3.6-.1,.5Z" fill="#780000"/>
<path d="M594.3,421.8l.1-.5 1.8-3.6" class="m"/>
<path d="M591.7,421.1l2.2-1.3 4.5-3.5-2.2,1.4Z" fill="#f00"/>
<path d="M596.2,417.7l2.2-1.4" class="m"/>
<path d="M591.7,421.1l2.2-1.3 2.6-.2 4.5-3.5-2.6,.2-2.2,1.4Z" fill="#ff005e"/>
<path d="M596.2,417.7l2.2-1.4 2.6-.2" class="m"/>
<path d="M593.9,419.8l2.6-.2 2.8,.3 4.5-3.5-2.8-.3-2.6,.2Z" fill="#ff007b"/>
<path d="M598.4,416.3l2.6-.2 2.8,.3" class="m"/>
<path d="M596.5,419.6l2.8,.3 3,.6 3,.9 2.9,1.1 4.4-3.5-2.8-1.1-3-.9-3-.6-2.8-.3Z" fill="#f00"/>
<path d="M601,416.1l2.8,.3 3,.6 3,.9 2.8,1.1" class="m"/>
<path d="M605.3,421.4l2.9,1.1 2.7,1.6 4.4-3.5-2.7-1.6-2.8-1.1Z" fill="#ff00c1"/>
<path d="M609.8,417.9l2.8,1.1 2.7,1.6" class="m"/>
<path d="M608.2,422.5l2.7,1.6 2.3,2.6 1.9,4.7 4.3-3.7-1.8-4.6-2.3-2.5-2.7-1.6Z" fill="#f900ec"/>
<path d="M612.6,419l2.7,1.6 2.3,2.5 1.8,4.6" class="m"/>
<path d="M613.2,426.7l1.9,4.7 .1,.5 4.3-3.6-.1-.6-1.8-4.6Z" fill="#c00"/>
<path d="M617.6,423.1l1.8,4.6 .1,.6" class="m"/>
<path d="M615.1,431.4l.1,.5 .9,5.9 4.2-3.8-.8-5.7-.1-.6Z" fill="#b70000"/>
<path d="M619.4,427.7l.1,.6 .8,5.7" class="m"/>
<path d="M615.2,431.9l.9,5.9 .2,2.7 .3,5.7 .2,8.8 4.2-3.9-.2-8.7-.3-5.6-.2-2.8-.8-5.7Z" fill="#9f0000"/>
<path d="M619.5,428.3l.8,5.7 .2,2.8 .3,5.6 .2,8.7" class="m"/>
<path d="M616.6,446.2l.2,8.8 .1,1.4 0,7.6 4.1-4 0-7.6 0-1.3-.2-8.7Z" fill="#940000"/>
<path d="M620.8,442.4l.2,8.7 0,1.3 0,7.6" class="m"/>
<path d="M621,465.3l.5-7.6 .1-1.3 .7-8.6 .6-5.5 .4-2.6 4.2-3.8-.4,2.6-.7,5.4-.7,8.5-.1,1.3-.6,7.5Z" fill="#8900d6"/>
<path d="M625,461.2l.6-7.5 .1-1.3 .7-8.5 .7-5.4 .4-2.6" class="m"/>
<path d="M622.9,442.3l.4-2.6 1.2-5.3 .2-.5 4.2-3.8-.2,.6-1.2,5.2-.4,2.6Z" fill="#8200c4"/>
<path d="M627.1,438.5l.4-2.6 1.2-5.2 .2-.6" class="m"/>
<path d="M624.5,434.4l.2-.5 2.2-3.7 4.1-3.7-2.1,3.6-.2,.6Z" fill="#780000"/>
<path d="M628.7,430.7l.2-.6 2.1-3.6" class="m"/>
<path d="M626.9,430.2l2.5-1.3 2.9-.2 3.1,.4 3.2,.7 4.1-3.8-3.2-.7-3.1-.3-2.8,.2-2.6,1.3Z" fill="#f00"/>
<path d="M631,426.5l2.6-1.3 2.8-.2 3.1,.3 3.2,.7" class="m"/>
<path d="M635.4,429.1l3.2,.7 3.2,.9 4.1-3.8-3.2-.9-3.2-.7Z" fill="#ff0098"/>
<path d="M639.5,425.3l3.2,.7 3.2,.9" class="m"/>
<path d="M638.6,429.8l3.2,.9 3.2,1.2 3.9-3.8-3-1.2-3.2-.9Z" fill="#ff00a8"/>
<path d="M642.7,426l3.2,.9 3,1.2" class="m"/>
<path d="M641.8,430.7l3.2,1.2 2.8,1.7 4-3.9-2.9-1.6-3-1.2Z" fill="#f00"/>
<path d="M645.9,426.9l3,1.2 2.9,1.6" class="m"/>
<path d="M647.6,429.4l2.9,1.6 2.3,2.6 1.8,4.8 1.3-1.3-1.8-4.8-2.3-2.6-2.9-1.6Z" fill="#f90000"/>
<path d="M648.9,428.1l2.9,1.6 2.3,2.6 1.8,4.8" class="m"/>
<path d="M652.8,433.6l1.8,4.8 .1,.6 1.3-1.3-.1-.6-1.8-4.8Z" fill="#c00"/>
<path d="M654.1,432.3l1.8,4.8 .1,.6" class="m"/>
<path d="M654.6,438.4l.1,.6 .6,5.9 1.3-1.3-.6-5.9-.1-.6Z" fill="#b70000"/>
<path d="M655.9,437.1l.1,.6 .6,5.9" class="m"/>
<path d="M654.7,439l.6,5.9 .1,2.9 0,5.8 1.2-1.4 .1-5.8-.1-2.8-.6-5.9Z" fill="#a30000"/>
<path d="M656,437.7l.6,5.9 .1,2.8-.1,5.8" class="m"/>
<path d="M655.4,447.8l0,5.8-.3,8.9 0,1.4-.4,7.8 1.2-1.4 .4-7.8 0-1.4 .3-8.9 .1-5.8Z" fill="#9500df"/>
<path d="M656.7,446.4l-.1,5.8-.3,8.9 0,1.4-.4,7.8" class="m"/>
<path d="M646.3,430.6l2.8,1.7 2.4,2.6 1.8,4.8 1.7-1.7-1.7-4.8-2.4-2.6-2.8-1.7Z" fill="#f90000"/>
<path d="M651.5,434.9l1.8,4.8 .1,.6 1.8-1.7-.2-.6-1.7-4.8Z" fill="#c00"/>
<path d="M653.3,439.7l.1,.6 .6,6 1.8-1.8-.6-5.9-.2-.6Z" fill="#b70000"/>
<path d="M653.4,440.3l.6,6 .1,2.8 0,5.8 1.7-1.8 0-5.8 0-2.8-.6-5.9Z" fill="#a30000"/>
<path d="M654.1,449.1l0,5.8-.2,9-.1,1.4-.4,7.8 1.7-1.9 .4-7.8 0-1.4 .3-8.9 0-5.8Z" fill="#9500df"/>
<path d="M645,431.9l2.8,1.7 2.4,2.6 1.8,4.9 1.8-1.8-1.8-4.8-2.4-2.7-2.8-1.6Z" fill="#f90000"/>
<path d="M650.2,436.2l1.8,4.9 .1,.6 1.8-1.8-.1-.6-1.8-4.8Z" fill="#c00"/>
<path d="M652,441.1l.1,.6 .6,5.9 1.8-1.8-.6-5.9-.1-.6Z" fill="#b70000"/>
<path d="M652.1,441.7l.6,5.9 .2,2.9 0,5.8-.3,9.1 1.7-2 .3-9 0-5.7-.1-2.9-.6-5.9Z" fill="#9f00e3"/>
<path d="M652.9,456.3l-.3,9.1 0,1.3-.4,7.9 1.7-2 .4-7.8 0-1.4 .3-9Z" fill="#9400df"/>
<path d="M665,440.1l2.9-1.4 3.7-4-2.8,1.3Z" fill="#f00"/>
<path d="M668.8,436l2.8-1.3" class="m"/>
<path d="M665,440.1l2.9-1.4 3.1-.1 3.7-4.1-3.1,.2-2.8,1.3Z" fill="#ff005e"/>
<path d="M668.8,436l2.8-1.3 3.1-.2" class="m"/>
<path d="M667.9,438.7l3.1-.1 3.4,.4 3.7-4.1-3.4-.4-3.1,.2Z" fill="#ff007b"/>
<path d="M671.6,434.7l3.1-.2 3.4,.4" class="m"/>
<path d="M671,438.6l3.4,.4 3.3,.7 3.4-4.1-3-.7-3.4-.4Z" fill="#ff0092"/>
<path d="M674.7,434.5l3.4,.4 3,.7" class="m"/>
<path d="M659.1,473l.9-7.7 .2-1.3 1.3-8.8 1-5.5 .6-2.7 1.6-5.4 .3-.5 1.2-1.3-.2,.5-1.7,5.4-.5,2.6-1.1,5.6-1.3,8.7-.2,1.3-.9,7.7Z" fill="#870000"/>
<path d="M660.3,471.6l.9-7.7 .2-1.3 1.3-8.7 1.1-5.6 .5-2.6 1.7-5.4 .2-.5" class="m"/>
<path d="M664.7,441.6l.3-.5 2.5-3.7 1.3-1.4-2.6,3.8-.2,.5Z" fill="#780000"/>
<path d="M666,440.3l.2-.5 2.6-3.8" class="m"/>
<path d="M657.9,474.4l.9-7.7 .2-1.3 1.3-8.8 1-5.5 .6-2.7 1.6-1.9-.5,2.7-1.1,5.6-1.3,8.7-.1,1.3-1,7.7Z" fill="#8900d6"/>
<path d="M661.3,451.1l.6-2.7 1.6-5.4 .2-.5 1.7-1.9-.2,.6-1.7,5.3-.5,2.7Z" fill="#8200c4"/>
<path d="M663.5,443l.2-.5 2.6-3.8 1.7-1.8-2.6,3.7-.2,.6Z" fill="#7800a6"/>
<path d="M656.6,475.9l1-7.7 .2-1.4 1.6-1.9-.1,1.3-1,7.7Z" fill="#8a00d9"/>
<path d="M657.6,468.2l.2-1.4 1.2-8.8 1-5.5 .6-2.7 1.6-5.4 .3-.6 1.7-1.8-.3,.5-1.6,5.4-.6,2.7-1,5.5-1.3,8.8-.1,1.3Z" fill="#860000"/>
<path d="M662.2,444.4l.3-.6 2.5-3.7 1.7-1.9-2.5,3.8-.3,.5Z" fill="#780000"/>
<path d="M570.4,417.9l1.5,.9 2.3,2.5 2,4.6 4.8-3.5-2-4.6-2.2-2.4-1.6-1Z" fill="#00f900"/>
<path d="M575.2,414.4l1.6,1 2.2,2.4 2,4.6" class="m"/>
<path d="M574.2,421.3l2,4.6 .1,.6 1.1,5.7 4.8-3.6-1.1-5.6-.1-.6-2-4.6Z" fill="#00d500"/>
<path d="M579,417.8l2,4.6 .1,.6 1.1,5.6" class="m"/>
<path d="M576.3,426.5l1.1,5.7 .4,2.7 .6,5.6 .7,8.7 .1,1.3 .4,7.6 4.6-3.8-.4-7.6-.1-1.3-.6-8.6-.6-5.5-.3-2.7-1.1-5.6Z" fill="#00be00"/>
<path d="M581.1,423l1.1,5.6 .3,2.7 .6,5.5 .6,8.6 .1,1.3 .4,7.6" class="m"/>
<path d="M583.5,459.2l0-7.4 0-1.3 .2-8.5 .3-5.4 .2-2.6 .8-5.2 4.7-3.6-.8,5.2-.2,2.6-.4,5.3-.2,8.4 0,1.3-.1,7.4Z" fill="#850"/>
<path d="M588,455.4l.1-7.4 0-1.3 .2-8.4 .4-5.3 .2-2.6 .8-5.2" class="m"/>
<path d="M584.2,434l.8-5.2 .2-.5 1.7-3.7 4.8-3.5-1.8,3.6-.2,.5-.8,5.2Z" fill="#7c4100"/>
<path d="M588.9,430.4l.8-5.2 .2-.5 1.8-3.6" class="m"/>
<path d="M586.9,424.6l2.3-1.3 4.7-3.5-2.2,1.3Z" fill="#ff3e00"/>
<path d="M591.7,421.1l2.2-1.3" class="m"/>
<path d="M586.9,424.6l2.3-1.3 2.6-.2 4.7-3.5-2.6,.2-2.2,1.3Z" fill="#00b000"/>
<path d="M591.7,421.1l2.2-1.3 2.6-.2" class="m"/>
<path d="M589.2,423.3l2.6-.2 2.9,.4 4.6-3.6-2.8-.3-2.6,.2Z" fill="#0c0"/>
<path d="M593.9,419.8l2.6-.2 2.8,.3" class="m"/>
<path d="M591.8,423.1l2.9,.4 3,.6 3,.9 3,1.2 4.5-3.7-2.9-1.1-3-.9-3-.6-2.8-.3Z" fill="#ff7200"/>
<path d="M596.5,419.6l2.8,.3 3,.6 3,.9 2.9,1.1" class="m"/>
<path d="M600.7,425l3,1.2 2.7,1.6 2.3,2.6 1.9,4.7 4.5-3.7-1.9-4.7-2.3-2.6-2.7-1.6-2.9-1.1Z" fill="#00f900"/>
<path d="M605.3,421.4l2.9,1.1 2.7,1.6 2.3,2.6 1.9,4.7" class="m"/>
<path d="M608.7,430.4l1.9,4.7 .2,.6 4.4-3.8-.1-.5-1.9-4.7Z" fill="#cc6e00"/>
<path d="M613.2,426.7l1.9,4.7 .1,.5" class="m"/>
<path d="M610.6,435.1l.2,.6 .9,5.9 4.4-3.8-.9-5.9-.1-.5Z" fill="#b76800"/>
<path d="M615.1,431.4l.1,.5 .9,5.9" class="m"/>
<path d="M610.8,435.7l.9,5.9 .2,2.8 .4,5.7 .3,9 4.2-4.1-.2-8.8-.3-5.7-.2-2.7-.9-5.9Z" fill="#9f6000"/>
<path d="M615.2,431.9l.9,5.9 .2,2.7 .3,5.7 .2,8.8" class="m"/>
<path d="M612.3,450.1l.3,9 0,1.3 .1,7.7 4.2-4.1 0-7.6-.1-1.4-.2-8.8Z" fill="#945d00"/>
<path d="M616.6,446.2l.2,8.8 .1,1.4 0,7.6" class="m"/>
<path d="M616.8,469.4l.5-7.6 .1-1.3 .7-8.7 .6-5.5 .3-2.7 4.3-3.9-.4,2.6-.6,5.5-.7,8.6-.1,1.3-.5,7.6Z" fill="#00ad00"/>
<path d="M621,465.3l.5-7.6 .1-1.3 .7-8.6 .6-5.5 .4-2.6" class="m"/>
<path d="M618.7,446.3l.3-2.7 1.2-5.3 .2-.5 4.3-3.9-.2,.5-1.2,5.3-.4,2.6Z" fill="#009700"/>
<path d="M622.9,442.3l.4-2.6 1.2-5.3 .2-.5" class="m"/>
<path d="M620.2,438.3l.2-.5 2.1-3.8 4.4-3.8-2.2,3.7-.2,.5Z" fill="#783b00"/>
<path d="M624.5,434.4l.2-.5 2.2-3.7" class="m"/>
<path d="M622.5,434l2.6-1.3 4.3-3.8-2.5,1.3Z" fill="#ff3e00"/>
<path d="M626.9,430.2l2.5-1.3" class="m"/>
<path d="M622.5,434l2.6-1.3 2.9-.2 3.1,.4 4.3-3.8-3.1-.4-2.9,.2-2.5,1.3Z" fill="#ff5f00"/>
<path d="M626.9,430.2l2.5-1.3 2.9-.2 3.1,.4" class="m"/>
<path d="M628,432.5l3.1,.4 3.3,.8 4.2-3.9-3.2-.7-3.1-.4Z" fill="#ff6d00"/>
<path d="M632.3,428.7l3.1,.4 3.2,.7" class="m"/>
<path d="M631.1,432.9l3.3,.8 3.3,.9 3.1,1.3 4.2-4-3.2-1.2-3.2-.9-3.2-.7Z" fill="#00e800"/>
<path d="M635.4,429.1l3.2,.7 3.2,.9 3.2,1.2" class="m"/>
<path d="M637.7,434.6l3.1,1.3 2.9,1.7 4.1-4-2.8-1.7-3.2-1.2Z" fill="#ff7f00"/>
<path d="M641.8,430.7l3.2,1.2 2.8,1.7" class="m"/>
<path d="M643.6,433.2l2.9,1.7 2.4,2.7 1.8,4.8 1.3-1.3-1.8-4.9-2.4-2.6-2.8-1.7Z" fill="#f97e00"/>
<path d="M645,431.9l2.8,1.7 2.4,2.6 1.8,4.9" class="m"/>
<path d="M648.9,437.6l1.8,4.8 .1,.6 1.3-1.3-.1-.6-1.8-4.9Z" fill="#cc6e00"/>
<path d="M650.2,436.2l1.8,4.9 .1,.6" class="m"/>
<path d="M650.7,442.4l.1,.6 .6,6 1.3-1.4-.6-5.9-.1-.6Z" fill="#b76800"/>
<path d="M652,441.1l.1,.6 .6,5.9" class="m"/>
<path d="M650.8,443l.6,6 .2,2.9 0,5.8-.3,9.1 0,1.4-.4,7.8 1.3-1.4 .4-7.9 0-1.3 .3-9.1 0-5.8-.2-2.9-.6-5.9Z" fill="#00be00"/>
<path d="M652.1,441.7l.6,5.9 .2,2.9 0,5.8-.3,9.1 0,1.3-.4,7.9" class="m"/>
<path d="M642.2,434.6l2.9,1.6 2.4,2.7 1.8,4.9 1.8-1.8-1.7-4.9-2.5-2.6-2.8-1.7Z" fill="#f97e00"/>
<path d="M647.5,438.9l1.8,4.9 .2,.6 1.8-1.8-.2-.6-1.7-4.9Z" fill="#cc6e00"/>
<path d="M649.3,443.8l.2,.6 .6,6 1.8-1.9-.6-5.9-.2-.6Z" fill="#b76800"/>
<path d="M649.5,444.4l.6,6 .1,2.9 .1,5.9-.2,9-.1,1.4-.3,7.9 1.7-2 .3-7.8 .1-1.4 .2-9.1 0-5.8-.1-2.9-.6-5.9Z" fill="#00be00"/>
<path d="M640.8,435.9l2.9,1.7 2.5,2.7 1.8,4.9 1.8-1.9-1.8-4.9-2.4-2.6-2.9-1.7Z" fill="#f97e00"/>
<path d="M646.2,440.3l1.8,4.9 .1,.6 1.8-1.9-.1-.6-1.8-4.9Z" fill="#cc6e00"/>
<path d="M648,445.2l.1,.6 .7,6 1.8-1.9-.7-6-.1-.6Z" fill="#b76800"/>
<path d="M648.1,445.8l.7,6 .1,2.9 0,5.9-.2,9.1 0,1.4-.3,7.9 1.7-2 .4-7.9 0-1.4 .2-9 0-5.9-.1-2.9-.7-6Z" fill="#00be00"/>
<path d="M661.2,444.2l2.8-1.3 3.9-4.2-2.9,1.4Z" fill="#ff3e00"/>
<path d="M665,440.1l2.9-1.4" class="m"/>
<path d="M661.2,444.2l2.8-1.3 3.2-.1 3.8-4.2-3.1,.1-2.9,1.4Z" fill="#00b000"/>
<path d="M665,440.1l2.9-1.4 3.1-.1" class="m"/>
<path d="M664,442.9l3.2-.1 3.5,.4 3.4,.8 3.6-4.3-3.3-.7-3.4-.4-3.1,.1Z" fill="#00d300"/>
<path d="M667.9,438.7l3.1-.1 3.4,.4 3.3,.7" class="m"/>
<path d="M670.7,443.2l3.4,.8 3.6-4.3-3.3-.7Z" fill="#00e300"/>
<path d="M674.4,439l3.3,.7" class="m"/>
<path d="M655.4,477.4l.9-7.8 .2-1.3 1.3-8.8 1-5.6 .5-2.7 1.7-5.5 1.2-1.3-1.6,5.4-.6,2.7-1,5.5-1.2,8.8-.2,1.4-1,7.7Z" fill="#850"/>
<path d="M656.6,475.9l1-7.7 .2-1.4 1.2-8.8 1-5.5 .6-2.7 1.6-5.4" class="m"/>
<path d="M659.3,451.2l1.7-5.5 .2-.5 2.6-3.8 1.2-1.3-2.5,3.7-.3,.6-1.6,5.4Z" fill="#7c4100"/>
<path d="M660.6,449.8l1.6-5.4 .3-.6 2.5-3.7" class="m"/>
<path d="M654.1,478.9l1-7.8 .1-1.3 1.3-8.9 1-5.6 .6-2.7 1.7-1.9-.6,2.7-1,5.6-1.3,8.8-.1,1.3-1,7.8Z" fill="#00ad00"/>
<path d="M657.5,455.3l.6-2.7 1.6-5.5 .2-.5 1.7-1.9-.2,.5-1.6,5.5-.6,2.7Z" fill="#009700"/>
<path d="M659.7,447.1l.2-.5 2.6-3.8 1.7-1.8-2.6,3.7-.2,.5Z" fill="#007500"/>
<path d="M652.9,480.4l.9-7.8 .2-1.3 1.2-8.9 1-5.7 .5-2.7 1.7-5.5 1.7-1.9-1.6,5.5-.6,2.7-1,5.6-1.2,8.9-.2,1.3-.9,7.8Z" fill="#850"/>
<path d="M656.7,454l1.7-5.5 .2-.5 2.6-3.8 1.7-1.9-2.6,3.8-.2,.5-1.6,5.5Z" fill="#7c4100"/>
<path d="M565.5,421.5l1.4,.8 5-3.5-1.5-.9Z" fill="#ff00c1"/>
<path d="M570.4,417.9l1.5,.9" class="m"/>
<path d="M565.5,421.5l1.4,.8 2.3,2.5 2,4.7 5-3.6-2-4.6-2.3-2.5-1.5-.9Z" fill="#f900ed"/>
<path d="M570.4,417.9l1.5,.9 2.3,2.5 2,4.6" class="m"/>
<path d="M569.2,424.8l2,4.7 .2,.6 4.9-3.6-.1-.6-2-4.6Z" fill="#c0e"/>
<path d="M574.2,421.3l2,4.6 .1,.6" class="m"/>
<path d="M571.2,429.5l.2,.6 1.1,5.7 4.9-3.6-1.1-5.7-.1-.6Z" fill="#b700ea"/>
<path d="M576.2,425.9l.1,.6 1.1,5.7" class="m"/>
<path d="M571.4,430.1l1.1,5.7 .4,2.8 .7,5.7 .7,8.7 4.8-3.8-.7-8.7-.6-5.6-.4-2.7-1.1-5.7Z" fill="#9f00e3"/>
<path d="M576.3,426.5l1.1,5.7 .4,2.7 .6,5.6 .7,8.7" class="m"/>
<path d="M573.6,444.3l.7,8.7 .1,1.4 .5,7.6 4.7-3.9-.4-7.6-.1-1.3-.7-8.7Z" fill="#9400df"/>
<path d="M578.4,440.5l.7,8.7 .1,1.3 .4,7.6" class="m"/>
<path d="M578.8,463.2l0-7.5 0-1.3 .1-8.6 .3-5.4 .2-2.6 .8-5.3 .1-.5 4.9-3.7-.2,.5-.8,5.2-.2,2.6-.3,5.4-.2,8.5 0,1.3 0,7.4Z" fill="#870000"/>
<path d="M583.5,459.2l0-7.4 0-1.3 .2-8.5 .3-5.4 .2-2.6 .8-5.2 .2-.5" class="m"/>
<path d="M580.2,432.5l.1-.5 1.8-3.7 4.8-3.7-1.7,3.7-.2,.5Z" fill="#780000"/>
<path d="M585,428.8l.2-.5 1.7-3.7" class="m"/>
<path d="M582.1,428.3l2.2-1.3 4.9-3.7-2.3,1.3Z" fill="#f00"/>
<path d="M586.9,424.6l2.3-1.3" class="m"/>
<path d="M582.1,428.3l2.2-1.3 2.7-.2 4.8-3.7-2.6,.2-2.3,1.3Z" fill="#ff005e"/>
<path d="M586.9,424.6l2.3-1.3 2.6-.2" class="m"/>
<path d="M584.3,427l2.7-.2 2.9,.3 4.8-3.6-2.9-.4-2.6,.2Z" fill="#ff007b"/>
<path d="M589.2,423.3l2.6-.2 2.9,.4" class="m"/>
<path d="M587,426.8l2.9,.3 3,.7 3.1,1 2.9,1.2 4.8-3.8-3-1.2-3-.9-3-.6-2.9-.4Z" fill="#f00"/>
<path d="M591.8,423.1l2.9,.4 3,.6 3,.9 3,1.2" class="m"/>
<path d="M596,428.8l2.9,1.2 2.8,1.6 4.7-3.8-2.7-1.6-3-1.2Z" fill="#ff00c1"/>
<path d="M600.7,425l3,1.2 2.7,1.6" class="m"/>
<path d="M598.9,430l2.8,1.6 2.4,2.6 1.9,4.8 4.6-3.9-1.9-4.7-2.3-2.6-2.7-1.6Z" fill="#f900ed"/>
<path d="M603.7,426.2l2.7,1.6 2.3,2.6 1.9,4.7" class="m"/>
<path d="M604.1,434.2l1.9,4.8 .2,.6 4.6-3.9-.2-.6-1.9-4.7Z" fill="#c00"/>
<path d="M608.7,430.4l1.9,4.7 .2,.6" class="m"/>
<path d="M606,439l.2,.6 .9,6 4.6-4-.9-5.9-.2-.6Z" fill="#b70000"/>
<path d="M610.6,435.1l.2,.6 .9,5.9" class="m"/>
<path d="M606.2,439.6l.9,6 .3,2.8 .4,5.8 .3,9 4.5-4.1-.3-9-.4-5.7-.2-2.8-.9-5.9Z" fill="#9f0000"/>
<path d="M610.8,435.7l.9,5.9 .2,2.8 .4,5.7 .3,9" class="m"/>
<path d="M607.8,454.2l.3,9 .1,1.4 .1,7.8 4.4-4.3-.1-7.7 0-1.3-.3-9Z" fill="#940000"/>
<path d="M612.3,450.1l.3,9 0,1.3 .1,7.7" class="m"/>
<path d="M612.5,473.7l.4-7.7 .1-1.3 .6-8.8 .6-5.6 .4-2.6 4.4-4.1-.3,2.7-.6,5.5-.7,8.7-.1,1.3-.5,7.6Z" fill="#8900d7"/>
<path d="M616.8,469.4l.5-7.6 .1-1.3 .7-8.7 .6-5.5 .3-2.7" class="m"/>
<path d="M614.2,450.3l.4-2.6 1.1-5.4 .2-.6 4.5-3.9-.2,.5-1.2,5.3-.3,2.7Z" fill="#8200c5"/>
<path d="M618.7,446.3l.3-2.7 1.2-5.3 .2-.5" class="m"/>
<path d="M615.7,442.3l.2-.6 2.1-3.7 4.5-4-2.1,3.8-.2,.5Z" fill="#780000"/>
<path d="M620.2,438.3l.2-.5 2.1-3.8" class="m"/>
<path d="M618,438l2.6-1.3 2.9-.2 3.2,.4 3.3,.8 4.4-4-3.3-.8-3.1-.4-2.9,.2-2.6,1.3Z" fill="#f00"/>
<path d="M622.5,434l2.6-1.3 2.9-.2 3.1,.4 3.3,.8" class="m"/>
<path d="M626.7,436.9l3.3,.8 3.3,1 4.4-4.1-3.3-.9-3.3-.8Z" fill="#ff0098"/>
<path d="M631.1,432.9l3.3,.8 3.3,.9" class="m"/>
<path d="M630,437.7l3.3,1 3.2,1.3 4.3-4.1-3.1-1.3-3.3-.9Z" fill="#ff00a8"/>
<path d="M634.4,433.7l3.3,.9 3.1,1.3" class="m"/>
<path d="M633.3,438.7l3.2,1.3 2.9,1.7 4.3-4.1-2.9-1.7-3.1-1.3Z" fill="#f00"/>
<path d="M637.7,434.6l3.1,1.3 2.9,1.7" class="m"/>
<path d="M639.4,437.2l2.9,1.8 2.5,2.6 1.8,5 1.4-1.4-1.8-4.9-2.5-2.7-2.9-1.7Z" fill="#f90000"/>
<path d="M640.8,435.9l2.9,1.7 2.5,2.7 1.8,4.9" class="m"/>
<path d="M644.8,441.6l1.8,5 .1,.6 1.4-1.4-.1-.6-1.8-4.9Z" fill="#c00"/>
<path d="M646.2,440.3l1.8,4.9 .1,.6" class="m"/>
<path d="M646.6,446.6l.1,.6 .7,6 1.4-1.4-.7-6-.1-.6Z" fill="#b70000"/>
<path d="M648,445.2l.1,.6 .7,6" class="m"/>
<path d="M646.7,447.2l.7,6 .1,2.9 .1,5.9-.2,9.2 1.3-1.5 .2-9.1 0-5.9-.1-2.9-.7-6Z" fill="#9f00e3"/>
<path d="M648.1,445.8l.7,6 .1,2.9 0,5.9-.2,9.1" class="m"/>
<path d="M647.6,462l-.2,9.2 0,1.4-.3,7.9 1.3-1.5 .3-7.9 0-1.4 .2-9.1Z" fill="#9400df"/>
<path d="M648.9,460.6l-.2,9.1 0,1.4-.3,7.9" class="m"/>
<path d="M638,438.6l2.9,1.7 2.5,2.7 1.8,5 1.9-1.9-1.8-4.9-2.5-2.7-2.9-1.7Z" fill="#f90000"/>
<path d="M643.4,443l1.8,5 .2,.6 1.8-1.9-.1-.6-1.8-4.9Z" fill="#c00"/>
<path d="M645.2,448l.2,.6 .6,6.1 1.9-2-.7-6-.1-.6Z" fill="#b70000"/>
<path d="M645.4,448.6l.6,6.1 .2,2.9 .1,5.9-.2,9.2 1.8-2 .2-9.2-.1-5.9-.1-2.9-.7-6Z" fill="#9f00e3"/>
<path d="M646.3,463.5l-.2,9.2-.1,1.4-.3,8 1.8-2.1 .3-7.9 .1-1.4 .2-9.2Z" fill="#9400df"/>
<path d="M636.5,440l2.9,1.7 2.5,2.7 1.9,5 1.9-1.9-1.8-5-2.5-2.7-2.9-1.7Z" fill="#f90000"/>
<path d="M641.9,444.4l1.9,5 .1,.6 1.9-1.9-.1-.6-1.8-5Z" fill="#cd0000"/>
<path d="M643.8,449.4l.1,.6 .8,6.1 1.8-1.9-.7-6.1-.1-.6Z" fill="#b70000"/>
<path d="M643.9,450l.8,6.1 .1,3 .1,5.9-.2,9.2 1.9-2 .1-9.2 0-5.9-.2-2.9-.7-6.1Z" fill="#9f00e3"/>
<path d="M644.9,465l-.2,9.2 0,1.4-.3,8 1.8-2.1 .3-7.9 .1-1.4 .1-9.2Z" fill="#9400e0"/>
<path d="M657.1,448.5l2.9-1.3 4-4.3-2.8,1.3Z" fill="#f00"/>
<path d="M661.2,444.2l2.8-1.3" class="m"/>
<path d="M657.1,448.5l2.9-1.3 3.3-.1 3.9-4.3-3.2,.1-2.8,1.3Z" fill="#ff005e"/>
<path d="M661.2,444.2l2.8-1.3 3.2-.1" class="m"/>
<path d="M660,447.2l3.3-.1 3.4,.5 4-4.4-3.5-.4-3.2,.1Z" fill="#ff007b"/>
<path d="M664,442.9l3.2-.1 3.5,.4" class="m"/>
<path d="M663.3,447.1l3.4,.5 3.7,.8 3.7-4.4-3.4-.8-3.5-.4Z" fill="#ff0092"/>
<path d="M667.2,442.8l3.5,.4 3.4,.8" class="m"/>
<path d="M651.6,481.9l.9-7.8 .2-1.4 1.2-8.9 1-5.6 .5-2.7 1.6-5.5 .2-.5 1.4-1.5-.2,.5-1.7,5.5-.5,2.7-1,5.7-1.2,8.9-.2,1.3-.9,7.8Z" fill="#870000"/>
<path d="M652.9,480.4l.9-7.8 .2-1.3 1.2-8.9 1-5.7 .5-2.7 1.7-5.5 .2-.5" class="m"/>
<path d="M657,450l.2-.5 2.6-3.9 1.4-1.4-2.6,3.8-.2,.5Z" fill="#780000"/>
<path d="M658.4,448.5l.2-.5 2.6-3.8" class="m"/>
<path d="M650.3,483.5l.9-7.9 .1-1.3 1.3-9 .9-5.6 1.8-2-1,5.6-1.2,8.9-.2,1.4-.9,7.8Z" fill="#8900d8"/>
<path d="M652.6,465.3l.9-5.6 .6-2.8 1.6-5.5 .2-.5 2.6-3.8 1.8-2-2.6,3.8-.2,.6-1.6,5.5-.6,2.7-1,5.6Z" fill="#810000"/>
<path d="M648.9,485l.9-7.8 .2-1.4 1.2-9 1-5.6 .5-2.8 1.6-5.5 .2-.5 1.9-2-.2,.5-1.6,5.5-.6,2.7-1,5.7-1.2,8.9-.2,1.4-.9,7.8Z" fill="#870000"/>
<path d="M654.3,452.9l.2-.5 2.6-3.9 1.9-1.9-2.6,3.8-.2,.5Z" fill="#780000"/>
<path d="M560.5,425.2l1.1,.7 2.4,2.6 2.1,4.7 5.1-3.7-2-4.7-2.3-2.5-1.4-.8Z" fill="#00f900"/>
<path d="M565.5,421.5l1.4,.8 2.3,2.5 2,4.7" class="m"/>
<path d="M564,428.5l2.1,4.7 .1,.6 1.2,5.8 5.1-3.8-1.1-5.7-.2-.6-2-4.7Z" fill="#00d600"/>
<path d="M569.2,424.8l2,4.7 .2,.6 1.1,5.7" class="m"/>
<path d="M566.2,433.8l1.2,5.8 .5,2.8 .7,5.7 .8,8.9 .1,1.3 .6,7.7 4.8-4-.5-7.6-.1-1.4-.7-8.7-.7-5.7-.4-2.8-1.1-5.7Z" fill="#00be00"/>
<path d="M571.4,430.1l1.1,5.7 .4,2.8 .7,5.7 .7,8.7 .1,1.4 .5,7.6" class="m"/>
<path d="M574,467.3l-.1-7.6 0-1.3 .1-8.7 .2-5.4 .2-2.7 .7-5.3 5.1-3.8-.8,5.3-.2,2.6-.3,5.4-.1,8.6 0,1.3 0,7.5Z" fill="#850"/>
<path d="M578.8,463.2l0-7.5 0-1.3 .1-8.6 .3-5.4 .2-2.6 .8-5.3" class="m"/>
<path d="M574.4,441.6l.7-5.3 .1-.5 1.8-3.7 5.1-3.8-1.8,3.7-.1,.5-.8,5.3Z" fill="#7c4100"/>
<path d="M579.4,437.8l.8-5.3 .1-.5 1.8-3.7" class="m"/>
<path d="M577,432.1l2.3-1.4 5-3.7-2.2,1.3Z" fill="#ff3e00"/>
<path d="M582.1,428.3l2.2-1.3" class="m"/>
<path d="M577,432.1l2.3-1.4 2.6-.1 5.1-3.8-2.7,.2-2.2,1.3Z" fill="#00b000"/>
<path d="M582.1,428.3l2.2-1.3 2.7-.2" class="m"/>
<path d="M579.3,430.7l2.6-.1 2.9,.3 5.1-3.8-2.9-.3-2.7,.2Z" fill="#0c0"/>
<path d="M584.3,427l2.7-.2 2.9,.3" class="m"/>
<path d="M581.9,430.6l2.9,.3 3.1,.8 3.1,.9 3,1.2 4.9-3.8-2.9-1.2-3.1-1-3-.7-2.9-.3Z" fill="#ff7200"/>
<path d="M587,426.8l2.9,.3 3,.7 3.1,1 2.9,1.2" class="m"/>
<path d="M591,432.6l3,1.2 2.8,1.7 2.4,2.7 2.1,4.9 4.7-4.1-1.9-4.8-2.4-2.6-2.8-1.6-2.9-1.2Z" fill="#00f900"/>
<path d="M596,428.8l2.9,1.2 2.8,1.6 2.4,2.6 1.9,4.8" class="m"/>
<path d="M599.2,438.2l2.1,4.9 .1,.6 4.8-4.1-.2-.6-1.9-4.8Z" fill="#cd6e00"/>
<path d="M604.1,434.2l1.9,4.8 .2,.6" class="m"/>
<path d="M601.3,443.1l.1,.6 1,6 4.7-4.1-.9-6-.2-.6Z" fill="#b86800"/>
<path d="M606,439l.2,.6 .9,6" class="m"/>
<path d="M601.4,443.7l1,6 .3,2.8 .4,5.9 .4,9.1 4.6-4.3-.3-9-.4-5.8-.3-2.8-.9-6Z" fill="#9f6100"/>
<path d="M606.2,439.6l.9,6 .3,2.8 .4,5.8 .3,9" class="m"/>
<path d="M603.1,458.4l.4,9.1 .1,1.3 .2,7.9 4.5-4.3-.1-7.8-.1-1.4-.3-9Z" fill="#945d00"/>
<path d="M607.8,454.2l.3,9 .1,1.4 .1,7.8" class="m"/>
<path d="M608,478.1l.4-7.8 .1-1.3 .5-8.9 .6-5.6 .3-2.7 4.7-4.1-.4,2.6-.6,5.6-.6,8.8-.1,1.3-.4,7.7Z" fill="#00ad00"/>
<path d="M612.5,473.7l.4-7.7 .1-1.3 .6-8.8 .6-5.6 .4-2.6" class="m"/>
<path d="M609.6,454.5l.3-2.7 1.2-5.4 .1-.5 4.7-4.2-.2,.6-1.1,5.4-.4,2.6Z" fill="#009700"/>
<path d="M614.2,450.3l.4-2.6 1.1-5.4 .2-.6" class="m"/>
<path d="M611.1,446.4l.1-.5 2.2-3.8 4.6-4.1-2.1,3.7-.2,.6Z" fill="#783b00"/>
<path d="M615.7,442.3l.2-.6 2.1-3.7" class="m"/>
<path d="M613.4,442.1l2.5-1.3 4.7-4.1-2.6,1.3Z" fill="#ff3e00"/>
<path d="M618,438l2.6-1.3" class="m"/>
<path d="M613.4,442.1l2.5-1.3 3-.2 3.2,.5 4.6-4.2-3.2-.4-2.9,.2-2.6,1.3Z" fill="#ff5f00"/>
<path d="M618,438l2.6-1.3 2.9-.2 3.2,.4" class="m"/>
<path d="M618.9,440.6l3.2,.5 3.3,.7 4.6-4.1-3.3-.8-3.2-.4Z" fill="#ff6d00"/>
<path d="M623.5,436.5l3.2,.4 3.3,.8" class="m"/>
<path d="M622.1,441.1l3.3,.7 3.4,1.1 3.2,1.3 4.5-4.2-3.2-1.3-3.3-1-3.3-.8Z" fill="#00e800"/>
<path d="M626.7,436.9l3.3,.8 3.3,1 3.2,1.3" class="m"/>
<path d="M628.8,442.9l3.2,1.3 3,1.8 4.4-4.3-2.9-1.7-3.2-1.3Z" fill="#ff7f00"/>
<path d="M633.3,438.7l3.2,1.3 2.9,1.7" class="m"/>
<path d="M635,441.4l3,1.7 2.5,2.8 1.9,5 1.4-1.5-1.9-5-2.5-2.7-2.9-1.7Z" fill="#f97e00"/>
<path d="M636.5,440l2.9,1.7 2.5,2.7 1.9,5" class="m"/>
<path d="M640.5,445.9l1.9,5 .1,.6 1.4-1.5-.1-.6-1.9-5Z" fill="#cd6e00"/>
<path d="M641.9,444.4l1.9,5 .1,.6" class="m"/>
<path d="M642.4,450.9l.1,.6 .7,6.1 1.5-1.5-.8-6.1-.1-.6Z" fill="#b76800"/>
<path d="M643.8,449.4l.1,.6 .8,6.1" class="m"/>
<path d="M642.5,451.5l.7,6.1 .2,2.9 .1,6 1.4-1.5-.1-5.9-.1-3-.8-6.1Z" fill="#a36200"/>
<path d="M643.9,450l.8,6.1 .1,3 .1,5.9" class="m"/>
<path d="M643.4,460.5l.1,6-.1,9.2-.1,1.4-.3,8 1.4-1.5 .3-8 0-1.4 .2-9.2-.1-5.9Z" fill="#0b0"/>
<path d="M644.8,459.1l.1,5.9-.2,9.2 0,1.4-.3,8" class="m"/>
<path d="M633.5,442.8l3,1.7 2.5,2.8 1.9,5 2-1.9-1.9-5-2.5-2.8-2.9-1.7Z" fill="#fa7e00"/>
<path d="M639,447.3l1.9,5 .2,.6 1.9-1.9-.1-.6-1.9-5Z" fill="#cd6e00"/>
<path d="M640.9,452.3l.2,.6 .7,6.2 1.9-2-.7-6.1-.1-.6Z" fill="#b86800"/>
<path d="M641.1,452.9l.7,6.2 .2,2.9 .1,6-.1,9.3-.1,1.4-.2,8 1.8-2.1 .3-8 0-1.4 .2-9.2-.1-6-.2-2.9-.7-6.1Z" fill="#00be00"/>
<path d="M632,444.2l3,1.8 2.6,2.7 1.9,5.1 2-2-1.9-5-2.6-2.8-2.9-1.7Z" fill="#fa7e00"/>
<path d="M637.6,448.7l1.9,5.1 .1,.6 2-2-.1-.6-1.9-5Z" fill="#cd6e00"/>
<path d="M639.5,453.8l.1,.6 .8,6.2 1.9-2-.7-6.2-.1-.6Z" fill="#b86800"/>
<path d="M639.6,454.4l.8,6.2 .1,2.9 .2,6-.1,9.3-.1,1.4-.2,8.1 1.9-2.1 .2-8.1 .1-1.4 .1-9.2-.1-6-.2-2.9-.7-6.2Z" fill="#00be00"/>
<path d="M652.9,453l3-1.3 4.1-4.5-2.9,1.3Z" fill="#ff3e00"/>
<path d="M657.1,448.5l2.9-1.3" class="m"/>
<path d="M652.9,453l3-1.3 3.2-.1 4.2-4.5-3.3,.1-2.9,1.3Z" fill="#00b000"/>
<path d="M657.1,448.5l2.9-1.3 3.3-.1" class="m"/>
<path d="M655.9,451.7l3.2-.1 3.6,.5 3.6,.8 4.1-4.5-3.7-.8-3.4-.5-3.3,.1Z" fill="#00d300"/>
<path d="M660,447.2l3.3-.1 3.4,.5 3.7,.8" class="m"/>
<path d="M662.7,452.1l3.6,.8 .3,.1 3.8-4.6-3.7-.8Z" fill="#00e300"/>
<path d="M666.7,447.6l3.7,.8" class="m"/>
<path d="M647.6,486.6l.9-7.9 .1-1.4 1.2-8.9 1-5.7 .5-2.8 1.6-5.5 1.4-1.5-1.6,5.5-.5,2.8-1,5.6-1.2,9-.2,1.4-.9,7.8Z" fill="#850"/>
<path d="M648.9,485l.9-7.8 .2-1.4 1.2-9 1-5.6 .5-2.8 1.6-5.5" class="m"/>
<path d="M651.3,459.9l1.6-5.5 .3-.6 2.5-3.8 1.4-1.5-2.6,3.9-.2,.5-1.6,5.5Z" fill="#7c4100"/>
<path d="M652.7,458.4l1.6-5.5 .2-.5 2.6-3.9" class="m"/>
<path d="M646.3,488.2l.8-7.9 .2-1.4 1.8-2.1-.1,1.4-.9,7.8Z" fill="#00b000"/>
<path d="M647.1,480.3l.2-1.4 1.2-9 .9-5.7 .6-2.8 1.5-5.5 .3-.6 1.8-2-.2,.5-1.6,5.6-.5,2.7-1,5.7-1.2,9-.1,1.4Z" fill="#865100"/>
<path d="M651.5,455.9l.3-.6 2.5-3.8 1.9-2-2.6,3.8-.2,.5Z" fill="#783b00"/>
<path d="M644.9,489.8l.8-7.9 .2-1.4 1.2-9.1 .9-5.7 .5-2.8 1.6-5.5 1.9-2.1-1.6,5.6-.5,2.7-1,5.7-1.1,9.1-.2,1.3-.9,7.9Z" fill="#850"/>
<path d="M648.5,462.9l1.6-5.5 .2-.6 2.6-3.8 1.9-2-2.6,3.8-.2,.5-1.6,5.6Z" fill="#7c4100"/>
<path d="M555.2,429l1,.6 5.4-3.7-1.1-.7Z" fill="#ff00c2"/>
<path d="M560.5,425.2l1.1,.7" class="m"/>
<path d="M555.2,429l1,.6 2.4,2.6 2.1,4.8 5.4-3.8-2.1-4.7-2.4-2.6-1.1-.7Z" fill="#fa00ed"/>
<path d="M560.5,425.2l1.1,.7 2.4,2.6 2.1,4.7" class="m"/>
<path d="M558.6,432.2l2.1,4.8 .2,.6 5.3-3.8-.1-.6-2.1-4.7Z" fill="#cd00ef"/>
<path d="M564,428.5l2.1,4.7 .1,.6" class="m"/>
<path d="M560.7,437l.2,.6 1.3,5.9 5.2-3.9-1.2-5.8-.1-.6Z" fill="#b800ea"/>
<path d="M566.1,433.2l.1,.6 1.2,5.8" class="m"/>
<path d="M560.9,437.6l1.3,5.9 .4,2.8 .8,5.8 .9,9 5.1-4.1-.8-8.9-.7-5.7-.5-2.8-1.2-5.8Z" fill="#9f00e4"/>
<path d="M566.2,433.8l1.2,5.8 .5,2.8 .7,5.7 .8,8.9" class="m"/>
<path d="M563.4,452.1l.9,9 .1,1.3 .7,7.8 5-4.2-.6-7.7-.1-1.3-.8-8.9Z" fill="#9400e0"/>
<path d="M568.6,448.1l.8,8.9 .1,1.3 .6,7.7" class="m"/>
<path d="M569,471.5l-.1-7.7 0-1.3 0-8.7 .1-5.6 .2-2.6 .7-5.4 .1-.5 5.2-3.9-.1,.5-.7,5.3-.2,2.7-.2,5.4-.1,8.7 0,1.3 .1,7.6Z" fill="#870000"/>
<path d="M574,467.3l-.1-7.6 0-1.3 .1-8.7 .2-5.4 .2-2.7 .7-5.3 .1-.5" class="m"/>
<path d="M569.9,440.2l.1-.5 1.7-3.8 5.3-3.8-1.8,3.7-.1,.5Z" fill="#780000"/>
<path d="M575.1,436.3l.1-.5 1.8-3.7" class="m"/>
<path d="M571.7,435.9l2.3-1.3 5.3-3.9-2.3,1.4Z" fill="#f00"/>
<path d="M577,432.1l2.3-1.4" class="m"/>
<path d="M571.7,435.9l2.3-1.3 2.7-.1 5.2-3.9-2.6,.1-2.3,1.4Z" fill="#ff005e"/>
<path d="M577,432.1l2.3-1.4 2.6-.1" class="m"/>
<path d="M574,434.6l2.7-.1 2.9,.4 5.2-4-2.9-.3-2.6,.1Z" fill="#ff007b"/>
<path d="M579.3,430.7l2.6-.1 2.9,.3" class="m"/>
<path d="M576.7,434.5l2.9,.4 3.2,.7 3.1,1 3,1.3 5.1-4.1-3-1.2-3.1-.9-3.1-.8-2.9-.3Z" fill="#f00"/>
<path d="M581.9,430.6l2.9,.3 3.1,.8 3.1,.9 3,1.2" class="m"/>
<path d="M585.9,436.6l3,1.3 2.8,1.7 5.1-4.1-2.8-1.7-3-1.2Z" fill="#ff00c2"/>
<path d="M591,432.6l3,1.2 2.8,1.7" class="m"/>
<path d="M588.9,437.9l2.8,1.7 2.5,2.7 2.1,4.9 5-4.1-2.1-4.9-2.4-2.7-2.8-1.7Z" fill="#fa00ed"/>
<path d="M594,433.8l2.8,1.7 2.4,2.7 2.1,4.9" class="m"/>
<path d="M594.2,442.3l2.1,4.9 .2,.6 4.9-4.1-.1-.6-2.1-4.9Z" fill="#cd0000"/>
<path d="M599.2,438.2l2.1,4.9 .1,.6" class="m"/>
<path d="M596.3,447.2l.2,.6 1,6.1 4.9-4.2-1-6-.1-.6Z" fill="#b80000"/>
<path d="M601.3,443.1l.1,.6 1,6" class="m"/>
<path d="M596.5,447.8l1,6.1 .3,2.9 .5,5.9 .5,9.2 4.7-4.4-.4-9.1-.4-5.9-.3-2.8-1-6Z" fill="#9f0000"/>
<path d="M601.4,443.7l1,6 .3,2.8 .4,5.9 .4,9.1" class="m"/>
<path d="M598.3,462.7l.5,9.2 0,1.4 .3,7.9 4.7-4.5-.2-7.9-.1-1.3-.4-9.1Z" fill="#940000"/>
<path d="M603.1,458.4l.4,9.1 .1,1.3 .2,7.9" class="m"/>
<path d="M603.4,482.6l.3-7.8 .1-1.4 .5-8.9 .5-5.6 .3-2.8 4.8-4.3-.3,2.7-.6,5.6-.5,8.9-.1,1.3-.4,7.8Z" fill="#8900d7"/>
<path d="M608,478.1l.4-7.8 .1-1.3 .5-8.9 .6-5.6 .3-2.7" class="m"/>
<path d="M604.8,458.9l.3-2.8 1.1-5.5 .2-.5 4.8-4.2-.1,.5-1.2,5.4-.3,2.7Z" fill="#8200c5"/>
<path d="M609.6,454.5l.3-2.7 1.2-5.4 .1-.5" class="m"/>
<path d="M606.2,450.6l.2-.5 2.1-3.8 4.9-4.2-2.2,3.8-.1,.5Z" fill="#780000"/>
<path d="M611.1,446.4l.1-.5 2.2-3.8" class="m"/>
<path d="M608.5,446.3l2.6-1.3 3-.1 3.2,.4 3.4,.8 4.7-4.3-3.3-.7-3.2-.5-3,.2-2.5,1.3Z" fill="#f00"/>
<path d="M613.4,442.1l2.5-1.3 3-.2 3.2,.5 3.3,.7" class="m"/>
<path d="M617.3,445.3l3.4,.8 3.4,1.1 4.7-4.3-3.4-1.1-3.3-.7Z" fill="#ff0098"/>
<path d="M622.1,441.1l3.3,.7 3.4,1.1" class="m"/>
<path d="M620.7,446.1l3.4,1.1 3.3,1.4 4.6-4.4-3.2-1.3-3.4-1.1Z" fill="#ff00a8"/>
<path d="M625.4,441.8l3.4,1.1 3.2,1.3" class="m"/>
<path d="M624.1,447.2l3.3,1.4 3,1.8 4.6-4.4-3-1.8-3.2-1.3Z" fill="#f00"/>
<path d="M628.8,442.9l3.2,1.3 3,1.8" class="m"/>
<path d="M630.5,445.6l3,1.8 2.6,2.8 1.9,5.1 1.5-1.5-1.9-5.1-2.6-2.7-3-1.8Z" fill="#fa0000"/>
<path d="M632,444.2l3,1.8 2.6,2.7 1.9,5.1" class="m"/>
<path d="M636.1,450.2l1.9,5.1 .1,.6 1.5-1.5-.1-.6-1.9-5.1Z" fill="#cd0000"/>
<path d="M637.6,448.7l1.9,5.1 .1,.6" class="m"/>
<path d="M638,455.3l.1,.6 .8,6.2 1.5-1.5-.8-6.2-.1-.6Z" fill="#b80000"/>
<path d="M639.5,453.8l.1,.6 .8,6.2" class="m"/>
<path d="M638.1,455.9l.8,6.2 .2,3 .1,6 1.5-1.6-.2-6-.1-2.9-.8-6.2Z" fill="#a30000"/>
<path d="M639.6,454.4l.8,6.2 .1,2.9 .2,6" class="m"/>
<path d="M639.1,465.1l.1,6-.1,9.3 0,1.4-.2,8.1 1.4-1.6 .2-8.1 .1-1.4 .1-9.3-.2-6Z" fill="#9500e0"/>
<path d="M640.5,463.5l.2,6-.1,9.3-.1,1.4-.2,8.1" class="m"/>
<path d="M629,447.1l3,1.8 2.5,2.8 2,5.1 2-2-1.9-5.1-2.6-2.8-3-1.8Z" fill="#fa0000"/>
<path d="M634.5,451.7l2,5.1 .1,.6 2.1-2-.2-.6-1.9-5.1Z" fill="#cd0000"/>
<path d="M636.5,456.8l.1,.6 .8,6.2 2-2-.7-6.2-.2-.6Z" fill="#b80000"/>
<path d="M636.6,457.4l.8,6.2 .2,3 .1,6.1 0,9.3 1.9-2.1 .1-9.4-.1-6-.2-2.9-.7-6.2Z" fill="#9f00e4"/>
<path d="M637.7,472.7l0,9.3 0,1.4-.3,8.1 2-2.1 .2-8.1 0-1.4 .1-9.4Z" fill="#9400e0"/>
<path d="M627.4,448.6l3,1.8 2.6,2.8 2,5.1 2-2-1.9-5.1-2.6-2.8-3-1.8Z" fill="#fa0000"/>
<path d="M633,453.2l2,5.1 .1,.6 2.1-2-.2-.6-1.9-5.1Z" fill="#cd0000"/>
<path d="M635,458.3l.1,.6 .8,6.3 2-2.1-.7-6.2-.2-.6Z" fill="#b80000"/>
<path d="M635.1,458.9l.8,6.3 .2,3 2-2.1-.2-3-.7-6.2Z" fill="#a70000"/>
<path d="M635.9,465.2l.2,3 .2,6-.1,9.4 0,1.4-.2,8.2 1.9-2.2 .3-8.1 0-1.4 .1-9.4-.2-6-.2-3Z" fill="#9800e1"/>
<path d="M648.6,457.6l2.9-1.3 4.4-4.6-3,1.3Z" fill="#f00"/>
<path d="M652.9,453l3-1.3" class="m"/>
<path d="M648.6,457.6l2.9-1.3 3.3-.1 4.3-4.6-3.2,.1-3,1.3Z" fill="#ff005e"/>
<path d="M652.9,453l3-1.3 3.2-.1" class="m"/>
<path d="M651.5,456.3l3.3-.1 3.6,.5 4.3-4.6-3.6-.5-3.2,.1Z" fill="#ff007b"/>
<path d="M655.9,451.7l3.2-.1 3.6,.5" class="m"/>
<path d="M654.8,456.2l3.6,.5 3.7,.9 .6,.2 3.9-4.8-.3-.1-3.6-.8-3.6-.5Z" fill="#ff0092"/>
<path d="M659.1,451.6l3.6,.5 3.6,.8 .3,.1" class="m"/>
<path d="M643.5,491.4l.8-8 .2-1.3 1.1-9.1 1-5.7 .5-2.8 1.4-1.6-.5,2.8-.9,5.7-1.2,9.1-.2,1.4-.8,7.9Z" fill="#8900d7"/>
<path d="M644.9,489.8l.8-7.9 .2-1.4 1.2-9.1 .9-5.7 .5-2.8" class="m"/>
<path d="M646.6,467.3l.5-2.8 1.6-5.6 .2-.5 2.6-3.9 1.4-1.5-2.6,3.8-.2,.6-1.6,5.5-.5,2.8Z" fill="#7f0000"/>
<path d="M648,465.7l.5-2.8 1.6-5.5 .2-.6 2.6-3.8" class="m"/>
<path d="M642.1,493l.8-7.9 .2-1.4 1.1-9.1 1.9-2.1-1.1,9-.2,1.4-.8,7.9Z" fill="#8a00d9"/>
<path d="M643.1,483.7l1.1-9.1 .9-5.8 .6-2.8 1.5-5.6 .2-.5 2-2.1-.2,.6-1.6,5.5-.5,2.8-1,5.8-1.1,9Z" fill="#850000"/>
<path d="M647.2,460.4l.2-.5 2.6-3.9 2-2-2.6,3.8-.2,.6Z" fill="#780000"/>
<path d="M640.7,494.7l.8-8 .1-1.4 1.1-9.1 .9-5.8 .6-2.8 1.5-5.6 .3-.5 1.9-2.1-.2,.5-1.5,5.6-.6,2.8-.9,5.7-1.1,9.1-.2,1.4-.8,8Z" fill="#870000"/>
<path d="M645.7,462l.3-.5 2.6-3.9 1.9-2.1-2.6,3.9-.2,.5Z" fill="#780000"/>
<path d="M549.8,433l.8,.5 2.4,2.6 2.2,4.9 5.5-4-2.1-4.8-2.4-2.6-1-.6Z" fill="#00f900"/>
<path d="M555.2,429l1,.6 2.4,2.6 2.1,4.8" class="m"/>
<path d="M553,436.1l2.2,4.9 .2,.6 1.3,5.9 5.5-4-1.3-5.9-.2-.6-2.1-4.8Z" fill="#00d600"/>
<path d="M558.6,432.2l2.1,4.8 .2,.6 1.3,5.9" class="m"/>
<path d="M555.4,441.6l1.3,5.9 .5,2.9 .8,5.8 1,9 .1,1.4 .8,7.9 5.2-4.3-.7-7.8-.1-1.3-.9-9-.8-5.8-.4-2.8-1.3-5.9Z" fill="#00bf00"/>
<path d="M560.9,437.6l1.3,5.9 .4,2.8 .8,5.8 .9,9 .1,1.3 .7,7.8" class="m"/>
<path d="M563.9,475.8l-.2-7.7-.1-1.4 0-8.8 .1-5.5 .1-2.7 .7-5.5 5.4-4-.7,5.4-.2,2.6-.1,5.6 0,8.7 0,1.3 .1,7.7Z" fill="#850"/>
<path d="M569,471.5l-.1-7.7 0-1.3 0-8.7 .1-5.6 .2-2.6 .7-5.4" class="m"/>
<path d="M563.8,449.7l.7-5.5 .1-.5 1.7-3.8 5.4-4-1.7,3.8-.1,.5-.7,5.4Z" fill="#7c4200"/>
<path d="M569.2,445.6l.7-5.4 .1-.5 1.7-3.8" class="m"/>
<path d="M566.3,439.9l2.3-1.3 5.4-4-2.3,1.3Z" fill="#ff3e00"/>
<path d="M571.7,435.9l2.3-1.3" class="m"/>
<path d="M566.3,439.9l2.3-1.3 2.7-.1 5.4-4-2.7,.1-2.3,1.3Z" fill="#00b000"/>
<path d="M571.7,435.9l2.3-1.3 2.7-.1" class="m"/>
<path d="M568.6,438.6l2.7-.1 3,.4 5.3-4-2.9-.4-2.7,.1Z" fill="#0c0"/>
<path d="M574,434.6l2.7-.1 2.9,.4" class="m"/>
<path d="M571.3,438.5l3,.4 3.1,.8 3.2,1 3,1.3 5.3-4.1-3-1.3-3.1-1-3.2-.7-2.9-.4Z" fill="#ff7200"/>
<path d="M576.7,434.5l2.9,.4 3.2,.7 3.1,1 3,1.3" class="m"/>
<path d="M580.6,440.7l3,1.3 2.9,1.8 2.5,2.7 2.1,5 5.2-4.3-2.1-4.9-2.5-2.7-2.8-1.7-3-1.3Z" fill="#00f900"/>
<path d="M585.9,436.6l3,1.3 2.8,1.7 2.5,2.7 2.1,4.9" class="m"/>
<path d="M589,446.5l2.1,5 .2,.6 5.2-4.3-.2-.6-2.1-4.9Z" fill="#cd6e00"/>
<path d="M594.2,442.3l2.1,4.9 .2,.6" class="m"/>
<path d="M591.1,451.5l.2,.6 1.1,6.2 5.1-4.4-1-6.1-.2-.6Z" fill="#b86800"/>
<path d="M596.3,447.2l.2,.6 1,6.1" class="m"/>
<path d="M591.3,452.1l1.1,6.2 .4,2.9 .5,6 .6,9.2 4.9-4.5-.5-9.2-.5-5.9-.3-2.9-1-6.1Z" fill="#a06100"/>
<path d="M596.5,447.8l1,6.1 .3,2.9 .5,5.9 .5,9.2" class="m"/>
<path d="M593.3,467.2l.6,9.2 0,1.4 .4,8 4.8-4.6-.3-7.9 0-1.4-.5-9.2Z" fill="#945d00"/>
<path d="M598.3,462.7l.5,9.2 0,1.4 .3,7.9" class="m"/>
<path d="M598.6,487.3l.2-7.9 .1-1.4 .4-9 .5-5.7 .3-2.7 5-4.5-.3,2.8-.5,5.6-.5,8.9-.1,1.4-.3,7.8Z" fill="#00ad00"/>
<path d="M603.4,482.6l.3-7.8 .1-1.4 .5-8.9 .5-5.6 .3-2.8" class="m"/>
<path d="M599.8,463.3l.3-2.7 1.1-5.6 .1-.5 5.1-4.4-.2,.5-1.1,5.5-.3,2.8Z" fill="#009700"/>
<path d="M604.8,458.9l.3-2.8 1.1-5.5 .2-.5" class="m"/>
<path d="M601.2,455l.1-.5 2.2-3.8 5-4.4-2.1,3.8-.2,.5Z" fill="#783b00"/>
<path d="M606.2,450.6l.2-.5 2.1-3.8" class="m"/>
<path d="M603.5,450.7l2.6-1.3 5-4.4-2.6,1.3Z" fill="#ff3e00"/>
<path d="M608.5,446.3l2.6-1.3" class="m"/>
<path d="M603.5,450.7l2.6-1.3 3-.2 3.2,.5 5-4.4-3.2-.4-3,.1-2.6,1.3Z" fill="#ff5f00"/>
<path d="M608.5,446.3l2.6-1.3 3-.1 3.2,.4" class="m"/>
<path d="M609.1,449.2l3.2,.5 3.5,.9 4.9-4.5-3.4-.8-3.2-.4Z" fill="#ff6d00"/>
<path d="M614.1,444.9l3.2,.4 3.4,.8" class="m"/>
<path d="M612.3,449.7l3.5,.9 3.4,1.1 3.3,1.4 4.9-4.5-3.3-1.4-3.4-1.1-3.4-.8Z" fill="#00e800"/>
<path d="M617.3,445.3l3.4,.8 3.4,1.1 3.3,1.4" class="m"/>
<path d="M619.2,451.7l3.3,1.4 3.1,1.8 4.8-4.5-3-1.8-3.3-1.4Z" fill="#ff7f00"/>
<path d="M624.1,447.2l3.3,1.4 3,1.8" class="m"/>
<path d="M625.8,450.1l3,1.8 2.6,2.8 2,5.1 1.6-1.5-2-5.1-2.6-2.8-3-1.8Z" fill="#fa7e00"/>
<path d="M627.4,448.6l3,1.8 2.6,2.8 2,5.1" class="m"/>
<path d="M631.4,454.7l2,5.1 .2,.7 1.5-1.6-.1-.6-2-5.1Z" fill="#cd6e00"/>
<path d="M633,453.2l2,5.1 .1,.6" class="m"/>
<path d="M633.4,459.8l.2,.7 .8,6.3 .2,2.9 .2,6.1 1.5-1.6-.2-6-.2-3-.8-6.3-.1-.6Z" fill="#00c800"/>
<path d="M635,458.3l.1,.6 .8,6.3 .2,3 .2,6" class="m"/>
<path d="M634.6,469.7l.2,6.1-.1,9.5 0,1.4-.2,8.1 1.5-1.6 .2-8.2 0-1.4 .1-9.4-.2-6Z" fill="#0b0"/>
<path d="M636.1,468.2l.2,6-.1,9.4 0,1.4-.2,8.2" class="m"/>
<path d="M624.2,451.6l3,1.8 2.7,2.9 2,5.1 2.1-2.1-2-5.1-2.6-2.8-3-1.9Z" fill="#fa7e00"/>
<path d="M629.9,456.3l2,5.1 .1,.6 2.1-2.1-.1-.6-2-5.1Z" fill="#cd6e00"/>
<path d="M631.9,461.4l.1,.6 .8,6.3 2.1-2.1-.8-6.3-.1-.6Z" fill="#b86800"/>
<path d="M632,462l.8,6.3 .2,3 2.1-2.1-.2-3-.8-6.3Z" fill="#a76300"/>
<path d="M632.8,468.3l.2,3 .2,6.1 0,9.5 0,1.4-.1,8.2 2-2.2 .1-8.2 .1-1.4 0-9.4-.2-6.1-.2-3Z" fill="#00bd00"/>
<path d="M622.5,453.1l3.1,1.8 2.6,2.9 2.1,5.2 2.1-2.1-2-5.2-2.6-2.8-3.1-1.9Z" fill="#fa7e00"/>
<path d="M628.2,457.8l2.1,5.2 .1,.6 2.2-2.1-.2-.6-2-5.2Z" fill="#cd6e00"/>
<path d="M630.3,463l.1,.6 .9,6.3 2.1-2.1-.8-6.3-.2-.6Z" fill="#b86800"/>
<path d="M630.4,463.6l.9,6.3 .2,3.1 .2,6.1 0,9.5 0,1.4-.1,8.2 2-2.3 .1-8.2 .1-1.4 0-9.4-.2-6.1-.2-3-.8-6.3Z" fill="#00bf00"/>
<path d="M644,462.3l3-1.2 4.5-4.8-2.9,1.3Z" fill="#ff3e00"/>
<path d="M648.6,457.6l2.9-1.3" class="m"/>
<path d="M644,462.3l3-1.2 3.3-.1 4.5-4.8-3.3,.1-2.9,1.3Z" fill="#00b000"/>
<path d="M648.6,457.6l2.9-1.3 3.3-.1" class="m"/>
<path d="M647,461.1l3.3-.1 3.7,.6 3.7,.9 4.4-4.9-3.7-.9-3.6-.5-3.3,.1Z" fill="#00d300"/>
<path d="M651.5,456.3l3.3-.1 3.6,.5 3.7,.9" class="m"/>
<path d="M654,461.6l3.7,.9 .9,.3 4.1-5-.6-.2-3.7-.9Z" fill="#00e300"/>
<path d="M658.4,456.7l3.7,.9 .6,.2" class="m"/>
<path d="M639.2,496.4l.8-8 .2-1.4 1.1-9.2 .9-5.8 .5-2.8 1.5-5.6 1.5-1.6-1.5,5.6-.6,2.8-.9,5.8-1.1,9.1-.1,1.4-.8,8Z" fill="#850"/>
<path d="M640.7,494.7l.8-8 .1-1.4 1.1-9.1 .9-5.8 .6-2.8 1.5-5.6" class="m"/>
<path d="M642.7,469.2l1.5-5.6 .3-.6 2.6-3.8 1.5-1.6-2.6,3.9-.3,.5-1.5,5.6Z" fill="#7c4200"/>
<path d="M644.2,467.6l1.5-5.6 .3-.5 2.6-3.9" class="m"/>
<path d="M637.8,498.1l.7-8.1 .2-1.4 1.1-9.1 .9-5.9 .5-2.8 1.5-5.6 2.1-2.2-1.6,5.6-.5,2.9-.9,5.8-1.1,9.1-.2,1.4-.8,8Z" fill="#850"/>
<path d="M641.2,470.8l1.5-5.6 .2-.6 2.6-3.9 2.1-2.1-2.6,3.9-.2,.5-1.6,5.6Z" fill="#7c4200"/>
<path d="M636.3,499.8l.7-8.1 .2-1.4 1.1-9.2 2-2.2-1.1,9.1-.1,1.4-.8,8.1Z" fill="#00b000"/>
<path d="M637.2,490.3l1.1-9.2 .8-5.8 .6-2.8 1.5-5.7 .2-.6 2.1-2.1-.2,.5-1.6,5.7-.5,2.8-.9,5.8-1.1,9.1Z" fill="#855000"/>
<path d="M641.2,466.8l.2-.6 2.6-3.9 2.1-2.1-2.6,3.9-.2,.5Z" fill="#783b00"/>
<path d="M544.2,437.1l.6,.4 5.8-4-.8-.5Z" fill="#ff00c2"/>
<path d="M549.8,433l.8,.5" class="m"/>
<path d="M544.2,437.1l.6,.4 2.5,2.6 2.2,4.9 5.7-4-2.2-4.9-2.4-2.6-.8-.5Z" fill="#fa00ed"/>
<path d="M549.8,433l.8,.5 2.4,2.6 2.2,4.9" class="m"/>
<path d="M547.3,440.1l2.2,4.9 .2,.6 5.7-4-.2-.6-2.2-4.9Z" fill="#cd00ef"/>
<path d="M553,436.1l2.2,4.9 .2,.6" class="m"/>
<path d="M549.5,445l.2,.6 1.4,6.1 5.6-4.2-1.3-5.9-.2-.6Z" fill="#b800eb"/>
<path d="M555.2,441l.2,.6 1.3,5.9" class="m"/>
<path d="M549.7,445.6l1.4,6.1 .5,2.9 .9,5.8 1,9.2 5.5-4.4-1-9-.8-5.8-.5-2.9-1.3-5.9Z" fill="#a000e4"/>
<path d="M555.4,441.6l1.3,5.9 .5,2.9 .8,5.8 1,9" class="m"/>
<path d="M552.5,460.4l1,9.2 .2,1.3 .8,8 5.4-4.4-.8-7.9-.1-1.4-1-9Z" fill="#9500e0"/>
<path d="M558,456.2l1,9 .1,1.4 .8,7.9" class="m"/>
<path d="M558.5,480.2l-.2-7.8-.1-1.3-.1-8.9 0-5.6 .1-2.7 .7-5.5 .1-.5 5.6-4.2-.1,.5-.7,5.5-.1,2.7-.1,5.5 0,8.8 .1,1.4 .2,7.7Z" fill="#870000"/>
<path d="M563.9,475.8l-.2-7.7-.1-1.4 0-8.8 .1-5.5 .1-2.7 .7-5.5 .1-.5" class="m"/>
<path d="M558.9,448.4l.1-.5 1.7-3.8 5.6-4.2-1.7,3.8-.1,.5Z" fill="#780000"/>
<path d="M564.5,444.2l.1-.5 1.7-3.8" class="m"/>
<path d="M560.7,444.1l2.2-1.3 5.7-4.2-2.3,1.3Z" fill="#f00"/>
<path d="M566.3,439.9l2.3-1.3" class="m"/>
<path d="M560.7,444.1l2.2-1.3 2.8-.2 5.6-4.1-2.7,.1-2.3,1.3Z" fill="#ff005e"/>
<path d="M566.3,439.9l2.3-1.3 2.7-.1" class="m"/>
<path d="M562.9,442.8l2.8-.2 3,.5 5.6-4.2-3-.4-2.7,.1Z" fill="#ff007b"/>
<path d="M568.6,438.6l2.7-.1 3,.4" class="m"/>
<path d="M565.7,442.6l3,.5 3.1,.8 3.2,1 3.1,1.4 5.5-4.3-3-1.3-3.2-1-3.1-.8-3-.4Z" fill="#f00"/>
<path d="M571.3,438.5l3,.4 3.1,.8 3.2,1 3,1.3" class="m"/>
<path d="M575,444.9l3.1,1.4 2.9,1.8 5.5-4.3-2.9-1.8-3-1.3Z" fill="#ff00c2"/>
<path d="M580.6,440.7l3,1.3 2.9,1.8" class="m"/>
<path d="M578.1,446.3l2.9,1.8 2.6,2.8 2.2,5 5.3-4.4-2.1-5-2.5-2.7-2.9-1.8Z" fill="#fa00ed"/>
<path d="M583.6,442l2.9,1.8 2.5,2.7 2.1,5" class="m"/>
<path d="M583.6,450.9l2.2,5 .2,.7 5.3-4.5-.2-.6-2.1-5Z" fill="#cd0000"/>
<path d="M589,446.5l2.1,5 .2,.6" class="m"/>
<path d="M585.8,455.9l.2,.7 1.2,6.2 5.2-4.5-1.1-6.2-.2-.6Z" fill="#b80000"/>
<path d="M591.1,451.5l.2,.6 1.1,6.2" class="m"/>
<path d="M586,456.6l1.2,6.2 .3,2.9 .6,6.1 .6,9.3 5.2-4.7-.6-9.2-.5-6-.4-2.9-1.1-6.2Z" fill="#a00000"/>
<path d="M591.3,452.1l1.1,6.2 .4,2.9 .5,6 .6,9.2" class="m"/>
<path d="M588.1,471.8l.6,9.3 .1,1.4 .4,8.1 5.1-4.8-.4-8 0-1.4-.6-9.2Z" fill="#950000"/>
<path d="M593.3,467.2l.6,9.2 0,1.4 .4,8" class="m"/>
<path d="M593.6,492.1l.2-7.9 0-1.4 .4-9.1 .4-5.8 .3-2.7 5.2-4.6-.3,2.7-.5,5.7-.4,9-.1,1.4-.2,7.9Z" fill="#8900d8"/>
<path d="M598.6,487.3l.2-7.9 .1-1.4 .4-9 .5-5.7 .3-2.7" class="m"/>
<path d="M594.6,467.9l.3-2.7 1-5.6 .2-.6 5.2-4.5-.1,.5-1.1,5.6-.3,2.7Z" fill="#8200c6"/>
<path d="M599.8,463.3l.3-2.7 1.1-5.6 .1-.5" class="m"/>
<path d="M595.9,459.6l.2-.6 2.1-3.8 5.3-4.5-2.2,3.8-.1,.5Z" fill="#780000"/>
<path d="M601.2,455l.1-.5 2.2-3.8" class="m"/>
<path d="M598.2,455.2l2.6-1.3 3.1-.1 3.3,.5 3.4,.9 5.2-4.6-3.5-.9-3.2-.5-3,.2-2.6,1.3Z" fill="#f00"/>
<path d="M603.5,450.7l2.6-1.3 3-.2 3.2,.5 3.5,.9" class="m"/>
<path d="M607.2,454.3l3.4,.9 3.5,1.1 5.1-4.6-3.4-1.1-3.5-.9Z" fill="#ff0098"/>
<path d="M612.3,449.7l3.5,.9 3.4,1.1" class="m"/>
<path d="M610.6,455.2l3.5,1.1 3.4,1.4 5-4.6-3.3-1.4-3.4-1.1Z" fill="#ff00a8"/>
<path d="M615.8,450.6l3.4,1.1 3.3,1.4" class="m"/>
<path d="M614.1,456.3l3.4,1.4 3.1,2 5-4.8-3.1-1.8-3.3-1.4Z" fill="#f00"/>
<path d="M619.2,451.7l3.3,1.4 3.1,1.8" class="m"/>
<path d="M620.9,454.6l3.1,1.9 2.6,2.9 2.1,5.2 1.6-1.6-2.1-5.2-2.6-2.9-3.1-1.8Z" fill="#fa0000"/>
<path d="M622.5,453.1l3.1,1.8 2.6,2.9 2.1,5.2" class="m"/>
<path d="M626.6,459.4l2.1,5.2 .1,.6 1.6-1.6-.1-.6-2.1-5.2Z" fill="#cd0000"/>
<path d="M628.2,457.8l2.1,5.2 .1,.6" class="m"/>
<path d="M628.7,464.6l.1,.6 .9,6.4 1.6-1.7-.9-6.3-.1-.6Z" fill="#b80000"/>
<path d="M630.3,463l.1,.6 .9,6.3" class="m"/>
<path d="M628.8,465.2l.9,6.4 .2,3 1.6-1.6-.2-3.1-.9-6.3Z" fill="#a70000"/>
<path d="M630.4,463.6l.9,6.3 .2,3.1" class="m"/>
<path d="M629.7,471.6l.2,3 .2,6.1 .1,9.5 0,1.5-.2,8.2 1.6-1.7 .1-8.2 0-1.4 0-9.5-.2-6.1-.2-3.1Z" fill="#9800e2"/>
<path d="M631.3,469.9l.2,3.1 .2,6.1 0,9.5 0,1.4-.1,8.2" class="m"/>
<path d="M619.2,456.2l3.1,1.9 2.7,2.9 2,5.2 2.2-2.2-2-5.2-2.7-2.9-3-1.8Z" fill="#fa0000"/>
<path d="M625,461l2,5.2 .2,.6 2.2-2.1-.2-.7-2-5.2Z" fill="#cd0000"/>
<path d="M627,466.2l.2,.6 .9,6.4 2.2-2.2-.9-6.3-.2-.7Z" fill="#b80000"/>
<path d="M627.2,466.8l.9,6.4 .2,3 .2,6.2 2.2-2.2-.2-6.2-.2-3-.9-6.3Z" fill="#a40000"/>
<path d="M628.3,476.2l.2,6.2 .1,9.5 0,1.5-.1,8.2 2.1-2.3 .1-8.2 0-1.4 0-9.5-.2-6.2Z" fill="#9600e1"/>
<path d="M617.5,457.7l3.1,2 2.7,2.9 2.1,5.2 2.2-2.2-2-5.2-2.7-2.9-3.1-1.9Z" fill="#fa0000"/>
<path d="M623.3,462.6l2.1,5.2 .1,.7 2.3-2.2-.2-.7-2-5.2Z" fill="#cd0000"/>
<path d="M625.4,467.8l.1,.7 1,6.4 2.2-2.3-.9-6.3-.2-.7Z" fill="#b80000"/>
<path d="M625.5,468.5l1,6.4 .2,3 .2,6.2 .1,9.6 2.2-2.4-.1-9.5-.2-6.1-.2-3.1-.9-6.3Z" fill="#a000e4"/>
<path d="M626.9,484.1l.1,9.6 0,1.4 0,8.3 2-2.4 .2-8.2 0-1.5-.1-9.5Z" fill="#9500e1"/>
<path d="M639.3,467.3l3-1.3 4.7-4.9-3,1.2Z" fill="#f00"/>
<path d="M644,462.3l3-1.2" class="m"/>
<path d="M639.3,467.3l3-1.3 3.4,0 4.6-5-3.3,.1-3,1.2Z" fill="#ff005e"/>
<path d="M644,462.3l3-1.2 3.3-.1" class="m"/>
<path d="M642.3,466l3.4,0 3.6,.6 4.7-5-3.7-.6-3.3,.1Z" fill="#ff007b"/>
<path d="M647,461.1l3.3-.1 3.7,.6" class="m"/>
<path d="M645.7,466l3.6,.6 3.8,.9 1.2,.4 4.3-5.1-.9-.3-3.7-.9-3.7-.6Z" fill="#ff0092"/>
<path d="M650.3,461l3.7,.6 3.7,.9 .9,.3" class="m"/>
<path d="M634.8,501.5l.7-8.1 .2-1.4 1-9.2 .9-5.9 .5-2.8 1.5-5.7 .2-.5 1.6-1.7-.2,.6-1.5,5.7-.6,2.8-.8,5.8-1.1,9.2-.2,1.4-.7,8.1Z" fill="#870000"/>
<path d="M636.3,499.8l.7-8.1 .2-1.4 1.1-9.2 .8-5.8 .6-2.8 1.5-5.7 .2-.6" class="m"/>
<path d="M639.6,468.4l.2-.5 2.7-3.9 1.5-1.7-2.6,3.9-.2,.6Z" fill="#780000"/>
<path d="M641.2,466.8l.2-.6 2.6-3.9" class="m"/>
<path d="M633.3,503.2l.7-8.1 .1-1.4 1.1-9.2 .8-5.9 .5-2.8 1.6-5.7 .2-.6 2.1-2.2-.2,.5-1.6,5.7-.5,2.9-.8,5.8-1.1,9.2-.1,1.4-.8,8.1Z" fill="#870000"/>
<path d="M638.1,470.1l.2-.6 2.6-3.9 2.1-2.2-2.6,3.9-.2,.5Z" fill="#780000"/>
<path d="M631.7,505l.7-8.1 .2-1.4 1-9.3 .8-5.9 .5-2.8 2.2-2.3-.5,2.8-.9,5.9-1,9.2-.2,1.4-.7,8.1Z" fill="#8900d8"/>
<path d="M634.4,480.3l.5-2.8 1.6-5.8 .2-.5 2.1-2.3-.2,.6-1.5,5.7-.5,2.8Z" fill="#8200c6"/>
<path d="M636.5,471.7l.2-.5 2.6-3.9 2.1-2.3-2.6,3.9-.2,.6Z" fill="#7800a8"/>
<path d="M538.5,441.4l.2,.1 2.6,2.8 2.3,4.9 5.9-4.2-2.2-4.9-2.5-2.6-.6-.4Z" fill="#00f900"/>
<path d="M544.2,437.1l.6,.4 2.5,2.6 2.2,4.9" class="m"/>
<path d="M541.3,444.3l2.3,4.9 .2,.7 1.4,6.1 5.9-4.3-1.4-6.1-.2-.6-2.2-4.9Z" fill="#00d600"/>
<path d="M547.3,440.1l2.2,4.9 .2,.6 1.4,6.1" class="m"/>
<path d="M543.8,449.9l1.4,6.1 .6,2.9 .9,5.9 1.2,9.2 .1,1.4 .9,8 5.6-4.5-.8-8-.2-1.3-1-9.2-.9-5.8-.5-2.9-1.4-6.1Z" fill="#00bf00"/>
<path d="M549.7,445.6l1.4,6.1 .5,2.9 .9,5.8 1,9.2 .2,1.3 .8,8" class="m"/>
<path d="M553,484.8l-.4-7.8 0-1.4-.3-9 .1-5.6 0-2.8 .6-5.5 5.9-4.3-.7,5.5-.1,2.7 0,5.6 .1,8.9 .1,1.3 .2,7.8Z" fill="#850"/>
<path d="M558.5,480.2l-.2-7.8-.1-1.3-.1-8.9 0-5.6 .1-2.7 .7-5.5" class="m"/>
<path d="M552.4,458.2l.6-5.5 .1-.5 1.7-3.8 5.9-4.3-1.7,3.8-.1,.5-.7,5.5Z" fill="#7c4200"/>
<path d="M558.2,453.9l.7-5.5 .1-.5 1.7-3.8" class="m"/>
<path d="M554.8,448.4l2.3-1.4 5.8-4.2-2.2,1.3Z" fill="#ff3e00"/>
<path d="M560.7,444.1l2.2-1.3" class="m"/>
<path d="M554.8,448.4l2.3-1.4 2.7-.1 5.9-4.3-2.8,.2-2.2,1.3Z" fill="#00b000"/>
<path d="M560.7,444.1l2.2-1.3 2.8-.2" class="m"/>
<path d="M557.1,447l2.7-.1 3.1,.5 5.8-4.3-3-.5-2.8,.2Z" fill="#0c0"/>
<path d="M562.9,442.8l2.8-.2 3,.5" class="m"/>
<path d="M559.8,446.9l3.1,.5 3.2,.8 3.2,1.1 3.1,1.4 5.7-4.4-3.1-1.4-3.2-1-3.1-.8-3-.5Z" fill="#ff7200"/>
<path d="M565.7,442.6l3,.5 3.1,.8 3.2,1 3.1,1.4" class="m"/>
<path d="M569.3,449.3l3.1,1.4 3,1.8 2.6,2.9 2.2,5.1 5.6-4.6-2.2-5-2.6-2.8-2.9-1.8-3.1-1.4Z" fill="#00f900"/>
<path d="M575,444.9l3.1,1.4 2.9,1.8 2.6,2.8 2.2,5" class="m"/>
<path d="M578,455.4l2.2,5.1 .2,.6 5.6-4.5-.2-.7-2.2-5Z" fill="#cd6e00"/>
<path d="M583.6,450.9l2.2,5 .2,.7" class="m"/>
<path d="M580.2,460.5l.2,.6 1.3,6.3 5.5-4.6-1.2-6.2-.2-.7Z" fill="#b86800"/>
<path d="M585.8,455.9l.2,.7 1.2,6.2" class="m"/>
<path d="M580.4,461.1l1.3,6.3 .4,3 .6,6.1 .7,9.4 5.3-4.8-.6-9.3-.6-6.1-.3-2.9-1.2-6.2Z" fill="#a06100"/>
<path d="M586,456.6l1.2,6.2 .3,2.9 .6,6.1 .6,9.3" class="m"/>
<path d="M582.7,476.5l.7,9.4 .1,1.5 .5,8.1 5.2-4.9-.4-8.1-.1-1.4-.6-9.3Z" fill="#955d00"/>
<path d="M588.1,471.8l.6,9.3 .1,1.4 .4,8.1" class="m"/>
<path d="M588.4,497.1l.1-8 .1-1.4 .3-9.2 .3-5.8 .3-2.8 5.4-4.7-.3,2.7-.4,5.8-.4,9.1 0,1.4-.2,7.9Z" fill="#00ad00"/>
<path d="M593.6,492.1l.2-7.9 0-1.4 .4-9.1 .4-5.8 .3-2.7" class="m"/>
<path d="M589.2,472.7l.3-2.8 1-5.6 .2-.6 5.4-4.7-.2,.6-1,5.6-.3,2.7Z" fill="#009700"/>
<path d="M594.6,467.9l.3-2.7 1-5.6 .2-.6" class="m"/>
<path d="M590.5,464.3l.2-.6 2.1-3.9 5.4-4.6-2.1,3.8-.2,.6Z" fill="#783b00"/>
<path d="M595.9,459.6l.2-.6 2.1-3.8" class="m"/>
<path d="M592.8,459.8l2.6-1.3 5.4-4.6-2.6,1.3Z" fill="#ff3e00"/>
<path d="M598.2,455.2l2.6-1.3" class="m"/>
<path d="M592.8,459.8l2.6-1.3 3.1,0 3.3,.5 5.4-4.7-3.3-.5-3.1,.1-2.6,1.3Z" fill="#ff5f00"/>
<path d="M598.2,455.2l2.6-1.3 3.1-.1 3.3,.5" class="m"/>
<path d="M598.5,458.5l3.3,.5 3.5,.9 5.3-4.7-3.4-.9-3.3-.5Z" fill="#ff6d00"/>
<path d="M603.9,453.8l3.3,.5 3.4,.9" class="m"/>
<path d="M601.8,459l3.5,.9 3.5,1.2 3.5,1.5 5.2-4.9-3.4-1.4-3.5-1.1-3.4-.9Z" fill="#00e800"/>
<path d="M607.2,454.3l3.4,.9 3.5,1.1 3.4,1.4" class="m"/>
<path d="M608.8,461.1l3.5,1.5 3.1,1.9 5.2-4.8-3.1-2-3.4-1.4Z" fill="#ff7f00"/>
<path d="M614.1,456.3l3.4,1.4 3.1,2" class="m"/>
<path d="M615.8,459.3l3.1,2 2.7,2.9 2.1,5.3 1.7-1.7-2.1-5.2-2.7-2.9-3.1-2Z" fill="#fa7e00"/>
<path d="M617.5,457.7l3.1,2 2.7,2.9 2.1,5.2" class="m"/>
<path d="M621.6,464.2l2.1,5.3 .2,.6 1.6-1.6-.1-.7-2.1-5.2Z" fill="#cd6e00"/>
<path d="M623.3,462.6l2.1,5.2 .1,.7" class="m"/>
<path d="M623.7,469.5l.2,.6 .9,6.4 1.7-1.6-1-6.4-.1-.7Z" fill="#b86800"/>
<path d="M625.4,467.8l.1,.7 1,6.4" class="m"/>
<path d="M623.9,470.1l.9,6.4 .2,3.1 1.7-1.7-.2-3-1-6.4Z" fill="#a86300"/>
<path d="M625.5,468.5l1,6.4 .2,3" class="m"/>
<path d="M624.8,476.5l.2,3.1 .3,6.2 .1,9.6 0,1.5 0,8.3 1.6-1.8 0-8.3 0-1.4-.1-9.6-.2-6.2-.2-3Z" fill="#00bd00"/>
<path d="M626.5,474.9l.2,3 .2,6.2 .1,9.6 0,1.4 0,8.3" class="m"/>
<path d="M614,461l3.2,1.9 2.7,2.9 2.1,5.3 2.3-2.2-2.1-5.3-2.7-2.9-3.1-1.9Z" fill="#fa7e00"/>
<path d="M619.9,465.8l2.1,5.3 .2,.7 2.3-2.3-.2-.6-2.1-5.3Z" fill="#cd6e00"/>
<path d="M622,471.1l.2,.7 .9,6.4 2.3-2.3-.9-6.4-.2-.6Z" fill="#b86800"/>
<path d="M622.2,471.8l.9,6.4 .3,3.1 .3,6.2 2.2-2.3-.3-6.2-.2-3.1-.9-6.4Z" fill="#a46200"/>
<path d="M623.4,481.3l.3,6.2 .1,9.7 0,1.4 0,8.4 2.1-2.5 .1-8.3 0-1.4-.1-9.6-.3-6.2Z" fill="#0b0"/>
<path d="M612.3,462.6l3.1,1.9 2.8,3 2.1,5.3 2.3-2.3-2.1-5.2-2.7-3-3.2-1.9Z" fill="#fa7e00"/>
<path d="M618.2,467.5l2.1,5.3 .2,.7 2.3-2.3-.2-.7-2.1-5.2Z" fill="#cd6e00"/>
<path d="M620.3,472.8l.2,.7 .9,6.4 2.3-2.3-.9-6.4-.2-.7Z" fill="#b86800"/>
<path d="M620.5,473.5l.9,6.4 .3,3.1 .3,6.3 .2,9.6 0,1.5 0,8.4 2.1-2.5 .1-8.3 0-1.5-.2-9.6-.2-6.2-.3-3.1-.9-6.4Z" fill="#00bf00"/>
<path d="M634.3,472.4l3.1-1.3 4.9-5.1-3,1.3Z" fill="#ff3e00"/>
<path d="M639.3,467.3l3-1.3" class="m"/>
<path d="M634.3,472.4l3.1-1.3 3.4,0 4.9-5.1-3.4,0-3,1.3Z" fill="#00b000"/>
<path d="M639.3,467.3l3-1.3 3.4,0" class="m"/>
<path d="M637.4,471.1l3.4,0 3.7,.6 3.8,1.1 4.8-5.3-3.8-.9-3.6-.6-3.4,0Z" fill="#00d200"/>
<path d="M642.3,466l3.4,0 3.6,.6 3.8,.9" class="m"/>
<path d="M644.5,471.7l3.8,1.1 1.6,.5 4.4-5.4-1.2-.4-3.8-.9Z" fill="#00e300"/>
<path d="M649.3,466.6l3.8,.9 1.2,.4" class="m"/>
<path d="M630.2,506.8l.7-8.1 .1-1.5 1-9.3 .8-5.9 .5-2.8 1.6-1.7-.5,2.8-.8,5.9-1,9.3-.2,1.4-.7,8.1Z" fill="#00ad00"/>
<path d="M631.7,505l.7-8.1 .2-1.4 1-9.3 .8-5.9 .5-2.8" class="m"/>
<path d="M632.8,482l.5-2.8 1.5-5.8 .2-.5 1.7-1.7-.2,.5-1.6,5.8-.5,2.8Z" fill="#009700"/>
<path d="M634.4,480.3l.5-2.8 1.6-5.8 .2-.5" class="m"/>
<path d="M634.8,473.4l.2-.5 2.6-3.9 1.7-1.7-2.6,3.9-.2,.5Z" fill="#007600"/>
<path d="M636.5,471.7l.2-.5 2.6-3.9" class="m"/>
<path d="M628.6,508.6l.7-8.2 .1-1.4 1-9.3 .8-5.9 .5-2.9 2.2-2.3-.5,2.8-.9,5.9-1,9.3-.1,1.4-.7,8.2Z" fill="#00ad00"/>
<path d="M631.2,483.8l.5-2.9 1.5-5.7 .2-.6 2.2-2.3-.2,.5-1.5,5.8-.5,2.8Z" fill="#009700"/>
<path d="M633.2,475.2l.2-.6 2.6-3.9 2.2-2.3-2.6,3.9-.2,.5Z" fill="#007600"/>
<path d="M627,510.4l.6-8.2 2.2-2.4-.7,8.2Z" fill="#00b100"/>
<path d="M627,510.4l.6-8.2 .2-1.4 .9-9.3 .8-6 .5-2.9 1.5-5.7 2.3-2.4-1.5,5.8-.5,2.8-.9,6-1,9.3-.1,1.4-.7,8.2Z" fill="#850"/>
<path d="M630,482.6l1.5-5.7 .2-.6 2.6-3.9 2.3-2.3-2.6,3.9-.2,.5-1.5,5.8Z" fill="#7c4200"/>
<path d="M532.7,445.6l6-4.1-.2-.1Z" fill="#ff00c2"/>
<path d="M538.5,441.4l.2,.1" class="m"/>
<path d="M532.5,445.8l2.6,2.7 2.3,5.1 6.2-4.4-2.3-4.9-2.6-2.8-.2-.1Z" fill="#fa00ee"/>
<path d="M538.5,441.4l.2,.1 2.6,2.8 2.3,4.9" class="m"/>
<path d="M535.1,448.5l2.3,5.1 .2,.6 6.2-4.3-.2-.7-2.3-4.9Z" fill="#cd00f0"/>
<path d="M541.3,444.3l2.3,4.9 .2,.7" class="m"/>
<path d="M537.4,453.6l.2,.6 1.6,6.2 6-4.4-1.4-6.1-.2-.7Z" fill="#b800eb"/>
<path d="M543.6,449.2l.2,.7 1.4,6.1" class="m"/>
<path d="M537.6,454.2l1.6,6.2 .5,2.9 1,6 1.3,9.3 5.9-4.6-1.2-9.2-.9-5.9-.6-2.9-1.4-6.1Z" fill="#a000e5"/>
<path d="M543.8,449.9l1.4,6.1 .6,2.9 .9,5.9 1.2,9.2" class="m"/>
<path d="M540.7,469.3l1.3,9.3 .2,1.4 1,8.1 5.7-4.7-.9-8-.1-1.4-1.2-9.2Z" fill="#9500e1"/>
<path d="M546.7,464.8l1.2,9.2 .1,1.4 .9,8" class="m"/>
<path d="M547.3,489.5l-.5-7.9 0-1.4-.4-9 0-5.7 0-2.8 .6-5.6 .1-.5 6-4.4-.1,.5-.6,5.5 0,2.8-.1,5.6 .3,9 0,1.4 .4,7.8Z" fill="#870000"/>
<path d="M553,484.8l-.4-7.8 0-1.4-.3-9 .1-5.6 0-2.8 .6-5.5 .1-.5" class="m"/>
<path d="M547,457.1l.1-.5 1.6-3.8 6.1-4.4-1.7,3.8-.1,.5Z" fill="#780000"/>
<path d="M553,452.7l.1-.5 1.7-3.8" class="m"/>
<path d="M548.7,452.8l2.3-1.3 6.1-4.5-2.3,1.4Z" fill="#f00"/>
<path d="M554.8,448.4l2.3-1.4" class="m"/>
<path d="M548.7,452.8l2.3-1.3 2.8-.1 6-4.5-2.7,.1-2.3,1.4Z" fill="#ff005e"/>
<path d="M554.8,448.4l2.3-1.4 2.7-.1" class="m"/>
<path d="M551,451.5l2.8-.1 3,.5 6.1-4.5-3.1-.5-2.7,.1Z" fill="#ff007b"/>
<path d="M557.1,447l2.7-.1 3.1,.5" class="m"/>
<path d="M553.8,451.4l3,.5 3.2,.8 3.3,1.1 3.2,1.5 5.9-4.6-3.1-1.4-3.2-1.1-3.2-.8-3.1-.5Z" fill="#f00"/>
<path d="M559.8,446.9l3.1,.5 3.2,.8 3.2,1.1 3.1,1.4" class="m"/>
<path d="M563.3,453.8l3.2,1.5 3,1.8 5.9-4.6-3-1.8-3.1-1.4Z" fill="#ff00c2"/>
<path d="M569.3,449.3l3.1,1.4 3,1.8" class="m"/>
<path d="M566.5,455.3l3,1.8 2.7,2.9 2.3,5.2 5.7-4.7-2.2-5.1-2.6-2.9-3-1.8Z" fill="#fa00ee"/>
<path d="M572.4,450.7l3,1.8 2.6,2.9 2.2,5.1" class="m"/>
<path d="M572.2,460l2.3,5.2 .2,.7 5.7-4.8-.2-.6-2.2-5.1Z" fill="#cd0000"/>
<path d="M578,455.4l2.2,5.1 .2,.6" class="m"/>
<path d="M574.5,465.2l.2,.7 1.3,6.3 5.7-4.8-1.3-6.3-.2-.6Z" fill="#b80000"/>
<path d="M580.2,460.5l.2,.6 1.3,6.3" class="m"/>
<path d="M574.7,465.9l1.3,6.3 .4,3.1 .7,6.1 .8,9.5 5.5-5-.7-9.4-.6-6.1-.4-3-1.3-6.3Z" fill="#a00000"/>
<path d="M580.4,461.1l1.3,6.3 .4,3 .6,6.1 .7,9.4" class="m"/>
<path d="M577.1,481.4l.8,9.5 .1,1.5 .6,8.2 5.4-5.1-.5-8.1-.1-1.5-.7-9.4Z" fill="#950000"/>
<path d="M582.7,476.5l.7,9.4 .1,1.5 .5,8.1" class="m"/>
<path d="M583.1,502.2l0-8.1 0-1.4 .2-9.2 .4-5.9 .2-2.8 5.6-4.9-.3,2.8-.3,5.8-.3,9.2-.1,1.4-.1,8Z" fill="#8900d8"/>
<path d="M588.4,497.1l.1-8 .1-1.4 .3-9.2 .3-5.8 .3-2.8" class="m"/>
<path d="M583.7,477.6l.2-2.8 1-5.7 .1-.5 5.7-4.9-.2,.6-1,5.6-.3,2.8Z" fill="#8200c6"/>
<path d="M589.2,472.7l.3-2.8 1-5.6 .2-.6" class="m"/>
<path d="M584.9,469.1l.1-.5 2.1-3.9 5.7-4.9-2.1,3.9-.2,.6Z" fill="#780000"/>
<path d="M590.5,464.3l.2-.6 2.1-3.9" class="m"/>
<path d="M587.1,464.7l2.6-1.3 3.1-.1 3.4,.6 3.5,1 5.6-5-3.5-.9-3.3-.5-3.1,0-2.6,1.3Z" fill="#f00"/>
<path d="M592.8,459.8l2.6-1.3 3.1,0 3.3,.5 3.5,.9" class="m"/>
<path d="M596.2,463.9l3.5,1 3.6,1.2 5.5-5-3.5-1.2-3.5-.9Z" fill="#ff0098"/>
<path d="M601.8,459l3.5,.9 3.5,1.2" class="m"/>
<path d="M599.7,464.9l3.6,1.2 3.5,1.5 5.5-5-3.5-1.5-3.5-1.2Z" fill="#ff00a8"/>
<path d="M605.3,459.9l3.5,1.2 3.5,1.5" class="m"/>
<path d="M603.3,466.1l3.5,1.5 3.2,2 5.4-5.1-3.1-1.9-3.5-1.5Z" fill="#f00"/>
<path d="M608.8,461.1l3.5,1.5 3.1,1.9" class="m"/>
<path d="M610.5,464.2l3.1,2 2.8,3 2.2,5.3 1.7-1.7-2.1-5.3-2.8-3-3.1-1.9Z" fill="#fa0000"/>
<path d="M612.3,462.6l3.1,1.9 2.8,3 2.1,5.3" class="m"/>
<path d="M616.4,469.2l2.2,5.3 .1,.7 1.8-1.7-.2-.7-2.1-5.3Z" fill="#cd0000"/>
<path d="M618.2,467.5l2.1,5.3 .2,.7" class="m"/>
<path d="M618.6,474.5l.1,.7 1,6.5 1.7-1.8-.9-6.4-.2-.7Z" fill="#b80000"/>
<path d="M620.3,472.8l.2,.7 .9,6.4" class="m"/>
<path d="M618.7,475.2l1,6.5 .3,3.1 .3,6.2 .2,9.7 1.7-1.8-.2-9.6-.3-6.3-.3-3.1-.9-6.4Z" fill="#a000e4"/>
<path d="M620.5,473.5l.9,6.4 .3,3.1 .3,6.3 .2,9.6" class="m"/>
<path d="M620.3,491l.2,9.7 0,1.5 0,8.4 1.7-1.8 0-8.4 0-1.5-.2-9.6Z" fill="#9500e1"/>
<path d="M622,489.3l.2,9.6 0,1.5 0,8.4" class="m"/>
<path d="M608.6,465.9l3.2,2 2.8,3 2.2,5.4 2.4-2.4-2.2-5.3-2.7-3-3.2-1.9Z" fill="#fa0000"/>
<path d="M614.6,470.9l2.2,5.4 .2,.6 2.3-2.3-.1-.7-2.2-5.3Z" fill="#cd0000"/>
<path d="M616.8,476.3l.2,.6 1,6.5 2.3-2.3-1-6.5-.1-.7Z" fill="#b800eb"/>
<path d="M617,476.9l1,6.5 .2,3.1 .4,6.3 .2,9.8 2.3-2.5-.2-9.7-.3-6.2-.3-3.1-1-6.5Z" fill="#a000e5"/>
<path d="M618.6,492.8l.2,9.8 0,1.4 0,8.4 2.3-2.5 0-8.3 0-1.5-.2-9.7Z" fill="#9500e1"/>
<path d="M606.8,467.6l3.2,2 2.8,3 2.2,5.4 2.4-2.4-2.2-5.3-2.7-3-3.2-2Z" fill="#fa0000"/>
<path d="M612.8,472.6l2.2,5.4 .2,.7 2.4-2.4-.2-.7-2.2-5.3Z" fill="#cd0000"/>
<path d="M615,478l.2,.7 1,6.5 2.4-2.4-1-6.5-.2-.7Z" fill="#b80000"/>
<path d="M615.2,478.7l1,6.5 .3,3.1 .3,6.3 .3,9.8 2.3-2.5-.2-9.7-.4-6.3-.2-3.1-1-6.5Z" fill="#a000e5"/>
<path d="M616.8,494.6l.3,9.8 0,1.5 .1,8.4 2.2-2.5 0-8.4 0-1.5-.2-9.7Z" fill="#9500e1"/>
<path d="M629.2,477.7l3-1.3 5.2-5.3-3.1,1.3Z" fill="#f00"/>
<path d="M634.3,472.4l3.1-1.3" class="m"/>
<path d="M629.2,477.7l3-1.3 3.5,0 5.1-5.3-3.4,0-3.1,1.3Z" fill="#ff005e"/>
<path d="M634.3,472.4l3.1-1.3 3.4,0" class="m"/>
<path d="M632.2,476.4l3.5,0 3.7,.7 5.1-5.4-3.7-.6-3.4,0Z" fill="#ff007b"/>
<path d="M637.4,471.1l3.4,0 3.7,.6" class="m"/>
<path d="M635.7,476.4l3.7,.7 4,1.1 1.9,.6 4.6-5.5-1.6-.5-3.8-1.1-3.7-.6Z" fill="#ff0092"/>
<path d="M640.8,471.1l3.7,.6 3.8,1.1 1.6,.5" class="m"/>
<path d="M625.4,512.3l.6-8.2 .1-1.5 .9-9.3 .8-6 .5-2.9 1.7-1.8-.5,2.9-.8,6-.9,9.3-.2,1.4-.6,8.2Z" fill="#8900d8"/>
<path d="M627,510.4l.6-8.2 .2-1.4 .9-9.3 .8-6 .5-2.9" class="m"/>
<path d="M627.8,487.3l.5-2.9 1.5-5.8 .2-.5 2.6-4 1.7-1.7-2.6,3.9-.2,.6-1.5,5.7-.5,2.9Z" fill="#7f0000"/>
<path d="M629.5,485.5l.5-2.9 1.5-5.7 .2-.6 2.6-3.9" class="m"/>
<path d="M623.7,514.1l.6-8.2 .2-1.4 .9-9.4 2.2-2.5-.9,9.4-.1,1.4-.7,8.2Z" fill="#8a00da"/>
<path d="M624.5,504.5l.9-9.4 .7-6 .5-2.9 1.5-5.8 .2-.5 2.3-2.4-.2,.5-1.5,5.8-.5,2.9-.8,5.9-.9,9.4Z" fill="#850000"/>
<path d="M628.1,480.4l.2-.5 2.6-4 2.3-2.4-2.6,4-.2,.5Z" fill="#780000"/>
<path d="M622.1,516l.5-8.2 .2-1.5 .8-9.4 .8-6 .5-2.9 2.3-2.4-.5,2.9-.7,5.9-1,9.4-.1,1.5-.6,8.2Z" fill="#8900d8"/>
<path d="M624.4,490.9l.5-2.9 1.5-5.8 .2-.6 2.3-2.4-.2,.6-1.5,5.8-.5,2.9Z" fill="#8200c6"/>
<path d="M626.4,482.2l.2-.6 2.6-3.9 2.3-2.4-2.6,3.9-.2,.6Z" fill="#7800a8"/>
<path d="M526.3,450.5l2.3,2.4 2.4,5.2 6.4-4.5-2.3-5.1-2.6-2.7Z" fill="#00fa00"/>
<path d="M532.5,445.8l2.6,2.7 2.3,5.1" class="m"/>
<path d="M528.6,452.9l2.4,5.2 .3,.6 1.6,6.2 6.3-4.5-1.6-6.2-.2-.6-2.3-5.1Z" fill="#00d700"/>
<path d="M535.1,448.5l2.3,5.1 .2,.6 1.6,6.2" class="m"/>
<path d="M531.3,458.7l1.6,6.2 .6,3 1,6.1 1.4,9.4 .2,1.4 1.1,8.1 6-4.8-1-8.1-.2-1.4-1.3-9.3-1-6-.5-2.9-1.6-6.2Z" fill="#00bf00"/>
<path d="M537.6,454.2l1.6,6.2 .5,2.9 1,6 1.3,9.3 .2,1.4 1,8.1" class="m"/>
<path d="M541.3,494.4l-.5-8-.1-1.4-.4-9.1-.1-5.8 0-2.8 .5-5.6 6.3-4.6-.6,5.6 0,2.8 0,5.7 .4,9 0,1.4 .5,7.9Z" fill="#850"/>
<path d="M547.3,489.5l-.5-7.9 0-1.4-.4-9 0-5.7 0-2.8 .6-5.6" class="m"/>
<path d="M540.2,467.3l.5-5.6 .1-.5 1.6-3.9 6.3-4.5-1.6,3.8-.1,.5-.6,5.6Z" fill="#7c4200"/>
<path d="M546.4,462.7l.6-5.6 .1-.5 1.6-3.8" class="m"/>
<path d="M542.4,457.3l2.3-1.3 6.3-4.5-2.3,1.3Z" fill="#ff3e00"/>
<path d="M548.7,452.8l2.3-1.3" class="m"/>
<path d="M542.4,457.3l2.3-1.3 2.8-.1 6.3-4.5-2.8,.1-2.3,1.3Z" fill="#00b000"/>
<path d="M548.7,452.8l2.3-1.3 2.8-.1" class="m"/>
<path d="M544.7,456l2.8-.1 3,.6 6.3-4.6-3-.5-2.8,.1Z" fill="#0c0"/>
<path d="M551,451.5l2.8-.1 3,.5" class="m"/>
<path d="M547.5,455.9l3,.6 3.3,.9 3.3,1.1 3.2,1.5 6.2-4.7-3.2-1.5-3.3-1.1-3.2-.8-3-.5Z" fill="#ff7200"/>
<path d="M553.8,451.4l3,.5 3.2,.8 3.3,1.1 3.2,1.5" class="m"/>
<path d="M557.1,458.5l3.2,1.5 3.1,1.9 2.7,3 2.4,5.2 6-4.9-2.3-5.2-2.7-2.9-3-1.8-3.2-1.5Z" fill="#00fa00"/>
<path d="M563.3,453.8l3.2,1.5 3,1.8 2.7,2.9 2.3,5.2" class="m"/>
<path d="M566.1,464.9l2.4,5.2 .2,.7 6-4.9-.2-.7-2.3-5.2Z" fill="#ce6e00"/>
<path d="M572.2,460l2.3,5.2 .2,.7" class="m"/>
<path d="M568.5,470.1l.2,.7 1.3,6.4 6-5-1.3-6.3-.2-.7Z" fill="#b86800"/>
<path d="M574.5,465.2l.2,.7 1.3,6.3" class="m"/>
<path d="M568.7,470.8l1.3,6.4 .5,3.1 .8,6.2 .9,9.6 5.7-5.2-.8-9.5-.7-6.1-.4-3.1-1.3-6.3Z" fill="#a06100"/>
<path d="M574.7,465.9l1.3,6.3 .4,3.1 .7,6.1 .8,9.5" class="m"/>
<path d="M571.3,486.5l.9,9.6 .1,1.5 .7,8.3 5.6-5.3-.6-8.2-.1-1.5-.8-9.5Z" fill="#955d00"/>
<path d="M577.1,481.4l.8,9.5 .1,1.5 .6,8.2" class="m"/>
<path d="M577.5,507.5l-.1-8.1 0-1.4 .2-9.4 .2-5.9 .3-2.8 5.8-5.1-.2,2.8-.4,5.9-.2,9.2 0,1.4 0,8.1Z" fill="#00ad00"/>
<path d="M583.1,502.2l0-8.1 0-1.4 .2-9.2 .4-5.9 .2-2.8" class="m"/>
<path d="M577.8,482.7l.3-2.8 .9-5.8 .1-.5 5.9-5-.1,.5-1,5.7-.2,2.8Z" fill="#009700"/>
<path d="M583.7,477.6l.2-2.8 1-5.7 .1-.5" class="m"/>
<path d="M579,474.1l.1-.5 2.1-4 5.9-4.9-2.1,3.9-.1,.5Z" fill="#783b00"/>
<path d="M584.9,469.1l.1-.5 2.1-3.9" class="m"/>
<path d="M581.2,469.6l2.6-1.2 5.9-5-2.6,1.3Z" fill="#ff3e00"/>
<path d="M587.1,464.7l2.6-1.3" class="m"/>
<path d="M581.2,469.6l2.6-1.2 3.1-.1 3.5,.7 5.8-5.1-3.4-.6-3.1,.1-2.6,1.3Z" fill="#ff5f00"/>
<path d="M587.1,464.7l2.6-1.3 3.1-.1 3.4,.6" class="m"/>
<path d="M586.9,468.3l3.5,.7 3.6,1 5.7-5.1-3.5-1-3.4-.6Z" fill="#ff6d00"/>
<path d="M592.8,463.3l3.4,.6 3.5,1" class="m"/>
<path d="M590.4,469l3.6,1 3.6,1.2 3.5,1.6 5.7-5.2-3.5-1.5-3.6-1.2-3.5-1Z" fill="#00e800"/>
<path d="M596.2,463.9l3.5,1 3.6,1.2 3.5,1.5" class="m"/>
<path d="M597.6,471.2l3.5,1.6 3.2,2 5.7-5.2-3.2-2-3.5-1.5Z" fill="#ff7f00"/>
<path d="M603.3,466.1l3.5,1.5 3.2,2" class="m"/>
<path d="M604.9,469.3l3.2,2 2.8,3.1 2.3,5.4 1.8-1.8-2.2-5.4-2.8-3-3.2-2Z" fill="#fa7e00"/>
<path d="M606.8,467.6l3.2,2 2.8,3 2.2,5.4" class="m"/>
<path d="M610.9,474.4l2.3,5.4 .2,.6 1.8-1.7-.2-.7-2.2-5.4Z" fill="#cd6e00"/>
<path d="M612.8,472.6l2.2,5.4 .2,.7" class="m"/>
<path d="M613.2,479.8l.2,.6 1,6.6 1.8-1.8-1-6.5-.2-.7Z" fill="#b86800"/>
<path d="M615,478l.2,.7 1,6.5" class="m"/>
<path d="M613.4,480.4l1,6.6 .3,3.1 1.8-1.8-.3-3.1-1-6.5Z" fill="#a86300"/>
<path d="M615.2,478.7l1,6.5 .3,3.1" class="m"/>
<path d="M614.4,487l.3,3.1 .4,6.4 .3,9.8 0,1.4 .1,8.5 1.7-1.9-.1-8.4 0-1.5-.3-9.8-.3-6.3-.3-3.1Z" fill="#00bd00"/>
<path d="M616.2,485.2l.3,3.1 .3,6.3 .3,9.8 0,1.5 .1,8.4" class="m"/>
<path d="M603,471l3.2,2.1 2.9,3 2.2,5.5 2.5-2.4-2.2-5.5-2.8-3-3.2-2Z" fill="#fa7e00"/>
<path d="M609.1,476.1l2.2,5.5 .2,.6 2.5-2.4-.2-.6-2.2-5.5Z" fill="#ce6e00"/>
<path d="M611.3,481.6l.2,.6 1.1,6.6 2.4-2.4-1-6.6-.2-.6Z" fill="#b86800"/>
<path d="M611.5,482.2l1.1,6.6 .3,3.2 .4,6.3 .3,9.8 0,1.5 .1,8.5 2.4-2.6-.1-8.4 0-1.5-.3-9.8-.4-6.3-.3-3.1-1-6.6Z" fill="#00bf00"/>
<path d="M601.1,472.8l3.2,2 2.9,3.1 2.3,5.5 2.5-2.5-2.3-5.4-2.8-3.1-3.2-2Z" fill="#fa7e00"/>
<path d="M607.2,477.9l2.3,5.5 .1,.7 2.6-2.5-.2-.7-2.3-5.4Z" fill="#ce6e00"/>
<path d="M609.5,483.4l.1,.7 1.1,6.6 2.5-2.5-1-6.6-.2-.7Z" fill="#b86800"/>
<path d="M609.6,484.1l1.1,6.6 .4,3.1 .4,6.4 .3,9.8 0,1.5 .2,8.5 2.3-2.6-.1-8.4 0-1.5-.3-9.8-.4-6.4-.3-3.1-1-6.6Z" fill="#00bf00"/>
<path d="M623.8,483.2l3.1-1.3 5.3-5.5-3,1.3Z" fill="#ff3e00"/>
<path d="M629.2,477.7l3-1.3" class="m"/>
<path d="M623.8,483.2l3.1-1.3 3.5,.1 5.3-5.6-3.5,0-3,1.3Z" fill="#00b000"/>
<path d="M629.2,477.7l3-1.3 3.5,0" class="m"/>
<path d="M626.9,481.9l3.5,.1 3.8,.7 3.9,1.1 5.3-5.6-4-1.1-3.7-.7-3.5,0Z" fill="#00d200"/>
<path d="M632.2,476.4l3.5,0 3.7,.7 4,1.1" class="m"/>
<path d="M634.2,482.7l3.9,1.1 2.4,.8 4.8-5.8-1.9-.6-4-1.1Z" fill="#00e800"/>
<path d="M639.4,477.1l4,1.1 1.9,.6" class="m"/>
<path d="M620.4,517.9l.5-8.2 .2-1.5 .8-9.4 .8-6.1 .4-2.9 1.8-1.8-.5,2.9-.8,6-.8,9.4-.2,1.5-.5,8.2Z" fill="#00ad00"/>
<path d="M622.1,516l.5-8.2 .2-1.5 .8-9.4 .8-6 .5-2.9" class="m"/>
<path d="M622.7,492.7l.4-2.9 1.5-5.8 .2-.5 1.8-1.9-.2,.6-1.5,5.8-.5,2.9Z" fill="#009700"/>
<path d="M624.4,490.9l.5-2.9 1.5-5.8 .2-.6" class="m"/>
<path d="M624.6,484l.2-.5 2.6-4 1.8-1.8-2.6,3.9-.2,.6Z" fill="#007600"/>
<path d="M626.4,482.2l.2-.6 2.6-3.9" class="m"/>
<path d="M618.7,519.9l.5-8.3 .1-1.5 .9-9.5 .7-6 .5-2.9 2.4-2.5-.5,2.9-.8,6-.8,9.5-.2,1.4-.5,8.3Z" fill="#00ad00"/>
<path d="M620.9,494.6l.5-2.9 1.4-5.8 .2-.6 2.4-2.5-.2,.6-1.4,5.8-.5,2.9Z" fill="#009700"/>
<path d="M622.8,485.9l.2-.6 2.6-4 2.4-2.4-2.6,3.9-.2,.6Z" fill="#007600"/>
<path d="M616.9,521.8l.6-8.3 .1-1.4 .8-9.6 2.4-2.5-.9,9.5-.1,1.4-.5,8.3Z" fill="#00b000"/>
<path d="M617.6,512.1l.8-9.6 .7-6 .5-2.9 1.4-5.9 .2-.5 2.4-2.5-.2,.5-1.4,5.8-.5,3-.7,6-.9,9.5Z" fill="#855000"/>
<path d="M621,487.7l.2-.5 2.6-4 2.4-2.5-2.6,4-.2,.5Z" fill="#783b00"/>
<path d="M520,455.4l1.9,2.1 2.5,5.2 6.6-4.6-2.4-5.2-2.3-2.4Z" fill="#fa00ee"/>
<path d="M526.3,450.5l2.3,2.4 2.4,5.2" class="m"/>
<path d="M521.9,457.5l2.5,5.2 .2,.6 6.7-4.6-.3-.6-2.4-5.2Z" fill="#ce00f0"/>
<path d="M528.6,452.9l2.4,5.2 .3,.6" class="m"/>
<path d="M524.4,462.7l.2,.6 1.7,6.3 6.6-4.7-1.6-6.2-.3-.6Z" fill="#b900ec"/>
<path d="M531,458.1l.3,.6 1.6,6.2" class="m"/>
<path d="M524.6,463.3l1.7,6.3 .7,3 1.1,6.2 1.5,9.4 6.3-4.8-1.4-9.4-1-6.1-.6-3-1.6-6.2Z" fill="#a000e5"/>
<path d="M531.3,458.7l1.6,6.2 .6,3 1,6.1 1.4,9.4" class="m"/>
<path d="M528.1,478.8l1.5,9.4 .2,1.5 1.2,8.2 6.2-5-1.1-8.1-.2-1.4-1.4-9.4Z" fill="#9500e1"/>
<path d="M534.5,474l1.4,9.4 .2,1.4 1.1,8.1" class="m"/>
<path d="M535.2,499.4l-.6-8-.1-1.4-.6-9.2-.2-5.8 0-2.9 .4-5.6 .1-.6 6.6-4.7-.1,.5-.5,5.6 0,2.8 .1,5.8 .4,9.1 .1,1.4 .5,8Z" fill="#870000"/>
<path d="M541.3,494.4l-.5-8-.1-1.4-.4-9.1-.1-5.8 0-2.8 .5-5.6 .1-.5" class="m"/>
<path d="M534.1,466.5l.1-.6 1.6-3.9 6.6-4.7-1.6,3.9-.1,.5Z" fill="#780000"/>
<path d="M540.7,461.7l.1-.5 1.6-3.9" class="m"/>
<path d="M535.8,462l2.3-1.3 6.6-4.7-2.3,1.3Z" fill="#f00"/>
<path d="M542.4,457.3l2.3-1.3" class="m"/>
<path d="M535.8,462l2.3-1.3 2.8,0 6.6-4.8-2.8,.1-2.3,1.3Z" fill="#ff005d"/>
<path d="M542.4,457.3l2.3-1.3 2.8-.1" class="m"/>
<path d="M538.1,460.7l2.8,0 3.1,.6 6.5-4.8-3-.6-2.8,.1Z" fill="#ff007b"/>
<path d="M544.7,456l2.8-.1 3,.6" class="m"/>
<path d="M540.9,460.7l3.1,.6 3.3,.9 3.4,1.2 3.2,1.5 6.4-4.9-3.2-1.5-3.3-1.1-3.3-.9-3-.6Z" fill="#f00"/>
<path d="M547.5,455.9l3,.6 3.3,.9 3.3,1.1 3.2,1.5" class="m"/>
<path d="M550.7,463.4l3.2,1.5 3.1,2 6.4-5-3.1-1.9-3.2-1.5Z" fill="#ff00c2"/>
<path d="M557.1,458.5l3.2,1.5 3.1,1.9" class="m"/>
<path d="M553.9,464.9l3.1,2 2.8,2.9 2.4,5.4 6.3-5.1-2.4-5.2-2.7-3-3.1-1.9Z" fill="#fa00ee"/>
<path d="M560.3,460l3.1,1.9 2.7,3 2.4,5.2" class="m"/>
<path d="M559.8,469.8l2.4,5.4 .2,.7 6.3-5.1-.2-.7-2.4-5.2Z" fill="#ce0000"/>
<path d="M566.1,464.9l2.4,5.2 .2,.7" class="m"/>
<path d="M562.2,475.2l.2,.7 1.5,6.5 6.1-5.2-1.3-6.4-.2-.7Z" fill="#b90000"/>
<path d="M568.5,470.1l.2,.7 1.3,6.4" class="m"/>
<path d="M562.4,475.9l1.5,6.5 .5,3.1 .8,6.2 1,9.8 6-5.4-.9-9.6-.8-6.2-.5-3.1-1.3-6.4Z" fill="#a00000"/>
<path d="M568.7,470.8l1.3,6.4 .5,3.1 .8,6.2 .9,9.6" class="m"/>
<path d="M565.2,491.7l1,9.8 .2,1.4 .7,8.4 5.9-5.4-.7-8.3-.1-1.5-.9-9.6Z" fill="#950000"/>
<path d="M571.3,486.5l.9,9.6 .1,1.5 .7,8.3" class="m"/>
<path d="M571.7,513l-.1-8.2-.1-1.4 .1-9.4 .2-6 .2-2.9 6.1-5.2-.3,2.8-.2,5.9-.2,9.4 0,1.4 .1,8.1Z" fill="#8900d9"/>
<path d="M577.5,507.5l-.1-8.1 0-1.4 .2-9.4 .2-5.9 .3-2.8" class="m"/>
<path d="M571.8,488l.2-2.9 .8-5.8 .2-.5 6.1-5.2-.1,.5-.9,5.8-.3,2.8Z" fill="#8200c7"/>
<path d="M577.8,482.7l.3-2.8 .9-5.8 .1-.5" class="m"/>
<path d="M572.8,479.3l.2-.5 2-4 6.2-5.2-2.1,4-.1,.5Z" fill="#780000"/>
<path d="M579,474.1l.1-.5 2.1-4" class="m"/>
<path d="M575,474.8l2.7-1.3 3.1,.1 3.5,.6 3.6,1 6.1-5.2-3.6-1-3.5-.7-3.1,.1-2.6,1.2Z" fill="#f00"/>
<path d="M581.2,469.6l2.6-1.2 3.1-.1 3.5,.7 3.6,1" class="m"/>
<path d="M584.3,474.2l3.6,1 3.7,1.4 6-5.4-3.6-1.2-3.6-1Z" fill="#ff0098"/>
<path d="M590.4,469l3.6,1 3.6,1.2" class="m"/>
<path d="M587.9,475.2l3.7,1.4 3.5,1.6 6-5.4-3.5-1.6-3.6-1.2Z" fill="#ff00a8"/>
<path d="M594,470l3.6,1.2 3.5,1.6" class="m"/>
<path d="M591.6,476.6l3.5,1.6 3.3,2.1 5.9-5.5-3.2-2-3.5-1.6Z" fill="#f00"/>
<path d="M597.6,471.2l3.5,1.6 3.2,2" class="m"/>
<path d="M599.1,474.6l3.3,2 2.9,3.1 2.3,5.5 1.9-1.8-2.3-5.5-2.9-3.1-3.2-2Z" fill="#fa0000"/>
<path d="M601.1,472.8l3.2,2 2.9,3.1 2.3,5.5" class="m"/>
<path d="M605.3,479.7l2.3,5.5 .2,.7 1.8-1.8-.1-.7-2.3-5.5Z" fill="#ce0000"/>
<path d="M607.2,477.9l2.3,5.5 .1,.7" class="m"/>
<path d="M607.6,485.2l.2,.7 1.1,6.6 1.8-1.8-1.1-6.6-.1-.7Z" fill="#b90000"/>
<path d="M609.5,483.4l.1,.7 1.1,6.6" class="m"/>
<path d="M607.8,485.9l1.1,6.6 .3,3.2 .4,6.4 .4,9.9 1.8-2-.3-9.8-.4-6.4-.4-3.1-1.1-6.6Z" fill="#a00000"/>
<path d="M609.6,484.1l1.1,6.6 .4,3.1 .4,6.4 .3,9.8" class="m"/>
<path d="M609.6,502.1l.4,9.9 0,1.5 .2,8.5 1.8-2-.2-8.5 0-1.5-.3-9.8Z" fill="#9500e1"/>
<path d="M611.5,500.2l.3,9.8 0,1.5 .2,8.5" class="m"/>
<path d="M597.2,476.3l3.2,2.1 2.9,3.1 2.4,5.6 2.6-2.5-2.4-5.5-2.8-3.1-3.3-2.1Z" fill="#fa0000"/>
<path d="M603.3,481.5l2.4,5.6 .1,.6 2.6-2.5-.1-.6-2.4-5.5Z" fill="#ce0000"/>
<path d="M605.7,487.1l.1,.6 1.2,6.7 2.5-2.5-1.1-6.7-.1-.6Z" fill="#b90000"/>
<path d="M605.8,487.7l1.2,6.7 .3,3.2 .5,6.4 .4,9.9 2.4-2.6-.3-9.9-.4-6.4-.4-3.1-1.1-6.7Z" fill="#a00000"/>
<path d="M607.8,504l.4,9.9 0,1.5 .2,8.6 2.4-2.7-.1-8.5-.1-1.5-.3-9.9Z" fill="#9500e1"/>
<path d="M595.1,478.2l3.3,2.1 2.9,3.1 2.4,5.5 2.6-2.5-2.3-5.5-2.9-3.1-3.3-2.1Z" fill="#fa0000"/>
<path d="M601.3,483.4l2.4,5.5 .2,.7 2.6-2.5-.2-.7-2.3-5.5Z" fill="#ce0000"/>
<path d="M603.7,488.9l.2,.7 1.2,6.7 2.6-2.5-1.2-6.7-.2-.7Z" fill="#b90000"/>
<path d="M603.9,489.6l1.2,6.7 .3,3.2 .5,6.5 .4,9.9 2.5-2.7-.4-9.9-.4-6.4-.3-3.1-1.2-6.7Z" fill="#a00000"/>
<path d="M605.9,506l.4,9.9 .1,1.5 .2,8.6 2.4-2.7-.1-8.6-.1-1.5-.4-9.9Z" fill="#9500e2"/>
<path d="M618.2,488.9l3.1-1.3 5.6-5.7-3.1,1.3Z" fill="#f00"/>
<path d="M623.8,483.2l3.1-1.3" class="m"/>
<path d="M618.2,488.9l3.1-1.3 3.5,.1 5.6-5.7-3.5-.1-3.1,1.3Z" fill="#ff005d"/>
<path d="M623.8,483.2l3.1-1.3 3.5,.1" class="m"/>
<path d="M621.3,487.6l3.5,.1 3.8,.8 5.6-5.8-3.8-.7-3.5-.1Z" fill="#ff007b"/>
<path d="M626.9,481.9l3.5,.1 3.8,.7" class="m"/>
<path d="M624.8,487.7l3.8,.8 4.1,1.1 2.8,1 5-6-2.4-.8-3.9-1.1-3.8-.7Z" fill="#ff0092"/>
<path d="M630.4,482l3.8,.7 3.9,1.1 2.4,.8" class="m"/>
<path d="M632.7,489.6l2.8,1 5-6-2.4-.8Z" fill="#ff00a8"/>
<path d="M638.1,483.8l2.4,.8" class="m"/>
<path d="M615.2,523.8l.5-8.3 .1-1.5 .8-9.5 .7-6.1 .4-2.9 1.9-1.9-.5,2.9-.7,6-.8,9.6-.1,1.4-.6,8.3Z" fill="#8900d9"/>
<path d="M616.9,521.8l.6-8.3 .1-1.4 .8-9.6 .7-6 .5-2.9" class="m"/>
<path d="M617.3,498.4l.4-2.9 1.4-5.9 .2-.6 1.9-1.8-.2,.5-1.4,5.9-.5,2.9Z" fill="#8200c7"/>
<path d="M619.1,496.5l.5-2.9 1.4-5.9 .2-.5" class="m"/>
<path d="M619.1,489.6l.2-.6 2.6-3.9 1.9-1.9-2.6,4-.2,.5Z" fill="#7800a9"/>
<path d="M621,487.7l.2-.5 2.6-4" class="m"/>
<path d="M613.4,525.8l.5-8.4 .1-1.4 .7-9.6 .7-6.1 .5-2.9 2.5-2.6-.5,2.9-.7,6.1-.8,9.5-.1,1.5-.5,8.3Z" fill="#8900d9"/>
<path d="M615.4,500.3l.5-2.9 1.4-5.9 .2-.6 2.5-2.5-.2,.5-1.4,5.9-.5,2.9Z" fill="#8200c7"/>
<path d="M617.3,491.5l.2-.6 2.6-3.9 2.5-2.6-2.6,4-.2,.5Z" fill="#7800a9"/>
<path d="M611.6,527.8l.4-8.4 .1-1.4 .8-9.6 .6-6.1 .5-3 2.5-2.6-.4,3-.7,6-.8,9.6-.1,1.4-.5,8.4Z" fill="#8900d9"/>
<path d="M613.5,502.3l.5-3 1.4-5.9 .2-.5 2.5-2.6-.2,.5-1.4,5.9-.4,3Z" fill="#8200c7"/>
<path d="M615.4,493.4l.2-.5 2.6-4 2.5-2.6-2.6,4-.2,.5Z" fill="#7800a9"/>
<path d="M513.4,460.5l1.5,1.7 2.6,5.3 6.9-4.8-2.5-5.2-1.9-2.1Z" fill="#00fa00"/>
<path d="M520,455.4l1.9,2.1 2.5,5.2" class="m"/>
<path d="M513.4,460.5l1.5,1.7 2.6,5.3" class="m"/>
<path d="M514.9,462.2l2.6,5.3 .3,.6 1.7,6.4 6.8-4.9-1.7-6.3-.2-.6-2.5-5.2Z" fill="#00d700"/>
<path d="M521.9,457.5l2.5,5.2 .2,.6 1.7,6.3" class="m"/>
<path d="M514.9,462.2l2.6,5.3 .3,.6 1.7,6.4" class="m"/>
<path d="M517.8,468.1l1.7,6.4 .7,3 1.2,6.2 1.7,9.6 .2,1.4 1.3,8.3 6.4-5.1-1.2-8.2-.2-1.5-1.5-9.4-1.1-6.2-.7-3-1.7-6.3Z" fill="#00bf00"/>
<path d="M524.6,463.3l1.7,6.3 .7,3 1.1,6.2 1.5,9.4 .2,1.5 1.2,8.2" class="m"/>
<path d="M517.8,468.1l1.7,6.4 .7,3 1.2,6.2 1.7,9.6 .2,1.4 1.3,8.3" class="m"/>
<path d="M528.8,504.6l-.7-8.1-.1-1.4-.7-9.3-.2-5.9-.1-2.8 .4-5.7 6.7-4.9-.4,5.6 0,2.9 .2,5.8 .6,9.2 .1,1.4 .6,8Z" fill="#850"/>
<path d="M535.2,499.4l-.6-8-.1-1.4-.6-9.2-.2-5.8 0-2.9 .4-5.6" class="m"/>
<path d="M528.8,504.6l-.7-8.1-.1-1.4-.7-9.3-.2-5.9-.1-2.8 .4-5.7" class="m"/>
<path d="M527,477.1l.4-5.7 0-.6 1.6-3.9 6.8-4.9-1.6,3.9-.1,.6-.4,5.6Z" fill="#7c4200"/>
<path d="M533.7,472.1l.4-5.6 .1-.6 1.6-3.9" class="m"/>
<path d="M527,477.1l.4-5.7 0-.6 1.6-3.9" class="m"/>
<path d="M529,466.9l2.3-1.3 6.8-4.9-2.3,1.3Z" fill="#ff3e00"/>
<path d="M535.8,462l2.3-1.3" class="m"/>
<path d="M529,466.9l2.3-1.3" class="m"/>
<path d="M529,466.9l2.3-1.3 2.8,0 6.8-4.9-2.8,0-2.3,1.3Z" fill="#00b000"/>
<path d="M535.8,462l2.3-1.3 2.8,0" class="m"/>
<path d="M529,466.9l2.3-1.3 2.8,0" class="m"/>
<path d="M531.3,465.6l2.8,0 3.1,.6 6.8-4.9-3.1-.6-2.8,0Z" fill="#0c0"/>
<path d="M538.1,460.7l2.8,0 3.1,.6" class="m"/>
<path d="M531.3,465.6l2.8,0 3.1,.6" class="m"/>
<path d="M534.1,465.6l3.1,.6 3.4,1 3.3,1.2 3.3,1.6 6.7-5.1-3.2-1.5-3.4-1.2-3.3-.9-3.1-.6Z" fill="#ff7200"/>
<path d="M540.9,460.7l3.1,.6 3.3,.9 3.4,1.2 3.2,1.5" class="m"/>
<path d="M534.1,465.6l3.1,.6 3.4,1 3.3,1.2 3.3,1.6" class="m"/>
<path d="M543.9,468.4l3.3,1.6 3.1,2 2.9,3 2.5,5.5 6.5-5.3-2.4-5.4-2.8-2.9-3.1-2-3.2-1.5Z" fill="#00fa00"/>
<path d="M550.7,463.4l3.2,1.5 3.1,2 2.8,2.9 2.4,5.4" class="m"/>
<path d="M543.9,468.4l3.3,1.6 3.1,2 2.9,3 2.5,5.5" class="m"/>
<path d="M553.2,475l2.5,5.5 .2,.6 6.5-5.2-.2-.7-2.4-5.4Z" fill="#ce6e00"/>
<path d="M559.8,469.8l2.4,5.4 .2,.7" class="m"/>
<path d="M553.2,475l2.5,5.5 .2,.6" class="m"/>
<path d="M555.7,480.5l.2,.6 1.6,6.6 6.4-5.3-1.5-6.5-.2-.7Z" fill="#b96800"/>
<path d="M562.2,475.2l.2,.7 1.5,6.5" class="m"/>
<path d="M555.7,480.5l.2,.6 1.6,6.6" class="m"/>
<path d="M555.9,481.1l1.6,6.6 .5,3.1 .9,6.4 1.2,9.8 6.1-5.5-1-9.8-.8-6.2-.5-3.1-1.5-6.5Z" fill="#a16100"/>
<path d="M562.4,475.9l1.5,6.5 .5,3.1 .8,6.2 1,9.8" class="m"/>
<path d="M555.9,481.1l1.6,6.6 .5,3.1 .9,6.4 1.2,9.8" class="m"/>
<path d="M558.9,497.2l1.2,9.8 .1,1.4 .8,8.5 6.1-5.6-.7-8.4-.2-1.4-1-9.8Z" fill="#955e00"/>
<path d="M565.2,491.7l1,9.8 .2,1.4 .7,8.4" class="m"/>
<path d="M558.9,497.2l1.2,9.8 .1,1.4 .8,8.5" class="m"/>
<path d="M565.7,518.7l-.3-8.3 0-1.4-.1-9.5 .2-6 .2-3 6.3-5.4-.2,2.9-.2,6-.1,9.4 .1,1.4 .1,8.2Z" fill="#00ae00"/>
<path d="M571.7,513l-.1-8.2-.1-1.4 .1-9.4 .2-6 .2-2.9" class="m"/>
<path d="M565.7,518.7l-.3-8.3 0-1.4-.1-9.5 .2-6 .2-3" class="m"/>
<path d="M565.5,493.5l.2-3 .8-5.8 .1-.5 6.4-5.4-.2,.5-.8,5.8-.2,2.9Z" fill="#009800"/>
<path d="M571.8,488l.2-2.9 .8-5.8 .2-.5" class="m"/>
<path d="M565.5,493.5l.2-3 .8-5.8 .1-.5" class="m"/>
<path d="M566.5,484.7l.1-.5 2-4 6.4-5.4-2,4-.2,.5Z" fill="#783b00"/>
<path d="M572.8,479.3l.2-.5 2-4" class="m"/>
<path d="M566.5,484.7l.1-.5 2-4" class="m"/>
<path d="M568.6,480.2l2.7-1.3 6.4-5.4-2.7,1.3Z" fill="#ff3e00"/>
<path d="M575,474.8l2.7-1.3" class="m"/>
<path d="M568.6,480.2l2.7-1.3" class="m"/>
<path d="M568.6,480.2l2.7-1.3 3.1,.1 3.5,.7 6.4-5.5-3.5-.6-3.1-.1-2.7,1.3Z" fill="#ff5f00"/>
<path d="M575,474.8l2.7-1.3 3.1,.1 3.5,.6" class="m"/>
<path d="M568.6,480.2l2.7-1.3 3.1,.1 3.5,.7" class="m"/>
<path d="M574.4,479l3.5,.7 3.7,1 6.3-5.5-3.6-1-3.5-.6Z" fill="#ff6d00"/>
<path d="M580.8,473.6l3.5,.6 3.6,1" class="m"/>
<path d="M574.4,479l3.5,.7 3.7,1" class="m"/>
<path d="M577.9,479.7l3.7,1 3.7,1.4 3.6,1.7 6.2-5.6-3.5-1.6-3.7-1.4-3.6-1Z" fill="#00e800"/>
<path d="M584.3,474.2l3.6,1 3.7,1.4 3.5,1.6" class="m"/>
<path d="M577.9,479.7l3.7,1 3.7,1.4 3.6,1.7" class="m"/>
<path d="M585.3,482.1l3.6,1.7 3.4,2.1 6.1-5.6-3.3-2.1-3.5-1.6Z" fill="#ff7f00"/>
<path d="M591.6,476.6l3.5,1.6 3.3,2.1" class="m"/>
<path d="M585.3,482.1l3.6,1.7 3.4,2.1" class="m"/>
<path d="M593.1,480l3.3,2.1 2.9,3.2 2.4,5.6 2-2-2.4-5.5-2.9-3.1-3.3-2.1Z" fill="#fa7e00"/>
<path d="M595.1,478.2l3.3,2.1 2.9,3.1 2.4,5.5" class="m"/>
<path d="M599.3,485.3l2.4,5.6 .2,.6 2-1.9-.2-.7-2.4-5.5Z" fill="#ce6e00"/>
<path d="M601.3,483.4l2.4,5.5 .2,.7" class="m"/>
<path d="M601.7,490.9l.2,.6 1.2,6.8 2-2-1.2-6.7-.2-.7Z" fill="#b96800"/>
<path d="M603.7,488.9l.2,.7 1.2,6.7" class="m"/>
<path d="M601.9,491.5l1.2,6.8 .4,3.1 .5,6.5 .4,10 1.9-2-.4-9.9-.5-6.5-.3-3.2-1.2-6.7Z" fill="#a16100"/>
<path d="M603.9,489.6l1.2,6.7 .3,3.2 .5,6.5 .4,9.9" class="m"/>
<path d="M604,507.9l.4,10 .1,1.5 .2,8.6 1.9-2-.2-8.6-.1-1.5-.4-9.9Z" fill="#0b0"/>
<path d="M605.9,506l.4,9.9 .1,1.5 .2,8.6" class="m"/>
<path d="M591,481.9l3.4,2.1 2.9,3.2 2.4,5.6 2.7-2.6-2.3-5.6-3-3.1-3.3-2.1Z" fill="#fa7e00"/>
<path d="M597.3,487.2l2.4,5.6 .2,.7 2.7-2.6-.2-.7-2.3-5.6Z" fill="#ce6e00"/>
<path d="M599.7,492.8l.2,.7 1.2,6.7 2.7-2.6-1.2-6.7-.2-.7Z" fill="#b96800"/>
<path d="M599.9,493.5l1.2,6.7 .4,3.2 .5,6.5 2.6-2.7-.5-6.4-.3-3.2-1.2-6.7Z" fill="#a46200"/>
<path d="M601.5,503.4l.5,6.5 .5,10 .1,1.5 .2,8.6 2.6-2.7-.3-8.6 0-1.5-.5-10-.5-6.4Z" fill="#00bc00"/>
<path d="M588.9,483.8l3.4,2.1 3,3.2 2.4,5.6 2.7-2.6-2.4-5.6-2.9-3.2-3.3-2.1Z" fill="#fa7e00"/>
<path d="M588.9,483.8l3.4,2.1 3,3.2 2.4,5.6" class="m"/>
<path d="M595.3,489.1l2.4,5.6 .2,.7 2.7-2.6-.2-.7-2.4-5.6Z" fill="#ce6e00"/>
<path d="M595.3,489.1l2.4,5.6 .2,.7" class="m"/>
<path d="M597.7,494.7l.2,.7 1.2,6.8 2.7-2.7-1.2-6.7-.2-.7Z" fill="#b96800"/>
<path d="M597.7,494.7l.2,.7 1.2,6.8" class="m"/>
<path d="M597.9,495.4l1.2,6.8 .4,3.2 .6,6.5 .5,10.1 2.6-2.8-.5-10-.5-6.5-.4-3.2-1.2-6.7Z" fill="#a16100"/>
<path d="M597.9,495.4l1.2,6.8 .4,3.2 .6,6.5 .5,10.1" class="m"/>
<path d="M600.1,511.9l.5,10.1 .1,1.5 .2,8.6 2.6-2.8-.2-8.6-.1-1.5-.5-10Z" fill="#0b0"/>
<path d="M600.1,511.9l.5,10.1 .1,1.5 .2,8.6" class="m"/>
<path d="M612.3,494.8l3.1-1.2 5.9-6-3.1,1.3Z" fill="#ff3e00"/>
<path d="M618.2,488.9l3.1-1.3" class="m"/>
<path d="M612.3,494.8l3.1-1.2" class="m"/>
<path d="M612.3,494.8l3.1-1.2 3.6,.1 5.8-6-3.5-.1-3.1,1.3Z" fill="#00b000"/>
<path d="M618.2,488.9l3.1-1.3 3.5,.1" class="m"/>
<path d="M612.3,494.8l3.1-1.2 3.6,.1" class="m"/>
<path d="M615.4,493.6l3.6,.1 3.9,.8 4.1,1.2 5.7-6.1-4.1-1.1-3.8-.8-3.5-.1Z" fill="#00d200"/>
<path d="M621.3,487.6l3.5,.1 3.8,.8 4.1,1.1" class="m"/>
<path d="M615.4,493.6l3.6,.1 3.9,.8 4.1,1.2" class="m"/>
<path d="M622.9,494.5l4.1,1.2 3.3,1.2 5.2-6.3-2.8-1-4.1-1.1Z" fill="#00e800"/>
<path d="M628.6,488.5l4.1,1.1 2.8,1" class="m"/>
<path d="M622.9,494.5l4.1,1.2 3.3,1.2" class="m"/>
<path d="M609.7,529.9l.5-8.4 1.8-2.1-.4,8.4Z" fill="#00b100"/>
<path d="M611.6,527.8l.4-8.4" class="m"/>
<path d="M609.7,529.9l.5-8.4 .1-1.5 .7-9.6 .6-6.1 .5-3 1.3-5.9 2-2-1.4,5.9-.5,3-.6,6.1-.8,9.6-.1,1.4-.4,8.4Z" fill="#850"/>
<path d="M611.6,527.8l.4-8.4 .1-1.4 .8-9.6 .6-6.1 .5-3 1.4-5.9" class="m"/>
<path d="M612.1,501.3l1.3-5.9 .2-.6 2.6-4 2-1.9-2.6,4-.2,.5-1.4,5.9Z" fill="#7c4200"/>
<path d="M614,499.3l1.4-5.9 .2-.5 2.6-4" class="m"/>
<path d="M607.9,532l.4-8.5 .1-1.4 .7-9.7 .6-6.1 .4-3 2.6-2.7-.4,3-.7,6.1-.7,9.6-.1,1.5-.4,8.4Z" fill="#00ae00"/>
<path d="M609.7,506.3l.4-3 1.4-5.9 .2-.6 2.6-2.7-.2,.6-1.4,5.9-.4,3Z" fill="#009800"/>
<path d="M611.5,497.4l.2-.6 2.6-4 2.6-2.7-2.6,4-.2,.6Z" fill="#007600"/>
<path d="M606,534.1l.4-8.5 .1-1.5 .6-9.6 .7-6.2 .4-3 2.6-2.7-.4,3-.7,6.1-.7,9.6 0,1.5-.5,8.4Z" fill="#00ae00"/>
<path d="M606,534.1l.4-8.5 .1-1.5 .6-9.6 .7-6.2 .4-3" class="m"/>
<path d="M607.8,508.3l.4-3 1.3-5.9 .2-.6 2.7-2.7-.2,.6-1.4,5.9-.4,3Z" fill="#009800"/>
<path d="M607.8,508.3l.4-3 1.3-5.9 .2-.6" class="m"/>
<path d="M609.5,499.4l.2-.6 2.6-4 2.7-2.7-2.6,4-.2,.6Z" fill="#007600"/>
<path d="M609.5,499.4l.2-.6 2.6-4" class="m"/>
</g>
<path d="M514.06,502.71L507.41,456 M507.41,456L579.35,405.66 M579.35,405.66L684.47,431.34 M684.47,431.34L630.29,496.54 M630.29,496.54L507.41,456 M630.29,496.54L627.85,546.59" fill="none" stroke="#8a8a8a" stroke-width="0.5"/>
<path d="M519.28,504.73L522.28,502.16 M524.09,506.59L525.69,505.19 M528.96,508.46L530.55,507.05 M533.89,510.36L535.46,508.94 M538.88,512.29L540.44,510.84 M543.93,514.23L546.81,511.5 M549.04,516.2L550.57,514.73 M554.22,518.2L555.73,516.7 M559.46,520.22L560.96,518.7 M564.76,522.27L566.25,520.73 M570.14,524.34L572.87,521.43 M575.58,526.44L577.03,524.86 M581.09,528.56L582.52,526.97 M586.67,530.71L588.08,529.1 M592.32,532.89L593.72,531.26 M598.05,535.1L600.62,532.01 M603.85,537.34L605.21,535.66 M609.73,539.6L611.07,537.9 M615.69,541.9L617.01,540.18 M621.73,544.23L623.02,542.48 M627.85,546.59L630.22,543.28 M507.41,456L510.96,457.17 M511.81,452.92L513.57,453.49 M516.11,449.91L517.86,450.47 M520.31,446.97L522.05,447.52 M524.42,444.1L526.14,444.63 M528.43,441.29L531.86,442.34 M532.35,438.55L534.05,439.06 M536.19,435.86L537.88,436.36 M539.94,433.24L541.62,433.72 M543.61,430.67L545.28,431.14 M547.21,428.15L550.53,429.09 M550.73,425.69L552.38,426.15 M554.17,423.28L555.81,423.73 M557.55,420.92L559.17,421.36 M560.85,418.61L562.47,419.04 M564.09,416.34L567.31,417.18 M567.27,414.12L568.86,414.53 M570.38,411.94L571.96,412.35 M573.43,409.81L575,410.2 M576.42,407.72L577.98,408.1 M579.35,405.66L582.47,406.43 M507.41,456L510.96,457.17 M507.99,460.06L509.75,460.65 M508.56,464.08L510.31,464.67 M509.12,468.04L510.86,468.64 M509.68,471.96L511.41,472.57 M510.23,475.83L513.68,477.05 M510.78,479.65L512.49,480.27 M511.31,483.43L513.02,484.05 M511.84,487.16L513.54,487.78 M512.37,490.85L514.05,491.48 M512.89,494.49L516.25,495.76 M513.4,498.1L515.07,498.73 M513.91,501.65L515.56,502.29" fill="none" stroke="#777" stroke-width="0.4"/>
<g font-family="'DejaVu Sans',sans-serif" fill="#000" stroke="#000" stroke-width="0.25">
<text x="517.7" y="515.05" font-size="6.7" text-anchor="middle">- 10</text>
<text x="541.1" y="524.85" font-size="6.7" text-anchor="middle">- 5</text>
<text x="566.8" y="534.45" font-size="6.7" text-anchor="middle">0</text>
<text x="596.4" y="545.85" font-size="6.7" text-anchor="middle">5</text>
<text x="626.3" y="557.05" font-size="6.7" text-anchor="middle">10</text>
<text x="508.8" y="449.95" font-size="6.7" text-anchor="middle">0.0</text>
<text x="528.4" y="435.85" font-size="6.7" text-anchor="middle">0.5</text>
<text x="547.3" y="423.65" font-size="6.7" text-anchor="middle">1.0</text>
<text x="564" y="412.05" font-size="6.7" text-anchor="middle">1.5</text>
<text x="578.5" y="401.25" font-size="6.7" text-anchor="middle">2.0</text>
<text x="568.2" y="544.25" font-size="6.7" text-anchor="middle">x</text>
<text x="545.2" y="413.85" font-size="6.7" text-anchor="middle">t</text>
<text x="472.5" y="477.1" font-size="6.6" textLength="27" lengthAdjust="spacingAndGlyphs"><tspan font-style="italic">w</tspan><tspan font-size="4.8" dy="1.3">61</tspan><tspan dy="-1.3" font-weight="normal">(</tspan>x,t<tspan font-weight="normal">)</tspan></text>
<text x="503.9" y="457.65" font-size="6.7" text-anchor="middle">0</text>
<text x="507.7" y="476.95" font-size="6.7" text-anchor="end">- 50</text>
<text x="509.5" y="494.65" font-size="6.7" text-anchor="end">- 100</text>
</g>
<path d="M49.6 15.6H210.5 M130.05 8V133.2" stroke="#d4d4d4" stroke-width="0.8" fill="none"/>
<path d="M52.69,18.65 52.94,18.8 54.44,19.9 55.87,21.37 57.21,23.35 58.45,26.02 59.6,29.66 60.65,34.62 61.59,41.36 62.41,50.41 63.11,62.25 63.69,76.97 64.15,93.75 64.47,110.31 64.67,122.9 64.73,127.65 M70.82,127.65 70.89,122.9 71.09,110.31 71.41,93.75 71.87,76.97 72.45,62.25 73.15,50.41 73.97,41.36 74.91,34.62 75.95,29.66 77.1,26.02 78.35,23.35 79.69,21.37 81.11,19.9 82.61,18.8 84.18,17.98 85.81,17.36 87.49,16.9 89.21,16.56 90.96,16.33 92.74,16.18 94.53,16.11 96.33,16.11 98.12,16.18 99.9,16.33 101.66,16.56 103.38,16.9 105.06,17.36 106.69,17.98 108.25,18.8 109.75,19.9 111.18,21.37 112.51,23.35 113.76,26.02 114.91,29.66 115.96,34.62 116.89,41.36 117.72,50.41 118.42,62.25 119,76.97 119.45,93.75 119.78,110.31 119.98,122.9 120.04,127.65 M126.13,127.65 126.2,122.9 126.39,110.31 126.72,93.75 127.18,76.97 127.76,62.25 128.46,50.41 129.28,41.36 130.22,34.62 131.26,29.66 132.41,26.02 133.66,23.35 135,21.37 136.42,19.9 137.92,18.8 139.49,17.98 141.12,17.36 142.8,16.9 144.52,16.56 146.27,16.33 148.05,16.18 149.84,16.11 151.64,16.11 153.43,16.18 155.21,16.33 156.97,16.56 158.69,16.9 160.37,17.36 162,17.98 163.56,18.8 165.06,19.9 166.49,21.37 167.82,23.35 169.07,26.02 170.22,29.66 171.27,34.62 172.2,41.36 173.03,50.41 173.73,62.25 174.31,76.97 174.76,93.75 175.09,110.31 175.29,122.9 175.35,127.65 M181.44,127.65 181.51,122.9 181.7,110.31 182.03,93.75 182.49,76.97 183.07,62.25 183.77,50.41 184.59,41.36 185.53,34.62 186.57,29.66 187.72,26.02 188.97,23.35 190.31,21.37 191.73,19.9 193.23,18.8 194.8,17.98 196.43,17.36 198.11,16.9 199.83,16.56 201.58,16.33 203.36,16.18 205.15,16.11 206.95,16.11 207.41,16.12" stroke="#e4601a" stroke-width="1.4" fill="none" stroke-linejoin="round"/>
<rect x="49.6" y="8" width="160.9" height="125.2" fill="none" stroke="#a0a0a0" stroke-width="1.1"/>
<path d="M52.69 133.2v-2.6 M52.69 8v2.6 M60.43 133.2v-1.5 M60.43 8v1.5 M68.17 133.2v-1.5 M68.17 8v1.5 M75.9 133.2v-1.5 M75.9 8v1.5 M83.64 133.2v-1.5 M83.64 8v1.5 M91.37 133.2v-2.6 M91.37 8v2.6 M99.11 133.2v-1.5 M99.11 8v1.5 M106.84 133.2v-1.5 M106.84 8v1.5 M114.58 133.2v-1.5 M114.58 8v1.5 M122.31 133.2v-1.5 M122.31 8v1.5 M130.05 133.2v-2.6 M130.05 8v2.6 M137.79 133.2v-1.5 M137.79 8v1.5 M145.52 133.2v-1.5 M145.52 8v1.5 M153.26 133.2v-1.5 M153.26 8v1.5 M160.99 133.2v-1.5 M160.99 8v1.5 M168.73 133.2v-2.6 M168.73 8v2.6 M176.46 133.2v-1.5 M176.46 8v1.5 M184.2 133.2v-1.5 M184.2 8v1.5 M191.93 133.2v-1.5 M191.93 8v1.5 M199.67 133.2v-1.5 M199.67 8v1.5 M207.41 133.2v-2.6 M207.41 8v2.6 M49.6 11.45h1.5 M210.5 11.45h-1.5 M49.6 15.6h2.6 M210.5 15.6h-2.6 M49.6 19.75h1.5 M210.5 19.75h-1.5 M49.6 23.9h1.5 M210.5 23.9h-1.5 M49.6 28.05h1.5 M210.5 28.05h-1.5 M49.6 32.2h2.6 M210.5 32.2h-2.6 M49.6 36.35h1.5 M210.5 36.35h-1.5 M49.6 40.5h1.5 M210.5 40.5h-1.5 M49.6 44.65h1.5 M210.5 44.65h-1.5 M49.6 48.8h2.6 M210.5 48.8h-2.6 M49.6 52.95h1.5 M210.5 52.95h-1.5 M49.6 57.1h1.5 M210.5 57.1h-1.5 M49.6 61.25h1.5 M210.5 61.25h-1.5 M49.6 65.4h2.6 M210.5 65.4h-2.6 M49.6 69.55h1.5 M210.5 69.55h-1.5 M49.6 73.7h1.5 M210.5 73.7h-1.5 M49.6 77.85h1.5 M210.5 77.85h-1.5 M49.6 82h2.6 M210.5 82h-2.6 M49.6 86.15h1.5 M210.5 86.15h-1.5 M49.6 90.3h1.5 M210.5 90.3h-1.5 M49.6 94.45h1.5 M210.5 94.45h-1.5 M49.6 98.6h2.6 M210.5 98.6h-2.6 M49.6 102.75h1.5 M210.5 102.75h-1.5 M49.6 106.9h1.5 M210.5 106.9h-1.5 M49.6 111.05h1.5 M210.5 111.05h-1.5 M49.6 115.2h2.6 M210.5 115.2h-2.6 M49.6 119.35h1.5 M210.5 119.35h-1.5 M49.6 123.5h1.5 M210.5 123.5h-1.5 M49.6 127.65h1.5 M210.5 127.65h-1.5 M49.6 131.8h2.6 M210.5 131.8h-2.6" stroke="#858585" stroke-width="0.6" fill="none"/>
<text transform="translate(52.69 144.8) scale(0.82 1)" font-size="11" text-anchor="middle" fill="#151515" stroke="#151515" stroke-width="0.3">−10</text>
<text transform="translate(91.37 144.8) scale(0.82 1)" font-size="11" text-anchor="middle" fill="#151515" stroke="#151515" stroke-width="0.3">−5</text>
<text transform="translate(130.05 144.8) scale(0.82 1)" font-size="11" text-anchor="middle" fill="#151515" stroke="#151515" stroke-width="0.3">0</text>
<text transform="translate(168.73 144.8) scale(0.82 1)" font-size="11" text-anchor="middle" fill="#151515" stroke="#151515" stroke-width="0.3">5</text>
<text transform="translate(207.41 144.8) scale(0.82 1)" font-size="11" text-anchor="middle" fill="#151515" stroke="#151515" stroke-width="0.3">10</text>
<text transform="translate(47.3 18.64) scale(0.82 1)" font-size="11" text-anchor="end" fill="#151515" stroke="#151515" stroke-width="0.3">0</text>
<text transform="translate(47.3 35.24) scale(0.82 1)" font-size="11" text-anchor="end" fill="#151515" stroke="#151515" stroke-width="0.3">−20</text>
<text transform="translate(47.3 51.84) scale(0.82 1)" font-size="11" text-anchor="end" fill="#151515" stroke="#151515" stroke-width="0.3">−40</text>
<text transform="translate(47.3 68.44) scale(0.82 1)" font-size="11" text-anchor="end" fill="#151515" stroke="#151515" stroke-width="0.3">−60</text>
<text transform="translate(47.3 85.04) scale(0.82 1)" font-size="11" text-anchor="end" fill="#151515" stroke="#151515" stroke-width="0.3">−80</text>
<text transform="translate(47.3 101.64) scale(0.82 1)" font-size="11" text-anchor="end" fill="#151515" stroke="#151515" stroke-width="0.3">−100</text>
<text transform="translate(47.3 118.24) scale(0.82 1)" font-size="11" text-anchor="end" fill="#151515" stroke="#151515" stroke-width="0.3">−120</text>
<text transform="translate(47.3 134.84) scale(0.82 1)" font-size="11" text-anchor="end" fill="#151515" stroke="#151515" stroke-width="0.3">−140</text>
<path d="M268.2 7.2H435.6 M351.9 0.4V133.3" stroke="#d4d4d4" stroke-width="0.8" fill="none"/>
<path d="M271.42,12.44 272.16,13.28 273.55,15.37 274.85,18.2 276.05,22.04 277.14,27.29 278.11,34.44 278.97,44.06 279.7,56.66 280.31,72.36 280.78,90.31 281.12,108.05 281.32,121.56 281.39,126.66 M287.68,126.66 287.75,121.56 287.96,108.05 288.3,90.31 288.77,72.36 289.37,56.66 290.11,44.06 290.96,34.44 291.94,27.29 293.03,22.04 294.22,18.2 295.52,15.37 296.92,13.28 298.4,11.73 299.96,10.57 301.59,9.7 303.29,9.05 305.03,8.56 306.83,8.21 308.65,7.96 310.51,7.81 312.37,7.73 314.25,7.73 316.11,7.81 317.96,7.96 319.79,8.21 321.58,8.56 323.33,9.05 325.03,9.7 326.66,10.57 328.22,11.73 329.7,13.28 331.1,15.37 332.4,18.2 333.59,22.04 334.68,27.29 335.66,34.44 336.51,44.06 337.25,56.66 337.85,72.36 338.32,90.31 338.66,108.05 338.87,121.56 338.94,126.66 M345.23,126.66 345.29,121.56 345.5,108.05 345.84,90.31 346.31,72.36 346.92,56.66 347.65,44.06 348.5,34.44 349.48,27.29 350.57,22.04 351.77,18.2 353.07,15.37 354.46,13.28 355.94,11.73 357.5,10.57 359.14,9.7 360.83,9.05 362.58,8.56 364.37,8.21 366.2,7.96 368.05,7.81 369.92,7.73 371.79,7.73 373.66,7.81 375.51,7.96 377.34,8.21 379.13,8.56 380.88,9.05 382.57,9.7 384.2,10.57 385.76,11.73 387.25,13.28 388.64,15.37 389.94,18.2 391.14,22.04 392.23,27.29 393.2,34.44 394.06,44.06 394.79,56.66 395.39,72.36 395.87,90.31 396.21,108.05 396.41,121.56 396.48,126.66 M402.77,126.66 402.84,121.56 403.04,108.05 403.38,90.31 403.86,72.36 404.46,56.66 405.19,44.06 406.05,34.44 407.02,27.29 408.11,22.04 409.31,18.2 410.61,15.37 412,13.28 413.49,11.73 415.05,10.57 416.68,9.7 418.37,9.05 420.12,8.56 421.91,8.21 423.74,7.96 425.59,7.81 427.46,7.73 429.33,7.73 431.2,7.81 432.38,7.9" stroke="#e4601a" stroke-width="1.4" fill="none" stroke-linejoin="round"/>
<rect x="268.2" y="0.4" width="167.4" height="132.9" fill="none" stroke="#a0a0a0" stroke-width="1.1"/>
<path d="M271.42 133.3v-2.6 M271.42 0.4v2.6 M279.47 133.3v-1.5 M279.47 0.4v1.5 M287.52 133.3v-1.5 M287.52 0.4v1.5 M295.56 133.3v-1.5 M295.56 0.4v1.5 M303.61 133.3v-1.5 M303.61 0.4v1.5 M311.66 133.3v-2.6 M311.66 0.4v2.6 M319.71 133.3v-1.5 M319.71 0.4v1.5 M327.76 133.3v-1.5 M327.76 0.4v1.5 M335.8 133.3v-1.5 M335.8 0.4v1.5 M343.85 133.3v-1.5 M343.85 0.4v1.5 M351.9 133.3v-2.6 M351.9 0.4v2.6 M359.95 133.3v-1.5 M359.95 0.4v1.5 M368 133.3v-1.5 M368 0.4v1.5 M376.04 133.3v-1.5 M376.04 0.4v1.5 M384.09 133.3v-1.5 M384.09 0.4v1.5 M392.14 133.3v-2.6 M392.14 0.4v2.6 M400.19 133.3v-1.5 M400.19 0.4v1.5 M408.24 133.3v-1.5 M408.24 0.4v1.5 M416.28 133.3v-1.5 M416.28 0.4v1.5 M424.33 133.3v-1.5 M424.33 0.4v1.5 M432.38 133.3v-2.6 M432.38 0.4v2.6 M268.2 2.84h1.5 M435.6 2.84h-1.5 M268.2 7.2h2.6 M435.6 7.2h-2.6 M268.2 11.56h1.5 M435.6 11.56h-1.5 M268.2 15.92h1.5 M435.6 15.92h-1.5 M268.2 20.28h1.5 M435.6 20.28h-1.5 M268.2 24.64h2.6 M435.6 24.64h-2.6 M268.2 29h1.5 M435.6 29h-1.5 M268.2 33.36h1.5 M435.6 33.36h-1.5 M268.2 37.72h1.5 M435.6 37.72h-1.5 M268.2 42.08h2.6 M435.6 42.08h-2.6 M268.2 46.44h1.5 M435.6 46.44h-1.5 M268.2 50.8h1.5 M435.6 50.8h-1.5 M268.2 55.16h1.5 M435.6 55.16h-1.5 M268.2 59.52h2.6 M435.6 59.52h-2.6 M268.2 63.88h1.5 M435.6 63.88h-1.5 M268.2 68.24h1.5 M435.6 68.24h-1.5 M268.2 72.6h1.5 M435.6 72.6h-1.5 M268.2 76.96h2.6 M435.6 76.96h-2.6 M268.2 81.32h1.5 M435.6 81.32h-1.5 M268.2 85.68h1.5 M435.6 85.68h-1.5 M268.2 90.04h1.5 M435.6 90.04h-1.5 M268.2 94.4h2.6 M435.6 94.4h-2.6 M268.2 98.76h1.5 M435.6 98.76h-1.5 M268.2 103.12h1.5 M435.6 103.12h-1.5 M268.2 107.48h1.5 M435.6 107.48h-1.5 M268.2 111.84h2.6 M435.6 111.84h-2.6 M268.2 116.2h1.5 M435.6 116.2h-1.5 M268.2 120.56h1.5 M435.6 120.56h-1.5 M268.2 124.92h1.5 M435.6 124.92h-1.5 M268.2 129.28h2.6 M435.6 129.28h-2.6" stroke="#858585" stroke-width="0.6" fill="none"/>
<text transform="translate(271.42 144.9) scale(0.82 1)" font-size="11" text-anchor="middle" fill="#151515" stroke="#151515" stroke-width="0.3">−10</text>
<text transform="translate(311.66 144.9) scale(0.82 1)" font-size="11" text-anchor="middle" fill="#151515" stroke="#151515" stroke-width="0.3">−5</text>
<text transform="translate(351.9 144.9) scale(0.82 1)" font-size="11" text-anchor="middle" fill="#151515" stroke="#151515" stroke-width="0.3">0</text>
<text transform="translate(392.14 144.9) scale(0.82 1)" font-size="11" text-anchor="middle" fill="#151515" stroke="#151515" stroke-width="0.3">5</text>
<text transform="translate(432.38 144.9) scale(0.82 1)" font-size="11" text-anchor="middle" fill="#151515" stroke="#151515" stroke-width="0.3">10</text>
<text transform="translate(265.9 10.24) scale(0.82 1)" font-size="11" text-anchor="end" fill="#151515" stroke="#151515" stroke-width="0.3">0</text>
<text transform="translate(265.9 27.68) scale(0.82 1)" font-size="11" text-anchor="end" fill="#151515" stroke="#151515" stroke-width="0.3">−20</text>
<text transform="translate(265.9 45.12) scale(0.82 1)" font-size="11" text-anchor="end" fill="#151515" stroke="#151515" stroke-width="0.3">−40</text>
<text transform="translate(265.9 62.56) scale(0.82 1)" font-size="11" text-anchor="end" fill="#151515" stroke="#151515" stroke-width="0.3">−60</text>
<text transform="translate(265.9 80) scale(0.82 1)" font-size="11" text-anchor="end" fill="#151515" stroke="#151515" stroke-width="0.3">−80</text>
<text transform="translate(265.9 97.44) scale(0.82 1)" font-size="11" text-anchor="end" fill="#151515" stroke="#151515" stroke-width="0.3">−100</text>
<text transform="translate(265.9 114.88) scale(0.82 1)" font-size="11" text-anchor="end" fill="#151515" stroke="#151515" stroke-width="0.3">−120</text>
<text transform="translate(265.9 132.32) scale(0.82 1)" font-size="11" text-anchor="end" fill="#151515" stroke="#151515" stroke-width="0.3">−140</text>
<path d="M492.8 15.6H655.1 M573.95 9.2V133.6" stroke="#d4d4d4" stroke-width="0.8" fill="none"/>
<path d="M495.92,20.17 497.02,21.33 498.38,23.3 499.64,25.96 500.8,29.57 501.85,34.51 502.8,41.24 503.63,50.28 504.34,62.12 504.92,76.86 505.38,93.71 505.71,110.35 505.91,123.01 505.98,127.8 M512.08,127.8 512.15,123.01 512.35,110.35 512.68,93.71 513.14,76.86 513.72,62.12 514.43,50.28 515.26,41.24 516.21,34.51 517.26,29.57 518.42,25.96 519.68,23.3 521.04,21.33 522.47,19.87 523.98,18.78 525.57,17.96 527.21,17.34 528.9,16.89 530.64,16.55 532.41,16.32 534.21,16.17 536.02,16.1 537.83,16.1 539.64,16.17 541.44,16.32 543.21,16.55 544.95,16.89 546.64,17.34 548.28,17.96 549.87,18.78 551.38,19.87 552.82,21.33 554.17,23.3 555.43,25.96 556.59,29.57 557.64,34.51 558.59,41.24 559.42,50.28 560.13,62.12 560.71,76.86 561.17,93.71 561.5,110.35 561.7,123.01 561.77,127.8 M567.87,127.8 567.94,123.01 568.14,110.35 568.47,93.71 568.93,76.86 569.51,62.12 570.22,50.28 571.05,41.24 572,34.51 573.05,29.57 574.21,25.96 575.47,23.3 576.83,21.33 578.26,19.87 579.78,18.78 581.36,17.96 583,17.34 584.7,16.89 586.43,16.55 588.2,16.32 590,16.17 591.81,16.1 593.62,16.1 595.43,16.17 597.23,16.32 599,16.55 600.74,16.89 602.43,17.34 604.07,17.96 605.66,18.78 607.17,19.87 608.61,21.33 609.96,23.3 611.22,25.96 612.38,29.57 613.43,34.51 614.38,41.24 615.21,50.28 615.92,62.12 616.5,76.86 616.96,93.71 617.29,110.35 617.49,123.01 617.56,127.8 M623.67,127.8 623.73,123.01 623.93,110.35 624.26,93.71 624.72,76.86 625.3,62.12 626.01,50.28 626.84,41.24 627.79,34.51 628.84,29.57 630.01,25.96 631.26,23.3 632.62,21.33 634.05,19.87 635.57,18.78 637.15,17.96 638.79,17.34 640.49,16.89 642.22,16.55 643.99,16.32 645.79,16.17 647.6,16.1 649.41,16.1 651.22,16.17 651.98,16.23" stroke="#e4601a" stroke-width="1.4" fill="none" stroke-linejoin="round"/>
<rect x="492.8" y="9.2" width="162.3" height="124.4" fill="none" stroke="#a0a0a0" stroke-width="1.1"/>
<path d="M495.92 133.6v-2.6 M495.92 9.2v2.6 M503.72 133.6v-1.5 M503.72 9.2v1.5 M511.53 133.6v-1.5 M511.53 9.2v1.5 M519.33 133.6v-1.5 M519.33 9.2v1.5 M527.13 133.6v-1.5 M527.13 9.2v1.5 M534.94 133.6v-2.6 M534.94 9.2v2.6 M542.74 133.6v-1.5 M542.74 9.2v1.5 M550.54 133.6v-1.5 M550.54 9.2v1.5 M558.34 133.6v-1.5 M558.34 9.2v1.5 M566.15 133.6v-1.5 M566.15 9.2v1.5 M573.95 133.6v-2.6 M573.95 9.2v2.6 M581.75 133.6v-1.5 M581.75 9.2v1.5 M589.56 133.6v-1.5 M589.56 9.2v1.5 M597.36 133.6v-1.5 M597.36 9.2v1.5 M605.16 133.6v-1.5 M605.16 9.2v1.5 M612.96 133.6v-2.6 M612.96 9.2v2.6 M620.77 133.6v-1.5 M620.77 9.2v1.5 M628.57 133.6v-1.5 M628.57 9.2v1.5 M636.37 133.6v-1.5 M636.37 9.2v1.5 M644.18 133.6v-1.5 M644.18 9.2v1.5 M651.98 133.6v-2.6 M651.98 9.2v2.6 M492.8 11.49h1.5 M655.1 11.49h-1.5 M492.8 15.6h2.6 M655.1 15.6h-2.6 M492.8 19.71h1.5 M655.1 19.71h-1.5 M492.8 23.82h1.5 M655.1 23.82h-1.5 M492.8 27.93h1.5 M655.1 27.93h-1.5 M492.8 32.04h2.6 M655.1 32.04h-2.6 M492.8 36.15h1.5 M655.1 36.15h-1.5 M492.8 40.26h1.5 M655.1 40.26h-1.5 M492.8 44.37h1.5 M655.1 44.37h-1.5 M492.8 48.48h2.6 M655.1 48.48h-2.6 M492.8 52.59h1.5 M655.1 52.59h-1.5 M492.8 56.7h1.5 M655.1 56.7h-1.5 M492.8 60.81h1.5 M655.1 60.81h-1.5 M492.8 64.92h2.6 M655.1 64.92h-2.6 M492.8 69.03h1.5 M655.1 69.03h-1.5 M492.8 73.14h1.5 M655.1 73.14h-1.5 M492.8 77.25h1.5 M655.1 77.25h-1.5 M492.8 81.36h2.6 M655.1 81.36h-2.6 M492.8 85.47h1.5 M655.1 85.47h-1.5 M492.8 89.58h1.5 M655.1 89.58h-1.5 M492.8 93.69h1.5 M655.1 93.69h-1.5 M492.8 97.8h2.6 M655.1 97.8h-2.6 M492.8 101.91h1.5 M655.1 101.91h-1.5 M492.8 106.02h1.5 M655.1 106.02h-1.5 M492.8 110.13h1.5 M655.1 110.13h-1.5 M492.8 114.24h2.6 M655.1 114.24h-2.6 M492.8 118.35h1.5 M655.1 118.35h-1.5 M492.8 122.46h1.5 M655.1 122.46h-1.5 M492.8 126.57h1.5 M655.1 126.57h-1.5 M492.8 130.68h2.6 M655.1 130.68h-2.6" stroke="#858585" stroke-width="0.6" fill="none"/>
<text transform="translate(495.92 145.2) scale(0.82 1)" font-size="11" text-anchor="middle" fill="#151515" stroke="#151515" stroke-width="0.3">−10</text>
<text transform="translate(534.94 145.2) scale(0.82 1)" font-size="11" text-anchor="middle" fill="#151515" stroke="#151515" stroke-width="0.3">−5</text>
<text transform="translate(573.95 145.2) scale(0.82 1)" font-size="11" text-anchor="middle" fill="#151515" stroke="#151515" stroke-width="0.3">0</text>
<text transform="translate(612.96 145.2) scale(0.82 1)" font-size="11" text-anchor="middle" fill="#151515" stroke="#151515" stroke-width="0.3">5</text>
<text transform="translate(651.98 145.2) scale(0.82 1)" font-size="11" text-anchor="middle" fill="#151515" stroke="#151515" stroke-width="0.3">10</text>
<text transform="translate(490.5 18.64) scale(0.82 1)" font-size="11" text-anchor="end" fill="#151515" stroke="#151515" stroke-width="0.3">0</text>
<text transform="translate(490.5 35.08) scale(0.82 1)" font-size="11" text-anchor="end" fill="#151515" stroke="#151515" stroke-width="0.3">−20</text>
<text transform="translate(490.5 51.52) scale(0.82 1)" font-size="11" text-anchor="end" fill="#151515" stroke="#151515" stroke-width="0.3">−40</text>
<text transform="translate(490.5 67.96) scale(0.82 1)" font-size="11" text-anchor="end" fill="#151515" stroke="#151515" stroke-width="0.3">−60</text>
<text transform="translate(490.5 84.4) scale(0.82 1)" font-size="11" text-anchor="end" fill="#151515" stroke="#151515" stroke-width="0.3">−80</text>
<text transform="translate(490.5 100.84) scale(0.82 1)" font-size="11" text-anchor="end" fill="#151515" stroke="#151515" stroke-width="0.3">−100</text>
<text transform="translate(490.5 117.28) scale(0.82 1)" font-size="11" text-anchor="end" fill="#151515" stroke="#151515" stroke-width="0.3">−120</text>
<text transform="translate(490.5 133.72) scale(0.82 1)" font-size="11" text-anchor="end" fill="#151515" stroke="#151515" stroke-width="0.3">−140</text>
<path d="M34.6 208.2H175.5 M105.05 201.7V331.2" stroke="#d4d4d4" stroke-width="0.8" fill="none"/>
<path d="M37.31,211.45 37.4,211.51 38.71,212.65 39.96,214.17 41.13,216.22 42.22,218.99 43.23,222.75 44.15,227.89 44.97,234.88 45.69,244.28 46.3,256.59 46.81,271.9 47.21,289.39 47.5,306.65 47.67,319.79 47.73,324.75 M53.04,324.75 53.1,319.79 53.27,306.65 53.56,289.39 53.95,271.9 54.46,256.59 55.08,244.28 55.8,234.88 56.62,227.89 57.54,222.75 58.54,218.99 59.64,216.22 60.81,214.17 62.06,212.65 63.37,211.51 64.74,210.66 66.17,210.02 67.64,209.54 69.15,209.19 70.68,208.95 72.24,208.8 73.81,208.72 75.39,208.72 76.96,208.8 78.52,208.95 80.05,209.19 81.56,209.54 83.03,210.02 84.46,210.66 85.83,211.51 87.15,212.65 88.39,214.17 89.57,216.22 90.66,218.99 91.67,222.75 92.58,227.89 93.4,234.88 94.12,244.28 94.74,256.59 95.25,271.9 95.65,289.39 95.93,306.65 96.1,319.79 96.16,324.75 M101.47,324.75 101.53,319.79 101.7,306.65 101.99,289.39 102.39,271.9 102.9,256.59 103.51,244.28 104.23,234.88 105.05,227.89 105.97,222.75 106.98,218.99 108.07,216.22 109.24,214.17 110.49,212.65 111.8,211.51 113.18,210.66 114.6,210.02 116.07,209.54 117.58,209.19 119.12,208.95 120.68,208.8 122.25,208.72 123.82,208.72 125.39,208.8 126.95,208.95 128.49,209.19 130,209.54 131.47,210.02 132.89,210.66 134.27,211.51 135.58,212.65 136.83,214.17 138,216.22 139.09,218.99 140.1,222.75 141.02,227.89 141.84,234.88 142.56,244.28 143.17,256.59 143.68,271.9 144.08,289.39 144.37,306.65 144.54,319.79 144.6,324.75 M149.91,324.75 149.97,319.79 150.14,306.65 150.42,289.39 150.82,271.9 151.33,256.59 151.95,244.28 152.67,234.88 153.49,227.89 154.4,222.75 155.41,218.99 156.5,216.22 157.68,214.17 158.92,212.65 160.24,211.51 161.61,210.66 163.04,210.02 164.51,209.54 166.02,209.19 167.55,208.95 169.11,208.8 170.68,208.72 172.26,208.72 172.79,208.74" stroke="#2b2b2b" stroke-width="1" fill="none" stroke-linejoin="round"/>
<path d="M37.31,210.59 37.45,210.66 38.82,211.51 40.13,212.65 41.38,214.17 42.55,216.22 43.65,218.99 44.65,222.75 45.57,227.89 46.39,234.88 47.11,244.28 47.73,256.59 48.24,271.9 48.63,289.39 48.92,306.65 49.09,319.79 49.15,324.75 M54.46,324.75 54.52,319.79 54.69,306.65 54.98,289.39 55.38,271.9 55.88,256.59 56.5,244.28 57.22,234.88 58.04,227.89 58.96,222.75 59.97,218.99 61.06,216.22 62.23,214.17 63.48,212.65 64.79,211.51 66.16,210.66 67.59,210.02 69.06,209.54 70.57,209.19 72.11,208.95 73.67,208.8 75.24,208.72 76.81,208.72 78.38,208.8 79.94,208.95 81.48,209.19 82.98,209.54 84.46,210.02 85.88,210.66 87.26,211.51 88.57,212.65 89.82,214.17 90.99,216.22 92.08,218.99 93.09,222.75 94.01,227.89 94.83,234.88 95.55,244.28 96.16,256.59 96.67,271.9 97.07,289.39 97.35,306.65 97.53,319.79 97.58,324.75 M102.9,324.75 102.95,319.79 103.13,306.65 103.41,289.39 103.81,271.9 104.32,256.59 104.94,244.28 105.66,234.88 106.48,227.89 107.39,222.75 108.4,218.99 109.49,216.22 110.67,214.17 111.91,212.65 113.23,211.51 114.6,210.66 116.03,210.02 117.5,209.54 119,209.19 120.54,208.95 122.1,208.8 123.67,208.72 125.25,208.72 126.82,208.8 128.37,208.95 129.91,209.19 131.42,209.54 132.89,210.02 134.32,210.66 135.69,211.51 137,212.65 138.25,214.17 139.42,216.22 140.52,218.99 141.52,222.75 142.44,227.89 143.26,234.88 143.98,244.28 144.6,256.59 145.1,271.9 145.5,289.39 145.79,306.65 145.96,319.79 146.02,324.75 M151.33,324.75 151.39,319.79 151.56,306.65 151.85,289.39 152.25,271.9 152.75,256.59 153.37,244.28 154.09,234.88 154.91,227.89 155.83,222.75 156.83,218.99 157.93,216.22 159.1,214.17 160.35,212.65 161.66,211.51 163.03,210.66 164.46,210.02 165.93,209.54 167.44,209.19 168.98,208.95 170.53,208.8 172.1,208.72 172.79,208.71" stroke="#2222ff" stroke-width="1" fill="none" stroke-linejoin="round"/>
<path d="M37.31,210.04 38.67,210.66 40.04,211.51 41.35,212.65 42.6,214.17 43.77,216.22 44.87,218.99 45.87,222.75 46.79,227.89 47.61,234.88 48.33,244.28 48.95,256.59 49.46,271.9 49.85,289.39 50.14,306.65 50.31,319.79 50.37,324.75 M55.68,324.75 55.74,319.79 55.91,306.65 56.2,289.39 56.6,271.9 57.1,256.59 57.72,244.28 58.44,234.88 59.26,227.89 60.18,222.75 61.18,218.99 62.28,216.22 63.45,214.17 64.7,212.65 66.01,211.51 67.38,210.66 68.81,210.02 70.28,209.54 71.79,209.19 73.33,208.95 74.88,208.8 76.46,208.72 78.03,208.72 79.6,208.8 81.16,208.95 82.7,209.19 84.2,209.54 85.68,210.02 87.1,210.66 88.47,211.51 89.79,212.65 91.03,214.17 92.21,216.22 93.3,218.99 94.31,222.75 95.22,227.89 96.04,234.88 96.76,244.28 97.38,256.59 97.89,271.9 98.29,289.39 98.57,306.65 98.75,319.79 98.8,324.75 M104.12,324.75 104.17,319.79 104.35,306.65 104.63,289.39 105.03,271.9 105.54,256.59 106.15,244.28 106.87,234.88 107.7,227.89 108.61,222.75 109.62,218.99 110.71,216.22 111.88,214.17 113.13,212.65 114.44,211.51 115.82,210.66 117.24,210.02 118.72,209.54 120.22,209.19 121.76,208.95 123.32,208.8 124.89,208.72 126.46,208.72 128.04,208.8 129.59,208.95 131.13,209.19 132.64,209.54 134.11,210.02 135.54,210.66 136.91,211.51 138.22,212.65 139.47,214.17 140.64,216.22 141.73,218.99 142.74,222.75 143.66,227.89 144.48,234.88 145.2,244.28 145.82,256.59 146.32,271.9 146.72,289.39 147.01,306.65 147.18,319.79 147.24,324.75 M152.55,324.75 152.61,319.79 152.78,306.65 153.07,289.39 153.46,271.9 153.97,256.59 154.59,244.28 155.31,234.88 156.13,227.89 157.05,222.75 158.05,218.99 159.15,216.22 160.32,214.17 161.57,212.65 162.88,211.51 164.25,210.66 165.68,210.02 167.15,209.54 168.66,209.19 170.2,208.95 171.75,208.8 172.79,208.74" stroke="#ff2020" stroke-width="1" fill="none" stroke-linejoin="round"/>
<rect x="34.6" y="201.7" width="140.9" height="129.5" fill="none" stroke="#a0a0a0" stroke-width="1.1"/>
<path d="M37.31 331.2v-2.6 M37.31 201.7v2.6 M44.08 331.2v-1.5 M44.08 201.7v1.5 M50.86 331.2v-1.5 M50.86 201.7v1.5 M57.63 331.2v-1.5 M57.63 201.7v1.5 M64.41 331.2v-1.5 M64.41 201.7v1.5 M71.18 331.2v-2.6 M71.18 201.7v2.6 M77.95 331.2v-1.5 M77.95 201.7v1.5 M84.73 331.2v-1.5 M84.73 201.7v1.5 M91.5 331.2v-1.5 M91.5 201.7v1.5 M98.28 331.2v-1.5 M98.28 201.7v1.5 M105.05 331.2v-2.6 M105.05 201.7v2.6 M111.82 331.2v-1.5 M111.82 201.7v1.5 M118.6 331.2v-1.5 M118.6 201.7v1.5 M125.37 331.2v-1.5 M125.37 201.7v1.5 M132.15 331.2v-1.5 M132.15 201.7v1.5 M138.92 331.2v-2.6 M138.92 201.7v2.6 M145.69 331.2v-1.5 M145.69 201.7v1.5 M152.47 331.2v-1.5 M152.47 201.7v1.5 M159.24 331.2v-1.5 M159.24 201.7v1.5 M166.02 331.2v-1.5 M166.02 201.7v1.5 M172.79 331.2v-2.6 M172.79 201.7v2.6 M34.6 203.91h1.5 M175.5 203.91h-1.5 M34.6 208.2h2.6 M175.5 208.2h-2.6 M34.6 212.48h1.5 M175.5 212.48h-1.5 M34.6 216.77h1.5 M175.5 216.77h-1.5 M34.6 221.05h1.5 M175.5 221.05h-1.5 M34.6 225.34h2.6 M175.5 225.34h-2.6 M34.6 229.62h1.5 M175.5 229.62h-1.5 M34.6 233.91h1.5 M175.5 233.91h-1.5 M34.6 238.19h1.5 M175.5 238.19h-1.5 M34.6 242.48h2.6 M175.5 242.48h-2.6 M34.6 246.76h1.5 M175.5 246.76h-1.5 M34.6 251.05h1.5 M175.5 251.05h-1.5 M34.6 255.33h1.5 M175.5 255.33h-1.5 M34.6 259.62h2.6 M175.5 259.62h-2.6 M34.6 263.9h1.5 M175.5 263.9h-1.5 M34.6 268.19h1.5 M175.5 268.19h-1.5 M34.6 272.48h1.5 M175.5 272.48h-1.5 M34.6 276.76h2.6 M175.5 276.76h-2.6 M34.6 281.04h1.5 M175.5 281.04h-1.5 M34.6 285.33h1.5 M175.5 285.33h-1.5 M34.6 289.62h1.5 M175.5 289.62h-1.5 M34.6 293.9h2.6 M175.5 293.9h-2.6 M34.6 298.19h1.5 M175.5 298.19h-1.5 M34.6 302.47h1.5 M175.5 302.47h-1.5 M34.6 306.75h1.5 M175.5 306.75h-1.5 M34.6 311.04h2.6 M175.5 311.04h-2.6 M34.6 315.32h1.5 M175.5 315.32h-1.5 M34.6 319.61h1.5 M175.5 319.61h-1.5 M34.6 323.89h1.5 M175.5 323.89h-1.5 M34.6 328.18h2.6 M175.5 328.18h-2.6" stroke="#858585" stroke-width="0.6" fill="none"/>
<text transform="translate(37.31 342.8) scale(0.68 1)" font-size="11" text-anchor="middle" fill="#151515" stroke="#151515" stroke-width="0.3">−10</text>
<text transform="translate(71.18 342.8) scale(0.68 1)" font-size="11" text-anchor="middle" fill="#151515" stroke="#151515" stroke-width="0.3">−5</text>
<text transform="translate(105.05 342.8) scale(0.68 1)" font-size="11" text-anchor="middle" fill="#151515" stroke="#151515" stroke-width="0.3">0</text>
<text transform="translate(138.92 342.8) scale(0.68 1)" font-size="11" text-anchor="middle" fill="#151515" stroke="#151515" stroke-width="0.3">5</text>
<text transform="translate(172.79 342.8) scale(0.68 1)" font-size="11" text-anchor="middle" fill="#151515" stroke="#151515" stroke-width="0.3">10</text>
<text transform="translate(32.3 211.24) scale(0.68 1)" font-size="11" text-anchor="end" fill="#151515" stroke="#151515" stroke-width="0.3">0</text>
<text transform="translate(32.3 228.38) scale(0.68 1)" font-size="11" text-anchor="end" fill="#151515" stroke="#151515" stroke-width="0.3">−20</text>
<text transform="translate(32.3 245.52) scale(0.68 1)" font-size="11" text-anchor="end" fill="#151515" stroke="#151515" stroke-width="0.3">−40</text>
<text transform="translate(32.3 262.66) scale(0.68 1)" font-size="11" text-anchor="end" fill="#151515" stroke="#151515" stroke-width="0.3">−60</text>
<text transform="translate(32.3 279.8) scale(0.68 1)" font-size="11" text-anchor="end" fill="#151515" stroke="#151515" stroke-width="0.3">−80</text>
<text transform="translate(32.3 296.94) scale(0.68 1)" font-size="11" text-anchor="end" fill="#151515" stroke="#151515" stroke-width="0.3">−100</text>
<text transform="translate(32.3 314.08) scale(0.68 1)" font-size="11" text-anchor="end" fill="#151515" stroke="#151515" stroke-width="0.3">−120</text>
<text transform="translate(32.3 331.22) scale(0.68 1)" font-size="11" text-anchor="end" fill="#151515" stroke="#151515" stroke-width="0.3">−140</text>
<path d="M183.6 254.9H191.7" stroke="#333" stroke-width="1.6"/>
<text transform="translate(196 258.34) scale(0.64 1)" font-size="11" text-anchor="start" fill="#151515" stroke="#151515" stroke-width="0.3">t=0</text>
<path d="M183.6 273.5H191.7" stroke="#2a2aff" stroke-width="1.6"/>
<text transform="translate(196 276.94) scale(0.64 1)" font-size="11" text-anchor="start" fill="#151515" stroke="#151515" stroke-width="0.3">t=1</text>
<path d="M183.6 291.9H191.7" stroke="#ff2a2a" stroke-width="1.6"/>
<text transform="translate(196 295.34) scale(0.64 1)" font-size="11" text-anchor="start" fill="#151515" stroke="#151515" stroke-width="0.3">t=2</text>
<path d="M259.2 209.2H407.8 M333.5 202.4V333.2" stroke="#d4d4d4" stroke-width="0.8" fill="none"/>
<path d="M262.06,214.18 262.92,215.24 264.15,217.31 265.31,220.11 266.37,223.92 267.34,229.11 268.2,236.17 268.96,245.66 269.61,258.07 270.15,273.51 270.57,291.13 270.87,308.52 271.05,321.73 271.11,326.73 M276.72,326.73 276.79,321.73 276.97,308.52 277.27,291.13 277.69,273.51 278.22,258.07 278.87,245.66 279.63,236.17 280.5,229.11 281.46,223.92 282.53,220.11 283.68,217.31 284.92,215.24 286.23,213.7 287.62,212.55 289.06,211.69 290.57,211.04 292.12,210.56 293.71,210.21 295.33,209.96 296.97,209.81 298.63,209.73 300.29,209.73 301.94,209.81 303.59,209.96 305.21,210.21 306.8,210.56 308.35,211.04 309.85,211.69 311.3,212.55 312.69,213.7 314,215.24 315.24,217.31 316.39,220.11 317.45,223.92 318.42,229.11 319.28,236.17 320.04,245.66 320.69,258.07 321.23,273.51 321.65,291.13 321.95,308.52 322.13,321.73 322.19,326.73 M327.81,326.73 327.87,321.73 328.05,308.52 328.35,291.13 328.77,273.51 329.31,258.07 329.96,245.66 330.71,236.17 331.58,229.11 332.55,223.92 333.61,220.11 334.76,217.31 336,215.24 337.31,213.7 338.7,212.55 340.14,211.69 341.65,211.04 343.2,210.56 344.79,210.21 346.41,209.96 348.05,209.81 349.71,209.73 351.37,209.73 353.03,209.81 354.67,209.96 356.29,210.21 357.88,210.56 359.43,211.04 360.93,211.69 362.38,212.55 363.77,213.7 365.08,215.24 366.32,217.31 367.47,220.11 368.53,223.92 369.5,229.11 370.36,236.17 371.12,245.66 371.77,258.07 372.31,273.51 372.73,291.13 373.03,308.52 373.21,321.73 373.27,326.73 M378.89,326.73 378.95,321.73 379.13,308.52 379.43,291.13 379.85,273.51 380.39,258.07 381.04,245.66 381.8,236.17 382.66,229.11 383.63,223.92 384.69,220.11 385.84,217.31 387.08,215.24 388.39,213.7 389.78,212.55 391.23,211.69 392.73,211.04 394.28,210.56 395.87,210.21 397.49,209.96 399.13,209.81 400.79,209.73 402.45,209.73 404.11,209.81 404.94,209.87" stroke="#2b2b2b" stroke-width="1" fill="none" stroke-linejoin="round"/>
<path d="M262.06,212.12 262.72,212.55 264.1,213.7 265.42,215.24 266.66,217.31 267.81,220.11 268.87,223.92 269.84,229.11 270.7,236.17 271.46,245.66 272.11,258.07 272.65,273.51 273.07,291.13 273.37,308.52 273.55,321.73 273.61,326.73 M279.23,326.73 279.29,321.73 279.47,308.52 279.77,291.13 280.19,273.51 280.73,258.07 281.37,245.66 282.13,236.17 283,229.11 283.96,223.92 285.03,220.11 286.18,217.31 287.42,215.24 288.73,213.7 290.12,212.55 291.56,211.69 293.07,211.04 294.62,210.56 296.21,210.21 297.83,209.96 299.47,209.81 301.13,209.73 302.79,209.73 304.44,209.81 306.09,209.96 307.71,210.21 309.3,210.56 310.85,211.04 312.35,211.69 313.8,212.55 315.19,213.7 316.5,215.24 317.74,217.31 318.89,220.11 319.95,223.92 320.92,229.11 321.78,236.17 322.54,245.66 323.19,258.07 323.73,273.51 324.15,291.13 324.45,308.52 324.63,321.73 324.69,326.73 M330.31,326.73 330.37,321.73 330.55,308.52 330.85,291.13 331.27,273.51 331.81,258.07 332.46,245.66 333.22,236.17 334.08,229.11 335.05,223.92 336.11,220.11 337.26,217.31 338.5,215.24 339.81,213.7 341.2,212.55 342.64,211.69 344.15,211.04 345.7,210.56 347.29,210.21 348.91,209.96 350.55,209.81 352.21,209.73 353.87,209.73 355.53,209.81 357.17,209.96 358.79,210.21 360.38,210.56 361.93,211.04 363.43,211.69 364.88,212.55 366.27,213.7 367.58,215.24 368.82,217.31 369.97,220.11 371.03,223.92 372,229.11 372.86,236.17 373.62,245.66 374.27,258.07 374.81,273.51 375.23,291.13 375.53,308.52 375.71,321.73 375.77,326.73 M381.39,326.73 381.45,321.73 381.63,308.52 381.93,291.13 382.35,273.51 382.89,258.07 383.54,245.66 384.3,236.17 385.16,229.11 386.13,223.92 387.19,220.11 388.34,217.31 389.58,215.24 390.89,213.7 392.28,212.55 393.73,211.69 395.23,211.04 396.78,210.56 398.37,210.21 399.99,209.96 401.63,209.81 403.29,209.73 404.94,209.73" stroke="#2222ff" stroke-width="1" fill="none" stroke-linejoin="round"/>
<path d="M262.06,211.26 262.99,211.69 264.43,212.55 265.82,213.7 267.13,215.24 268.37,217.31 269.52,220.11 270.58,223.92 271.55,229.11 272.42,236.17 273.18,245.66 273.82,258.07 274.36,273.51 274.78,291.13 275.08,308.52 275.26,321.73 275.32,326.73 M280.94,326.73 281,321.73 281.18,308.52 281.48,291.13 281.9,273.51 282.44,258.07 283.09,245.66 283.85,236.17 284.71,229.11 285.68,223.92 286.74,220.11 287.89,217.31 289.13,215.24 290.45,213.7 291.83,212.55 293.28,211.69 294.78,211.04 296.33,210.56 297.92,210.21 299.54,209.96 301.19,209.81 302.84,209.73 304.5,209.73 306.16,209.81 307.8,209.96 309.42,210.21 311.01,210.56 312.56,211.04 314.07,211.69 315.52,212.55 316.9,213.7 318.21,215.24 319.45,217.31 320.6,220.11 321.67,223.92 322.63,229.11 323.5,236.17 324.26,245.66 324.91,258.07 325.44,273.51 325.86,291.13 326.16,308.52 326.35,321.73 326.41,326.73 M332.02,326.73 332.08,321.73 332.26,308.52 332.56,291.13 332.98,273.51 333.52,258.07 334.17,245.66 334.93,236.17 335.79,229.11 336.76,223.92 337.82,220.11 338.98,217.31 340.21,215.24 341.53,213.7 342.91,212.55 344.36,211.69 345.86,211.04 347.41,210.56 349,210.21 350.62,209.96 352.27,209.81 353.92,209.73 355.58,209.73 357.24,209.81 358.88,209.96 360.5,210.21 362.09,210.56 363.65,211.04 365.15,211.69 366.6,212.55 367.98,213.7 369.3,215.24 370.53,217.31 371.69,220.11 372.75,223.92 373.71,229.11 374.58,236.17 375.34,245.66 375.99,258.07 376.52,273.51 376.94,291.13 377.24,308.52 377.43,321.73 377.49,326.73 M383.1,326.73 383.16,321.73 383.34,308.52 383.65,291.13 384.07,273.51 384.6,258.07 385.25,245.66 386.01,236.17 386.88,229.11 387.84,223.92 388.9,220.11 390.06,217.31 391.29,215.24 392.61,213.7 393.99,212.55 395.44,211.69 396.94,211.04 398.5,210.56 400.09,210.21 401.71,209.96 403.35,209.81 404.94,209.73" stroke="#ff2020" stroke-width="1" fill="none" stroke-linejoin="round"/>
<rect x="259.2" y="202.4" width="148.6" height="130.8" fill="none" stroke="#a0a0a0" stroke-width="1.1"/>
<path d="M262.06 333.2v-2.6 M262.06 202.4v2.6 M269.2 333.2v-1.5 M269.2 202.4v1.5 M276.35 333.2v-1.5 M276.35 202.4v1.5 M283.49 333.2v-1.5 M283.49 202.4v1.5 M290.63 333.2v-1.5 M290.63 202.4v1.5 M297.78 333.2v-2.6 M297.78 202.4v2.6 M304.92 333.2v-1.5 M304.92 202.4v1.5 M312.07 333.2v-1.5 M312.07 202.4v1.5 M319.21 333.2v-1.5 M319.21 202.4v1.5 M326.36 333.2v-1.5 M326.36 202.4v1.5 M333.5 333.2v-2.6 M333.5 202.4v2.6 M340.64 333.2v-1.5 M340.64 202.4v1.5 M347.79 333.2v-1.5 M347.79 202.4v1.5 M354.93 333.2v-1.5 M354.93 202.4v1.5 M362.08 333.2v-1.5 M362.08 202.4v1.5 M369.22 333.2v-2.6 M369.22 202.4v2.6 M376.37 333.2v-1.5 M376.37 202.4v1.5 M383.51 333.2v-1.5 M383.51 202.4v1.5 M390.65 333.2v-1.5 M390.65 202.4v1.5 M397.8 333.2v-1.5 M397.8 202.4v1.5 M404.94 333.2v-2.6 M404.94 202.4v2.6 M259.2 204.86h1.5 M407.8 204.86h-1.5 M259.2 209.2h2.6 M407.8 209.2h-2.6 M259.2 213.54h1.5 M407.8 213.54h-1.5 M259.2 217.88h1.5 M407.8 217.88h-1.5 M259.2 222.22h1.5 M407.8 222.22h-1.5 M259.2 226.56h2.6 M407.8 226.56h-2.6 M259.2 230.9h1.5 M407.8 230.9h-1.5 M259.2 235.24h1.5 M407.8 235.24h-1.5 M259.2 239.58h1.5 M407.8 239.58h-1.5 M259.2 243.92h2.6 M407.8 243.92h-2.6 M259.2 248.26h1.5 M407.8 248.26h-1.5 M259.2 252.6h1.5 M407.8 252.6h-1.5 M259.2 256.94h1.5 M407.8 256.94h-1.5 M259.2 261.28h2.6 M407.8 261.28h-2.6 M259.2 265.62h1.5 M407.8 265.62h-1.5 M259.2 269.96h1.5 M407.8 269.96h-1.5 M259.2 274.3h1.5 M407.8 274.3h-1.5 M259.2 278.64h2.6 M407.8 278.64h-2.6 M259.2 282.98h1.5 M407.8 282.98h-1.5 M259.2 287.32h1.5 M407.8 287.32h-1.5 M259.2 291.66h1.5 M407.8 291.66h-1.5 M259.2 296h2.6 M407.8 296h-2.6 M259.2 300.34h1.5 M407.8 300.34h-1.5 M259.2 304.68h1.5 M407.8 304.68h-1.5 M259.2 309.02h1.5 M407.8 309.02h-1.5 M259.2 313.36h2.6 M407.8 313.36h-2.6 M259.2 317.7h1.5 M407.8 317.7h-1.5 M259.2 322.04h1.5 M407.8 322.04h-1.5 M259.2 326.38h1.5 M407.8 326.38h-1.5 M259.2 330.72h2.6 M407.8 330.72h-2.6" stroke="#858585" stroke-width="0.6" fill="none"/>
<text transform="translate(262.06 344.8) scale(0.68 1)" font-size="11" text-anchor="middle" fill="#151515" stroke="#151515" stroke-width="0.3">−10</text>
<text transform="translate(297.78 344.8) scale(0.68 1)" font-size="11" text-anchor="middle" fill="#151515" stroke="#151515" stroke-width="0.3">−5</text>
<text transform="translate(333.5 344.8) scale(0.68 1)" font-size="11" text-anchor="middle" fill="#151515" stroke="#151515" stroke-width="0.3">0</text>
<text transform="translate(369.22 344.8) scale(0.68 1)" font-size="11" text-anchor="middle" fill="#151515" stroke="#151515" stroke-width="0.3">5</text>
<text transform="translate(404.94 344.8) scale(0.68 1)" font-size="11" text-anchor="middle" fill="#151515" stroke="#151515" stroke-width="0.3">10</text>
<text transform="translate(256.9 212.24) scale(0.68 1)" font-size="11" text-anchor="end" fill="#151515" stroke="#151515" stroke-width="0.3">0</text>
<text transform="translate(256.9 229.6) scale(0.68 1)" font-size="11" text-anchor="end" fill="#151515" stroke="#151515" stroke-width="0.3">−20</text>
<text transform="translate(256.9 246.96) scale(0.68 1)" font-size="11" text-anchor="end" fill="#151515" stroke="#151515" stroke-width="0.3">−40</text>
<text transform="translate(256.9 264.32) scale(0.68 1)" font-size="11" text-anchor="end" fill="#151515" stroke="#151515" stroke-width="0.3">−60</text>
<text transform="translate(256.9 281.68) scale(0.68 1)" font-size="11" text-anchor="end" fill="#151515" stroke="#151515" stroke-width="0.3">−80</text>
<text transform="translate(256.9 299.04) scale(0.68 1)" font-size="11" text-anchor="end" fill="#151515" stroke="#151515" stroke-width="0.3">−100</text>
<text transform="translate(256.9 316.4) scale(0.68 1)" font-size="11" text-anchor="end" fill="#151515" stroke="#151515" stroke-width="0.3">−120</text>
<text transform="translate(256.9 333.76) scale(0.68 1)" font-size="11" text-anchor="end" fill="#151515" stroke="#151515" stroke-width="0.3">−140</text>
<path d="M415.9 256.1H424.2" stroke="#333" stroke-width="1.6"/>
<text transform="translate(428.5 259.54) scale(0.68 1)" font-size="11" text-anchor="start" fill="#151515" stroke="#151515" stroke-width="0.3">t=0</text>
<path d="M415.9 274.8H424.2" stroke="#2a2aff" stroke-width="1.6"/>
<text transform="translate(428.5 278.24) scale(0.68 1)" font-size="11" text-anchor="start" fill="#151515" stroke="#151515" stroke-width="0.3">t=1</text>
<path d="M415.9 293.2H424.2" stroke="#ff2a2a" stroke-width="1.6"/>
<text transform="translate(428.5 296.64) scale(0.68 1)" font-size="11" text-anchor="start" fill="#151515" stroke="#151515" stroke-width="0.3">t=2</text>
<path d="M488.3 208.5H633.6 M560.95 201.8V330.6" stroke="#d4d4d4" stroke-width="0.8" fill="none"/>
<path d="M491.09,213.6 491.73,214.41 492.94,216.44 494.07,219.18 495.11,222.91 496.05,228 496.9,234.93 497.64,244.25 498.28,256.44 498.8,271.63 499.21,288.98 499.51,306.12 499.69,319.15 499.74,324.08 M505.22,324.08 505.28,319.15 505.45,306.12 505.75,288.98 506.16,271.63 506.68,256.44 507.32,244.25 508.06,234.93 508.91,228 509.85,222.91 510.89,219.18 512.02,216.44 513.23,214.41 514.52,212.9 515.87,211.78 517.29,210.93 518.76,210.3 520.27,209.83 521.83,209.48 523.42,209.24 525.02,209.09 526.64,209.02 528.27,209.02 529.89,209.09 531.49,209.24 533.08,209.48 534.63,209.83 536.15,210.3 537.62,210.93 539.04,211.78 540.39,212.9 541.68,214.41 542.89,216.44 544.02,219.18 545.05,222.91 546,228 546.85,234.93 547.59,244.25 548.22,256.44 548.75,271.63 549.16,288.98 549.45,306.12 549.63,319.15 549.69,324.08 M555.16,324.08 555.22,319.15 555.4,306.12 555.7,288.98 556.11,271.63 556.63,256.44 557.27,244.25 558.01,234.93 558.86,228 559.8,222.91 560.84,219.18 561.97,216.44 563.18,214.41 564.46,212.9 565.82,211.78 567.23,210.93 568.7,210.3 570.22,209.83 571.78,209.48 573.36,209.24 574.97,209.09 576.59,209.02 578.21,209.02 579.83,209.09 581.44,209.24 583.03,209.48 584.58,209.83 586.1,210.3 587.57,210.93 588.99,211.78 590.34,212.9 591.63,214.41 592.84,216.44 593.96,219.18 595,222.91 595.95,228 596.79,234.93 597.54,244.25 598.17,256.44 598.7,271.63 599.11,288.98 599.4,306.12 599.58,319.15 599.64,324.08 M605.11,324.08 605.17,319.15 605.35,306.12 605.64,288.98 606.05,271.63 606.58,256.44 607.21,244.25 607.96,234.93 608.8,228 609.75,222.91 610.79,219.18 611.91,216.44 613.12,214.41 614.41,212.9 615.76,211.78 617.18,210.93 618.65,210.3 620.17,209.83 621.72,209.48 623.31,209.24 624.92,209.09 626.54,209.02 628.16,209.02 629.78,209.09 630.81,209.18" stroke="#2b2b2b" stroke-width="1" fill="none" stroke-linejoin="round"/>
<path d="M491.09,211.35 491.75,211.78 493.1,212.9 494.39,214.41 495.6,216.44 496.72,219.18 497.76,222.91 498.71,228 499.55,234.93 500.3,244.25 500.93,256.44 501.46,271.63 501.87,288.98 502.16,306.12 502.34,319.15 502.4,324.08 M507.87,324.08 507.93,319.15 508.11,306.12 508.4,288.98 508.81,271.63 509.34,256.44 509.97,244.25 510.72,234.93 511.56,228 512.51,222.91 513.55,219.18 514.67,216.44 515.88,214.41 517.17,212.9 518.52,211.78 519.94,210.93 521.41,210.3 522.93,209.83 524.48,209.48 526.07,209.24 527.68,209.09 529.3,209.02 530.92,209.02 532.54,209.09 534.15,209.24 535.73,209.48 537.29,209.83 538.81,210.3 540.28,210.93 541.69,211.78 543.05,212.9 544.33,214.41 545.54,216.44 546.67,219.18 547.71,222.91 548.65,228 549.5,234.93 550.24,244.25 550.88,256.44 551.4,271.63 551.81,288.98 552.11,306.12 552.29,319.15 552.35,324.08 M557.82,324.08 557.88,319.15 558.06,306.12 558.35,288.98 558.76,271.63 559.29,256.44 559.92,244.25 560.66,234.93 561.51,228 562.45,222.91 563.49,219.18 564.62,216.44 565.83,214.41 567.12,212.9 568.47,211.78 569.89,210.93 571.36,210.3 572.88,209.83 574.43,209.48 576.02,209.24 577.62,209.09 579.24,209.02 580.87,209.02 582.49,209.09 584.09,209.24 585.68,209.48 587.24,209.83 588.75,210.3 590.22,210.93 591.64,211.78 592.99,212.9 594.28,214.41 595.49,216.44 596.62,219.18 597.66,222.91 598.6,228 599.45,234.93 600.19,244.25 600.83,256.44 601.35,271.63 601.76,288.98 602.06,306.12 602.23,319.15 602.29,324.08 M607.77,324.08 607.82,319.15 608,306.12 608.3,288.98 608.71,271.63 609.23,256.44 609.87,244.25 610.61,234.93 611.46,228 612.4,222.91 613.44,219.18 614.57,216.44 615.78,214.41 617.06,212.9 618.42,211.78 619.83,210.93 621.31,210.3 622.82,209.83 624.38,209.48 625.96,209.24 627.57,209.09 629.19,209.02 630.81,209.02" stroke="#2222ff" stroke-width="1" fill="none" stroke-linejoin="round"/>
<path d="M491.09,210.6 491.8,210.93 493.21,211.78 494.57,212.9 495.85,214.41 497.06,216.44 498.19,219.18 499.23,222.91 500.17,228 501.02,234.93 501.76,244.25 502.4,256.44 502.92,271.63 503.33,288.98 503.63,306.12 503.81,319.15 503.87,324.08 M509.34,324.08 509.4,319.15 509.58,306.12 509.87,288.98 510.28,271.63 510.81,256.44 511.44,244.25 512.18,234.93 513.03,228 513.97,222.91 515.01,219.18 516.14,216.44 517.35,214.41 518.64,212.9 519.99,211.78 521.41,210.93 522.88,210.3 524.4,209.83 525.95,209.48 527.54,209.24 529.14,209.09 530.76,209.02 532.39,209.02 534.01,209.09 535.61,209.24 537.2,209.48 538.76,209.83 540.27,210.3 541.74,210.93 543.16,211.78 544.51,212.9 545.8,214.41 547.01,216.44 548.14,219.18 549.18,222.91 550.12,228 550.97,234.93 551.71,244.25 552.35,256.44 552.87,271.63 553.28,288.98 553.58,306.12 553.75,319.15 553.81,324.08 M559.29,324.08 559.34,319.15 559.52,306.12 559.82,288.98 560.23,271.63 560.75,256.44 561.39,244.25 562.13,234.93 562.98,228 563.92,222.91 564.96,219.18 566.09,216.44 567.3,214.41 568.58,212.9 569.94,211.78 571.35,210.93 572.83,210.3 574.34,209.83 575.9,209.48 577.48,209.24 579.09,209.09 580.71,209.02 582.33,209.02 583.95,209.09 585.56,209.24 587.15,209.48 588.7,209.83 590.22,210.3 591.69,210.93 593.11,211.78 594.46,212.9 595.75,214.41 596.96,216.44 598.08,219.18 599.12,222.91 600.07,228 600.91,234.93 601.66,244.25 602.29,256.44 602.82,271.63 603.23,288.98 603.52,306.12 603.7,319.15 603.76,324.08 M609.23,324.08 609.29,319.15 609.47,306.12 609.76,288.98 610.17,271.63 610.7,256.44 611.33,244.25 612.08,234.93 612.92,228 613.87,222.91 614.91,219.18 616.04,216.44 617.24,214.41 618.53,212.9 619.89,211.78 621.3,210.93 622.77,210.3 624.29,209.83 625.84,209.48 627.43,209.24 629.04,209.09 630.66,209.02 630.81,209.01" stroke="#ff2020" stroke-width="1" fill="none" stroke-linejoin="round"/>
<rect x="488.3" y="201.8" width="145.3" height="128.8" fill="none" stroke="#a0a0a0" stroke-width="1.1"/>
<path d="M491.09 330.6v-2.6 M491.09 201.8v2.6 M498.08 330.6v-1.5 M498.08 201.8v1.5 M505.07 330.6v-1.5 M505.07 201.8v1.5 M512.05 330.6v-1.5 M512.05 201.8v1.5 M519.04 330.6v-1.5 M519.04 201.8v1.5 M526.02 330.6v-2.6 M526.02 201.8v2.6 M533.01 330.6v-1.5 M533.01 201.8v1.5 M539.99 330.6v-1.5 M539.99 201.8v1.5 M546.98 330.6v-1.5 M546.98 201.8v1.5 M553.96 330.6v-1.5 M553.96 201.8v1.5 M560.95 330.6v-2.6 M560.95 201.8v2.6 M567.94 330.6v-1.5 M567.94 201.8v1.5 M574.92 330.6v-1.5 M574.92 201.8v1.5 M581.91 330.6v-1.5 M581.91 201.8v1.5 M588.89 330.6v-1.5 M588.89 201.8v1.5 M595.88 330.6v-2.6 M595.88 201.8v2.6 M602.86 330.6v-1.5 M602.86 201.8v1.5 M609.85 330.6v-1.5 M609.85 201.8v1.5 M616.83 330.6v-1.5 M616.83 201.8v1.5 M623.82 330.6v-1.5 M623.82 201.8v1.5 M630.81 330.6v-2.6 M630.81 201.8v2.6 M488.3 204.26h1.5 M633.6 204.26h-1.5 M488.3 208.5h2.6 M633.6 208.5h-2.6 M488.3 212.74h1.5 M633.6 212.74h-1.5 M488.3 216.98h1.5 M633.6 216.98h-1.5 M488.3 221.22h1.5 M633.6 221.22h-1.5 M488.3 225.46h2.6 M633.6 225.46h-2.6 M488.3 229.7h1.5 M633.6 229.7h-1.5 M488.3 233.94h1.5 M633.6 233.94h-1.5 M488.3 238.18h1.5 M633.6 238.18h-1.5 M488.3 242.42h2.6 M633.6 242.42h-2.6 M488.3 246.66h1.5 M633.6 246.66h-1.5 M488.3 250.9h1.5 M633.6 250.9h-1.5 M488.3 255.14h1.5 M633.6 255.14h-1.5 M488.3 259.38h2.6 M633.6 259.38h-2.6 M488.3 263.62h1.5 M633.6 263.62h-1.5 M488.3 267.86h1.5 M633.6 267.86h-1.5 M488.3 272.1h1.5 M633.6 272.1h-1.5 M488.3 276.34h2.6 M633.6 276.34h-2.6 M488.3 280.58h1.5 M633.6 280.58h-1.5 M488.3 284.82h1.5 M633.6 284.82h-1.5 M488.3 289.06h1.5 M633.6 289.06h-1.5 M488.3 293.3h2.6 M633.6 293.3h-2.6 M488.3 297.54h1.5 M633.6 297.54h-1.5 M488.3 301.78h1.5 M633.6 301.78h-1.5 M488.3 306.02h1.5 M633.6 306.02h-1.5 M488.3 310.26h2.6 M633.6 310.26h-2.6 M488.3 314.5h1.5 M633.6 314.5h-1.5 M488.3 318.74h1.5 M633.6 318.74h-1.5 M488.3 322.98h1.5 M633.6 322.98h-1.5 M488.3 327.22h2.6 M633.6 327.22h-2.6" stroke="#858585" stroke-width="0.6" fill="none"/>
<text transform="translate(491.09 342.2) scale(0.68 1)" font-size="11" text-anchor="middle" fill="#151515" stroke="#151515" stroke-width="0.3">−10</text>
<text transform="translate(526.02 342.2) scale(0.68 1)" font-size="11" text-anchor="middle" fill="#151515" stroke="#151515" stroke-width="0.3">−5</text>
<text transform="translate(560.95 342.2) scale(0.68 1)" font-size="11" text-anchor="middle" fill="#151515" stroke="#151515" stroke-width="0.3">0</text>
<text transform="translate(595.88 342.2) scale(0.68 1)" font-size="11" text-anchor="middle" fill="#151515" stroke="#151515" stroke-width="0.3">5</text>
<text transform="translate(630.81 342.2) scale(0.68 1)" font-size="11" text-anchor="middle" fill="#151515" stroke="#151515" stroke-width="0.3">10</text>
<text transform="translate(486 211.54) scale(0.68 1)" font-size="11" text-anchor="end" fill="#151515" stroke="#151515" stroke-width="0.3">0</text>
<text transform="translate(486 228.5) scale(0.68 1)" font-size="11" text-anchor="end" fill="#151515" stroke="#151515" stroke-width="0.3">−20</text>
<text transform="translate(486 245.46) scale(0.68 1)" font-size="11" text-anchor="end" fill="#151515" stroke="#151515" stroke-width="0.3">−40</text>
<text transform="translate(486 262.42) scale(0.68 1)" font-size="11" text-anchor="end" fill="#151515" stroke="#151515" stroke-width="0.3">−60</text>
<text transform="translate(486 279.38) scale(0.68 1)" font-size="11" text-anchor="end" fill="#151515" stroke="#151515" stroke-width="0.3">−80</text>
<text transform="translate(486 296.34) scale(0.68 1)" font-size="11" text-anchor="end" fill="#151515" stroke="#151515" stroke-width="0.3">−100</text>
<text transform="translate(486 313.3) scale(0.68 1)" font-size="11" text-anchor="end" fill="#151515" stroke="#151515" stroke-width="0.3">−120</text>
<text transform="translate(486 330.26) scale(0.68 1)" font-size="11" text-anchor="end" fill="#151515" stroke="#151515" stroke-width="0.3">−140</text>
<path d="M641.9 254.7H650" stroke="#333" stroke-width="1.6"/>
<text transform="translate(654.4 258.14) scale(0.66 1)" font-size="11" text-anchor="start" fill="#151515" stroke="#151515" stroke-width="0.3">t=0</text>
<path d="M641.9 273.1H650" stroke="#2a2aff" stroke-width="1.6"/>
<text transform="translate(654.4 276.54) scale(0.66 1)" font-size="11" text-anchor="start" fill="#151515" stroke="#151515" stroke-width="0.3">t=1</text>
<path d="M641.9 291.5H650" stroke="#ff2a2a" stroke-width="1.6"/>
<text transform="translate(654.4 294.94) scale(0.66 1)" font-size="11" text-anchor="start" fill="#151515" stroke="#151515" stroke-width="0.3">t=2</text>
<path d="M214 76.5h2M214 78.6h2M214 80.6h2" stroke="#c58cf0" stroke-width="0.7" opacity="0.7"/>
<text x="114.7" y="591" font-family="'Liberation Serif',serif" font-weight="bold" font-size="18.2" text-anchor="middle" fill="#000">(a)</text>
<text x="355.8" y="591" font-family="'Liberation Serif',serif" font-weight="bold" font-size="18.2" text-anchor="middle" fill="#000">(b)</text>
<text x="568" y="591" font-family="'Liberation Serif',serif" font-weight="bold" font-size="18.2" text-anchor="middle" fill="#000">(c)</text>
</svg></body></html>
